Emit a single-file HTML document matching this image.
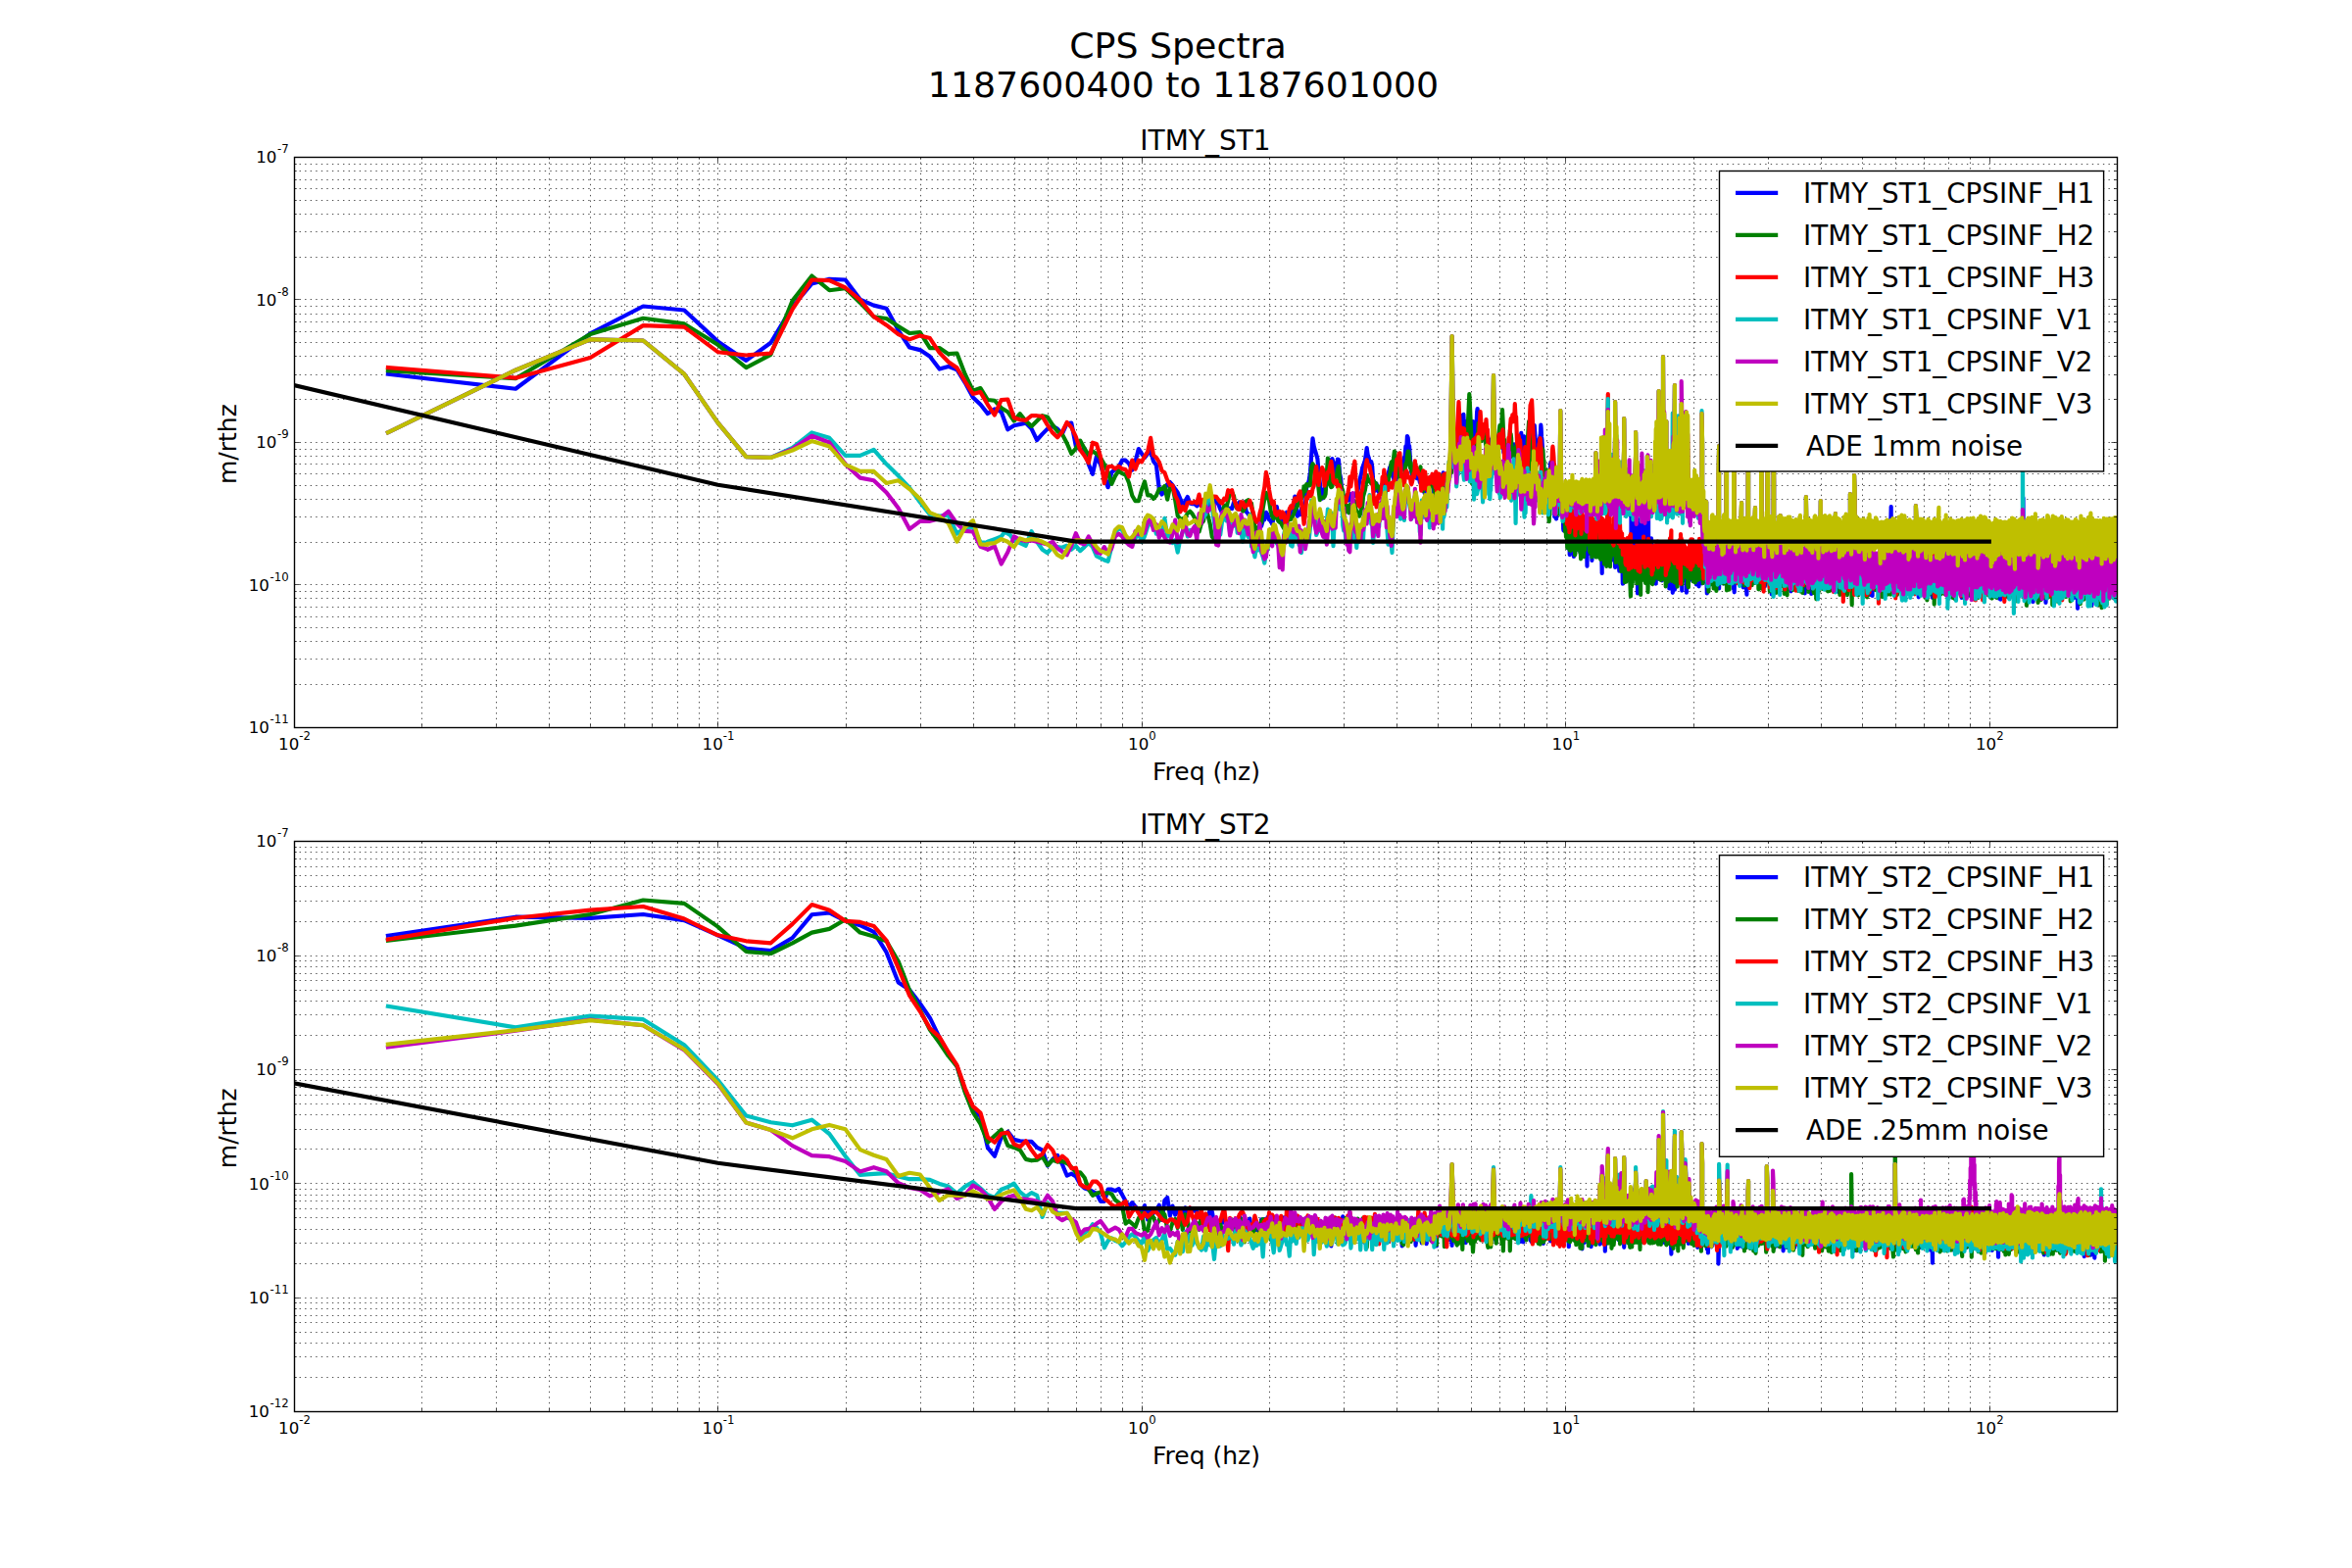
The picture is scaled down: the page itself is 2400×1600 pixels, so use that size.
<!DOCTYPE html>
<html><head><meta charset="utf-8"><title>CPS Spectra</title>
<style>html,body{margin:0;padding:0;background:#fff}svg{display:block}text{font-family:'DejaVu Sans','Liberation Sans',sans-serif;fill:#000}.g{stroke:#000;stroke-width:.69;stroke-dasharray:1.39 4.17;fill:none}.t{stroke:#000;stroke-width:.69;fill:none}.c{fill:none;stroke-width:4.17;stroke-linejoin:round;stroke-linecap:square}.tk{font-size:16.67px}.sp{font-size:11.67px}.lg{font-size:27.78px}</style></head><body>
<svg width="2400" height="1600" viewBox="0 0 2400 1600">
<rect width="2400" height="1600" fill="#fff"/>
<defs><clipPath id="c1"><rect x="300" y="160" width="1860" height="581.82"/></clipPath><clipPath id="c2"><rect x="300" y="858.18" width="1860" height="581.82"/></clipPath></defs>
<text x="1202" y="59.2" text-anchor="middle" font-size="36.3px">CPS Spectra</text>
<text x="1207.5" y="99.3" text-anchor="middle" font-size="36.3px">1187600400 to 1187601000</text>
<path class="g" d="M430.5 160V741.82M506.5 160V741.82M560.5 160V741.82M602.5 160V741.82M637.5 160V741.82M665.5 160V741.82M691.5 160V741.82M713.5 160V741.82M732.5 160V741.82M863.5 160V741.82M939.5 160V741.82M993.5 160V741.82M1035.5 160V741.82M1069.5 160V741.82M1098.5 160V741.82M1123.5 160V741.82M1145.5 160V741.82M1165.5 160V741.82M1295.5 160V741.82M1371.5 160V741.82M1425.5 160V741.82M1467.5 160V741.82M1501.5 160V741.82M1530.5 160V741.82M1555.5 160V741.82M1578.5 160V741.82M1597.5 160V741.82M1728.5 160V741.82M1804.5 160V741.82M1858.5 160V741.82M1900.5 160V741.82M1934.5 160V741.82M1963.5 160V741.82M1988.5 160V741.82M2010.5 160V741.82M2030.5 160V741.82M300 698.5H2160M300 672.5H2160M300 654.5H2160M300 640.5H2160M300 629.5H2160M300 619.5H2160M300 610.5H2160M300 603.5H2160M300 596.5H2160M300 553.5H2160M300 527.5H2160M300 509.5H2160M300 495.5H2160M300 483.5H2160M300 473.5H2160M300 465.5H2160M300 458.5H2160M300 451.5H2160M300 407.5H2160M300 382.5H2160M300 363.5H2160M300 349.5H2160M300 338.5H2160M300 328.5H2160M300 320.5H2160M300 312.5H2160M300 305.5H2160M300 262.5H2160M300 236.5H2160M300 218.5H2160M300 204.5H2160M300 192.5H2160M300 183.5H2160M300 174.5H2160M300 167.5H2160"/>
<g clip-path="url(#c1)">
<path class="c" stroke="#0000ff" d="M395.9 381.7l130.2 15l76.2 -56.3l54 -27.9l41.9 4l34.3 31.9l28.9 19.5l25.1 -18.1l22.1 -36.9l19.8 -23.4l17.9 -4.7l16.3 .7l15.1 20.1l13.9 6l12.9 3.1l12.2 22.4l11.4 17.4l10.7 2.6l10.1 6.7l9.7 12.8l9.1 -2.7l8.8 3.3l8.3 13.4l8 14.8l7.7 7.3l7.4 9.4l7 -4.7l6.8 2.8l6.6 18.1l6.4 -4.1l6.1 -1.3l5.9 -1.3l5.9 6l5.5 11.4l5.5 -6.1l5.2 -5.3l5.3 -2.7l4.9 2.7l4.8 5.3l4.9 -10.7l4.6 -.6l4.5 23.4l4.4 4l4.4 -1.3l4.2 16l4.1 10.1l4 -18.1l4 8l3.9 13.4l3.8 10.1l3.7 -15.4l3.6 -2.7l3.7 -2.7l3.4 -6.7l3.5 0l3.5 3.4l3.3 6.5l3.2 -8.4l3.3 -13.2l3.1 4.7l3.1 4.4l3.1 -4.2l3 -2.8l2.9 10.6l2.9 3.9l2.9 24.3l2.8 5.6l2.8 -5.6l2.8 -4.8l2.7 -2.1l2.6 3.1l2.7 4l2.5 3.4l2.6 6.2l2.5 7.5l2.5 -4.8l2.5 -4.4l2.4 6.5l2.4 .7l2.3 0l2.4 2.1l2.3 -1.9l2.3 -.7l2.2 0l2.2 3.5l2.2 1.5l2.2 -6.4l2.1 -5l2.2 1.8l2.1 4.4l2 .3l2.1 5.7l2 4.5l2 -1l2 -3.8l2 1.5l1.9 -2.2l2 .6l1.9 -6.5l1.8 2.6l1.9 .2l1.9 -2.9l1.8 3.7l1.8 -.6l1.8 -3.1l1.8 9.9l1.8 1.8l1.7 2.9l1.7 4.3l1.7 7.4l1.7 -1.2l1.7 10.3l1.7 -3.3l1.7 -10.5l1.6 2.9l1.6 -5.8l1.6 -.8l1.6 -7.6l1.6 2.1l1.6 5.6l1.5 .8l1.6 3.5l1.5 -7.1l1.5 -3.2l1.6 -7.4l1.5 9.6l1.4 3.3l1.5 -1.7l1.5 2.1l1.4 1.5l1.5 1.3l1.4 -10.5l1.4 7.1l1.4 -1.6l1.4 -2l1.4 -9.4l1.4 -1l1.3 -9.2l1.4 11.6l1.3 8.4l1.4 -2.6l1.3 1l1.3 -6.3l1.3 1.4l1.3 .6l1.3 -5.1l1.3 -18.4l1.3 -3.4l1.2 -3.2l1.3 -8.9l1.2 -17.2l1.3 -17.1l1.2 7.9l1.2 4.2l1.3 4.4l1.2 4.2l1.2 14l1.2 10.4l1.1 9.3l1.2 6.9l1.2 -7.8l1.2 -2.3l1.1 .5l1.2 -10.4l1.1 -10.5l1.1 1.7l1.2 -9.1l1.1 -1.5l1.1 -1.2l1.1 3.5l1.1 1.9l1.1 9.7l1.1 -.4l1.1 -14.2l1.1 .6l1 13.6l1.1 5.4l1 11.4l1.1 4.7l1 2.3l1.1 3.4l1 -2.5l1 3.4l1.1 -3.3l1 2.9l1 -6.7l1 1.1l1 5.2l1 -5.7l1 2l1 -1.7l1 .9l.9 -3.1l1 -.8l1 -4.9l.9 -5.6l1 -4.3l.9 -3.4l1 -6l.9 -2.3l1 -2.7l.9 -3l.9 -5.8l.9 -6.7l1 7.2l.9 2.6l.9 4.2l.9 .1l.9 -.1l.9 5l.9 13.5l.9 1.5l.9 6.9l.8 2.7l.9 -7.1l.9 5.3l.9 2l.8 1.8l.9 -.7l.8 -1.7l.9 -.7l.8 -5.6l.9 3.3l.8 -2.3l.9 .1l.8 -4.7l.8 .3l.8 -2.3l.9 -4.5l.8 -2.9l.8 -3.6l.8 -1.8l.8 3.6l.8 1.8l.8 5.4l.8 1.6l.8 4.4l.8 -5.7l.8 5.1l.8 -6.5l.8 -1.5l.7 .1l.8 -2.7l.8 1.1l.7 -4.2l.8 -3l.8 -.8l.7 4.9l.8 -5.3l.7 -6.9l.8 -1.7l.7 -9.9l.8 4.8l.7 -15.1l.8 1.7l.7 7.3l.7 1.1l.8 12.3l.7 9.1l.7 5.4l.7 2.6l.7 2.4l.8 -2.1l.7 .9l.7 -1.1l.7 2.6l.7 -4.5l.7 5.5l.7 -3.5l.7 -1.5l.7 4.7l.7 4.2l.7 -1.9l.7 6.5l.6 -.4l.7 -3.5l.7 -.7l.7 5.5l.7 5.6l.6 -15l.7 4.9l.7 1.4l.6 -2.6l.7 3.5l.6 -6.1l.7 13.1l.7 -8.6l.6 -7l.7 8.2l.6 -8.1l.7 -.7l.6 1.6l.6 -.4l.7 18.9l.6 -17.9l.7 1.3l.6 -6.6l.6 5.7l.7 10.7l.6 -10l.6 -1.5l.6 16.5l.7 -14.7l.6 .5l.6 -1.8l.6 -4l.6 4.9l.6 8.5l.6 -15.5l.6 10.3l.6 1.2l.6 1.1l.6 6.3l.6 -7.4l.6 -3.3l.6 -4.8l.6 -3.9l.6 8.2l.6 -8.9l.6 6.3l.6 -15.2l.6 -7l.6 .2l.5 -.3l.6 -4.8l.6 -2.8l.6 6.4l.5 -10.5l.6 18.7l.6 -11.1l.6 -7.1l.5 -8.6l.6 -1.8l.5 -3.4l.6 -1.9l.6 -2.4l.5 4.5l.6 1.6l.5 8.4l.6 -15.1l.5 -3.8l.6 -.4l.5 -.3l.6 -7.7l.5 -.2l.6 13.7l.5 -7.1l.6 2.9l.5 7.3l.5 -2.5l.6 -2.4l.5 .7l.5 -1l.6 5.7l.5 -5.5l.5 4.7l.6 7.7l.5 .1l.5 1.2l.5 .8l.5 -6.4l.6 -6.4l.5 -6.4l.5 6.3l.5 6.4l.5 6.3l.5 23.9l.6 -8.6l.5 -16.8l.5 -13.4l.5 -13.6l.5 -3.4l.5 4.4l.5 3l.5 1.8l.5 3.3l.5 1.3l.5 7l.5 -2.2l.5 .3l.5 11.8l.5 .3l.5 .1l.4 -5l.5 4.6l.5 0l.5 -10.7l.5 4.8l.5 -2.4l.5 9.3l.4 1.7l.5 6.5l.5 -4.1l.5 6.6l.4 6l.5 -4.4l.5 -7.2l.5 2.4l.4 -3.6l.5 4.1l.5 -6.5l.4 -2.8l.5 0l.5 -3.5l.4 2.1l.5 6.7l.5 .6l.4 4l.5 4.1l.4 2.3l.5 5.2l.5 3l.4 -3.8l.5 1.4l.4 -12.3l.5 -3.7l.4 0l.5 -8.1l.4 1.9l.5 -6.1l.4 -.8l.5 4.2l.4 .7l.5 5.8l.4 -.1l.4 5.7l.5 -6.2l.4 .5l.5 10.8l.4 -3.3l.4 -4.4l.5 4.7l.4 4.8l.4 1.5l.5 -2.6l.4 -1.3l.4 5.5l.5 1.5l.4 -11l.4 -3.5l.4 1.3l.5 -1l.4 -5.5l.4 7.9l.4 -2.3l.5 2.6l.4 6.3l.4 -8l.4 3.9l.4 -2.1l.5 2l.4 -5.6l.4 5.4l.4 11.6l.4 1.2l.4 .9l.4 -6.1l.4 .3l.5 8.1l.4 7.9l.4 3.5l.4 3.2l.4 -7.7l.4 1.3l.4 -6.7l.4 -7.4l.4 .2l.4 -12l.4 -9.5l.4 4.4l.4 -5.7l.4 -4.4l.4 5.7l.4 -.3l.4 11.5l.4 -8l.4 2.4l.4 -.4l.4 -7.4l.4 4.7l.3 -4.2l.4 5l.4 -.3l.4 5.6l.4 2.7l.4 2.6l.4 3l.4 -5.2l.3 6l.4 7.6l.4 -5.2l.4 -11.5l.4 7.1l.4 5l.3 21.9l.4 -2.5l.4 2.3l.4 3.1l.3 8l.4 -4.4l.4 1.2l.4 2l.3 -43.6l.4 -5.3l.4 -5.5l.4 -5.6l.3 -5.8l.4 5.9l.4 6l.3 6.1l.4 6.3l.4 5.9l.3 2.2l.4 -.2l.4 -3.5l.3 1.7l.4 -2.8l.4 -7.8l.3 6.8l.4 -4.8l.3 -8.2l.4 .2l.4 -3.5l.3 -1.4l.4 -9.3l.3 3.1l.4 8.7l.4 3.1l.3 4.8l.4 6.3l.3 14.5l.4 1.5l.3 6.1l.4 -1.7l.3 3.6l.4 .3l.3 3.9l.4 -2l.3 .4l.4 -1.2l.3 8.8l.4 2.9l.3 -.4l.4 .7l.3 -4.7l.4 -7.9l.3 4.1l.3 -4.7l.4 1.7l.3 -3.8l.4 2.1l.3 -1.5l.3 -8.3l.4 -2.4l.3 5.6l.4 1.9l.3 3.4l.3 .5l.4 -5.7l.3 17.1l.3 -2.4l.4 16.2l.3 -2.1l.3 13.7l.4 -1.8l.3 9.5l.3 -7l.4 4.9l.3 1.1l.3 1.1l.4 1.9l.3 -9.6l.3 -9.2l.3 3.8l.4 -6.7l.3 2.5l.3 -6.1l.3 -5.8l.4 11.9l.3 -2.2l.3 6.6l.3 -2.5l.4 8.8l.3 -10.1l.3 3.7l.3 -8.9l.3 8.6l.4 6.6l.3 -4.2l.3 5.3l.3 2.6l.3 -4.6l.4 19.7l.3 1.6l.3 -11l.3 -5.2l.3 6.2l.3 -6.1l.4 8.8l.3 3.3l.3 -6l.3 4.6l.3 3.1l.3 -10.9l.3 13.3l.3 -1.2l.3 2.5l.4 16.8l.3 -1.7l.3 -.4l.3 -9l.3 -4.7l.3 -5.6l.3 28l.3 -15.8l.3 -16.7l.3 -2l.3 10.7l.3 -10.2l.3 20.1l.3 7.7l.3 -10.4l.3 -3.4l.3 -6.6l.3 2.9l.3 3.8l.3 2.5l.3 19.3l.3 -19.3l.3 12.7l.3 -5.1l.3 -1.9l.3 -11.1l.3 .8l.3 4.9l.3 12.5l.3 -12.4l.3 -9.3l.3 3.9l.3 1l.3 8.4l.3 3.1l.3 -9l.3 -6.2l.2 10.8l.3 -5.3l.3 -5.7l.3 15.7l.3 -3.9l.3 10.7l.3 -5l.3 8.8l.3 -15l.2 -9.1l.3 4.2l.3 2.4l.3 -2.1l.3 15.2l.3 -3.2l.3 -11.3l.2 8.2l.3 -.1l.3 -3.4l.3 5.8l.3 -7.5l.3 -14.8l.2 14.6l.3 3.8l.3 -6.9l.3 1.3l.3 19l.2 -31.7l.3 16.3l.3 10.1l.3 14.8l.3 -31.5l.2 .9l.3 -10.7l.3 27.6l.3 -21.3l.2 2.6l.3 17.3l.6 -20.6v20.7l.8 -13.8v16.2l.8 -11.5v-4.5l.8 1.5v21.3l.8 -19.6v5.1l.8 -16.2v15.5l.9 -8.1v13.9l.8 -10.2v7.8l.7 -19v11.9l.8 .1v13l.8 -16.2v10l.8 -2v-9.6l.8 12.3v4.4l.8 -14.6v12.5l.8 -13.3v17l.7 -8.2v-9.9l.8 36.5v-34l.8 -4.8v4l.7 10.4v-7.2l.8 -.8v6.3l.8 3.7v-5.8l.7 -.3v13.2l.8 -14v11.3l.7 -6.7v-12.4l.8 14.6v-18.3l.7 10.1v-8.6l.8 22.4v-12.9l.7 5.1v12.8l.7 -2.8v-7l.8 -21.4v21.9l.7 -3.1v10.6l.7 -2.6v-13l.7 -3.1v8.9l.8 4.9v-13.3l.7 25.9v-33.9l.7 14.2v-5.2l.7 16.6v-14.8l.7 15.6v-20.6l.7 10.7v-10l.7 18.4v-5.2l.7 17.8v-20.2l.7 -1.6v12l.7 7v-10.7l.7 2.8v5l.7 5.6v-22.6l.7 35.8v-31.4l.7 24.6v-21.3l.7 4.1v-4.6l.7 16.5v-5.6l.6 7.8v-9.6l.7 -4.9v7.8l.7 1.9v-9.7l.7 3.7v-6.6l.6 15v-14.7l.7 9v14.6l.7 -10.1v-20.4l.6 19.4v-11.7l.7 17.5v-14.1l.6 6.4v-76.1l.7 87.3v-15.9l.6 11.5v-16.5l.7 -28.7v31.8l.6 2v-1.3l.7 7.4v-12.9l.6 -.1v21.6l.7 -89.8v73l.6 7.4v-18.5l.7 11.2v-42.6l.6 21.2v54.2l.6 -21v-54.4l.7 46.3v-4.4l.6 -16.9v29.4l.6 -11.2v-29.1l.6 30.5v-5.8l.7 2.8v-53.9l.6 67.1v-62.5l.6 53.7v-14.2l.6 3.7v22.6l.6 -18.3v11.3l.6 -6.9v3l.7 -14.6v12.9l.6 -51.9v45.1l.6 .6v1.9l.6 .3v15.5l.6 -12.6v-13.7l.6 26.7v-30.1l.6 -48.3v76.9l.6 -12v7.5l.6 -32.5v30.8l.6 -6.9v4.9l.6 -21.4v24.4l.5 -31.5v32.1l.6 -14v7.2l.6 .1v-10l.6 28.7v-25.4l.6 20v-10.7l.6 3.7v-13.1l.5 12.6v-14.1l.6 7.4v-2.9l.6 24.7v-27.4l.6 15.4v-13l.5 -.2v11l.6 7.1v-14.2l.6 12.1v4l.6 -16.3v-8.3l.5 23v-11.3l.6 0v13.7l.5 -9v6.9l.6 1.8v-11.7l.6 4v-16.8l.5 4.8v21.2l.6 -23v22l.5 -25.2v23.4l.6 -8.3v-17.3l.6 5.5v16.6l.7 -2.9v-6.6l.8 9.6v-16.3l.7 16.7v-16.5l.7 11.5v9.8l.7 2.5v-13.9l.8 12v-19.6l.7 -1.8v29.9l.7 -24.4v-2.3l.7 17.2v-19.8l.7 -3.8v18.7l.7 -11.3v17.7l.7 -14.3v26.6l.7 -41.7v18.1l.7 9.2v-20.3l.7 31.6v-27.5l.7 21.3v-26.5l.7 20.5v-18.2l.6 9.6v-5.7l.7 2.1v-7.6l.7 1.6v12l.7 .8v-22.8l.7 8.1v24.3l.6 .8v-23.8l.7 12v-13.6l.7 23.6v-25.7l.6 35.6v-28.3l.7 -12.9v30.8l.7 -10.1v-11.1l.6 15.7v-11.9l.7 8.6v-14.7l.6 23.8v-32.4l.7 21.4v-17.5l.6 9v31.7l.7 -20.6v-8.9l.6 10.9v-11.8l.7 -6.3v22l.6 -23.2v25.2l.6 -13.6v-7l.7 13.6v-2.3l.6 -15.5v20.5l.7 -13.6v13.9l.6 -10.6v9.7l.6 -10.3v16.1l.6 -5.6v-26.4l.7 8.7v21.4l.6 -10.1v7.3l.6 -21.1v24l.6 .9v-18.2l.6 -3.1v25.7l.6 -16.3v-4l.7 -6.5v13.9l.6 -12.3v11.1l.6 -9.4v25.4l.6 -16.6v-18.6l.6 6.6v16.1l.6 -22.7v18.5l.6 -1.1v-7.6l.6 22.4v-37.1l.6 10.1v21.3l.6 -15.7v5.2l.6 -1.1v6.1l.6 4.2v-12.1l.5 -6.8v19.9l.6 4.1v-18.9l.6 10.5v-15.8l.6 11.1v-4.2l.6 29.4v-26.7l.6 -12.5v24.2l.5 -6.2v-25.4l.6 12.7v10.9l.6 -7.7v12.6l.6 -18v21.1l.5 -2.5v-24.3l.6 -.5v19.6l.6 7.3v-16.1l.5 15.7v-23.1l.6 27.8v-13.7l.6 -11.2v6.7l.5 16.4v-17.1l.6 12.8v-19l.5 30.4v-34.7l.6 22.4v-11.4l.5 1.2v-9.7l.6 8.1v12.6l.6 -20v15.5l.7 1.6v-14l.7 7.7v-4.2l.7 -7.7v33.4l.6 -30.4v10.8l.7 11.1v-26.1l.7 27.6v-21.1l.7 -2.5v14.6l.6 -16.4v12.9l.7 -21v29.5l.7 6v-26.7l.6 -.3v12l.7 -12.4v21.5l.6 -14.1v14.6l.7 -6.3v-7.5l.6 -14.4v23.2l.7 -9.2v6l.6 3.2v-14.2l.7 10.3v-13.7l.6 7.2v8.2l.7 10.7v-23.5l.6 10.5v-8.4l.7 -1.4v5.7l.6 8.1v-6.9l.6 7.4v-17.7l.7 11.5v-14l.6 6.2v30.1l.6 -28v31.1l.6 -29.2v13.8l.7 -7v-16l.6 -7.5v18.9l.6 -16.7v22.9l.6 2.7v-31.9l.6 17.1v15.1l.6 -12.4v20l.6 -11.3v-13.2l.6 -.2v15.1l.7 -18v20.7l.6 -22.3v13.8l.6 12.2v-10.1l.6 -9.8v19.4l.6 1.7v-12.3l.6 19.6v-30.1l.6 22.5v-12.7l.5 9.6v-14.6l.6 -15.4v25.9l.6 -16.2v24.2l.6 -23.7v25.9l.6 11.9v-40.1l.6 5.7v13.9l.6 -5.8v-10l.5 9.2v-12.6l.6 -1.3v11.4l.6 9.2v-23l.6 10.5v16.9l.5 -16.6v16.9l.6 -2.5v-15.5l.6 11.8v-13.7l.6 -3.8v23.1l.5 .9v-17.9l.6 3.5v8l.5 -14.5v20.1l.6 -20.5v19.4l.6 -27.5v26.4l.5 -26v31.4l.6 -1.2v-16.3l.5 16.4v-18.7l.6 -.3v17.1l.6 -4v-15.2l.6 18.2v-14.2l.7 -9.2v16.2l.7 -.6v-12.1l.6 24.9v-26.7l.7 -3v19.5l.6 .7v-20.3l.7 10.1v9.1l.6 1.7v-23.8l.6 24.2v-8l.7 11.2v-13.7l.6 22.6v-29.4l.6 6.6v10.9l.7 -21v27.6l.6 -4.6v-15.9l.6 15.2v-24.2l.7 16.9v-13.5l.6 -2.5v21.7l.6 8.5v-19.3l.6 22.7v-30.1l.6 6.9v4.5l.7 14v-17.5l.6 30.7v-41.4l.6 21.8v-19.1l.6 6.3v10.6l.6 21.7v-37.4l.6 6.7v14.2l.6 4.7v-14.8l.6 -7.9v14.9l.6 -17.5v12.6l.6 -9.9v20.3l.6 -3.7v-24.4l.6 11.2v16.4l.6 -3.3v-12.4l.6 14.5v-14.9l.6 15.8v-15.4l.6 13.4v-16.6l.5 16.8v-20.5l.6 17.7v-19l.6 23.2v-20.7l.6 23.6v-22.7l.6 2.1v8.8l.5 12.1v-23.4l.6 20.3v-30.5l.6 38.3v-28.3l.6 -4.7v14.3l.5 -4.3v9.7l.6 -1.8v-10.9l.6 29.6v-30.1l.5 26v-24.8l.6 14.4v-16.4l.5 15.5v-18.8l.6 17v-15.4l.6 4v22.2l.5 -8.7v-14.7l.6 -.6v15.5l.5 15.6v-33.8l.6 11.8v-19l.7 11.1v14.7l.6 -15.9v14.9l.6 -26.4v24.9l.7 -14.8v27l.6 -7.6v-9.9l.6 -7.5v22.3l.7 -5.5v-20.7l.6 2.3v17.1l.6 -11.7v13.8l.6 .2v-17.7l.6 -4.8v15.9l.7 3.4v-19.7l.6 19v-14l.6 -4v24l.6 -23.2v12.7l.6 3v-17.9l.6 12.5v12.7l.6 -22.7v19.5l.6 -3.9v-13l.6 15.2v-17.5l.6 .6v17.7l.6 -11v28l.6 -13v-14.8l.6 11.4v-18.5l.6 -2v25.2l.6 -5.7v-20.2l.6 27.3v-19.2l.6 7.8v-21.6l.6 11.2v17.7l.5 -24.3v14.4l.6 -9.2v11.6l.6 -20.2v28.9l.6 13.7v-41.5l.6 28v-26l.5 24.7v-17.7l.6 9.3v-14.3l.6 10v15.2l.5 -7.4v-12.7l.6 -8.5v24l.6 -14.6v15.9l.5 -18v20.5l.6 -7.7v-8.6l.6 27v-29l.5 10.7v-21.2l.6 29.4v-28.1l.5 27.1v-16l.6 15.1v-20.3l.5 -1.7v15.3l.6 14.4v-30.4l.6 15.4v-16l.7 4.2v18.4l.6 -17v21.5l.6 -4.2v-20.2l.6 15.6v-15.9l.6 16.9v-12.8l.7 11v-13.2l.6 -1.5v17.9l.6 .2v-19.2l.6 4.5v22.2l.6 -12.6v-16.7l.6 11v15.9l.6 -16v18l.6 -20.2v10.1l.6 -11.6v13.3l.6 -16.5v22.5l.6 -18.9v16.8l.6 9.3v-30.6l.6 21v-27.7l.6 35.6v-20.2l.6 -7.4v27.7l.5 -27.6v17.6l.6 0v-20.7l.6 23.4v-19.4l.6 19.6v-24.2l.6 35.4v-36l.5 25.5v-28.1l.6 21.8v-11.5l.6 24.7v-25l.6 -9.4v26l.5 -20.2v15.7l.6 -19.3v36.5l.6 -31v11.5l.5 18.1v-31.3l.6 26.1v-27.5l.6 -.5v21.3l.5 -.9v-17.1l.6 18.3v-15.9l.5 19.2v-22.2l.6 23.6v-27.8l.5 26.9v-22.7l.6 2v9.5l.6 -23.8v29.9l.6 6.9v-27l.6 19.3v-23.5l.6 31.4v-24.4l.6 -.9v22.2l.6 2.4v-21.9l.6 -11.5v28.3l.6 .6v-17.1l.6 11v-15.8l.6 -.7v19.3l.6 4.3v-25.8l.6 18.5v-13.5l.6 30.1v-33.4l.6 5.3v26.8l.6 -36.1v30.5l.6 -26.8v25.8l.6 -24.7v28.4l.6 -34.6v33l.6 -5.8v-18l.6 -1.2v25.9l.5 -6.3v-30.6l.6 37.1v-31.4l.6 31.9v-30.4l.6 -3.4v30.3l.5 -22v21.2l.6 -19.3v19l.6 -27.1v25l.5 -20.3v24l.6 1.9v-25.4l.6 15.3v-23.4l.5 13.9v12.3l.6 -19.2v16.1l.6 -20.5v20l.5 -7.3v14.2l.6 8.4v-35.1l.5 36.6v-35.8l.6 6.7v16.1l.5 -10.5v21.6l.6 -27.5v25.4l.6 -26.1v17.6l.6 -19.1v25l.6 -22.9v28.1l.6 -16.9v-15.7l.6 3.9v16l.6 -17.2v35.6l.6 -32.3v19.1l.6 -22.5v22.8l.6 -26.1v29.3l.6 10.6v-39l.6 5.8v22l.6 .9v-25.5l.6 23.7v-23.5l.6 18.5v-20l.5 4.3v13.2l.6 1v-14.2l.6 .6v20.6l.6 -28.8v29l.6 -3.8v-16.2l.5 13v-19.9l.6 2v24.1l.6 -25.7v24.7l.5 -14v17l.6 -2.1v-22.8l.6 -1.2v24l.5 -1.3v-24.8l.6 33.7v-29.1l.5 18.5v-23.1l.6 .6v19.1l.6 13.7v-28.3l.5 -10.3v29.4l.6 -3.7v-17.5l.5 26.6v-25.6l.6 -6.1v26.4l.6 -1.7v-14.9l.6 12.9v-20.5l.6 1.3v26l.6 4v-26.5l.6 -8.2v28.7l.6 -27.2v24.6l.6 -2.3v-21.7l.6 33.1v-58.5l.6 -25.9v76.8l.5 8.4v-29.1l.6 22.6v-21.4l.6 -.5v16.9l.6 3v-16.5l.6 15.3v-24.1l.5 1.2v34.4l.6 -7.9v-25l.6 -3.2v30.1l.6 -2.6v-27.4l.5 29.2v-24.9l.6 -5.8v28.5l.6 -28.2v26.7l.5 -30v34.7l.6 1.8v-34.9l.6 38v-29.8l.5 4.8v13l.6 -15v25.1l.5 -26.6v27.4l.6 -29.2v21.7l.5 -27.8v33.8l.6 -25.8v18.8l.6 7.9v-25.8l.6 25.5v-23.7l.6 14.9v-19.6l.6 18.7v-20.1l.6 18.2v-19.3l.5 2.1v18.8l.6 -15.5v22.3l.6 -5.4v-18.9l.6 25.4v-25.8l.6 -5.2v36.9l.6 -40.8v29.7l.5 -.6v-23.4l.6 25.1v-26.2l.6 34v-28.8l.6 -3.5v35.2l.5 -17.5v-17.1l.6 -3.2v21.6l.6 -13.9v25.5l.6 -2.9v-30.3l.5 37.4v-41.9l.6 5.7v32.1l.5 -9.3v-19.1l.6 -1.1v26.9l.6 -24.9v23.8l.5 -27.7v32.2l.6 -31v25.8l.5 -5.1v-13.6l.6 -7.7v39l.6 -11.1v-26l.6 24.8v-26.3l.5 31.2v-28.1l.6 16.7v-23.5l.6 22.5v-21.1l.6 7.3v19.7l.6 -3.8v-23.3l.6 28.4v-21.7l.6 -4.5v26.5l.5 -6.3v-17.5l.6 -1.1v30.2l.6 -8.6v-19.6l.6 -4.4v20.2l.5 9.3v-25.6l.6 13.7v-18.7l.6 31.4v-28.8l.6 .9v22.3l.5 -20.9v21.3l.6 6.6v-31.7l.5 36.3v-32.1l.6 1.9v22.2l.6 -29.8v20l.5 11.3v-23.6l.6 16.9v-16.6l.5 33.8v-36.7l.6 -1.1v29.6l.5 -34.4v25.9l.6 11.9v-28.1l.6 21.9v-31l.6 1.7v22.9l.6 9.5v-33.8l.6 5.1v28.8l.5 -24.4v21.8l.6 5.1v-31.5l.6 -5.4v21.3l.6 -18.6v27.8l.6 -27.4v33l.5 -7.9v-27.5l.6 -5v40.3l.6 -30.8v24.1l.5 -24.4v29l.6 -30.4v20.4l.6 3.7v-25.3l.5 4.9v26.9l.6 -4v-24.1l.6 -3.8v24.7l.5 2.6v-23.2l.6 -7.4v32.5l.5 -2.4v-26.3l.6 .3v30.9l.5 -29v19.9l.6 7.6v-27.3l.6 .6v23.8l.6 4v-35.6l.6 9v19.5l.5 -22.5v26.2l.6 1.1v-29.7l.6 -2.1v25.6l.6 -17.9v23.7l.5 -8.6v-15.4l.6 23.6v-21.5l.6 20.5v-22.9l.6 35.9v-44.2l.5 33.2v-27.8l.6 25v-27.2l.6 29.1v-28.9l.5 35.5v-31l.6 32.2v-31.1l.5 22.6v-22.4l.6 14.9v-16.7l.6 4.9v19.5l.5 1.5v-22.2l.6 13.8v-20l.5 27.6v-22.1l.6 -7.6v26.2l.6 -19.4v20.1l.6 14.3v-39.2l.5 .8v22.7l.6 .9v-20.9l.6 23.2v-34.4l.6 13.3v21.2l.5 -30.7v37.5l.6 -28.4v19.4l.6 -22.7v36.5l.6 -46v37.9l.5 -25.7v28.8l.6 1.2v-32.7l.5 23.8v-22.4l.6 25.2v-27.5l.6 27.2v-30.5l.5 30.2v-31.3l.6 40.6v-35.6l.5 5.7v18.5l.6 -23.2v20.6l.5 2.6v-20l.6 16.7v-22.8l.6 4.7v22.2l.6 -2.2v-25.1l.6 .6v32.5l.5 -21.6v19.6l.6 -4.3v-24.3l.6 -6.1v34.7l.6 -4.1v-21.8l.5 30.6v-25.7l.6 -8.9v26.7l.6 .1v-26.3l.5 -1.9v29.8l.6 1.3v-28l.6 -6.1v24.6l.5 -17.3v26.9l.6 -.9v-23.2l.5 -1.7v27.9l.6 -30.6v29.4l.5 -25.9v20.6l.6 -23.6v29.8l.6 6.1v-36.3l.5 1.7v20.9l.6 -23.7v30.1l.6 -30.6v19.1l.6 10.4v-30.1l.5 27.6v-25.9l.6 26.6v-26.7l.6 31v-30.6l.6 .5v32.4l.5 -.2v-40.8l.6 4.8v26l.6 -24.1v20.8l.5 -16.8v25l.6 8.2v-40.3l.5 34.2v-28.8l.6 26v-30.1l.5 27.8v-30.5l.6 8.3v21.2l.6 -5.2v-17l.5 27.4v-32.9l.6 8.6v27.1l.6 -32.6v28.3l.5 -1.7v-23.9l.6 -.3v25.1l.6 3.1v-32.2l.6 25.6v-24.9l.5 2.3v29.1l.6 -29.1v33.7l.6 -4v-32.2l.5 2v38.5l.6 -13.8v-25l.6 39.6v-38.1l.5 .9v19.7l.6 9.2v-30.7l.5 20.6v-16.5l.6 23v-25.9l.5 22.3v-26.6l.6 7.4v19.8l.6 -30.8v32.1l.5 -24.7v32.5l.6 -3.7v-31.1l.6 23.1v-20.8l.6 .9v26.8l.5 -4.7v-30l.6 5.5v27.5l.6 -22v16l.5 16.4v-39.9l.6 -2.9v39.1l.5 -30.3v26.8l.6 2.8v-32.3l.6 24.8v-27.8l.5 35.4v-32.5l.6 34.1v-36.5l.5 -4.6v36.9l.6 -2.2v-30.7l.6 27v-23.3l.5 26v-26.7l.6 -3.4v35.3l.6 -34.3v29.6l.6 -2.1v-31.2l.5 34.6v-27.8l.6 24v-28l.5 31.3v-26.7l.6 25.2v-32.7l.6 31.2v-26.7l.5 .1v34.9l.6 -33.9v30.2l.5 -10v-18.3l.6 -7.3v31.7l.6 -30.8v36.2l.5 -33.4v30.2l.6 6.8v-29.8l.6 22.2v-92.1l.5 90v-24.6l.6 25.4v-26.2l.6 -1.4v29.4l.5 -28.2v23.1l.6 -20.7v28.8l.6 -2.3v-25.2l.5 -1.4v24.2l.6 2.4v-25.9l.5 24.4v-29.5l.6 27.8v-23.4l.6 21.4v-23l.5 21.9v-19.7l.6 -7.9v35.2l.5 -34v29.3l.6 2.1v-28.9l.6 -1.5v35.3l.5 -9v-23.2l.6 41.4v-36.4l.6 -7.2v31.4l.5 -3.8v-28.3l.6 35.4v-32.5l.6 34.2v-35l.5 .2v36.8l.6 -37.2v27.3l.5 -22.1v28.6l.6 -10.9v-24l.5 8.2v17.5l.6 -25.6v37.4l.6 -13.9v-17.8l.5 -1.3v23.9l.6 -29.8v39.5l.6 -35.1v34.7l.5 3.2v-39.4l.6 21.9v-29.3l.6 35.5v-29.1l.5 28.4v-30l.6 33v-31.8l.5 -5.6v25.1l.6 11.5v-27.1l.6 -3.2v22.6l.5 -25.2v46.2l.6 -14.8v-26.3l.5 -1.5v31.8l.6 -34.3v31.3l.6 -30.2v34.3l.5 -33.1v32.2l.6 -41.6v41.2l.6 -35.6v32.6l.5 -29.2v24.5l.6 -26.1v33.9l.5 -32.9v27.2l.6 2.1v-23.4l.6 -4.6v28.1l.5 -26.3v23.2l.6 -27.2v27.8l.5 13v-39.5l.6 -1.3v32.6l.5 .5v-34.2l.6 30.5v-24.9l.6 -3.5v24.8l.5 -21.9v23l.6 1.7v-25.7l.6 -4.9v27.9l.5 11.4v-39.4l.6 .9v36.7l.5 -3.4v-35.8l.6 34.3v-28.2l.6 28.5v-28.5l.5 22.6v-26.7l.6 28.1v-28.4l.5 32.5v-32.8l.6 39.7v-34.4l.6 28.7v-31.2l.5 -6.4v42.5l.6 -3.8v-31.1l.6 -6.4v31.2l.5 5.9v-31.8l.6 31.6v-26.3l.5 28.6v-30.9l.6 30.8v-36.8l.5 -.5v28.4l.6 4.1v-31.5l.5 3.6v27l.6 -27.6v29.4l.6 -26v24.8l.5 3.4v-31l.6 26.9v-23.3l.6 -9.7v31.1l.5 -20.9v21.4l.6 -2.7v-26l.5 29.8v-31.2l.6 .6v42.1l.5 -13v-25.8l.6 27.3v-31.6l.6 3.8v27.5l.5 -27.8v32.2l.6 -36.3v35.5l.6 2.7v-32.7l.5 48.9v-47.8l.6 -2.4v34.1l.5 -35.1v36.8l.6 -38.2v30.3l.6 1.9v-26.5l.5 -7v34.9l.6 -32.3v30.6l.5 1v-26.5l.6 23.2v-27.1l.5 3.1v33.6l.6 -38v24.5l.6 .8v-21.4l.5 .9v21.9l.6 -22.8v28.4l.5 -5.5v-27.2l.6 32.2v-31.9l.6 5.1v22.7l.5 -23.4v26.5l.6 -25.2v31.1l.5 -3.2v-30.5l.6 29.3v-26.8l.5 -3.8v27.5l.6 -26v33.6l.6 -40.6v39.6l.5 -1.2v-28l.6 30.5v-37.3l.5 3.3v45l.6 -16.5v-29.2l.6 5.2v23.1l.5 -27v25.9l.6 2.1v-26.8l.5 24.9v-31.4l.6 5.9v20.6l.6 -22.4v19.6l.5 -23.3v40.1l.6 1.4v-36.3l.5 3.1v19.6l.6 -21.9v25.2l.5 -28.2v36.2l.6 -6.5v-27.7l.5 .8v25.8l.6 -29.7v41.9l.6 -39v27.2l.5 -28.2v33.2l.6 .9v-32.2l.6 -8v36.8l.5 -33.3v34l.6 -37.8v45.5l.5 -41.4v28.8l.6 4v-33.7l.5 37v-37.7l.6 41.7v-39.1l.6 1.6v27.3l.5 -25.8v24.6l.6 4v-30.5l.5 30v-28.3l.6 -1.5v28.1l.6 -29.2v31.1l.5 -32v26.2l.6 -31.5v38.1l.5 -30.4v34.7l.6 -4.8v-31.4l.5 35.9v-37.2l.6 36.9v-33.5l.6 -3v35.8l.5 -40.7v39.6l.6 -36.9v32.4l.5 -.7v-26.4l.6 25.9v-29.8l.5 42.4v-38.3l.6 -1.6v27.7l.5 1.1v-30.8l.4 19.5v-7.6"/>
<path class="c" stroke="#008000" d="M395.9 378.3l130.2 7.9l76.2 -45.1l54 -16.3l41.9 5.6l34.3 21.4l28.9 23.4l25.1 -13.4l22.1 -54.9l19.8 -25.4l17.9 14.7l16.3 -2l15.1 14.7l13.9 14.5l12.9 1.6l12.2 8l11.4 7l10.7 -.9l10.1 16l9.7 0l9.1 6.1l8.8 -.7l8.3 21.4l8 16.8l7.7 -2.7l7.4 12l7 .7l6.8 7.5l6.6 4l6.4 9.4l6.1 -7.4l5.9 7.4l5.9 5.3l5.5 -5.3l5.5 -5.4l5.2 1.3l5.3 8.1l4.9 6.7l4.8 2.6l4.9 9.4l4.6 10.7l4.5 -5.3l4.4 -8.1l4.4 8.1l4.2 6.7l4.1 -4l4 2.6l4 4.1l3.9 6.6l3.8 8.1l3.7 12l3.6 -8l3.7 -5.4l3.4 2.7l3.5 1.4l3.5 8.2l3.3 13l3.2 5.5l3.3 0l3.1 -11l3.1 -8.8l3.1 13.9l3 .1l2.9 3.4l2.9 -3l2.9 -6.8l2.8 .2l2.8 -3.2l2.8 13.7l2.7 -12.8l2.6 -.6l2.7 14.1l2.5 15.9l2.6 3l2.5 .4l2.5 -1.5l2.5 -4.5l2.4 -1.9l2.4 2.5l2.3 4l2.4 6.9l2.3 7.2l2.3 -8.4l2.2 -2.5l2.2 -13.8l2.2 8.1l2.2 8.7l2.1 13.1l2.2 2.7l2.1 .4l2 -3.9l2.1 -8l2 -13.8l2 -9.1l2 3.2l2 -8.5l1.9 -8.1l2 -.4l1.9 4.1l1.8 10l1.9 3.2l1.9 -.8l1.8 -2.4l1.8 5.5l1.8 -2.5l1.8 -7.9l1.8 -1l1.7 4.8l1.7 -1.4l1.7 13.5l1.7 9.9l1.7 5.5l1.7 -3.6l1.7 -4l1.6 -1.7l1.6 -14.8l1.6 -9l1.6 -6.6l1.6 2.9l1.6 5.7l1.5 9.6l1.6 5.8l1.5 2.4l1.5 -4l1.6 .9l1.5 5.4l1.4 1.2l1.5 1.1l1.5 2.9l1.4 2.4l1.5 -3.6l1.4 -.2l1.4 -6.6l1.4 -1.6l1.4 2.8l1.4 -1.9l1.4 -3.2l1.3 -3.8l1.4 -2.9l1.3 -1.8l1.4 -9.4l1.3 1.3l1.3 .4l1.3 -2.8l1.3 -9.5l1.3 4.9l1.3 -7.1l1.3 .2l1.2 1.1l1.3 -.5l1.2 -17.8l1.3 -3.9l1.2 2l1.2 2.3l1.3 7.2l1.2 2.3l1.2 12.6l1.2 10.4l1.1 -2.7l1.2 .3l1.2 -.3l1.2 -.3l1.1 -3.1l1.2 -19.5l1.1 -17l1.1 12.4l1.2 14.8l1.1 2.5l1.1 -.7l1.1 -9.5l1.1 5.6l1.1 -5.3l1.1 -1.1l1.1 -7.3l1.1 -3l1 13l1.1 6.6l1 2.2l1.1 3.2l1 8.9l1.1 1.3l1 11.4l1 -6.6l1.1 3.4l1 4l1 -8.1l1 -1l1 4.2l1 -8.3l1 .9l1 .4l1 7.9l.9 2.6l1 1.1l1 .4l.9 3.3l1 -2.9l.9 -6.4l1 .8l.9 -11.4l1 -3.6l.9 -3.3l.9 -5.6l.9 -9.3l1 2.9l.9 3.2l.9 -.8l.9 .4l.9 2.8l.9 -.2l.9 -3.6l.9 3.8l.9 5.5l.8 -6.3l.9 4.6l.9 -.5l.9 -.6l.8 .5l.9 4.2l.8 1.5l.9 .8l.8 -4.4l.9 4.3l.8 2.8l.9 -.4l.8 -3.9l.8 -2.5l.8 -2.2l.9 -3.8l.8 -7.9l.8 -.3l.8 -5.3l.8 -7.9l.8 -.8l.8 8.4l.8 -12.5l.8 -6.3l.8 6l.8 9.7l.8 -1.2l.8 4.7l.7 1.3l.8 2.5l.8 4.4l.7 -1l.8 -2.2l.8 3.3l.7 .9l.8 -3.5l.7 -.4l.8 -4.6l.7 -7.2l.8 1l.7 -8.4l.8 -5.3l.7 .2l.7 4.6l.8 11.7l.7 -4.7l.7 8l.7 1l.7 3.5l.8 -.1l.7 -4.6l.7 1l.7 .7l.7 -.3l.7 -.9l.7 -1.3l.7 2.4l.7 1.6l.7 -2.7l.7 -4.3l.7 16.9l.6 -.5l.7 4l.7 4.3l.7 -2.2l.7 -5.5l.6 -8.9l.7 5.6l.7 1.5l.6 4.1l.7 -5.4l.6 7.7l.7 .4l.7 -2.3l.6 -6.2l.7 4.2l.6 1.5l.7 -5.3l.6 2.1l.6 -6.7l.7 13.9l.6 3.3l.7 -10.3l.6 -1.2l.6 -2.1l.7 -5.6l.6 15l.6 .8l.6 .2l.7 -3.1l.6 -1.1l.6 -10.1l.6 2.7l.6 3.6l.6 10.7l.6 -7.1l.6 -.9l.6 -1.1l.6 -.5l.6 -5.3l.6 -1.1l.6 4.4l.6 .9l.6 -6.5l.6 -.5l.6 -14l.6 .7l.6 6.2l.6 -4.3l.6 9.1l.5 -16.9l.6 -4l.6 -8.3l.6 -3.9l.5 9.4l.6 .2l.6 2.9l.6 7.9l.5 7.6l.6 -5.4l.5 -4.4l.6 -7.9l.6 -7.7l.5 -11.2l.6 3.7l.5 -4.3l.6 1.8l.5 -1.7l.6 4.5l.5 6l.6 9.9l.5 21l.6 -7.3l.5 14l.6 -7.5l.5 -7.3l.5 -6.3l.6 -2.4l.5 -18l.5 -11.2l.6 -11.2l.5 -11.1l.5 -11.2l.6 11.1l.5 11.2l.5 11.1l.5 11l.5 46.8l.6 -3.3l.5 3.4l.5 -1.7l.5 -2.4l.5 -4.7l.5 -9.3l.6 -5.6l.5 -1.2l.5 -8.9l.5 -3.8l.5 -6.4l.5 -3.8l.5 -13.6l.5 1.7l.5 0l.5 4.9l.5 3.2l.5 6.5l.5 1.8l.5 -2.1l.5 -.9l.5 -.2l.4 1.5l.5 -3.2l.5 -5.4l.5 -5l.5 4.9l.5 13.7l.5 1.8l.4 6.6l.5 -1.8l.5 3.3l.5 6.7l.4 -7.1l.5 .5l.5 -2l.5 3.6l.4 1.6l.5 -7.5l.5 .3l.4 .4l.5 -4.1l.5 .7l.4 -1.7l.5 5.7l.5 3.2l.4 .6l.5 9.1l.4 2.8l.5 -1.2l.5 2.5l.4 -4.7l.5 -7.1l.4 -1l.5 -7.2l.4 -10.2l.5 -5.3l.4 -3.2l.5 -4.4l.4 5.1l.5 3.7l.4 -4.7l.5 -.7l.4 -9.8l.4 -9.8l.5 9.8l.4 9.9l.5 9.9l.4 4.5l.4 -3.4l.5 12.2l.4 3.8l.4 1.1l.5 5.3l.4 -5.9l.4 10.5l.5 -3.7l.4 -6.7l.4 -5.2l.4 -1.5l.5 -6l.4 -1.5l.4 -12.1l.4 4.8l.5 -.6l.4 3.7l.4 12l.4 -.6l.4 7.9l.5 0l.4 -1.1l.4 -2l.4 -5.8l.4 9.3l.4 -3.9l.4 -1.9l.4 -.3l.5 1.8l.4 -8.3l.4 1.6l.4 -5.5l.4 4.6l.4 -5.1l.4 7.7l.4 10.1l.4 -3.3l.4 9.2l.4 3.9l.4 4.7l.4 7.6l.4 -4.1l.4 -.4l.4 6.4l.4 -9.5l.4 .3l.4 -5.5l.4 2l.4 -4.4l.4 5.2l.3 -9.1l.4 6.2l.4 -4.4l.4 4.8l.4 -1.3l.4 2.2l.4 3.8l.4 -27.8l.3 -6l.4 -5.9l.4 -6l.4 -6l.4 6.1l.4 6.2l.3 6.4l.4 6.4l.4 43.1l.4 2.2l.3 3.7l.4 -4l.4 1.4l.4 -11.3l.3 -2.3l.4 -1.5l.4 -5.5l.4 -5.8l.3 2.2l.4 -4.4l.4 3.8l.3 4.9l.4 1.3l.4 -1.6l.3 7.8l.4 -3.3l.4 4.3l.3 6.8l.4 -8l.4 -2.2l.3 2.5l.4 .3l.3 10.5l.4 0l.4 2.6l.3 -12.7l.4 .1l.3 -9.3l.4 -8.1l.4 -15.5l.3 1.3l.4 .1l.3 1.3l.4 8.1l.3 7.2l.4 -5.1l.3 19.8l.4 -1.3l.3 .9l.4 4.1l.3 -3.9l.4 -.2l.3 -3.1l.4 -.7l.3 -5.4l.4 15.1l.3 4l.4 7.2l.3 18.4l.3 .1l.4 7.1l.3 -7.1l.4 .3l.3 -15.1l.3 7.1l.4 -6.2l.3 -.2l.4 -2.7l.3 -.7l.3 5.1l.4 5.1l.3 -5.2l.3 -4.3l.4 -1.1l.3 -.8l.3 -7.9l.4 -.1l.3 9.8l.3 4.8l.4 4.7l.3 -.5l.3 -5.6l.4 12.9l.3 -8.4l.3 -3.8l.3 -1.1l.4 .4l.3 -1.2l.3 -4.4l.3 6.5l.4 3.9l.3 8.3l.3 -16.2l.3 10.7l.4 3l.3 -7.6l.3 -4.9l.3 11.8l.3 2.2l.4 -1.6l.3 -.5l.3 1l.3 5.7l.3 -5.6l.4 9.8l.3 -2l.3 1.4l.3 -8.6l.3 3.7l.3 .1l.4 15.6l.3 -13.5l.3 7.8l.3 11.1l.3 -12.5l.3 9.4l.3 -3l.3 17.1l.3 -23.9l.4 -2.2l.3 19.1l.3 -6.6l.3 2.7l.3 -8.4l.3 9.5l.3 12.2l.3 -3.8l.3 -9l.3 13.4l.3 -16.4l.3 15.7l.3 -22.1l.3 .5l.3 6.8l.3 -4.2l.3 10.6l.3 -14.2l.3 4.3l.3 11.4l.3 -13.3l.3 1.6l.3 -6.1l.3 5.7l.3 24l.3 -1.4l.3 -21.3l.3 1.9l.3 11.2l.3 -5.1l.3 1.1l.3 2.9l.3 0l.3 4.9l.3 -10.9l.3 4.8l.3 -7.9l.2 -1.2l.3 7.3l.3 -8l.3 -4.4l.3 18.9l.3 5.1l.3 -15.9l.3 22l.3 -23.2l.2 -5.7l.3 16.2l.3 6.7l.3 -20.1l.3 5.3l.3 1.8l.3 .5l.2 -2.4l.3 5.4l.3 13.4l.3 -20l.3 2.5l.3 .8l.2 9.6l.3 -17.3l.3 12.2l.3 -1.9l.3 -7.1l.2 3.2l.3 -4.5l.3 8.4l.3 -.7l.3 1.4l.2 -19.3l.3 15.6l.3 -2.4l.3 7.2l.2 -1.7l.3 -11l.6 16.2v3l.8 1.5v-16.2l.8 -1.1v12.1l.8 -16.7v26.4l.8 -22.8v6.6l.8 1.4v7.9l.9 -12v16.9l.8 -11.2v-2.7l.7 15.9v-23.8l.8 23.9v-12.3l.8 -23v26.2l.8 -9v7.4l.8 10.9v-10.8l.8 -16v8.3l.8 -1.5v22.1l.7 -13.5v-9.1l.8 8.9v7.3l.8 -13.9v14.9l.7 -6.8v11.5l.8 -12.9v18.3l.8 -14.6v-14.9l.7 2.5v13.1l.8 16.2v-22.6l.7 21.5v-21.5l.8 2v15.5l.7 -5.8v-3.7l.8 -9.9v15.3l.7 9.6v-21.7l.7 12.8v-10l.8 -6.3v10.1l.7 -4.1v-9l.7 -4v15.7l.7 4.2v-8.3l.8 -9.8v18.4l.7 -7.4v-6.3l.7 21.5v-12.9l.7 -15v7l.7 10.6v8.6l.7 -18.5v9l.7 10.7v-19.7l.7 16.2v-13l.7 5.8v13.1l.7 -6.8v4l.7 9.8v-21.5l.7 20.2v-12.8l.7 7v-11.1l.7 16.2v-15l.7 13.8v-11l.7 18.9v6.5l.6 -27.4v17.1l.7 9.9v-19.1l.7 5.2v-4.6l.7 -7.9v6.7l.6 6.7v-12.4l.7 12v2.1l.7 -.5v-7l.6 -8.6v22.5l.7 19.6v-36.2l.6 5.4v12.1l.7 8.6v-29.3l.6 26.4v-18.6l.7 10.9v-14.6l.6 -.4v10.7l.7 -3.3v-7.3l.6 .4v11.3l.7 6v-13.6l.6 -5.8v13.2l.7 11v-23.9l.6 14.9v-7.3l.6 1.2v4.4l.7 8.7v-13.1l.6 9.1v-16.5l.6 14.7v-13.3l.6 32.8v-40.2l.7 12.3v6.5l.6 -16.6v7.5l.6 14.6v-18.2l.6 14.3v-5.4l.6 -8.9v19l.6 -28.8v17.3l.7 11.5v-11.9l.6 -8.6v23.7l.6 -22.7v11.3l.6 9.2v-17.9l.6 -5.8v25.2l.6 -11.6v21.3l.6 -25.8v13.1l.6 -11.3v6.1l.6 -16.9v10.4l.6 -2.2v-13.4l.6 5.8v18.2l.5 -6.3v-13.5l.6 1.6v25.3l.6 .8v-14l.6 4.2v-10.9l.6 -5.8v23.2l.6 -6v-11.8l.5 -6.8v10.2l.6 3.2v-14.7l.6 22.2v-22.3l.6 8.2v4.9l.5 -7.9v16.3l.6 -7.8v4l.6 6v-16.2l.6 -9.4v16.4l.5 -5.1v11.7l.6 -1.4v-6.2l.5 -1.1v-9l.6 3.6v18.3l.6 -20.7v13.6l.5 -2.9v7.7l.6 -6.7v-8.4l.5 2.7v1.3l.6 4.9v-11.7l.6 -2.1v21.6l.7 -8.3v-9l.8 8v16.5l.7 -16.2v-9.1l.7 1.9v17l.7 1.6v-23.7l.8 20.1v-8.4l.7 -11.5v10.6l.7 3.3v-13.3l.7 3.5v6.8l.7 -2.8v8.4l.7 6.1v-20.7l.7 6.8v11.8l.7 -24.2v15.3l.7 6.3v-15.7l.7 12.9v9.1l.7 -27.9v12.4l.7 9.1v-13.6l.6 8.9v-1.9l.7 17.2v-22.7l.7 19.8v-21.8l.7 12.1v-10.4l.7 12.7v-17.8l.6 24.5v-17l.7 -5.9v11.9l.7 -9.9v15l.6 -22.4v29.4l.7 -4v-15.4l.7 7.6v-19.4l.6 4.8v10.6l.7 5.7v-17.2l.6 8.9v7.7l.7 -8.4v10.5l.6 -13.6v15.4l.7 -3.2v-12.6l.6 -4.3v27.4l.7 2.6v-25.2l.6 15.8v-11.4l.6 -6.2v7.2l.7 -8.9v18.3l.6 -4.7v-6.9l.7 -7.5v20.4l.6 -13.1v5.7l.6 4.5v-16.1l.6 22.3v-15.4l.7 4.4v-11.6l.6 19.5v-9.8l.6 -3.7v17.7l.6 -22.7v17.3l.6 -14.3v13.6l.6 -5v-6.3l.7 14.7v-18.4l.6 17.3v-19.5l.6 -3.3v14.1l.6 -15.4v24.4l.6 -14.4v6.4l.6 -1.7v-8.4l.6 4.6v-1.6l.6 .9v13.4l.6 1.6v-11.1l.6 -10.5v25l.6 -28.9v20.6l.6 4.3v-23.6l.5 20.3v-15.6l.6 -3v13l.6 4.4v-11.1l.6 -6v13.9l.6 -17.3v24l.6 .6v-24.4l.5 19v-13.2l.6 31.4v-25.2l.6 6.7v-9.6l.6 15.4v-22.8l.5 5.9v-6.3l.6 24.8v-9.9l.6 -6.4v7.2l.5 -13.1v26.1l.6 -25.5v16.5l.6 -15.9v15.6l.5 -7.5v20.9l.6 -23.8v11.8l.5 -12.2v11.8l.6 -3.4v-11.4l.5 -.8v28.6l.6 -20.8v22.7l.6 -29.9v15.7l.7 -11.9v8.7l.7 -13.7v16.8l.7 -19.8v27.1l.6 -27.7v22.4l.7 -15.6v19.8l.7 -25.7v13.9l.7 3v-14.2l.6 -.6v17.9l.7 -17.4v14.6l.7 -7.1v16.1l.6 -22.8v15.8l.7 .2v-18.7l.6 2.1v3.5l.7 10.7v-13.1l.6 -3.1v32.5l.7 -16.5v-17.2l.6 25.3v-20.1l.7 22.9v-22.7l.6 27.4v-29.6l.7 15.9v-13.5l.6 -3.6v19.1l.7 -.8v-21l.6 9v-14.3l.6 31.6v-25.1l.7 15.1v4.7l.6 -15.6v21l.6 -14.4v-12.1l.6 21.2v-13l.7 -5.2v22.1l.6 -22.4v19.3l.6 3.2v-27.1l.6 21.3v-11.8l.6 7.9v-8l.6 15.5v-20.6l.6 -1.3v15l.6 4.2v-18.3l.7 .1v15.2l.6 -19.8v22.4l.6 1.1v-13.1l.6 -7.5v25.7l.6 -27.3v26.3l.6 -14v-7.9l.6 24.3v-13.6l.5 15.6v-28.2l.6 20.6v-18.1l.6 18.8v-12.2l.6 11.1v-10.8l.6 8v-8.2l.6 7.8v-10.3l.6 -2.4v7.8l.5 14.7v-14.9l.6 11.1v-18.7l.6 13.9v-13.8l.6 4.7v9.1l.5 1.3v-16l.6 16.3v-10.3l.6 18.4v-18.9l.6 -7.2v19.5l.5 -1v-9.3l.6 -12.6v20.1l.5 -10.8v15.9l.6 1.8v-29.6l.6 27.8v-16.3l.5 -8.2v23l.6 -18.5v19.7l.5 -4.2v-25.6l.6 15.7v7.3l.6 -4.9v-20.3l.6 40.7v-30.5l.7 8.1v16.1l.7 -19.1v20.5l.6 -24.7v22.3l.7 -7.2v-16.2l.6 30.1v-24.1l.7 18.6v-20.7l.6 25.3v-28.3l.6 .5v13.4l.7 -8.9v20.7l.6 -23.2v9.5l.6 -15.8v25.2l.7 -22.4v13.7l.6 -10.2v9.6l.6 -9.8v13.4l.7 .1v-9.9l.6 -8.5v24.9l.6 -25.6v24.5l.6 10.8v-33.1l.6 21.7v-15.6l.7 -4.2v16.1l.6 -18.1v10.8l.6 -8.7v12.3l.6 -19.8v28l.6 7.8v-25.1l.6 -2.5v20.2l.6 -18.7v8.8l.6 7.8v-16.4l.6 15.4v-27.3l.6 41.9v-37.8l.6 26.8v-21.3l.6 10.4v-9.7l.6 -5.9v25.1l.6 .6v-17.9l.6 -5.3v21.7l.6 -11.8v-12.2l.5 30.8v-20.6l.6 -7.1v21.3l.6 .9v-17.3l.6 22.3v-30l.6 16.7v-10.4l.5 11.2v-10.7l.6 -1.8v12.5l.6 20.7v-33.4l.6 16.8v-18.4l.5 2.2v16.2l.6 11.8v-28.3l.6 3.8v-7.1l.5 0v37.7l.6 -38v20.3l.5 3.6v-22.1l.6 -3.3v21.6l.6 -12.5v14.1l.5 -18.9v25.7l.6 -1.8v-22.8l.5 19.5v-19.2l.6 -5.9v15.2l.7 -8.3v18.4l.6 -16.9v26l.6 -30v23.2l.7 -3.9v-16.8l.6 21.9v-21.4l.6 16.6v-16.9l.7 17v-12.3l.6 -8.7v25.5l.6 -10.4v-9.8l.6 2.5v17.6l.6 6.7v-25.2l.7 -10.2v28.6l.6 -30.2v36.4l.6 -37.1v32.9l.6 5.5v-30l.6 27.1v-25.7l.6 -4.7v19l.6 15.7v-36.6l.6 1.4v24.8l.6 -11.1v-11.1l.6 4.6v19.8l.6 -26.2v18.1l.6 -16.9v20.9l.6 -27v27.1l.6 -21.2v26.2l.6 -2.6v-20.7l.6 -2.3v23.5l.6 -20v28.3l.6 -26.8v16.2l.5 .5v-16l.6 -.4v3.8l.6 10.5v-12.4l.6 -11.2v16.8l.6 -10.1v17.6l.5 -20.2v21.2l.6 3.7v-25.2l.6 32.4v-25.8l.5 26.7v-34.9l.6 21v-19l.6 24.6v-22.3l.5 3v12l.6 21.7v-39.9l.6 -.4v21.7l.5 -1.9v-14.6l.6 -1.8v15.5l.5 15.2v-42.4l.6 14v16.6l.5 -16.7v7.9l.6 -11v20.6l.6 2v-23.3l.7 22.3v-33.2l.6 5.4v24.4l.6 9.1v-23.7l.6 20.9v-16.7l.6 12.4v-25.9l.7 4.8v15.5l.6 -20.1v20.3l.6 -14.2v18.6l.6 -3.2v-22.5l.6 30.5v-27.6l.6 3.2v19.8l.6 -11.5v22.1l.6 -14.1v-15.8l.6 24v-24.7l.6 30v-24.2l.6 16.5v-23.6l.6 13.6v-15.7l.6 22.2v-14.9l.6 11.1v-13.2l.6 .8v17.6l.5 -18.1v26l.6 -9.3v-13.6l.6 -10.5v32.5l.6 -30v22.4l.6 -13.3v10.1l.5 3.8v-19.9l.6 -1.9v23.5l.6 -6.8v-14.5l.6 19.6v-25.6l.5 22.2v-19.2l.6 7.2v17l.6 -23.4v19.2l.5 -13.7v30.2l.6 -12.6v-21.5l.6 -6.5v22.6l.5 -12.5v19l.6 -20.1v18.1l.5 -4.4v-9.8l.6 27.1v-42l.5 32.4v-23.6l.6 6.1v20.8l.6 -24.5v22.9l.6 -26.2v16.6l.6 14.3v-30.7l.6 3.4v15.8l.6 -15.8v31.3l.6 -11.2v-19.5l.6 15.4v-15.5l.6 -10.7v27.6l.6 -1.1v-20.5l.6 25.6v-25.6l.6 2.1v24.2l.6 -26.9v21.4l.6 24.7v-47.3l.6 11.1v12.4l.6 7.2v-21.5l.6 20.1v-27.2l.6 -2.7v30.4l.6 -12.5v-9.4l.6 20v-26.9l.6 20.8v-16.7l.5 18.6v-24.9l.6 8.9v20l.6 -19.2v21.3l.6 7.6v-35l.5 -5v26.6l.6 -23.3v23l.6 -22.7v21.9l.5 -18.1v16.3l.6 11.7v-26l.6 -1.3v16.5l.5 6v-28l.6 32v-25.5l.6 24.7v-23.4l.5 24.2v-25.3l.6 -4.4v18.1l.5 -22.6v29.8l.6 -.6v-32.2l.5 43.2v-31.6l.6 24.3v-24.1l.6 32.9v-39.1l.6 37.2v-29.4l.6 -.2v17.6l.6 -5.6v-21.6l.6 9.8v22.2l.6 -8.3v-13.9l.6 -8.6v19.9l.6 5.7v-21.1l.6 -2.4v26.5l.6 -26.7v25.1l.6 -3.5v-18.6l.6 1.4v21l.6 -.5v-20.6l.6 -4.4v25.6l.5 -22.9v19.5l.6 8.7v-29l.6 .3v18.5l.6 -.7v-20.6l.6 27.9v-26.2l.5 26.9v-25.6l.6 21v-25.2l.6 37.4v-35.7l.5 2.9v21.3l.6 -22.8v26.6l.6 -25.9v24.6l.5 -4.7v-17.8l.6 24.8v-27.6l.5 -1.1v37.7l.6 -14.6v-25.3l.6 32.7v-30.9l.5 5.8v22.7l.6 -28.5v32.7l.5 -7.8v-24.6l.6 4v22.7l.6 -25v32.9l.6 -38.7v28l.6 11.3v-36.2l.6 16.9v-15.8l.6 -.1v23.5l.6 -21.7v27l.6 -2.3v-28.8l.6 37.6v-30.4l.6 -4.3v20.2l.5 -25.9v32.9l.6 -22.3v20.2l.6 -24.8v26.8l.6 -21v24.9l.6 -27.4v24.3l.5 -5.1v-23.4l.6 28.3v-26.9l.6 22.4v-17.6l.6 22.8v-30.6l.5 33.2v-19.4l.6 23.2v-36.1l.6 22.6v-23.5l.5 4.6v26.6l.6 -29.1v18.9l.6 8.2v-24.3l.5 20.6v-23.7l.6 4.7v17l.5 -1.6v-19.4l.6 -8.7v33.1l.5 1.6v-29.8l.6 4v19.1l.6 -17v34.8l.6 -41.1v28.9l.6 8.6v-30.9l.6 14.3v-22.6l.6 32.1v-25.4l.5 21.1v-22.4l.6 6.3v21.4l.6 -22.1v19.2l.6 -24.5v26.4l.6 6.1v-36.7l.6 5.4v25.7l.5 4.6v-23.8l.6 -2.3v20.5l.6 -22.7v25.1l.6 1.4v-29.6l.5 21.6v-24.8l.6 5.3v27.2l.6 -7v-17l.6 -4.1v16.2l.5 14v-29.1l.6 29.8v-29.1l.5 22.6v-28.7l.6 9.8v21.1l.6 -23.2v23l.5 .7v-18.5l.6 -8.5v26.9l.5 -28.7v20.3l.6 -19.6v23.7l.6 -1.1v-23.4l.6 23.8v-24l.5 -.6v31.9l.6 -31.6v32.2l.6 -29.6v27.5l.6 -35.2v30.4l.6 -2v-16.1l.6 -3.7v30.4l.6 -2v-35.4l.5 6.2v33l.6 -13.5v-25.7l.6 41.1v-30.7l.6 -5.9v26.1l.5 -26.2v23.7l.6 16.6v-32.8l.6 16.9v-22.2l.6 23.8v-29.2l.5 2.2v31.6l.6 -31.5v25.5l.5 -25.3v34.9l.6 -12v-16.1l.6 25.8v-34.2l.5 3.1v29.1l.6 -7.1v-18.9l.5 1v26.2l.6 -8v-21.9l.5 -1.1v20l.6 -13.8v38.1l.6 -38.5v22.8l.6 -19.6v25.7l.6 -11.6v-16.8l.6 17.9v-22.4l.5 21.9v-22.9l.6 29.5v-24.9l.6 -5v26.3l.6 -22.9v26.5l.6 -23v19.4l.5 -24.4v27.4l.6 -29.8v22.4l.6 11.7v-38.6l.5 10.7v25.3l.6 -33.6v23.8l.6 5.3v-26.2l.5 27.4v-29.7l.6 1.7v24l.6 -28.4v33.7l.5 -27.5v32l.6 -5.8v-27.8l.5 26.3v-28.3l.6 7.4v18.3l.5 -.4v-15l.6 -11.9v25.2l.6 -25.4v32.2l.6 -30.8v27.4l.6 2.5v-28.2l.5 2.8v24.2l.6 -26.4v24.8l.6 -21.9v30.4l.6 -38.3v30.9l.5 -22.8v18.6l.6 -20.2v36l.6 -34.5v24.4l.6 -.9v-23.9l.5 .5v28.4l.6 7.1v-35.4l.6 25.1v-24.4l.5 4.7v27.9l.6 -30.7v23.3l.5 -8.4v-13.4l.6 21.3v-29.2l.6 5.8v16.5l.5 7.8v-34.8l.6 12.4v20.6l.5 -25.4v15.5l.6 -21.6v32l.6 -2.2v-21.6l.6 -1.6v32.8l.5 -30.8v18.7l.6 -17.1v17.1l.6 -25.1v32.6l.6 -28.8v24.9l.5 10.5v-33.7l.6 -2.2v25.5l.6 6.4v-31.3l.6 1.1v25.2l.5 1.9v-25.1l.6 -7.5v22.5l.5 -17.6v31.9l.6 -9.6v-22.7l.6 4v26.7l.5 -5.9v-29.3l.6 .7v26.1l.5 -22.5v29.3l.6 -.8v-28.1l.5 26.4v-29.8l.6 39v-32.7l.6 26.1v-26.1l.6 -1.7v17.9l.6 12.3v-31l.5 33.8v-39.1l.6 2.2v28.8l.6 -5.1v-21.7l.6 23.3v-27.4l.5 -2.5v32.6l.6 -26.1v25.1l.6 5.7v-28.4l.5 0v33.2l.6 -14.1v-18.6l.6 24v-27.9l.5 0v34.6l.6 -12.7v-23.5l.5 30.6v-22.5l.6 24.5v-29.6l.5 -6.2v36.3l.6 -3.5v-29.6l.6 4.5v24.2l.5 -5.1v-19.6l.6 -1.4v29.2l.6 -23.4v21.8l.6 -28v22l.5 2.9v-20.4l.6 19.5v-22.1l.6 29.2v-27l.6 27.4v-25.7l.5 27.6v-29.1l.6 -9.2v36.2l.6 -2v-35.5l.5 33.1v-25.2l.6 3.8v25.6l.5 -5.8v-24.7l.6 .8v34.2l.5 1v-37l.6 26.9v-26.8l.6 2.4v25.8l.5 2.5v-24.6l.6 -10.1v25l.6 -26.4v33.4l.5 -26.4v26.2l.6 -26.1v26.9l.6 7.7v-33.7l.6 24.4v-30.7l.5 29v-21.5l.6 -6.6v27.4l.6 3.9v-26.9l.5 30.3v-33.4l.6 21.7v-21.1l.6 3.8v22.7l.5 2v-23.6l.6 .6v19.3l.5 .4v-24.1l.6 29.4v-29.2l.5 24.5v-28.4l.6 3.8v28.7l.6 -3.1v-25.6l.5 -5.4v40.1l.6 -37.6v25.8l.6 -20.7v32.8l.6 -7.8v-23.8l.5 20.8v-23.6l.6 -.1v25.7l.6 -4.3v-20.6l.5 -2.7v27.9l.6 -1.6v-27.5l.5 6.5v20.9l.6 -1.6v-26.2l.6 5.4v23.1l.5 8.3v-35l.6 -.8v27.9l.5 -28.7v27.7l.6 1.3v-29.6l.6 33.8v-28.4l.5 38.3v-42.5l.6 42.2v-42.3l.6 4.2v20.6l.6 -27.1v38.5l.5 -37.9v32l.6 -28.6v31.5l.5 -32.3v30.2l.6 -23.5v24.5l.6 -32.1v32.6l.5 -6.8v-22.9l.6 4.9v18.7l.5 -24.4v23.5l.6 -22.7v26.1l.6 -25.1v30.7l.5 -32.6v30.7l.6 -29.5v28l.6 -.4v-32.2l.5 33.5v-28.8l.6 -5.5v31.5l.6 2.7v-25.6l.5 -4.8v27.4l.6 -25.1v25.6l.6 -28.6v45.3l.5 -13.1v-28.9l.6 -2.5v30.4l.5 -30.2v27.3l.6 -5v-23.7l.6 33.1v-31l.5 -2.9v34.8l.6 -3v-32.9l.5 36.9v-39.1l.6 3.7v25.6l.6 11.1v-39l.5 7v30.6l.6 -2.3v-34.6l.6 8.5v30.9l.5 -37.6v29.3l.6 -7.2v-19.3l.6 1.1v30.4l.5 -31.2v22.2l.6 -21.4v34.9l.5 -2.2v-35.7l.6 36.7v-43.9l.5 5.8v43.5l.6 -42.4v25.2l.6 8.2v-30.7l.5 24.8v-24.8l.6 -3.3v36.6l.6 3.6v-37.5l.5 30.5v-28.2l.6 .2v19.3l.6 -20v30.2l.5 -32.7v24.8l.6 -23v34.1l.5 -9.4v-30.7l.6 6.8v22l.6 .9v-21.4l.5 26.8v-29.5l.6 -1v24.5l.5 -26.2v33.5l.6 -35.2v28.8l.6 9.9v-42.6l.5 35.1v-26.8l.6 26.7v-30l.6 1.6v35l.5 -4.1v-30.4l.6 -.6v29.1l.5 -26.8v24.6l.6 -29.3v25.3l.6 -25v45.9l.5 -9.2v-32.7l.6 -1v34.6l.5 -1.7v-30.8l.6 26.8v-25.8l.5 24.1v-31.1l.6 41.5v-35l.6 34.5v-42.4l.5 3.5v27.9l.6 13.2v-44.1l.6 7.6v20.8l.5 -22.6v26.9l.6 -26.6v23l.5 .7v-28.1l.6 31.3v-26.4l.6 24.3v-29.5l.5 1.9v32.7l.6 -31.8v36.4l.5 -36.2v28.1l.6 -27.7v21.3l.6 -22.7v33.3l.5 -2.7v-27.6l.6 -4.4v24.5l.6 11.5v-30.1l.5 21.5v-27.1l.6 37.1v-36.7l.5 -3.8v34.5l.6 -1.6v-24.8l.5 -3.3v28.1l.6 -4v-23.6l.5 .2v27.7l.6 2.6v-28.9l.6 21.7v-22.9l.5 39.3v-40.6l.6 27.9v-25.3l.6 -2.1v31.6l.5 -.6v-28.7l.6 29.2v-34.6l.5 3.4v26.4l.6 2.1v-24.8l.5 -4.7v31.4l.6 -3.1v-28.8l.6 -3.7v29.1l.5 -23.9v24.7l.6 8.9v-33l.6 30.3v-29l.5 28.9v-28.5l.6 .6v24.5l.5 -5.3v-15.9l.6 16.4v-23.4l.6 40.2v-41.2l.5 44.3v-40.1l.6 .4v22.6l.5 -28.9v32.3l.6 -27.9v32.2l.5 -3.9v-34.2l.6 4.6v31.5l.6 -3.3v-27l.5 37.1v-32.4l.6 13.3v-19.7l.5 -2.1v37.9l.6 -30.8v27.9l.6 -4.9v-20.8l.5 22.6v-28.9l.6 -.8v32.8l.5 -30.6v34l.6 -6.5v-33.1l.5 10.5v22.9l.6 -30.7v25.9l.6 -24.2v27.4l.5 -27.5v37.8l.6 -12.7v-25.4l.5 30.5v-29.8l.6 -3.2v32.8l.6 -1.1v-24.4l.5 -1.9v33.6l.6 -40.2v29.5l.5 -28.9v29.2l.6 -25.8v27.5l.6 -33.6v28.6l.5 17.1v-40.2l.6 -2.2v32.6l.5 2.3v-32.8l.6 26.5v-25.7l.5 -6.6v37.1l.6 -30.5v43.3l.5 -46.5v36.6l.6 -36v39l.6 -7.2v-26.6l.5 -1.9v28.7l.6 16.9v-43.7l.6 32.5v-33.3l.5 -2.2v28.7l.6 -33v34.2l.5 -28.7v30.7l.6 -1.3v-31.3l.5 -.1v26.7l.6 7v-37.8l.6 1.9v27.2l.5 19v-45.3l.6 1.3v30.5l.5 .4v-30.7l.6 35.9v-38.3l.6 3.5v31.2l.5 -34.2v39.6l.6 -32.5v28.7l.5 -1.8v-35.9l.6 30.8v-28.2l.5 24.4v-23.8l.6 28.4v-28.4l.6 36.6v-43.7l.5 6.8v35l.6 -31.1v28.2l.5 -1.6v-30.7l.6 1.4v32.5l.5 -.8v-30.1l.6 -2.1v27.7l.5 1.4v-31.7l.4 16.5v11.3"/>
<path class="c" stroke="#ff0000" d="M395.9 375l130.2 10.7l76.2 -20.7l54 -32.9l41.9 1.6l34.3 25.5l28.9 3.3l25.1 -2l22.1 -44.9l19.8 -30.1l17.9 .7l16.3 7.3l15.1 12.7l13.9 16.8l12.9 8.7l12.2 9.4l11.4 5.3l10.7 -4l10.1 2.7l9.7 14.7l9.1 9.4l8.8 6l8.3 14.1l8 12.7l7.6 -1.9l7.4 12.7l7.1 10.7l6.8 -15.4l6.6 -.6l6.4 18.7l6.1 2l5.9 .7l5.9 -4.7l5.5 0l5.5 .7l5.2 8.7l5.3 8l4.9 4.7l4.8 -5.4l4.9 -10l4.6 5.3l4.5 9.4l4.4 13.4l4.4 6l4.2 7.4l4.1 -20.7l4 1.3l4 12.7l3.9 27.5l3.8 -16.8l3.7 -.6l3.6 2.6l3.7 -2.6l3.4 2.6l3.5 .7l3.5 7.3l3.3 -16.9l3.2 9.2l3.3 -9l3.1 1.7l3.1 -5.8l3.1 -4.6l3 -14.1l2.9 17.6l2.9 2.4l2.9 4.6l2.8 8.9l2.8 1.9l2.8 7.8l2.7 4.8l2.6 .4l2.7 10.3l2.5 4.8l2.6 12l2.5 -5.4l2.5 3.9l2.5 -7.9l2.4 -.6l2.4 .8l2.3 -1.3l2.4 1.5l2.3 -8.8l2.3 12.1l2.2 -6.7l2.2 2.8l2.2 -1.4l2.2 -3.9l2.1 -.7l2.2 -.2l2.1 .2l2 3l2.1 2.6l2 1.2l2 -5l2 1.3l2 -9.7l1.9 1.7l2 -1.7l1.9 9.4l1.8 3.8l1.9 5.9l1.9 .6l1.8 -7.7l1.8 .2l1.8 5.1l1.8 -2l1.8 -.1l1.7 -4.6l1.7 6.7l1.7 5l1.7 6.7l1.7 3.2l1.7 .5l1.7 -9.3l1.6 -5.8l1.6 -12.5l1.6 -8.1l1.6 -15.3l1.6 6.8l1.6 11.3l1.5 8.5l1.6 5.6l1.5 -2.5l1.5 12.4l1.6 1.7l1.5 -3.4l1.4 -.5l1.5 6.5l1.5 -5.8l1.4 2l1.5 10.1l1.4 -3.2l1.4 -4.8l1.4 -7.4l1.4 -2.8l1.4 1.8l1.4 -5.7l1.3 -3.9l1.4 2.6l1.3 -2.1l1.4 -5.1l1.3 -2.7l1.3 12.6l1.3 7.7l1.3 13.1l1.3 -9l1.3 -18.3l1.3 1l1.2 -6.3l1.3 .1l1.2 3.8l1.3 -7.4l1.2 -2.7l1.2 -13.2l1.3 -6.7l1.2 12.8l1.2 6.1l1.2 -10.9l1.1 -.7l1.2 -6.2l1.2 2.8l1.2 15.8l1.1 -6.1l1.2 -.7l1.1 -7.4l1.1 .2l1.2 -6.1l1.1 -4.8l1.1 7.8l1.1 12.1l1.1 2.1l1.1 -.2l1.1 -2.1l1.1 6.5l1.1 -2.1l1 .8l1.1 4.9l1 11.8l1.1 -5.5l1 4.7l1.1 .5l1 .3l1 -5.1l1.1 -4.4l1 -5.5l1 -10.9l1 10l1 -9l1 -6.5l1 -4.9l1 -5.4l1 17l.9 8.3l1 13.6l1 6l.9 1.1l1 -1.2l.9 -13l1 -2.7l.9 -8.2l1 -2.7l.9 -6l.9 -8.8l.9 -4.8l1 4.6l.9 1.3l.9 .1l.9 5.3l.9 3.3l.9 4.1l.9 10.4l.9 15.7l.9 -4.8l.8 -.6l.9 8.8l.9 -7.4l.9 -4.5l.8 2.6l.9 -4l.8 .2l.9 -2.9l.8 -14.6l.9 4.8l.8 -12l.9 6.1l.8 4.3l.8 3.5l.8 2.3l.9 4l.8 -6.3l.8 1.4l.8 -.8l.8 -1.3l.8 4.8l.8 -4.9l.8 -1.3l.8 2.5l.8 -7.6l.8 -9.7l.8 -8l.8 5.4l.7 -7.2l.8 -4.3l.8 -.3l.7 10.3l.8 12.9l.8 3.6l.7 1.5l.8 .7l.7 4.2l.8 -8.8l.7 -5.7l.8 -.5l.7 1.6l.8 5.3l.7 -.1l.7 -.6l.8 .4l.7 5.4l.7 1.8l.7 -2.6l.7 -3.1l.8 -5.6l.7 3.8l.7 -16.5l.7 7.9l.7 -2.3l.7 6.2l.7 -1.7l.7 2.9l.7 1.6l.7 .1l.7 3.4l.7 12.3l.6 -7.9l.7 -10.2l.7 -2.3l.7 17.1l.7 1.1l.6 -17l.7 15.7l.7 -10.1l.6 4.4l.7 9.2l.6 -3.8l.7 -8.8l.7 -1.2l.6 3.8l.7 1.6l.6 -2.4l.7 -6.2l.6 8.4l.6 1.3l.7 -3.2l.6 -1.9l.7 9.1l.6 -16.1l.6 19.2l.7 4.1l.6 -14.3l.6 7.4l.6 -14l.7 15.4l.6 -9.8l.6 5.6l.6 -4.4l.6 -2.2l.6 .4l.6 5.8l.6 -10.5l.6 4.4l.6 -4.9l.6 2.8l.6 -.2l.6 1l.6 -2l.6 -3l.6 .1l.6 -4.6l.6 2.7l.6 -13.7l.6 .3l.6 2.2l.5 1.5l.6 -6l.6 -6.9l.6 4.5l.5 .1l.6 .2l.6 9.3l.6 -9.8l.5 1.1l.6 -19.5l.5 -11.2l.6 -11.2l.6 -11.2l.5 11.1l.6 11.2l.5 11.1l.6 15.8l.5 -10.7l.6 -8l.5 -3.6l.6 .4l.5 1l.6 -.9l.5 7.6l.6 -1.9l.5 1.8l.5 7.2l.6 -8.9l.5 9l.5 .5l.6 -3.3l.5 4.4l.5 2.8l.6 -5.5l.5 9.9l.5 -4.9l.5 -2.8l.5 2.2l.6 1.5l.5 -1.6l.5 -6.8l.5 3.2l.5 -.5l.5 -3.8l.6 -.7l.5 2.9l.5 -3.7l.5 -1l.5 -1.9l.5 4l.5 -.4l.5 -2l.5 -8.3l.5 -8.2l.5 -8.2l.5 8.2l.5 8.2l.5 8.1l.5 2.8l.5 -4.8l.4 1.1l.5 -6.5l.5 -3.6l.5 -.7l.5 1.2l.5 .1l.5 -6.1l.4 6.1l.5 6l.5 -1.9l.5 12.6l.4 3l.5 9.2l.5 9.7l.5 2.7l.4 4.9l.5 -1.2l.5 -1.4l.4 -10.6l.5 -1.8l.5 .4l.4 2.2l.5 -1l.5 -2.8l.4 7.5l.5 0l.4 -5.6l.5 -1.2l.5 3.5l.4 5.9l.5 -11.4l.4 .9l.5 -9.7l.4 -.7l.5 -9.7l.4 4.5l.5 -5.1l.4 6.2l.5 7.2l.4 -4l.5 -8l.4 2.2l.4 -5.3l.5 -3l.4 8.3l.5 9.3l.4 1l.4 18.4l.5 2.6l.4 9.5l.4 7.1l.5 4.6l.4 -1.2l.4 -8.2l.5 -10.4l.4 -11.2l.4 -4.4l.4 -17l.5 5.9l.4 -7.1l.4 -4.6l.4 -7.8l.5 -5.9l.4 2.4l.4 -2.7l.4 2.4l.4 -6l.5 7.1l.4 -2.9l.4 -5l.4 -.9l.4 2.2l.4 -11.8l.4 8.1l.4 6.3l.5 -1.3l.4 11l.4 12.4l.4 4.4l.4 -.2l.4 4.5l.4 -12.8l.4 2.5l.4 2.2l.4 -.3l.4 .1l.4 6.2l.4 6.5l.4 11.9l.4 5.2l.4 2.4l.4 3.4l.4 1.7l.4 -9.8l.4 .2l.4 .3l.4 -5.9l.3 -6.4l.4 -8.5l.4 2.2l.4 2.6l.4 3.6l.4 3l.4 4.3l.4 10.6l.3 -13.1l.4 -2.6l.4 -13l.4 -8.6l.4 -8.5l.4 -5.6l.3 -10.2l.4 -7.6l.4 .4l.4 -3.1l.3 2.9l.4 -5l.4 8.3l.4 11.5l.3 7.4l.4 8.8l.4 4.9l.4 9.9l.3 3.1l.4 -4.3l.4 6.5l.3 9.3l.4 4.1l.4 -5.1l.3 .1l.4 1.5l.4 -7.1l.3 5.7l.4 -14.5l.4 -1.3l.3 1.4l.4 -5.8l.3 2.1l.4 -5.8l.4 -1.9l.3 1.8l.4 7l.3 8.2l.4 9.5l.4 10.4l.3 15.3l.4 3.2l.3 1.7l.4 -1.9l.3 .2l.4 5l.3 5.2l.4 -1.9l.3 -2.8l.4 -4.8l.3 4.3l.4 -11.1l.3 -3.4l.4 -.5l.3 -5.4l.4 2.1l.3 2.1l.4 5.8l.3 -5.5l.3 -.8l.4 3.3l.3 .5l.4 -13.2l.3 .8l.3 -3.4l.4 4.5l.3 -3.6l.4 3.8l.3 -.3l.3 -15.5l.4 -9.4l.3 -2.8l.3 2.5l.4 3.6l.3 4.2l.3 7l.4 1.5l.3 9l.3 3.3l.4 -.4l.3 0l.3 -7.9l.4 4.8l.3 -1.5l.3 1.5l.3 12.8l.4 -1.6l.3 -.1l.3 2.4l.3 2.1l.4 .4l.3 13.2l.3 4.8l.3 -8.1l.4 -.5l.3 -1.1l.3 2.6l.3 -3.7l.3 0l.4 -3.9l.3 4.7l.3 6.9l.3 5.3l.3 -8.7l.4 4.4l.3 -6.5l.3 1l.3 5.8l.3 -3.6l.3 3.9l.4 -2.3l.3 .6l.3 -3.5l.3 14.4l.3 -1.1l.3 8.4l.3 2.6l.3 -14l.3 11.5l.4 -7.3l.3 -8.2l.3 21.3l.3 -9.6l.3 -16.9l.3 31.6l.3 -2.7l.3 -22l.3 20.4l.3 -21l.3 13.5l.3 -8.3l.3 1.2l.3 7.2l.3 -18.2l.3 11.7l.3 .8l.3 -1.9l.3 12l.3 -10.3l.3 1.2l.3 11.3l.3 -9.3l.3 -8.8l.3 .8l.3 25.5l.3 -8.3l.3 -14.6l.3 -1.7l.3 -11.1l.3 3.5l.3 19.9l.3 5.5l.3 -8.6l.3 -14.9l.3 -3.9l.3 23.7l.2 -6.8l.3 -.6l.3 -2.5l.3 8.3l.3 -10.6l.3 8.7l.3 -13l.3 8.2l.3 -9.6l.2 26.9l.3 -24.7l.3 9.4l.3 6.6l.3 -3.1l.3 5.8l.3 -7.4l.2 .8l.3 -2l.3 3.3l.3 -6.5l.3 11.6l.3 -2.6l.2 3.3l.3 -1.3l.3 2.9l.3 -10.1l.3 -6.1l.2 6.7l.3 -9.9l.3 20.4l.3 -8.2l.3 -2l.2 6.5l.3 -14.9l.3 18.6l.3 -7.3l.2 3.4l.3 .3l.6 -5.9v19.7l.8 -13.4v-6.9l.8 6.8v-20.6l.8 16.7v-7.1l.8 16.2v-6.7l.8 12.4v-19.4l.9 18.8v-10.4l.8 1.8v-8.9l.7 6.7v13.1l.8 -23.3v10.7l.8 -7v8.4l.8 -.5v-6.1l.8 -.1v5.3l.8 -.5v-3.7l.8 16.6v-24l.7 17.1v-7.1l.8 4v-9.9l.8 14.9v-16.5l.7 19.4v-11.9l.8 -5.4v14.6l.8 -4.6v-10l.7 19.1v-19.3l.8 11.4v-8.3l.7 -1.5v-86l.8 -45v90.2l.7 50v-15.7l.8 -8.3v28.2l.7 6.3v-16.2l.7 8.2v-8.6l.8 4v-3.6l.7 6.8v-5.6l.7 -1.6v19l.7 1.4v-27.4l.8 9.1v4.4l.7 10.5v-26.6l.7 5.2v14.5l.7 -1.1v-7.7l.7 -4.9v11l.7 4.2v1.8l.7 5v-12.1l.7 6v-11.9l.7 17.3v-19.2l.7 23.4v-16l.7 10v-3.6l.7 -4.1v14.1l.7 -5.7v13.2l.7 -4.8v-2.2l.7 -8.7v14.3l.7 -7.9v8.9l.6 1.6v7.4l.7 2.1v-25l.7 2.6v16l.7 2.9v-24.1l.6 11.3v10.9l.7 10v-22.6l.7 -4.3v9.6l.6 -17.4v29.9l.7 -8.1v-23.3l.6 34.5v-19.5l.7 3.2v5.6l.6 -7.6v6.6l.7 -10v4.5l.6 .9v.8l.7 7.6v-7l.6 14.2v-14.9l.7 2.7v-5.8l.6 8.9v-8.9l.7 10.2v-15.7l.6 9.3v15.4l.6 -20.9v23.3l.7 -10.6v-9.5l.6 -9.5v6.6l.6 24.3v-26.1l.6 11.3v-6.7l.7 7v-10.3l.6 15.4v-10l.6 8.7v-14.2l.6 10v-12.2l.6 -9.1v13.3l.6 12.6v-17.8l.7 23v-22.1l.6 5.4v3.8l.6 3.7v-12.1l.6 19.9v-14.1l.6 -.2v-7.5l.6 11.3v-7.9l.6 3.3v-12.2l.6 8.2v9.4l.6 3.6v-14.6l.6 .4v21.3l.6 -8.3v-13.7l.5 11.4v-10.5l.6 29.2v-28l.6 0v8.6l.6 15.2v-19l.6 -3.5v7.5l.6 -5.5v4l.5 -8.9v18.3l.6 -14v13.3l.6 -11.3v-5.1l.6 .8v17.5l.5 -21.6v10.4l.6 -12.4v9.5l.6 16.7v-18.1l.6 4.5v-2.5l.5 -6.9v14.9l.6 -13.7v14.5l.5 -12.8v7.9l.6 -13.1v16.9l.6 -13.6v5.4l.5 2.7v11.6l.6 -4.7v-16.4l.5 1v18l.6 -15.7v7.3l.6 -1.2v-7.3l.7 4.9v5.9l.8 -12.8v31.4l.7 -4.8v-25.8l.7 -2.4v27.5l.7 -21.4v19.4l.8 -15.5v13.6l.7 -25.2v9.1l.7 3.6v-15.6l.7 15.3v-8.9l.7 -14.5v28.1l.7 .1v-10.2l.7 -4v15.6l.7 2.1v-18.4l.7 18.1v-14.7l.7 6.6v10.4l.7 -16.2v14.8l.7 -8.4v8.3l.6 -18.4v6.1l.7 8.4v-15.7l.7 25.2v-10.4l.7 9.2v-20l.7 -6.8v18.3l.6 -14.3v17.4l.7 23.2v-50.5l.7 24.7v-20.5l.6 7.7v14.1l.7 -1v-9.1l.7 12v-20.4l.6 11.3v6.8l.7 -14v18.8l.6 -10.8v5.9l.7 5.2v-17.1l.6 17v-14.6l.7 2.3v6.7l.6 -4v11.8l.7 -4.5v-12.4l.6 -.4v13.2l.6 -1.4v-18.9l.7 5.6v21.8l.6 -30.7v30.8l.7 -22.9v6.7l.6 4.7v-19.3l.6 8.3v18.8l.6 -5.2v-10.2l.7 -6.3v17l.6 .5v-19.6l.6 2.2v7.8l.6 -6.4v15l.6 -4v-9l.6 -4.6v8.2l.7 11.8v-21.4l.6 1.7v15l.6 -5.5v-10.6l.6 23.7v-27.7l.6 25.7v-16l.6 12.3v-12.5l.6 -6.3v17.9l.6 -2.2v3.9l.6 -15.6v23.7l.6 -19v13.8l.6 14.8v-35.8l.6 1.8v11.4l.5 -5.2v15.9l.6 1.9v-19.6l.6 -2.6v14.8l.6 -1.7v-10l.6 2v10.2l.6 -12v28.3l.5 -34.5v10.9l.6 -13.2v19l.6 6.3v-11.7l.6 -4.5v27.9l.5 -22.5v-6.2l.6 14.4v-11.7l.6 -.7v7.4l.5 4.4v-11l.6 -7.1v10.7l.6 5.9v1.9l.5 -21.2v17.6l.6 1.8v-8l.5 5v6.1l.6 1v-6.8l.5 15v-24.1l.6 26.9v-26.9l.6 -4.9v15.6l.7 -7.2v12.4l.7 -2.8v-9.7l.7 13.4v-12.3l.6 13.4v-16.7l.7 24.7v-22.4l.7 19.9v-14.5l.7 14.4v-27.9l.6 27.5v-15.3l.7 16v-28l.7 10.5v9.6l.6 5.6v-24.5l.7 5.1v10.1l.6 6.4v-17.5l.7 4v9.6l.6 -14v18.7l.7 -4v-8.2l.6 -1.7v8.3l.7 -3v17.6l.6 -19.6v14.2l.7 -21.3v28l.6 -10.1v-14.6l.7 .4v11.4l.6 11.1v-23.7l.6 3.1v10.9l.7 -3.1v-13.6l.6 25.3v-24l.6 -1.3v20.3l.6 -16.8v14.4l.7 -10.5v12.5l.6 7.2v-17.3l.6 -7.1v20.1l.6 -16.3v19.8l.6 6v-29.5l.6 14.7v-16.1l.6 19.6v-17.6l.6 -3.2v19.9l.7 -16v14.3l.6 9.5v-26.4l.6 26.4v-28.7l.6 20.7v-13.6l.6 -.5v20.7l.6 -9.5v-7.8l.6 -.2v22.4l.5 -29.7v23.3l.6 .1v-20.7l.6 17.5v-14.5l.6 5.9v-6.8l.6 -4.8v14l.6 5.7v-21.1l.6 -2.1v20.3l.5 -13.4v21.1l.6 -30.8v23.8l.6 -10.3v28.2l.6 -16.6v-22l.5 2.2v10.7l.6 -11v29.2l.6 -12.4v-12.5l.6 -4v14.9l.5 12.9v-27.5l.6 9.3v7.9l.5 -23.7v26.3l.6 -12v20l.6 -10.9v-10.2l.5 14.7v-21.3l.6 18.4v-17.4l.5 -1v10.4l.6 16.1v-34.4l.6 33.3v-24l.6 26.3v-29l.7 18.1v-15.9l.7 4v10.3l.6 9.5v-22.6l.7 27.9v-30.1l.6 25.4v-20.8l.7 13.5v-13.3l.6 -3.7v14.6l.6 -16.8v40.6l.7 -22.4v-15.5l.6 21v-18.4l.6 -1.4v26.2l.7 -33.6v26.7l.6 -6.7v-14.7l.6 -2.6v25.4l.7 -30v26.4l.6 4.7v-18.8l.6 -3.1v23.9l.6 8.8v-35.4l.6 5v19.5l.7 -19.2v9.5l.6 -19.9v21.7l.6 -19.7v17.2l.6 -8.3v24.3l.6 -33.1v37.2l.6 -30.2v18.3l.6 -3.8v-15l.6 15.9v-20.9l.6 6.5v31l.6 -15.6v-12.5l.6 11.1v-14.8l.6 22.5v-28l.6 14.1v-13.8l.6 6.8v11.8l.6 -13.7v11.5l.6 -12.1v21.2l.5 -25.6v19.7l.6 3.2v-22.4l.6 5.5v11.7l.6 -3.6v-9.4l.6 16v-10.2l.5 -4.9v15.7l.6 2.6v-20.2l.6 22.8v-16.5l.6 28.4v-34.8l.5 1.6v23.2l.6 -25.6v25.7l.6 -25.4v21.7l.5 -.1v-20.5l.6 -2.8v25.8l.5 -4.8v-16.2l.6 -7v27.8l.6 -3.9v-18.6l.5 20.5v-19.5l.6 3.3v11.2l.5 -18.2v18.9l.6 1.5v-15.6l.7 .3v22.8l.6 -14.4v-14.3l.6 2.9v23.1l.7 -20.2v17.2l.6 7.4v-35.6l.6 37.2v-23.6l.7 3.7v26.6l.6 -14.6v-28.7l.6 29.7v-26.9l.6 4.5v17.4l.6 -4.3v-9l.7 -4.2v15.1l.6 15.8v-23.7l.6 18.1v-26.2l.6 13.1v-11.8l.6 21.5v-20.3l.6 1.8v18.4l.6 2.6v-31.1l.6 37.3v-28.2l.6 16.7v-20l.6 26.6v-24.2l.6 -3.2v16.4l.6 13.6v-27l.6 -4.4v27.1l.6 -21.5v23.7l.6 -.6v-17.3l.6 9.8v-26.6l.6 9.3v16l.6 -12.3v19.3l.5 -9.9v-8.1l.6 13.3v-20.2l.6 25.7v-21.2l.6 10.9v-12l.6 17.6v-14.8l.5 4.9v8.6l.6 -10.4v25.4l.6 -30.2v29.3l.5 -35.8v16.3l.6 -8.7v16.2l.6 9v-25.2l.5 22.2v-22.7l.6 11.2v-14.6l.6 18.2v-13.1l.5 19.6v-29.7l.6 -3.7v20.8l.5 8.2v-16.3l.6 -2v30.3l.5 -14.9v-21.6l.6 .1v31.3l.6 -5.4v-29.3l.7 24.5v-16.1l.6 1.5v18l.6 -1.7v-17.6l.6 -1.9v20.4l.6 3.8v-25.2l.7 .8v32.4l.6 -3.4v-24.1l.6 6.3v-10l.6 22.3v-32.5l.6 12.6v18.7l.6 -21.7v20.7l.6 -2.8v-5.5l.6 -11.4v22.1l.6 -2.2v-20.2l.6 -1.3v14.7l.6 7.5v-19.2l.6 22.1v-20.1l.6 27.5v-29.1l.6 16.5v-14.3l.6 1.6v16.9l.5 -26.9v35.6l.6 4.9v-36.8l.6 -4.8v22.5l.6 1.2v-17.2l.6 23.4v-23.6l.5 13.9v-18.6l.6 32.7v-22.6l.6 13.8v-11.8l.6 -14v28.9l.5 -26.9v34l.6 -33.5v27.9l.6 -23.5v27.2l.5 -10.3v-12.8l.6 -9.9v15.7l.6 -9.9v20.8l.5 -1.1v-12.7l.6 .9v21.6l.5 -26.3v13.1l.6 -16.3v45l.5 -27.7v-22.5l.6 33.3v-22.4l.6 11.4v-19.9l.6 -1.7v32.4l.6 -31.9v21l.6 -21.5v27.3l.6 3.8v-36.5l.6 5.8v27.8l.6 4.2v-28.4l.6 33.8v-34.1l.6 30.9v-33.8l.6 1.2v27.4l.6 -23v16.6l.6 -18v14l.6 -13.7v16.6l.6 2.6v-19.2l.6 7v14l.6 -28.8v23.8l.6 21.1v-37.1l.6 .7v17l.6 -14.5v12.6l.6 7.4v-26.4l.5 24v-19.8l.6 30.6v-30l.6 3.9v19.7l.6 -24.2v19.9l.5 1.7v-21.3l.6 .5v21.1l.6 -20.5v21.2l.5 -26.9v35.9l.6 -6.9v-32.8l.6 20.7v-8l.5 24v-36l.6 33.3v-26.7l.6 6.2v23.8l.5 -7.2v-24.3l.6 29.8v-27.1l.5 21.4v-25.9l.6 27.9v-23.3l.5 1.9v11.4l.6 22.7v-33.7l.6 -4.8v26.4l.6 -26.1v22.4l.6 -21.6v21l.6 2.7v-28l.6 7.9v31.2l.6 -39.6v21.5l.6 -14.3v19.5l.6 -2v-19.5l.6 23v-27.7l.6 31.8v-23.1l.6 26.5v-31.1l.6 4.9v15.5l.6 -17.5v19.8l.6 -19.5v21.6l.5 -16.5v17.8l.6 -8.8v-17.9l.6 2.9v18.5l.6 -16.1v11.6l.6 1.7v-16.2l.5 26.4v-28.7l.6 46.6v-40.1l.6 -1.2v20.7l.5 -18.2v13l.6 -24.4v32.4l.6 -4.3v-25l.5 3v20.9l.6 -28.2v32.3l.5 -7.7v-17.4l.6 4v12.9l.6 -25.6v37.3l.5 -4.1v-22.6l.6 22.6v-34.6l.5 28.5v-23.6l.6 26v-24.9l.6 24.9v-35l.6 32.1v-23.9l.6 1.5v21.9l.6 -14.5v19.2l.6 -25v22.1l.6 2v-22.3l.6 2.4v20.9l.6 -.8v-26l.6 23.7v-18.3l.5 -2.3v21.3l.6 10.9v-32.5l.6 -4.4v30.7l.6 -25.6v23.1l.6 -5.3v-15l.5 -4.1v27.8l.6 -5v-21.2l.6 39.7v-37.6l.6 33.5v-40.2l.5 5.2v17.2l.6 5.1v-22.5l.6 21v-20.5l.5 2.1v19.6l.6 -17v27.2l.6 -14.2v-21.1l.5 21.4v-24.5l.6 24.1v-21.3l.5 -1.3v22.9l.6 2.7v-21.6l.5 14.3v-8.8l.6 13.7v-26l.6 29.1v-25.4l.6 26.9v-21l.6 4v19.3l.6 -28.8v24.4l.6 5.8v-25.5l.5 19.4v-23.4l.6 9.4v16.6l.6 -23.1v18.3l.6 -19.2v22.1l.6 -28.3v28.3l.6 -.7v-25.7l.5 31.9v-27.5l.6 21.2v-24.5l.6 5.9v27.6l.6 -31v18.2l.5 -21.4v32l.6 -29.3v27.1l.6 -6.8v-21.7l.6 .6v32.6l.5 -31.2v27.6l.6 -22.9v31.6l.5 -36.3v26.5l.6 -30.6v27.9l.6 -3.3v-20.4l.5 17.6v-20l.6 -4.5v24.8l.5 4.4v-25.7l.6 2.9v23.4l.6 9v-33l.6 28.2v-27.6l.5 24.9v-22.5l.6 21.8v-27.5l.6 -.5v27l.6 -19.1v16l.6 4.7v-18l.6 -13.4v34.5l.6 -31.7v24.5l.5 -31.1v30.8l.6 3.1v-19.7l.6 17.5v-21.5l.6 33.1v-39.5l.5 28.4v-19.1l.6 34.9v-35.4l.6 -3.1v26.9l.6 -21.7v20.8l.5 -21v19.3l.6 5.7v-26l.5 20.2v-23.1l.6 4.7v17.7l.6 1.3v-24l.5 6.2v19l.6 7.4v-29.3l.5 29v-36.2l.6 29.8v-25.6l.5 34.1v-36.8l.6 3.2v22.3l.6 16.4v-36.6l.6 -1.9v18.2l.6 -17.9v20.4l.6 -24.2v25.7l.5 7.8v-26.2l.6 20.9v-21.2l.6 27.3v-37.7l.6 46.1v-43.5l.6 36v-31.3l.5 32.3v-34.3l.6 21.9v-20.4l.6 23.3v-26.1l.5 5.4v17.6l.6 -23.1v29l.6 -32.4v36.3l.5 -29.6v23l.6 -4.2v-16.8l.6 -1.1v17.3l.5 5.6v-24.1l.6 -1.7v24.9l.5 -21.1v22.6l.6 -27.2v31.1l.5 -25.2v15.1l.6 -18.1v27.2l.6 -29.9v25l.6 -23.7v29.8l.6 -27v22.3l.5 2.5v-25.4l.6 -5.2v27.4l.6 -1.1v-21.8l.6 28.1v-27.3l.5 28.4v-29.3l.6 -5.7v26.1l.6 -23.4v26.6l.6 -32.6v32.2l.5 -30v24.8l.6 10.9v-31.6l.6 2.7v29.4l.5 -6.9v-21.8l.6 27v-33l.5 25.2v-20.6l.6 5.6v13.1l.6 -11.5v17.2l.5 -.2v-27.9l.6 -2.3v28l.5 -21.1v30.6l.6 -35.5v25.9l.6 -19.7v35.9l.6 -42.4v36.4l.5 -30.6v22.7l.6 -25.9v36.9l.6 -37.3v23l.6 -19.1v25.9l.5 -24.7v20l.6 -24.4v27l.6 -25v20.2l.6 10.1v-38.4l.5 7.8v26.9l.6 -30.7v28.4l.5 -5.3v-18.8l.6 -2.1v26.5l.6 -23.1v20.5l.5 -21.8v21.5l.6 -27.4v33.9l.5 -1v-24.8l.6 -5v25.3l.5 -23.1v29.6l.6 -28.5v29l.6 -28.5v31l.6 -2.6v-26.7l.6 -10.9v48.9l.5 -14.1v-26l.6 24.8v-23.8l.6 39.8v-37.5l.6 -5.2v28.7l.5 -4.8v-20.1l.6 -3.8v30l.6 -8.1v-22.1l.5 5.9v28.1l.6 -4v-25.9l.6 -2.7v21.6l.5 -23.4v23.9l.6 3.6v-27.4l.5 -7.3v31.3l.6 -2v-18.2l.5 -3.1v21.7l.6 -22.1v43l.6 -24.2v-17.1l.5 20.3v-26.9l.6 29.7v-20.2l.6 -3.8v26.6l.6 -29.9v27.2l.5 -23.5v25.6l.6 .5v-24l.6 33.7v-35.8l.6 31.3v-35.1l.5 24.8v-23.1l.6 33.6v-30.6l.6 22.9v-24.8l.5 -1.2v33l.6 -.4v-28l.5 2.2v24.7l.6 -26.5v29.4l.5 -7.5v-24.2l.6 3v25l.6 -1.3v-19.6l.5 27.5v-47.4l.6 31.5v-15.9l.6 -4.3v23.7l.5 -26.4v34.5l.6 -6.7v-20.8l.6 -7.8v23l.6 8.2v-22.4l.5 21.6v-19.5l.6 -6.7v35.1l.6 -13.8v-27.9l.5 31.1v-20.3l.6 -.2v21.5l.6 9.2v-40.5l.5 34.7v-29.1l.6 21.8v-22.8l.5 22.6v-22.4l.6 -1.1v26.9l.5 -3v-20.2l.6 36.9v-38.5l.6 -2.8v46.5l.5 -47.4v26.3l.6 6.5v-32.2l.6 3.5v21.4l.6 7.6v-34.6l.5 3.8v24l.6 6.6v-33.5l.6 2.6v25.3l.5 -23.4v24.2l.6 -23.9v26.7l.5 -.4v-29.7l.6 -5.7v36.4l.6 -31.6v35.3l.5 3.1v-31.9l.6 -8.1v34.1l.5 -.4v-33.3l.6 35.6v-37.9l.6 34.1v-24.9l.5 29.3v-32.6l.6 2.5v28l.6 6.2v-31.2l.6 -3.6v26.5l.5 3.9v-27.9l.6 33.2v-33.7l.5 -1.7v28.3l.6 -32.5v27.5l.6 5.1v-27.7l.5 21.2v-25.3l.6 1.7v34.5l.5 -4.1v-34l.6 25.5v-28.8l.6 7.9v22.4l.5 -20.6v25.4l.6 -4.2v-25.3l.6 2.2v23.1l.5 -28.6v37.1l.6 -4.7v-29.1l.6 29v-25.7l.5 29.3v-27.5l.6 -4.3v32.3l.6 -34.3v29l.5 -25.6v27.9l.6 -36.1v29.7l.5 -20.7v24.5l.6 2.5v-37l.6 35.8v-28.2l.5 27.8v-25.6l.6 34.8v-36.2l.5 27.9v-27.7l.6 34v-37.8l.6 31.3v-27.9l.5 -1.6v33.7l.6 .4v-32.9l.6 -1.2v27.8l.5 4.1v-29.7l.6 24v-16.1l.6 24.3v-31l.5 -4v27.9l.6 .5v-28.1l.5 33.4v-28.4l.6 -8.9v38.9l.5 -29.4v29.2l.6 -33v25.6l.6 -34.5v37.8l.5 -26.9v28.5l.6 -2.1v-26.9l.6 30.2v-36.1l.5 4.3v31.3l.6 -34.4v37.6l.6 -33.8v25.5l.5 13.5v-36.1l.6 -9.7v35.9l.5 -32.2v31.9l.6 -1.4v-30.4l.6 29.3v-24.2l.5 30.1v-33.1l.6 5.7v24.1l.5 -4.1v-25.7l.6 -8.2v28l.6 5.8v-23.9l.5 26.7v-29.2l.6 35.5v-35.7l.6 -3.2v33.2l.5 5.1v-25.9l.6 30.5v-35.4l.5 27.2v-37.4l.6 38.2v-32.9l.6 30.6v-27.4l.5 2v23.6l.6 -24.7v31.7l.5 -.6v-32.8l.6 30.6v-27.9l.5 -4.2v34.2l.6 -2.2v-27.9l.6 17.9v-18.6l.5 -.7v24.6l.6 1.3v-25.5l.6 26.5v-24.8l.5 -8.2v41.9l.6 -11.8v-30.7l.5 33.6v-31.6l.6 31.7v-22.7l.6 -7v38l.5 -11v-23.3l.6 32.2v-33.2l.5 41.3v-46.4l.6 29.2v-23.2l.6 -1.5v27.4l.5 9.8v-37.7l.6 -.6v28.8l.6 -27.8v28.7l.5 -30.9v29.9l.6 4.9v-34.8l.5 2.2v29.4l.6 -35.1v37.7l.5 -.3v-30.7l.6 23.8v-29.2l.5 38.8v-40.1l.6 34.1v-23.6l.6 -5.3v27l.5 -29.6v40.9l.6 -4.3v-31.4l.6 22.9v-27.4l.5 .4v38.4l.6 -6.5v-26.9l.5 -3.9v28.3l.6 .9v-32.2l.5 6v27.4l.6 0v-32.8l.6 32.4v-30.4l.5 35.7v-37.5l.6 4.2v28.2l.6 -38.1v37.5l.5 -26.7v27.8l.6 5.5v-38.1l.5 25.3v-27.2l.6 35.9v-27.1l.6 -2.3v24.5l.5 -24.8v28.5l.6 -8.1v-20.8l.5 28.3v-31.9l.6 7.2v23l.5 -26.1v31.5l.6 -5.9v-26.1l.6 32.5v-35.4l.5 -.1v27.8l.6 -24.9v24l.5 -27.2v25l.6 -21.7v34.4l.6 -38.1v37.5l.5 -42.8v37.4l.6 -2.6v-25.9l.5 37.7v-43.3l.6 29.9v-28.9l.5 34.8v-29.7l.6 32.7v-29.6l.6 30.8v-39.5l.5 -1.6v34.5l.6 -36v33.9l.5 .3v-21.9l.6 -4.7v30.9l.6 -36.7v37.3l.5 -34.1v31.3l.6 -29.3v31.5l.5 -31.9v26.1l.6 7.6v-34.1l.6 -6.2v31.5l.5 8v-34.2l.6 -2.6v42.4l.5 -6.5v-30.8l.6 -.6v34.6l.5 -34.1v33.2l.6 5.3v-43l.5 2.4v30.6l.6 -29.6v28.3l.6 -25.3v27.1l.5 -33.1v34.8l.6 .3v-33l.6 -.4v32.2l.5 -4.1v-26l.6 3.2v27l.5 -1.2v-27.1l.6 .7v30.7l.5 -5.1v-34.1l.6 43.9v-40.8l.6 28.8v-22.7l.5 -3.8v32l.6 -7.9v-21.3l.5 -8.2v34.7l.6 -31.5v29.6l.6 -28v29.5l.5 5.8v-35.7l.6 -3.6v34.8l.5 3.6v-34.9l.6 -2.4v29.9l.5 -26.2v33.3l.6 -38v29.5l.6 -29.7v34.9l.5 10v-42.3l.6 34.6v-34.3l.5 28.6v-30.7l.6 3.9v31.7l.5 -27.7v33.1l.6 -7.9v-31.9l.5 41.9v-37.6l.4 14.5v-10.3"/>
<path class="c" stroke="#00bfbf" d="M395.9 441.3l130.2 -63.6l76.2 -31.3l54 1.1l41.9 34.2l34.3 49.7l28.9 34.8l25.1 .7l22.1 -10.1l19.8 -15.4l17.9 5.4l16.3 18.1l15.1 0l13.9 -6.1l12.9 14.8l12.2 12l11.4 12.1l10.7 14.7l10.1 12.7l9.7 1.4l9.1 -.7l8.8 18.8l8.3 -6.1l8 -.6l7.7 15.4l7.4 .6l-.1 -1.1l7.1 -2.7l6.8 -2.7l3.7 -4.7l5.4 3.4l3.9 5.3l6.1 2.7l5.9 2.7l5.9 -14.7l5.5 10.7l5.5 8l5.2 3.4l5.3 -6.1l4.9 0l4.8 .7l4.9 -2l4.6 4l4.5 -4l4.4 5.3l4.4 -4l4.2 -4l4.1 4l4 9.4l4 2l3.9 2l3.8 1.4l3.7 -14.8l3.6 -14.7l3.7 -4l3.4 1.3l3.5 6.7l3.5 8.2l3.3 1l3.2 -7.4l3.3 -5.6l3.1 9.3l3.1 -5.7l3.1 -9.9l3 -4l2.9 0l2.9 11.4l2.9 -4.1l2.8 5.3l2.8 -17.1l2.8 18.5l2.7 -1l2.6 7.8l2.7 -2.8l2.5 12.4l2.6 -13.7l2.5 -7.1l2.5 -9.8l2.5 14.4l2.4 -6.3l2.4 0l2.3 .8l2.4 -.3l2.3 -8.7l2.3 -1.5l2.2 -3.9l2.2 -2.4l2.2 -18.6l2.2 -7.2l2.1 18.9l2.2 14.5l2.1 16.5l2 -1.5l2.1 -2.2l2 -14.6l2 -9l2 9.4l2 -6.2l1.9 18.2l2 -14.8l1.9 8l1.8 -11.5l1.9 18.6l1.9 -4.5l1.8 3.4l1.8 10.2l1.8 -15.9l1.8 7.1l1.8 3.9l1.7 -22.4l1.7 32.2l1.7 -.8l1.7 11.4l1.7 -9.9l1.7 3l1.7 -6.8l1.6 9.3l1.6 4.4l1.6 6.3l1.6 -11l1.6 -3.3l1.6 -12.4l1.5 4l1.6 -9.2l1.5 -6l1.5 9.5l1.6 8.4l1.5 -.2l1.4 10.6l1.5 1.8l1.5 -3l1.4 -18.4l1.5 -6.4l1.4 7.7l1.4 4l1.4 -12.1l1.4 18l1.4 .9l1.4 -11.8l1.3 3.4l1.4 -2.2l1.3 -4.8l1.4 13.8l1.3 -3l1.3 11.2l1.3 -12.9l1.3 -2.2l1.3 3.4l1.3 -.6l1.3 -1.2l1.2 -.1l1.3 -12.7l1.2 -27.1l1.3 7.4l1.2 9.6l1.2 -2.3l1.3 20.6l1.2 -3l1.2 -5.1l1.2 3.7l1.1 -15.6l1.2 3.8l1.2 10.9l1.2 1.1l1.1 8.8l1.2 -16.7l1.1 -14.2l1.1 7.6l1.2 1.9l1.1 -5.8l1.1 11.9l1.1 21.8l1.1 -23.2l1.1 -11.2l1.1 -6.2l1.1 -.9l1.1 -1.8l1 5.8l1.1 -1.6l1 -15.1l1.1 33l1 5.7l1.1 -4.5l1 15.9l1 -1.4l1.1 2.4l1 7.5l1 -16.5l1 -3.6l1 9.5l1 -8.2l1 -10l1 10.5l1 1.8l.9 13.8l1 -21.5l1 15.9l.9 -6.5l1 2.6l.9 -.9l1 3.4l.9 -.8l1 -20l.9 -9.2l.9 8.8l.9 -8.2l1 7.7l.9 -2l.9 -23.1l.9 19.1l.9 10.8l.9 -5.4l.9 24.3l.9 -10.2l.9 2.2l.8 -11.7l.9 10.3l.9 -10.1l.9 2.4l.8 .7l.9 -15.7l.8 -3.9l.9 10.4l.8 -.2l.9 -7.6l.8 -9.2l.9 -14.3l.8 25.2l.8 -4.7l.8 24.6l.9 13.6l.8 -12.2l.8 4.8l.8 -15.1l.8 22.9l.8 8l.8 -20.2l.8 -19.5l.8 -4.1l.8 -3.2l.8 -7.4l.8 1.4l.8 -.4l.7 .9l.8 -11.2l.8 -5.7l.7 35.1l.8 -22.2l.8 11.6l.7 1.9l.8 1l.7 8.9l.8 -21.4l.7 1.4l.8 -7.1l.7 8.4l.8 -10.6l.7 8.4l.7 4.6l.8 4.3l.7 2.2l.7 8.4l.7 -4.8l.7 -5.5l.8 1.4l.7 -12.1l.7 -2.1l.7 -4.1l.7 12.2l.7 5.8l.7 8.1l.7 .8l.7 -2.9l.7 16.6l.7 3l.7 -19.3l.6 -15.9l.7 7.2l.7 4.9l.7 4.9l.7 -2.4l.6 -16.9l.7 1.5l.7 13.4l.6 3.8l.7 -4.6l.6 -9.9l.7 13.2l.7 12.6l.6 -25.1l.7 6.5l.6 7.2l.7 7.1l.6 -7.5l.6 7.6l.7 -17.4l.6 9.9l.7 -15.1l.6 11.7l.6 -14.2l.7 12l.6 11.9l.6 -19.5l.6 8.8l.7 -3.7l.6 5.7l.6 1.3l.6 -9.7l.6 -1.9l.6 25.6l.6 -24.3l.6 12.3l.6 -3.1l.6 -4.6l.6 -2.5l.6 -9.5l.6 9.4l.6 -15.1l.6 -6.3l.6 -14.4l.6 -3.2l.6 -4.1l.6 -.2l.6 -45l.6 -43l.5 -43l.6 43l.6 43l.6 47.9l.5 -10.6l.6 -.5l.6 -4.6l.6 3.7l.5 31.5l.6 -8.5l.5 -7.8l.6 4.1l.6 -16.9l.5 -.7l.6 -9.2l.5 7.5l.6 -10.4l.5 4.7l.6 13l.5 9.4l.6 -12.1l.5 15.4l.6 4.8l.5 -13.5l.6 3l.5 8.3l.5 -20.1l.6 13.7l.5 -15.4l.5 .5l.6 -1.4l.5 -.6l.5 4l.6 23.3l.5 -14.9l.5 -2.5l.5 9.6l.5 -15.3l.6 12.4l.5 .9l.5 5.6l.5 22.4l.5 -17.8l.5 -.6l.6 8.9l.5 2.3l.5 -3.2l.5 4.9l.5 -2.9l.5 -1.6l.5 -13.7l.5 -16.1l.5 15.7l.5 -7.4l.5 -2.2l.5 19.8l.5 2.3l.5 -7.2l.5 11.1l.5 10.3l.4 -28.7l.5 -3.9l.5 -11l.5 14.2l.5 4.4l.5 .7l.5 -2l.4 -9.4l.5 17.2l.5 -1.8l.5 -2.1l.4 -5.8l.5 20.4l.5 -.6l.5 5.2l.4 -8.9l.5 .1l.5 -14.2l.4 1.2l.5 -7.3l.5 -31.5l.4 -32.7l.5 -32.8l.5 32.9l.4 33.1l.5 20.3l.4 4.7l.5 9.5l.5 -15.5l.4 9l.5 6.3l.4 4l.5 12.4l.4 -2.5l.5 2.9l.4 3.7l.5 -11.9l.4 16l.5 -5.9l.4 1.1l.5 -10.5l.4 -5.6l.4 -.4l.5 -7.3l.4 .4l.5 11.4l.4 8.3l.4 -26.9l.5 4.7l.4 5.7l.4 1.1l.5 6l.4 1.7l.4 -2.9l.5 -5.3l.4 .9l.4 -14.4l.4 12l.5 -11.1l.4 15.6l.4 3.7l.4 5.3l.5 -10.1l.4 25.4l.4 -17.3l.4 1.5l.4 -6l.5 -4l.4 -6.8l.4 -9.9l.4 17.9l.4 3.8l.4 13l.4 5l.4 25.9l.5 -34.3l.4 6.4l.4 -6.6l.4 -2.6l.4 7.9l.4 -22.6l.4 -4l.4 10.2l.4 -5.6l.4 -2.2l.4 13l.4 -10.8l.4 -1.7l.4 5l.4 9.4l.4 24.2l.4 -2.1l.4 -5.3l.4 4.2l.4 -7.4l.4 9.4l.4 9.2l.3 -21.1l.4 12.3l.4 4.7l.4 -20.2l.4 -14l.4 14.7l.4 -17l.4 -9.4l.3 13.2l.4 6.1l.4 6.9l.4 6.3l.4 -2.3l.4 -6.3l.3 -18.9l.4 15.7l.4 -8.4l.4 1.4l.3 4.6l.4 -5.1l.4 6.8l.4 -8.9l.3 7.5l.4 .4l.4 7.1l.4 -8.9l.3 3.9l.4 -5.9l.4 7.5l.3 .8l.4 -.3l.4 8.6l.3 1l.4 -6.1l.4 -1.1l.3 -2.4l.4 -11l.4 1.5l.3 2.9l.4 1.8l.3 3.2l.4 1l.4 -11.9l.3 4.9l.4 -11.3l.3 21.2l.4 -15.8l.4 13.8l.3 -2.1l.4 24.4l.3 -11.3l.4 -9.5l.3 -8.2l.4 15.4l.3 -2.9l.4 -13.6l.3 15.2l.4 -12.7l.3 -7.5l.4 3.2l.3 6.3l.4 4l.3 12.9l.4 1.7l.3 7.4l.4 -.7l.3 2.2l.3 -7.4l.4 -2.6l.3 3l.4 -14.7l.3 8.8l.3 -5l.4 8.2l.3 2.5l.4 -15.9l.3 2.3l.3 8.3l.4 -8.2l.3 -19l.3 10.9l.4 9.8l.3 2.1l.3 12.7l.4 -24.8l.3 15.9l.3 -5l.4 -4.3l.3 3.6l.3 17.6l.4 -18.3l.3 -4.2l.3 -17.4l.3 21.4l.4 -10.5l.3 6.2l.3 -14.7l.3 14.5l.4 14.1l.3 -5.8l.3 -7.2l.3 -24.1l.4 -29.5l.3 -29.6l.3 29.6l.3 29.7l.3 46.5l.4 -9.4l.3 8.6l.3 -3.2l.3 11.2l.3 -7.1l.4 6.3l.3 -13.3l.3 8l.3 -17.7l.3 15.6l.3 -13.2l.4 4.3l.3 3.3l.3 -13.3l.3 12.1l.3 -4l.3 4.8l.3 -9.6l.3 -1.4l.3 -3.1l.4 -2.6l.3 12.4l.3 -13.5l.3 19.8l.3 -12.9l.3 9.2l.3 -2.5l.3 -8.4l.3 16l.3 -17.5l.3 9.9l.3 -12.2l.3 6.7l.3 -5.8l.3 11.4l.3 -9.5l.3 7.5l.3 -10.3l.3 2.8l.3 1.5l.3 11.5l.3 -.7l.3 .3l.3 1.6l.3 -14.3l.3 -5.2l.3 13.3l.3 11l.3 -13.8l.3 3.3l.3 .5l.3 -4.5l.3 -1.8l.3 -1.3l.3 14l.3 -21l.3 15.3l.2 -4.7l.3 -1.2l.3 3.1l.3 9.6l.3 2.9l.3 -6.3l.3 -12.7l.3 15.6l.3 -19.5l.2 4.7l.3 3l.3 3.9l.3 4.7l.3 -2.7l.3 -10.5l.3 10.3l.2 6.8l.3 -20.6l.3 12.3l.3 -.2l.3 5.2l.3 -4.9l.2 5.5l.3 -13.1l.3 -4.2l.3 16.7l.3 4.2l.2 -.2l.3 -2.9l.3 -4.8l.3 3l.3 -5.2l.2 -5.2l.3 12.8l.3 -7.4l.3 4.8l.2 -8.9l.3 10.4l.6 -11.6v18.5l.8 -12.9v8.4l.8 -7.2v-8.2l.8 7.1v5.7l.8 -3.6v5.9l.8 -.5v-19.4l.9 -4.6v13.5l.8 5.7v-19.7l.7 -16.6v-16.7l.8 33.3v34.3l.8 -26.7v14.1l.8 -17.6v20l.8 -.4v-14.5l.8 12.1v-.8l.8 -6.4v10.5l.7 -14.8v11.8l.8 7.5v-23.5l.8 -21.9v-11l.7 -11v-11l.8 22v10.9l.8 22v23.2l.7 -2.2v-77l.8 64.5v-46.9l.7 19.1v-39.6l.8 -35v69.9l.7 30v9l.8 -22.5v16.8l.7 -1.5v6.7l.7 -1.7v-10l.8 12.7v-52.6l.7 38.3v16.2l.7 -15.7v12.5l.7 -7.1v9.9l.8 -2.1v-37.9l.7 -34v-33.9l.7 67.9v30.6l.7 -64v76.7l.7 5.3v-20.5l.7 16.5v-20.6l.7 28v-22.2l.7 .3v10.7l.7 14.9v-14.2l.7 -16.8v3.6l.7 9.4v-44l.7 34v4.8l.7 8.7v-28.1l.7 22.6v-30.1l.7 -28.3v-28.2l.7 56.5v31.1l.6 -36.4v35.8l.7 -35.3v48.4l.7 -10.4v-5.4l.7 11v-14.3l.6 5.9v-10l.7 -9.6v29.4l.7 1.5v-20.5l.6 12.7v-15.4l.7 14.5v-1.8l.6 -14.6v4.4l.7 5.7v-6.9l.6 22.4v-15.8l.7 20.5v-15.6l.6 -19.2v15.9l.7 -12.8v23.1l.6 -2.4v-31.3l.7 -23.6v-23.5l.6 47.1v23l.7 -8.4v14.2l.6 -12.8v12l.6 -9.1v-5l.7 .4v6.2l.6 -7v9.2l.6 -8.4v15.3l.6 9.6v-21.4l.7 -1.2v27.3l.6 -18.6v-5.6l.6 -4.7v1.9l.6 24.8v-16.1l.6 7.8v-12l.6 3.2v-32.3l.7 35.4v-3.1l.6 4.8v-6.1l.6 10.3v-17l.6 15.1v-23.5l.6 -15.1v-15.2l.6 30.3v28.7l.6 -9.8v-11.1l.6 1.2v9.5l.6 -.2v-6.8l.6 14.5v-17.8l.6 8.9v-3.8l.5 -13.8v31.4l.6 -8.2v-14.4l.6 .2v-29.7l.6 46.6v-38.8l.6 17.5v15l.6 -6.5v-6.3l.5 -1v6.2l.6 10v-40.3l.6 17.2v25.3l.6 -11v-25.3l.5 19.7v25.6l.6 -25.2v-44.6l.6 42.6v-46.6l.6 -28.1v-28.1l.5 56.2v52.4l.6 3.6v-11.7l.5 30.5v-23.3l.6 3.8v-8.4l.6 7.3v19.8l.5 -78.9v56.4l.6 19.3v-63.8l.5 -49.1v-49.1l.6 140.9v-57.8l.6 38.8v31.2l.7 -7.5v-9.6l.8 23.8v-39.6l.7 -54.2v54.2l.7 49.2v-25.4l.7 -5.2v6.3l.8 -4v18l.7 -20.1v24.1l.7 -5.4v-23.9l.7 -23.8v29.3l.7 9.2v-10.2l.7 15.2v-12.4l.7 -83.5v106.7l.7 -4.3v-84.8l.7 74.5v-72.8l.7 -47.9v78.8l.7 18.6v19.2l.7 4.4v-9.1l.6 13.3v-27.4l.7 -14.3v48.2l.7 -100.4v84.6l.7 12.6v-30.9l.7 -5.8v21.3l.6 1.6v-33.5l.7 50.2v-15.2l.7 12.9v-110.1l.6 94.5v-86.5l.7 113.8v-33l.7 -7.8v17.3l.6 -60.5v62.5l.7 -64.5v63.3l.6 -21.7v-65.4l.7 21.8v61.3l.6 3.9v-.8l.7 4.3v-12.9l.6 4v17l.7 -9v-17.9l.6 19v-11.9l.6 14.2v16.1l.7 -30.8v12.7l.6 3.5v-15.6l.7 2.8v12.9l.6 -15.7v17.9l.6 -2.1v-13.8l.6 2.8v17.9l.7 -23v21.3l.6 -13.5v-10.2l.6 2.4v8.8l.6 6.2v-10.2l.6 13.4v-17l.6 9.9v11l.7 1.6v-26.3l.6 9.8v19l.6 -22v14l.6 -12.4v-3.7l.6 -8.1v14.7l.6 -8.1v16l.6 -16.9v8.2l.6 13.1v-104.6l.6 34.4v74.1l.6 -3.1v23.7l.6 -16.8v13.9l.6 -3.6v10l.5 -4.9v9.3l.6 -8.6v31.3l.6 .2v-25l.6 -41.9v43.3l.6 19.3v18.6l.6 -18.2v23.5l.5 -26.1v8.9l.6 16.8v-32l.6 16v-13.1l.6 18.9v-10.9l.5 10.6v-22l.6 11.4v11.4l.6 4.4v-18.6l.5 17.7v-20.8l.6 12.9v-12.8l.6 4.9v-5.1l.5 -3.7v16.3l.6 3.9v-9.4l.5 11.8v-18.3l.6 19.9v-12.1l.5 -15.7v16.5l.6 -12.2v20.2l.6 .2v-20.1l.7 28.3v-23.2l.7 10.3v-87.9l.7 -40.8v125.6l.6 -8.8v13.2l.7 -8.9v9.9l.7 -8.1v17l.7 -4.7v-11.7l.6 12.9v-19.8l.7 .3v15.1l.7 -13.2v15.3l.6 4.9v-24l.7 -2.3v11.5l.6 13.9v-24.6l.7 18.8v-98l.6 -44.3v135l.7 -21.1v20l.6 9.6v-21.4l.7 20.9v-14.2l.6 21.1v-30.3l.7 6.5v23.2l.6 -18.7v-5.4l.7 -3.7v23.7l.6 5.3v-23.4l.6 -3.8v26.6l.7 -21.6v15.3l.6 3v-98.9l.6 -42.7v135.8l.6 6.2v-13.4l.7 -10.5v25.5l.6 -8.1v-20.2l.6 20.8v-19.4l.6 20.3v-16.7l.6 -4.4v17.8l.6 -13.7v13.7l.6 3.3v-14.9l.6 -3.9v29.7l.7 -35v19.6l.6 4.9v-52.6l.6 -21.8v71.6l.6 -17.9v26.1l.6 -24.1v15.5l.6 -13.3v11.6l.6 -11.6v19.7l.5 -25.5v20l.6 4.5v-19.7l.6 12.9v-15.4l.6 3.1v25.3l.6 -3.5v-18.8l.6 13.5v-13.9l.6 24v-110.9l.5 -46.2v139.6l.6 2.2v-15.9l.6 2.7v15.4l.6 -10.6v10.6l.5 -9.5v16.6l.6 -3.4v-13.6l.6 -1.1v13.2l.6 -16.3v19.6l.5 -13v8.9l.6 -10.3v15.3l.5 -18.4v14.4l.6 -7.6v-40.5l.6 -20.3v69.8l.5 6.8v-29.6l.6 28v-18.7l.5 -4v24.2l.6 -30.7v24.6l.6 -15.4v19.4l.6 -1v-22.2l.7 22v-19.4l.7 10.4v-14.7l.6 8.6v14.2l.7 -5.8v-129.5l.6 41.4v92.1l.7 -4.3v-14.5l.6 -4.4v24.7l.6 -22.3v21.1l.7 -.4v-17.3l.6 6.6v14.1l.6 -14.2v8.7l.7 -14v10.9l.6 5.2v-17.8l.6 21.2v-146.8l.7 44.8v89.4l.6 .2v12.2l.6 2.4v-14.9l.6 7.6v-20.9l.6 7.7v22.9l.7 -7.6v-20.2l.6 8.5v25.6l.6 -17.9v-18.2l.6 3.2v20l.6 19.2v-159l.6 43.2v87.8l.6 5.3v-17.2l.6 14.3v-15.6l.6 16.2v-14.3l.6 3.2v25.2l.6 -12.6v-19.3l.6 7.4v16.1l.6 -17.8v18.6l.6 -5v-19.2l.6 -2.1v27.7l.6 15v-37.3l.5 14.4v-58l.6 18v36.5l.6 -4.8v15.5l.6 -20.6v14.1l.6 -13.9v14.6l.5 5.3v-15.7l.6 20v-16.3l.6 -9.3v28.6l.6 -19.9v11.9l.5 -15.3v22.9l.6 -30.3v18.7l.6 -20.2v23.2l.5 -13.2v16l.6 -.4v-11.1l.5 -6.3v11.3l.6 -15.1v17.2l.6 -19.1v22.3l.5 8.1v-25.1l.6 20.2v-15.1l.5 2.9v-13.6l.6 8.6v24.6l.7 -31.9v27.2l.6 -1.9v-22.4l.6 21.1v-22l.7 19.9v-20.7l.6 19.3v-22.8l.6 27.7v-26.6l.7 25.2v-22.3l.6 .5v16l.6 -3.1v-10.3l.6 3.7v20.4l.6 -20.8v16.9l.7 8.5v-22.1l.6 -6.9v20.6l.6 -19.4v11.7l.6 15.7v-30.8l.6 9.4v-11.9l.6 -2.6v29l.6 -.5v-21.3l.6 20.2v-19l.6 12.1v-15.6l.6 19.3v-16.2l.6 11.7v-13.4l.6 16v-15.5l.6 8.3v-74.6l.6 49.2v37.1l.6 2.2v-25.1l.6 21.3v-23l.6 2.6v9l.6 -13.8v28.6l.5 -4.9v-24.2l.6 23.4v-18.6l.6 -1v22.3l.6 -20.3v19.5l.6 -26.5v32.4l.5 -13.3v-12l.6 6.5v22.2l.6 -11.7v-15.7l.5 -6.9v22.4l.6 1v-17.8l.6 -.7v21l.5 -21.8v28l.6 -7.1v-20.8l.6 18v-17.9l.5 24.4v-25.9l.6 42.4v-39.2l.5 16.5v-21l.6 19.3v-12.9l.5 -1.7v18.6l.6 9.3v-25l.6 -64.4v79.1l.7 -19.1v20.2l.6 -23.3v31.4l.6 -8.7v-20.6l.6 18.4v-17.6l.6 15.2v-15.5l.7 31.1v-33l.6 3v24l.6 -30.1v27.9l.6 -19.1v18.8l.6 1.8v-18l.6 15.3v-22.8l.6 8.8v22l.6 -29.6v20.3l.6 -23.6v25l.6 -14.9v22.4l.6 -4.2v-22.2l.6 -5v16.4l.6 11.9v-22.4l.6 3.2v13.2l.6 -17.3v17.1l.5 7.1v-25.8l.6 4.2v20.9l.6 -1.7v-27.4l.6 2.1v16.6l.6 17.9v-80.4l.5 38.7v29.2l.6 -22.8v21.8l.6 -1v-20.6l.6 24.7v-9.8l.5 -11.9v20l.6 -21.7v22.3l.6 -20.2v14.6l.5 12.1v-27.1l.6 3.9v14.9l.6 -21.8v23.9l.5 -20.7v24.7l.6 -.6v-14.9l.5 19v-30.8l.6 4.1v20.2l.5 4v-19.6l.6 24.3v-30.4l.6 .2v18.6l.6 -16.5v22.6l.6 -8.6v-11.3l.6 -6.2v14.7l.6 -17.9v27.2l.6 -21.7v13.8l.6 -15.2v20.1l.6 -23v28l.6 -22.3v24.2l.6 -7.9v-87.3l.6 84.3v-16.5l.6 4.8v19.6l.6 -23.1v25.7l.6 -24v15.5l.6 6.8v-24.3l.6 22.5v-32.8l.6 33.6v-111.1l.6 24.4v83.7l.6 -1.1v-16l.6 20.9v-25l.5 .8v34.1l.6 -39v23.9l.6 -4.4v-11.1l.6 19.5v-23.1l.5 18.8v-13.5l.6 27.8v-33.9l.6 20.9v-22.7l.5 5.6v15.6l.6 4.6v-27.2l.6 31.1v-24.8l.5 21.4v-19.8l.6 39.5v-42.4l.6 -7.1v32.9l.5 -4.9v-23.2l.6 23.2v-22.5l.5 -8.8v24.7l.6 -10.9v14.6l.5 -14.2v18.3l.6 3.6v-23.7l.6 -1.2v24.8l.6 5.9v-29.1l.6 20.2v-33.8l.6 32.6v-17.9l.6 -4v28.7l.6 -.6v-28l.6 22.9v-25l.6 21.1v-20.5l.6 4.9v19.5l.6 -17.5v14.2l.6 4.7v-26.7l.6 4.3v21l.6 -27.8v30.7l.6 -2.6v-27.5l.5 22v-16.9l.6 .1v18.4l.6 -21.2v20l.6 5.8v-25.6l.6 5.1v16.2l.5 -15.7v33.5l.6 -44.3v33.7l.6 -4.9v-26.9l.5 7.4v20.3l.6 -17.2v20.9l.6 -25.1v17.3l.5 2v-23.1l.6 20.3v-13.7l.5 1.6v22.9l.6 -34.2v31.9l.6 -21v21.2l.5 -5v-25.8l.6 31.8v-24.9l.5 35.2v-34.2l.6 -5.7v23.8l.6 -1.7v-21.7l.6 -3.6v27.5l.6 -24.5v26.1l.6 -2.6v-17.4l.6 -1.9v28.3l.6 -28.9v16.8l.6 4.4v-18.5l.6 14.9v-19.2l.6 .2v25.4l.5 2.7v-28.6l.6 7.3v13.1l.6 8v-26.6l.6 23.4v-24.6l.6 34.6v-35.4l.5 24.8v-21.2l.6 -6.6v20.7l.6 12.8v-31.1l.6 .7v24.1l.5 -21.2v23.2l.6 -3.4v-21.4l.6 23.2v-24.5l.5 30.4v-27.1l.6 17v-13.8l.6 14.2v-25.1l.5 32.5v-25l.6 -1.6v16.1l.5 12.2v-28.3l.6 .6v34.4l.5 3.7v-38.8l.6 17.2v-15l.6 21.8v-23.5l.6 -1.9v29.2l.6 -26v27.9l.6 -32.7v31l.6 -24.8v35.6l.5 -35.8v19.3l.6 7.6v-29.4l.6 31.8v-28.9l.6 16.8v-19.2l.6 17.7v-22.3l.6 -5.2v40.9l.5 -37.6v24.1l.6 -22.5v39.9l.6 -39.6v20l.6 7.7v-24.8l.5 24.5v-20.3l.6 29v-27.3l.6 16.7v-21.7l.6 -3.8v30.3l.5 3.6v-31.8l.6 29.2v-31l.5 4.4v22.9l.6 -1.8v-80.1l.6 17.2v68l.5 4.4v-27.4l.6 2.6v23.8l.5 -4.4v-18.3l.6 15.3v-21.7l.6 26.9v-23.4l.6 27.2v-32.9l.5 3.2v22.6l.6 -30.4v39.2l.6 -28.6v19.9l.6 -20.9v17.8l.6 6.7v-30.2l.6 26.5v-20.1l.6 -5.4v21.4l.5 -6.2v-21.2l.6 8.1v24.6l.6 -3.9v-23.6l.6 20v-21.8l.5 18.8v-15.5l.6 35.6v-37.2l.6 5.6v28.5l.6 -36.1v38.1l.5 -34v14.9l.6 -13v21.8l.5 1.8v-28.6l.6 6.9v26.2l.6 -7v-22.8l.5 -3v29.2l.6 1.1v-23.7l.5 -1.8v19.9l.6 -20.7v25.7l.5 -31.6v23.2l.6 .3v-15.8l.6 -5.8v31.4l.6 -10.4v-21.9l.6 10.1v21.5l.6 -33.4v35.3l.5 -1.1v-20.9l.6 -15.2v35.6l.6 -5.6v-20.3l.6 -7.7v23.8l.6 22.9v-37.5l.5 21.1v-25.3l.6 2.4v24.7l.6 2.8v-29.7l.5 4.1v14l.6 -18.9v26.1l.6 -3.1v-31.2l.5 11.9v26.5l.6 -30.8v31.1l.6 -6.6v-27.6l.5 32.4v-23.9l.6 -3.5v22.7l.5 -18.5v18.6l.6 -26.4v25.9l.5 -29.3v25.7l.6 -21.3v48.2l.6 -41.1v23.6l.6 7.7v-38.5l.6 21.5v-18.4l.5 1.6v19.2l.6 -22.9v25.3l.6 1.9v-31.8l.6 10.1v27.5l.5 -31.7v31.9l.6 -11.2v-26l.6 2.7v25.9l.6 -19.2v23.4l.5 -31.4v23l.6 -22.5v34.6l.6 -4v-23.9l.5 2.3v32.6l.6 -36v22.3l.5 -3.4v-20.5l.6 3.3v20.4l.6 -23v22.7l.5 1.9v-28.4l.6 8.2v22.3l.5 1v-32.9l.6 24.7v-20.3l.6 3.3v21.1l.6 -22.2v17l.5 4.5v-23.1l.6 .2v20.1l.6 -19.6v29.1l.6 2.2v-30.3l.5 31.3v-33.5l.6 40.7v-39.8l.6 32.8v-32.2l.6 -3v23.5l.5 -22v24.6l.6 4.3v-32.2l.5 10.7v13.9l.6 4.6v-29.7l.6 -2.1v31.9l.5 -1.1v-19.6l.6 17.7v-22l.5 25v-23.6l.6 1.9v22.6l.5 -4.1v-22.2l.6 20v-24.5l.6 28.7v-28.6l.6 2.3v27.6l.6 -30.8v32.9l.5 -25.8v19.3l.6 1.7v-27.1l.6 6.8v32.9l.6 -7v-25.6l.5 -4.4v24.9l.6 3.9v-32.5l.6 32.8v-32.7l.5 10.2v27.6l.6 -34.6v29.1l.6 6.1v-43.2l.5 37.6v-28.1l.6 20v-19l.5 1.2v19l.6 2v-18.9l.5 -.9v20.2l.6 -7.4v-21.8l.6 9.6v23.8l.5 -26.5v28.5l.6 -31v40.2l.6 -12.7v-21.6l.6 22.9v-29.4l.5 28.7v-25.2l.6 -10.3v32.5l.6 2v-28.5l.6 30.2v-27.2l.5 -.6v20.1l.6 -22.2v31.1l.6 -22v24.2l.5 2.3v-33.4l.6 -.7v27.5l.5 -23.8v25.4l.6 -27.5v30.8l.5 -31.6v25.6l.6 -21.9v27.9l.6 -8.8v-20.7l.5 -3.2v34.3l.6 -.7v-26.9l.6 -8.6v25.8l.5 2.6v-26.5l.6 5.3v17.7l.6 -25v36.3l.6 -8.7v-24.8l.5 4v22.1l.6 -27.4v26.7l.6 -5.6v-17.1l.5 .4v24.7l.6 4.4v-38.3l.6 4.2v34l.5 -17.5v-17.9l.6 2.5v30.2l.5 -6.3v-22.3l.6 30.4v-31.3l.5 -3.9v28.2l.6 -21v26.1l.6 -26.5v26.2l.5 -32.1v35.3l.6 -25.7v22.2l.6 -3.3v-21l.6 25.8v-29.8l.5 -.5v29.6l.6 -5.3v-22l.6 26.9v-27.2l.5 1.3v22l.6 11.2v-45.3l.5 39.4v-30.4l.6 28.3v-26.7l.6 26.9v-34.9l.5 37.4v-28.9l.6 -3.7v28.6l.5 -7.6v-15.9l.6 23.7v-31.2l.6 54.7v-50.7l.5 31v-34l.6 3.6v27l.6 -2.7v-27.8l.6 2.2v22.5l.5 -15.9v21.2l.6 -26.5v27.3l.5 -6.6v-21.8l.6 39.3v-40.3l.6 1.7v30.2l.5 -27.3v30.5l.6 -38.7v33.5l.5 4.1v-32.2l.6 -1.6v22.8l.6 -24.8v29.7l.5 5.3v-31.1l.6 19.7v-155.5l.6 164.7v-29.5l.5 -4v32.9l.6 -32.1v41.2l.6 -41.5v35.9l.5 -27.9v31.2l.6 -33.7v30.9l.6 -9.1v-20.6l.5 29.5v-35.3l.6 -2.3v31.4l.5 -21.4v22l.6 -35.5v42.8l.6 -39.9v45l.5 -14.3v-26.2l.6 37.1v-38.6l.5 -4.6v34.4l.6 -31.3v36.6l.6 -9.6v-20.7l.5 32v-38.5l.6 5.7v22.6l.6 -1.2v-23.3l.5 23.7v-25.1l.6 30.9v-30l.6 36.9v-34.2l.5 .9v28.9l.6 -4.8v-26.1l.5 -7.4v40.6l.6 -1.7v-34.6l.5 32.7v-31.5l.6 29.9v-27.9l.6 26v-27l.5 -4.5v35l.6 -30.3v25.2l.6 -2.6v-24.4l.5 4.7v18.6l.6 -22.4v27.2l.6 2.8v-29.5l.5 26.6v-20.1l.6 -7.1v30.8l.5 -27.7v26.8l.6 -25.4v15.8l.6 -23.1v29.4l.5 4.8v-31l.6 -3.5v30l.5 9.4v-33.6l.6 23v-25.9l.6 25.2v-20.9l.5 20.5v-17.1l.6 18.1v-26l.6 29.5v-29.4l.5 -4v30.6l.6 3.5v-39.4l.5 5.8v28.5l.6 -28.1v32.1l.6 -31.4v30.7l.5 -28.9v33.5l.6 -.8v-31.4l.5 43.8v-44.4l.6 34.5v-36.3l.5 38.3v-43.1l.6 33.2v-29.3l.6 5.1v21.6l.5 -20.4v35.2l.6 -2.6v-35.7l.6 23.6v-22.8l.5 24v-27.3l.6 28.8v-27.3l.5 42.3v-36.8l.6 -4.9v30.5l.6 -35v41.2l.5 -14.1v-17.1l.6 24.2v-31.5l.5 38.3v-33.7l.6 -8.8v35.7l.6 -30.7v33.4l.5 -32.7v34.8l.6 -35.4v29.5l.6 -4.8v-24.7l.5 31.9v-33.8l.6 5v28.6l.5 -32.6v30.5l.6 -32.6v35.6l.5 2.1v-37.5l.6 -.1v31l.5 5.5v-34.6l.6 31.2v-24l.6 -5.2v34.2l.5 -.1v-35.7l.6 7.5v24.8l.6 -1.1v-32.8l.5 41.4v-41.2l.6 35.6v-30.3l.5 1.3v27.1l.6 -28.2v22.3l.5 2.1v-32.1l.6 4v27.3l.6 -23.9v23.8l.5 -27.2v33.4l.6 -2.5v-28.8l.6 33.5v-35.6l.5 31v-25.8l.6 29.9v-35.1l.5 1.3v31l.6 -33.5v43l.6 .1v-42.4l.5 29.1v-26.7l.6 29.8v-37.1l.5 46v-46.7l.6 35.7v-29.7l.5 1.2v36.9l.6 -5.9v-32.9l.6 .7v32.7l.5 -6.1v-27.8l.6 23.5v-24.2l.5 28.3v-33.3l.6 40.1v-33.1l.6 3.3v28l.5 -.2v-33.7l.6 1.6v39.2l.5 -37.2v44.6l.6 -13v-31.2l.5 31.5v-30.1l.6 36.4v-36.3l.6 -1.2v43.8l.5 -44.6v30.5l.6 -3.3v-24.2l.5 36.3v-37.2l.6 2.1v25.2l.6 -34.8v36.4l.5 -29.6v28l.6 -1v-25.7l.5 .7v31.7l.6 3.9v-32.1l.6 -8.7v31.5l.5 13.2v-42.1l.6 42.7v-39.7l.5 -2v28.3l.6 .8v-31.3l.5 36.6v-35.2l.6 -4.4v30.5l.5 -27.3v30.9l.6 -4.3v-26.2l.6 -1.9v27.2l.5 -24.5v37.8l.6 -9.4v-29.5l.6 41.6v-40.8l.5 -.9v31.4l.6 0v-28.1l.5 -3.3v28l.6 17.8v-44.1l.5 -2.7v31.3l.6 8.9v-45.2l.6 35.1v-29.7l.5 -.7v45.2l.6 -38.9v26.6l.5 -27.1v27.9l.6 1.1v-38.7l.6 40.3v-31l.5 20.9v-27.8l.6 4.8v34l.5 -40.4v36.9l.6 2v-33.4l.5 2.9v28.4l.6 -6.4v-28.7l.6 -4.8v40.9l.5 -34.2v33.8l.6 -33.7v37.4l.5 -40.5v28.5l.6 12.4v-36.1l.5 37v-34l.6 1.1v34.8l.5 -37v36.7l.4 -32.9v15.5"/>
<path class="c" stroke="#bf00bf" d="M395.9 441.3l130.2 -63.6l76.2 -31.3l54 1.1l41.9 34.2l34.3 49.7l28.9 34.8l25.1 .7l22.1 -8.7l19.8 -13.4l17.9 6.7l16.3 22.1l15.1 14l13.9 2.7l12.9 12.1l12.2 16l11.4 21.5l10.7 -8.1l10.1 0l9.7 -2.6l9.1 -7.4l8.8 12.7l8.3 7.4l8 .6l7.7 15.4l7.4 2.7l-.1 .2l7.1 -3.3l6.8 18l6.6 -12l6.4 -16.1l6.1 3.4l5.9 1.3l5.9 -.7l5.5 1.4l5.5 1.3l5.2 1.3l5.3 -2.6l4.9 6.7l4.8 3.3l4.9 3.4l4.6 -9.4l4.5 -12.7l4.4 10l4.4 1.3l4.2 -8l4.1 8l4 8.1l4 1.3l3.9 -6.7l3.8 6.7l3.7 -5.3l3.6 -12.1l3.7 -2.7l3.4 2.7l3.5 5.4l3.5 3.1l3.3 2l3.2 -15.9l3.3 3.3l3.1 -.5l3.1 -1.3l3.1 -10.5l3 -3.8l2.9 11.7l2.9 -5.8l2.9 13.6l2.8 -7l2.8 6.9l2.8 3.9l2.7 1.1l2.6 -8.7l2.7 -14.3l2.5 22.8l2.6 -1.9l2.5 -9.4l2.5 -7.5l2.5 10.6l2.4 1.7l2.4 -6.3l2.3 -3.3l2.4 13.3l2.3 -26.4l2.3 9.6l2.2 -18.1l2.2 .7l2.2 5.5l2.2 -2.7l2.1 -2.8l2.2 -.8l2.1 40.3l2 .7l2.1 -26l2 -7.7l2 -1.4l2 3.4l2 4.5l1.9 17.1l2 -8.9l1.9 -2l1.8 -6.8l1.9 7.7l1.9 7.7l1.8 -19.1l1.8 12.5l1.8 -7.2l1.8 7.2l1.8 7.6l1.7 -14.2l1.7 18.2l1.7 13.9l1.7 -5.8l1.7 -14.2l1.7 12.6l1.7 -21.4l1.6 27.2l1.6 3.8l1.6 5.1l1.6 -1.9l1.6 -13.8l1.6 .4l1.5 .2l1.6 1.9l1.5 -18.5l1.5 9.4l1.6 -.8l1.5 9.3l1.4 22.5l1.5 -23.3l1.5 25.7l1.4 -35.1l1.5 7.7l1.4 -6.1l1.4 -12.3l1.4 -.1l1.4 5.1l1.4 -1l1.4 3.5l1.3 -3.2l1.4 3.8l1.3 1.7l1.4 -8.8l1.3 26.4l1.3 -21.7l1.3 10.6l1.3 -3.9l1.3 12.1l1.3 -7.9l1.3 -3.5l1.2 -16.7l1.3 4.4l1.2 -18.8l1.3 1.6l1.2 8.8l1.2 9.1l1.3 6.4l1.2 -3.9l1.2 1.1l1.2 -13.6l1.1 -1.1l1.2 18.5l1.2 3.3l1.2 -15.8l1.1 1.9l1.2 21.6l1.1 -13.3l1.1 -12.7l1.2 -2.2l1.1 -1.6l1.1 13.8l1.1 -4.2l1.1 -6.2l1.1 9.4l1.1 -24.9l1.1 -.8l1.1 0l1 -5.2l1.1 -6.8l1 9.1l1.1 8.4l1 -.3l1.1 23l1 -.7l1 15.3l1.1 -1.9l1 8.2l1 1.2l1 -28.6l1 -1.7l1 -29.9l1 36.7l1 -6l1 9.3l.9 -3.4l1 8.5l1 2.9l.9 -6.5l1 7.5l.9 -10.6l1 -3l.9 2.3l1 -4.9l.9 -15.4l.9 12.9l.9 1.1l1 -21.3l.9 14.7l.9 -4.6l.9 -5l.9 8.2l.9 5l.9 15.9l.9 -13.2l.9 8.4l.8 -3.9l.9 -2.7l.9 -1.1l.9 12.2l.8 -23.1l.9 7.3l.8 -18.1l.9 .9l.8 -5.1l.9 19.9l.8 -19.5l.9 -5.7l.8 12.2l.8 22.4l.8 -21.7l.9 21.4l.8 -5.3l.8 11.3l.8 8l.8 5l.8 -9.8l.8 -10.9l.8 -18.6l.8 5.1l.8 -9.5l.8 -17.3l.8 31.4l.8 -30.4l.7 14.2l.8 -2.5l.8 15.4l.7 -5.9l.8 6.5l.8 -5.2l.7 -6.1l.8 10.8l.7 4.1l.8 -28.1l.7 6.9l.8 -10.8l.7 8.8l.8 -8l.7 11.3l.7 3.2l.8 0l.7 18.6l.7 -16.2l.7 3.7l.7 -6.3l.8 11.4l.7 4.5l.7 -28.4l.7 15l.7 -1.6l.7 20.8l.7 -10.3l.7 5.4l.7 5.8l.7 -10.8l.7 30.5l.7 -26.2l.6 -14.8l.7 11.4l.7 -3.2l.7 3.3l.7 -4.3l.6 3.9l.7 -1.8l.7 7.7l.6 1.2l.7 -8l.6 5.6l.7 -18.1l.7 13.8l.6 -5.3l.7 -5.5l.6 4.6l.7 2.5l.6 -2.4l.6 21.3l.7 -18.6l.6 14.3l.7 -10.6l.6 -8.6l.6 -.9l.7 -5.5l.6 1.7l.6 22.7l.6 -16.1l.7 3.6l.6 10.4l.6 -14.6l.6 -.6l.6 -6l.6 11.8l.6 1.2l.6 -2.8l.6 -4.3l.6 5l.6 -17.1l.6 4.3l.6 -12.7l.6 -4.4l.6 10.5l.6 -8.1l.6 -4.1l.6 -4.6l.6 -20.7l.6 -36.8l.6 -42.4l.5 -42.3l.6 42.3l.6 42.4l.6 39.4l.5 -.6l.6 5.9l.6 2.8l.6 8.2l.5 9.2l.6 -23.4l.5 9.7l.6 -2.6l.6 -8.4l.5 -15l.6 14.8l.5 -9.5l.6 -12l.5 9.2l.6 4.7l.5 -8l.6 11.3l.5 -14.9l.6 2.5l.5 11l.6 -5.6l.5 16.2l.5 2.8l.6 13.4l.5 -22.7l.5 1.1l.6 -2.7l.5 -4.2l.5 19.4l.6 -16.5l.5 10l.5 3.1l.5 -6.6l.5 -6.6l.6 15.1l.5 -3l.5 -16.7l.5 -2.3l.5 24l.5 -13.9l.6 11.6l.5 3.5l.5 5.6l.5 3.3l.5 -8.5l.5 -5.6l.5 -4.3l.5 12.2l.5 13.4l.5 -5.6l.5 -4l.5 -11l.5 -6.1l.5 2.5l.5 2.4l.5 2.7l.4 -1.7l.5 -3.2l.5 18.6l.5 -2l.5 -11.5l.5 -20.6l.5 14.3l.4 -5.8l.5 11.6l.5 3.7l.5 -6.4l.4 9.8l.5 -2.4l.5 -3.7l.5 2.6l.4 -4.1l.5 -8.6l.5 9.6l.4 -11.9l.5 4.4l.5 -23.9l.4 -32.1l.5 -32.1l.5 32.3l.4 32.3l.5 24.2l.4 4.7l.5 -3.2l.5 9.6l.4 10.1l.5 8.5l.4 -13.6l.5 -5.2l.4 5.6l.5 -.9l.4 -3.2l.5 8.4l.4 -9.4l.5 3.2l.4 6.7l.5 -6.1l.4 15.6l.4 -22.1l.5 -9.8l.4 .8l.5 12.8l.4 20.5l.4 -1.3l.5 4.2l.4 -3.9l.4 -21l.5 3.1l.4 -10l.4 -1l.5 1.7l.4 -9.4l.4 -13l.4 14.8l.5 -7.7l.4 14.4l.4 2.3l.4 5.1l.5 -.4l.4 7.2l.4 3l.4 -12.2l.4 19.4l.5 2.3l.4 -2.8l.4 -9.7l.4 -1.4l.4 19.8l.4 -12.7l.4 -8.5l.4 12.1l.5 -2.6l.4 -8l.4 1.3l.4 -13.1l.4 -10.4l.4 14.6l.4 -22l.4 13.1l.4 -9.9l.4 16.1l.4 5.1l.4 22.3l.4 -2.7l.4 16.6l.4 -5.9l.4 -8.2l.4 .9l.4 -2.4l.4 -18.6l.4 .7l.4 -3.1l.4 -2.4l.3 13.9l.4 9.5l.4 -10.6l.4 7.2l.4 -2.7l.4 -10l.4 15.4l.4 -2.2l.3 9l.4 -5.1l.4 -11l.4 20.2l.4 -18.6l.4 -6.2l.3 -5l.4 9.1l.4 10.1l.4 .8l.3 4.3l.4 6.7l.4 -4.8l.4 .6l.3 -12.1l.4 23.6l.4 11.7l.4 -4.9l.3 -21.3l.4 -2.9l.4 12.1l.3 -16.7l.4 -6.8l.4 -10.4l.3 9l.4 -8l.4 15.1l.3 6.8l.4 -5.4l.4 -9.1l.3 -6.2l.4 8.4l.3 11.4l.4 -8.8l.4 6.7l.3 7.1l.4 2l.3 -1.6l.4 -3.7l.4 -5.7l.3 2.1l.4 1.1l.3 -2.7l.4 9.8l.3 -19.8l.4 4.8l.3 -4.7l.4 -3.5l.3 8.2l.4 -5.2l.3 5l.4 -7.8l.3 .8l.4 -7.6l.3 20.7l.4 -14.8l.3 -1.8l.4 15.2l.3 -10.1l.3 15.4l.4 -19.2l.3 -4.1l.4 13.4l.3 -4.7l.3 -3.2l.4 19.1l.3 -10.2l.4 -2.3l.3 -1.4l.3 -4.1l.4 -17.8l.3 13.6l.3 4.1l.4 2.2l.3 5.5l.3 8.7l.4 9.5l.3 8.1l.3 -8.8l.4 10l.3 -32.3l.3 -1.7l.4 -6.5l.3 11.2l.3 -8.9l.3 -3.6l.4 8.6l.3 -.9l.3 6.3l.3 6.1l.4 7.8l.3 -6.2l.3 5.1l.3 -33.3l.4 -28.8l.3 -28.9l.3 28.9l.3 29.1l.3 19.6l.4 4.7l.3 8.7l.3 17.9l.3 -17.3l.3 -2.3l.4 -2.8l.3 11.2l.3 2.2l.3 -21.1l.3 10.5l.3 2.7l.4 -3.9l.3 18l.3 -18l.3 15.4l.3 3.8l.3 -1.9l.3 -26.9l.3 10.8l.3 .1l.4 -.6l.3 -.8l.3 -4.3l.3 8.7l.3 2.1l.3 -12.8l.3 14.4l.3 -11l.3 6.6l.3 .6l.3 -11.3l.3 6.9l.3 1.2l.3 -4l.3 .9l.3 9.3l.3 -9.1l.3 10.5l.3 -7l.3 .4l.3 .4l.3 5.5l.3 -5.4l.3 -8.6l.3 -3l.3 20.8l.3 -2.5l.3 .1l.3 9.1l.3 -27.8l.3 10.8l.3 1.6l.3 .5l.3 -6.5l.3 7.8l.3 -5.2l.3 2.8l.2 8.4l.3 -12.7l.3 -5.9l.3 7.8l.3 2.8l.3 -3.6l.3 2.9l.3 .4l.3 -5.6l.2 18.6l.3 -12.6l.3 -4.5l.3 9.9l.3 -11.4l.3 -2.5l.3 3.8l.2 12.8l.3 -.2l.3 -7.2l.3 -9.9l.3 13.7l.3 .9l.2 -7.6l.3 -6.3l.3 -.8l.3 21.4l.3 -9l.2 5.7l.3 -25.7l.3 49.5l.3 -33.9l.3 -3.2l.2 9.8l.3 -9l.3 2.4l.3 .4l.2 7.9l.3 -5.9l.6 -8v14.7l.8 -14.5v15.6l.8 -14v20.6l.8 -1v-16.6l.8 -12.8v15.7l.8 -2.4v16.8l.9 -15.3v14.2l.8 .7v-31.6l.7 -15.2v-16l.8 32v9.1l.8 14.6v-12.5l.8 -4.2v27.8l.8 -14.7v-7.5l.8 -36.3v37.3l.8 -5.7v9.3l.7 -36.6v49.5l.8 -20.3v-44.7l.8 29.5v-21.3l.7 -10.6v-10.7l.8 31.9v-25.9l.8 47.2v-60.5l.7 68.2v-68.5l.8 74.3v-61.2l.7 59.2v-62.1l.8 -30.6v61.2l.7 25.4v10.9l.8 2v-18.7l.7 13v-8.2l.7 -.6v22.5l.8 -10.8v-10.7l.7 -13.2v33.9l.7 -40v27.9l.7 5.3v-50.7l.8 31.5v-22.2l.7 -33.2v-33.3l.7 66.5v62.5l.7 -30v10l.7 -70v66.7l.7 -11.5v11l.7 -16.4v13.9l.7 -10.9v7.5l.7 -.4v-13.1l.7 10.5v-8.6l.7 5.7v9.8l.7 -13.9v18.1l.7 -17.6v9.9l.7 14.4v-42l.7 -27.5v-27.6l.7 55.1v27l.6 7.2v-20.3l.7 15.3v-20.6l.7 25.4v-29.1l.7 7.5v11.5l.6 12.9v-13.6l.7 2.1v-2.8l.7 -35.3v42.4l.6 6.5v-10.2l.7 10.9v-17.7l.6 8.2v-24.4l.7 20v5.4l.6 -8.3v9.1l.7 7.7v-10.2l.6 15.7v-21.5l.7 8.2v-7.1l.6 16.2v-33.5l.7 -22.8v-22.9l.6 45.7v48.3l.7 -33.7v11.5l.6 4.6v-19.9l.6 .7v12.7l.7 -2.1v-5.9l.6 -1.1v11.7l.6 12.1v-16.9l.6 11.1v-45l.7 27.5v15.1l.6 15v-69.7l.6 43.8v7.2l.6 -19v11l.6 -4v17.1l.6 -14.3v18.2l.7 11.1v-26.8l.6 14.9v-40.9l.6 35.1v-6l.6 -.3v-14.8l.6 -14.5v-14.5l.6 -1.5v41.1l.6 -34.9v59.2l.6 -13.1v-16.8l.6 21.8v-26.6l.6 4.7v7l.6 6.4v-43.5l.5 40.6v-10.7l.6 22.8v-11.6l.6 -.4v12.5l.6 -.9v-24.7l.6 7.1v12l.6 -14.1v15.6l.5 -18.5v18.6l.6 -22.2v12.8l.6 -10.6v11.9l.6 -1.2v-38.2l.5 32v-26.4l.6 35.9v-53.8l.6 51.1v-55.2l.6 -55.2v27.6l.5 27.6v52.9l.6 6.7v-84l.5 29.3v58.3l.6 4.5v-21.6l.6 -7.1v9.4l.5 -4.4v22.7l.6 -7.9v-52.1l.5 -48.4v-48.5l.6 96.9v48.4l.6 7.5v-96.6l.7 104.8v-17.3l.8 12.3v-37.1l.7 -52.9v52.9l.7 35v-44.6l.7 -2.6v43.1l.8 .5v-24.1l.7 31.1v-19.1l.7 10.4v-11l.7 1.3v4.7l.7 8v-11.1l.7 5.1v-28.3l.7 3.5v27.2l.7 -66.7v63.9l.7 7.1v-45.8l.7 -77.5v77.5l.7 46.4v-35.3l.7 21.2v12.7l.6 -10.5v15.7l.7 -10v-17.7l.7 12v11.3l.7 -34.3v28l.7 -28v34.1l.6 -14.3v20.7l.7 -17.4v16.8l.7 -52.8v-80.1l.6 40.1v71.1l.7 21.8v-23.2l.7 10.3v-6.4l.6 13.6v-53.1l.7 46.6v-41.7l.6 19.8v-63.9l.7 -4v91.2l.6 6.7v-14.7l.7 -15.5v21.9l.6 17.9v-84.7l.7 46.3v26.3l.6 -12.7v14.3l.6 -13.5v27.9l.7 -33.6v38.5l.6 -38.2v24.6l.7 -19.6v11.1l.6 1.4v-8.3l.6 3.7v6.1l.6 -7.2v-7l.7 24.1v-23.9l.6 .7v14.8l.6 -6.6v-5.6l.6 8v-17.4l.6 6.2v14l.6 -4.2v-3.4l.7 -10.4v17.9l.6 -11.2v9.8l.6 9.7v-24.9l.6 23.5v-26.5l.6 5.2v31.1l.6 -22.5v3.8l.6 -11.4v9.7l.6 .4v-91.8l.6 32.4v84.9l.6 12.5v-20.2l.6 .6v24.4l.6 -28.9v27.2l.5 -16.4v25.8l.6 -13.1v21.2l.6 3.9v-27.6l.6 -36.7v38l.6 24.9v-21.1l.6 17.2v-11.8l.5 35.7v-33.1l.6 24.1v-24.6l.6 16.6v-15.2l.6 26.9v-23.3l.5 .3v12.3l.6 -18.9v20.3l.6 5.2v-30.8l.5 12.6v11.1l.6 -7.1v-13.2l.6 21.8v-15.2l.5 -3.3v8l.6 -2.4v15.5l.5 -18.8v26l.6 -11.6v-11.1l.5 9.9v-15.4l.6 25.1v-26.8l.6 7.5v14.7l.7 -15.9v19.6l.7 -7.3v-85.2l.7 -38.2v119.9l.6 -4.4v-6.7l.7 -3v25.1l.7 -12v-6.4l.7 12.9v-11.5l.6 -11.3v16l.7 -14.4v20.5l.7 -17.4v15.5l.6 -11.3v13.6l.7 -16.4v21.6l.6 -32.9v24l.7 -12.1v-77.7l.6 -41.6v141l.7 -19.6v11.8l.6 -10.6v19.5l.7 -28.2v34.4l.6 -29.6v21l.7 -28.3v28.8l.6 -.4v-24.6l.7 -2.5v20l.6 -6.5v4.3l.6 -7.9v14.1l.7 -23.9v15.3l.6 .5v-83.5l.6 -40.1v122.7l.6 3.3v-16.5l.7 1.9v30.2l.6 -29.6v15.5l.6 -11v12.4l.6 1.9v-14.1l.6 11.3v-21.2l.6 25.9v-20.2l.6 2.3v20.9l.6 -7.9v-16l.7 19.7v-16.5l.6 28.6v-61.4l.6 -19.2v65l.6 1.7v-11.4l.6 -3.3v21.1l.6 -6.6v-9.5l.6 -11.1v25.6l.5 .8v-18.4l.6 11.2v-14.1l.6 7.6v15.1l.6 -24.2v25.4l.6 -6.2v-17.3l.6 11v-4.6l.6 8.7v-95.9l.5 -43.6v144l.6 -7.3v-13.5l.6 15.5v-16.6l.6 -6.7v20.1l.5 -8.1v10.3l.6 -18.6v21.1l.6 -15.2v13.1l.6 -19.5v21.1l.5 -21.3v27.7l.6 -6.3v-12l.5 -5.5v12.3l.6 0v-38.9l.6 -17.7v63.4l.5 -3.1v-23l.6 9v11.8l.5 .4v-10.5l.6 12.4v-12.7l.6 -2.8v24.7l.6 -23.8v15.1l.7 -13.6v14.8l.7 1.3v-22.2l.6 -.3v25.3l.7 -4.5v-124.7l.6 38.8v86.5l.7 -13.4v21.4l.6 2.2v-30.3l.6 25.4v-23.9l.7 3.4v23.2l.6 -7.9v-14.4l.6 14.1v-17.7l.7 28v-19.6l.6 -10.3v19.7l.6 -1.8v-133.4l.7 42.3v78.7l.6 -3.9v18.8l.6 1.2v-16.3l.6 21.7v-26.6l.6 4.5v10.4l.7 15.9v-27.4l.6 .1v14.1l.6 -14v16l.6 -13.2v13.3l.6 1.3v-131.9l.6 40.7v83.9l.6 5.9v-21.9l.6 13.1v-7.6l.6 -.6v25.4l.6 -6.9v-15.7l.6 -1.8v22l.6 -9.3v-16.2l.6 2.4v21.1l.6 -8.9v-10.9l.6 12.8v-15.1l.6 1.7v19.4l.5 -4.5v-53l.6 15.4v30.3l.6 9.5v-9l.6 12.2v-13.7l.6 17.4v-22.2l.5 22.1v-18.3l.6 -5.9v13.1l.6 6.9v-24.7l.6 5.6v24.2l.5 -27.6v14.9l.6 -15.6v33.3l.6 -25.6v9.8l.5 -15.5v24.4l.6 -20.7v16.2l.5 12.3v-31.1l.6 .6v13.8l.6 -3.9v-8.8l.5 2.5v24.3l.6 -25.9v34.3l.5 -40.4v18l.6 -7.5v13.8l.7 .3v-16.3l.6 -4.4v28.2l.6 -26.1v13.2l.7 -.4v-8.8l.6 -7.4v30.1l.6 -33.3v28.3l.7 .7v-23.1l.6 .2v18.7l.6 3.4v-25.2l.6 1.6v32.2l.6 -26.9v12.2l.7 -16.4v15.4l.6 2.2v-19.9l.6 27.2v-38.2l.6 25.8v-12.9l.6 14.6v-17.4l.6 34.3v-29.5l.6 17.3v-24.9l.6 8.4v14.6l.6 2.6v-23.2l.6 5.3v20.3l.6 .7v-25.8l.6 28.2v-23.1l.6 7v-67.3l.6 44.3v31.6l.6 -18.3v29.5l.6 -13.9v-19.2l.6 39v-42.5l.6 21.3v-13.2l.5 17v-23l.6 6.8v23.6l.6 -26.8v18.8l.6 2.6v-17.2l.6 24.8v-14.4l.5 -15.7v33.1l.6 -38.3v37.7l.6 -29.4v8.6l.5 5.1v-10.5l.6 -.2v24.1l.6 -26.5v13.6l.5 9.6v-17.6l.6 8.4v-16.5l.6 6.9v14l.5 5.2v-22.4l.6 17.4v-21.3l.5 2.2v17.7l.6 .6v-14.9l.5 -1.4v24l.6 -26.1v20.5l.6 -74.7v80.5l.7 -29.3v19l.6 7.2v-27.5l.6 14.2v-12.8l.6 -5.4v22.1l.6 -11.9v17.8l.7 -18.6v15.8l.6 -19.4v21.9l.6 -3.6v-18l.6 5.8v25.4l.6 -5.3v-17.3l.6 -2v6.6l.6 13.5v-24.7l.6 -1.2v22.2l.6 -21.9v15.9l.6 -19.1v24.3l.6 10.3v-33.5l.6 14.1v-16.8l.6 -2.9v26.7l.6 -22.7v32.2l.6 -9.8v-18.1l.5 4.8v16.5l.6 -24.5v41.3l.6 -20.3v-19.1l.6 24.2v-21.3l.6 24.8v-67.1l.5 33.9v25.6l.6 -25v27.1l.6 -16.2v19.1l.6 -20.7v21.3l.5 -6.4v-19.4l.6 17.8v-18.9l.6 .5v30.3l.5 -31v24.2l.6 -1.3v-19.3l.6 20.7v-19.4l.5 -1.1v20.5l.6 -19.4v17.8l.5 -18.5v14.7l.6 -7.7v9.8l.5 -18.8v21.1l.6 -9.9v14.6l.6 -22.7v21.6l.6 2.9v-27.2l.6 -2.7v37.9l.6 -37.2v22l.6 -20.9v21.1l.6 3.6v-27.4l.6 3.1v20.9l.6 -21.6v20l.6 5.2v-20.1l.6 15.3v-79.8l.6 88.5v-26.6l.6 19.4v-11.9l.6 -5v18.3l.6 -16.2v17.2l.6 -19v15.9l.6 2.1v-22.3l.6 19.9v-99.3l.6 22.7v87.5l.6 -35v20.2l.6 -11.4v19.8l.5 -24.3v29l.6 -30.2v32.9l.6 -15.4v-16.4l.6 21.6v-19.3l.5 17.4v-17.5l.6 18.9v-20.1l.6 -1.4v18.6l.5 -17.2v19.8l.6 -17.9v17.3l.6 .8v-12.2l.5 12.8v-26.1l.6 27.8v-19.6l.6 19.4v-17.1l.5 -7.5v28l.6 5.8v-29.1l.5 17.2v-15.6l.6 23.3v-26.8l.5 22.7v-19.3l.6 24.6v-23.7l.6 13.6v-16.2l.6 -1v23l.6 3.7v-30.9l.6 4.3v25.3l.6 -22.8v13.4l.6 -15.6v13.7l.6 6.4v-22.3l.6 6.3v19.1l.6 -26.8v35.9l.6 -39.1v32.1l.6 -16.7v22.9l.6 -35.1v36.5l.6 -33.6v17.3l.6 -13.9v20.2l.5 1.8v-21l.6 -5.7v20.6l.6 -20.9v21.2l.6 -19.4v25.8l.6 -27v30.2l.5 -9.1v-20.3l.6 27.9v-25.6l.6 -4.7v16.5l.5 -17.7v40.7l.6 -44.3v35.5l.6 -5.5v-22l.5 30.8v-28.4l.6 17.1v-13l.5 17.4v-22.9l.6 -2v34.6l.6 -13.7v-21.9l.5 -2.1v32.3l.6 -4.9v-24.3l.5 29.5v-21.7l.6 22.5v-28l.6 .6v18.7l.6 -22.5v25l.6 -20.7v25.9l.6 -24.8v13.9l.6 -2.3v-21.7l.6 8.1v21.2l.6 -20.9v21.1l.6 -22.4v14.5l.6 11.9v-23.2l.5 -1.5v23.9l.6 -28.2v21.8l.6 -10.6v14.9l.6 8.2v-24.9l.6 -9.4v40.1l.5 -36.6v15l.6 -19.7v20.5l.6 -25.1v27.9l.6 .3v-21.2l.5 3.9v21.8l.6 -7.6v-25.2l.6 35.7v-27.6l.5 16.2v-10.3l.6 -3.1v29.3l.6 -31.5v17.3l.5 3.5v-19.9l.6 18.6v-14.8l.5 -7.4v36.9l.6 -38.6v24.4l.5 -22.3v28l.6 -5.1v-19.5l.6 -6.1v44.1l.6 -23.7v-16.8l.6 3v25.7l.6 -6.4v-22.1l.6 4.2v23.7l.5 -28v28l.6 -27.3v30.8l.6 -33v21.3l.6 15.4v-35l.6 .3v25.3l.6 -.3v-29.5l.5 3.7v23.2l.6 12.4v-32.2l.6 25.2v-25.7l.6 23.2v-29.6l.5 4v26.3l.6 4.5v-29.4l.6 25.1v-22.7l.6 -9.5v35.1l.5 -32v34.5l.6 -28.1v19.5l.5 -2.7v-17l.6 18.5v-72.4l.6 15.4v57.9l.5 -16.3v12.3l.6 -14.1v20.8l.5 1.2v-31.9l.6 28.3v-20.4l.6 29.8v-32.3l.6 -1.4v23.4l.5 -23.1v26l.6 -26.4v30.2l.6 -25.5v19.3l.6 -23.8v22.9l.6 10v-31l.6 -.8v17.5l.6 -16.8v20.1l.5 20.9v-46.7l.6 9.5v30.7l.6 -30.1v19.6l.6 3.9v-32.8l.5 33.7v-27.5l.6 19.5v-27.6l.6 9.9v20l.6 3.6v-25.9l.5 18.8v-21.3l.6 23.3v-17.8l.5 -.7v20l.6 5.1v-23.2l.6 21.8v-24.8l.5 2.6v15.6l.6 4.2v-19.8l.5 .3v20.8l.6 -1.3v-22.4l.5 19.3v-17.7l.6 18.8v-19.7l.6 12v-11.3l.6 -2.3v24.9l.6 -27.1v23.8l.6 -23.2v22.1l.5 3.1v-27.1l.6 7.7v25.9l.6 -8.6v-25l.6 2.5v25.3l.6 4.4v-30.8l.5 -4.4v33.5l.6 -4.1v-26.1l.6 17.9v-18l.5 1.6v26.3l.6 -1.8v-21.3l.6 21.3v-22.4l.5 28.5v-31.1l.6 23.9v-17.2l.6 20.5v-23.9l.5 2.7v18.7l.6 .2v-17.3l.5 33.6v-35.6l.6 24.5v-28.9l.5 26.3v-31l.6 6.8v20.2l.6 11.6v-31.6l.6 25.4v-27.6l.6 21.5v-25.9l.5 -4.8v41.5l.6 -34.2v35.2l.6 -4.5v-29.6l.6 3.6v25.7l.5 9.9v-36.6l.6 -4v28.1l.6 7.3v-34.6l.6 42v-47.9l.5 36.2v-31.1l.6 6.2v29.9l.6 -8.9v-22.3l.5 31.9v-32.8l.6 26.7v-34.3l.5 3v33.4l.6 -25.1v22.6l.6 2.7v-26.6l.5 1.8v27.5l.6 -3.5v-30.4l.5 21.8v-24.6l.6 43.1v-42.9l.6 34.4v-32.2l.6 -2.1v37.3l.5 -9v-22.3l.6 20.7v-21.4l.6 1.1v32.7l.6 -42.3v36.5l.5 .6v-27l.6 18.7v-17.6l.6 33.4v-42.9l.6 30.1v-23.9l.5 -.1v41.7l.6 -41.7v20.7l.5 3.3v-25.4l.6 -.8v30.4l.6 -9.1v-23.3l.5 .2v29l.6 2v-26l.5 -5.1v28.3l.6 -22.6v19.1l.5 -27.3v49.7l.6 -20.3v-26.1l.6 4.5v29.4l.6 -35.1v29.8l.6 -.7v-24.6l.5 24.3v-27.3l.6 .1v26.8l.6 -28v34.2l.6 -33.6v24.9l.5 -16.9v25l.6 .6v-29.4l.6 -3.1v22.4l.5 .5v-16.9l.6 -7.5v27.2l.6 4.5v-27.3l.5 -3.4v22.6l.6 -16v17.6l.5 4.7v-24.3l.6 .8v16.6l.5 -24.2v27l.6 -24.1v29.5l.6 -7.3v-17.3l.5 -7.9v27.6l.6 -20.7v30.2l.6 -29.4v19.7l.6 -24.3v23.2l.5 14.9v-39.5l.6 25.7v-33.4l.6 29.5v-18.1l.6 26.9v-32.4l.5 29.4v-28.1l.6 27v-24.8l.6 22.7v-22.7l.5 31.5v-27l.6 -1v28.7l.5 -26.8v26.5l.6 .8v-30.2l.5 -3.2v27.5l.6 -6.8v-21.5l.6 -1.5v31.5l.5 -29.4v27.9l.6 -.1v-23.5l.6 24.6v-23.5l.5 26.6v-29.7l.6 -2v34.7l.6 -3.2v-36l.6 29.5v-16.5l.5 -10.4v32.2l.6 3.1v-34.1l.6 -3.4v32.7l.5 -26.8v26.1l.6 -23.7v25.4l.6 -8.2v-21.7l.5 28.5v-27.7l.6 -.2v32.6l.5 -8.5v-25.1l.6 .4v35.5l.5 -11.1v-19.9l.6 18.7v-20.7l.6 30.6v-32.1l.5 35.1v-34.7l.6 3.1v33.5l.6 -48.1v36.5l.6 -26.6v31.5l.5 -4.7v-23.5l.6 31.9v-37.1l.6 35.8v-31.5l.5 .5v25.8l.6 -23.9v33.4l.5 -.3v-34.1l.6 21.6v-22.1l.6 29.2v-26l.5 -11.7v41.6l.6 -37.5v28.4l.5 5.6v-41l.6 41.7v-29l.6 -1.7v23.3l.5 -31.2v37.4l.6 -5.7v-29.5l.6 32.3v-28.1l.6 -2.3v23.5l.5 7.1v-30.1l.6 22.7v-17.6l.5 -6.9v30.5l.6 -3.7v-18.9l.6 19v-20.9l.5 -1v32l.6 -32.6v21.4l.5 -22.3v28.6l.6 -20.8v19.7l.6 -28.1v27.4l.5 -24.8v25.5l.6 .2v-75.2l.6 48.2v31.8l.5 -28.5v23l.6 2.8v-26.6l.6 22.4v-22.4l.5 .5v38.3l.6 -6.5v-32.5l.6 2.5v24.8l.5 -1.6v-27.4l.6 23.1v-23.5l.5 -1.3v34.6l.6 -6.7v-28.7l.6 5v20.1l.5 -22.9v28.1l.6 -25.9v34.9l.5 -36.5v39.2l.6 -18.1v-25.8l.6 -2.7v34.8l.5 -32.7v32.2l.6 .7v-26.9l.6 34.7v-38.3l.5 3.1v27.6l.6 -31.8v25.8l.6 2.1v-26.7l.5 -3.8v35.8l.6 -4.5v-26.1l.5 24.4v-23.9l.6 24.3v-26.4l.5 37.7v-33.3l.6 21.5v-21.8l.6 2.4v30.4l.5 -1.4v-33.9l.6 2.2v21.2l.6 -21.1v28.8l.5 -30.5v27.8l.6 15v-40.7l.6 28.6v-29.4l.5 -5.1v31.6l.6 -4.9v-25.4l.5 31.7v-29l.6 -1.9v24.5l.6 -21.9v19.2l.5 -23.4v23.7l.6 14v-38.5l.5 .3v35.2l.6 -29v23.3l.6 .9v-27.5l.5 -1.2v37.5l.6 -33.7v26.6l.6 -2.2v-30.3l.5 28.9v-22.1l.6 26.6v-34.5l.5 3.1v25l.6 15v-40.6l.6 2.2v33.7l.5 -4.4v-33.9l.6 3.3v34l.5 -2.1v-27.7l.6 -3.7v31.6l.5 -31.7v28.6l.6 -28.9v27.2l.6 2.1v-27.4l.5 32.6v-35.7l.6 3.3v29.7l.6 -29v29.2l.5 -29.8v26.5l.6 -26.6v27.5l.5 4.2v-32.6l.6 33.2v-40.2l.6 3.1v28l.5 -23.2v27.8l.6 -31v26.3l.5 8.1v-33.2l.6 28.8v-27.5l.6 33.4v-40.6l.5 34.9v-31.7l.6 -.5v31.6l.6 -31.3v30.7l.5 4.5v-32.6l.6 -2.6v29.8l.5 -25.6v32.7l.6 -37.6v37.7l.5 -32.3v27.3l.6 -26.4v38.5l.5 -39.6v27.5l.6 5.6v-33.2l.6 33.8v-38.6l.5 4.3v26.7l.6 4.8v-35.2l.6 33.4v-33l.5 26.9v-23.4l.6 -7.7v36.5l.5 2.5v-33.5l.6 5v23.5l.5 10.6v-43.3l.6 8.1v30l.6 -.4v-33.2l.5 4.5v32.2l.6 -35.8v25.5l.6 -29.3v34.2l.5 .2v-31.1l.6 27v-23.5l.5 -2.7v33.2l.6 -44.1v35.6l.6 4v-24.8l.5 26.9v-30.5l.6 42.2v-44.6l.5 39v-35.5l.6 3.8v33.2l.5 -39.4v29.2l.6 -23.4v25.1l.6 -28.1v31.5l.5 -3.7v-28.6l.6 -4.6v32.9l.5 -26.7v35.4l.6 -6.6v-30.6l.6 4v22.4l.5 4.6v-32.9l.6 38.3v-36l.5 25.1v-23.7l.6 -2.4v29.3l.5 3.3v-33.2l.6 38.3v-37.7l.6 33.4v-35l.5 1.4v25.4l.6 6.7v-26.8l.5 30.3v-36.5l.6 .1v35.5l.6 -11v-29.9l.5 7.9v27.5l.6 -27.1v39.4l.5 -16.5v-23.7l.6 32.3v-37.5l.6 36.7v-33l.5 30.3v-29.5l.6 31.9v-32.5l.5 1.3v33.8l.6 -38.1v42l.5 -6v-37.7l.6 3.5v34l.5 -1.3v-30.5l.6 26v-31.6l.6 2.4v31.8l.5 -34.2v27.4l.6 10.2v-33.1l.6 -.5v29.7l.5 -26.8v33.3l.6 -36.8v47.2l.5 -49v31.2l.6 -32.8v29.3l.5 -26.1v37.1l.6 -7.2v-34l.6 4.3v26.5l.5 -31.3v32.1l.6 -31.2v31l.5 -22.1v21l.6 -25.3v29.3l.6 0v-27.9l.5 -1.7v43.5l.6 -40v36.5l.5 -39.8v33l.6 -35.7v34.6l.5 -33.8v39.9l.6 -38.3v36l.6 -39.1v31.9l.5 -3.2v-23.7l.6 -2v27.4l.5 14v-43.8l.6 32.3v-27.9l.5 1.8v34.7l.6 -40.1v37.6l.5 -3.6v-31.8l.4 3.3v10"/>
<path class="c" stroke="#bfbf00" d="M395.9 441.3l130.2 -63.6l76.2 -31.3l54 1.1l41.9 34.2l34.3 49.7l28.9 34.8l25.1 .7l22.1 -7.4l19.8 -9.4l17.9 5.4l16.3 18.7l15.1 6.7l13.9 0l12.9 12.1l12.2 -2.7l11.4 8.7l10.7 10.1l10.1 14l9.7 4l9.1 6.7l8.8 18.8l8.3 -14.7l8 -6.7l7.7 24.1l7.4 .6l-.1 -1.1l7.1 -.7l6.8 -4l6.6 2.7l6.4 5.3l6.1 -8.7l5.9 2l5.9 -1.3l5.5 .7l5.5 2l5.2 2.6l5.3 4.1l4.9 6.7l4.8 2.6l4.9 -8l4.6 -8l4.5 -1.4l4.4 0l4.4 1.4l4.2 -.7l4.1 .7l4 5.3l4 4l3.9 1.4l3.8 2l3.7 -12.7l3.6 -12.1l3.7 -3.3l3.4 .6l3.5 8.1l3.5 4.2l3.3 -2.2l3.2 -4.4l3.3 -5.9l3.1 8.3l3.1 -15.4l3.1 -5.1l3 1.4l2.9 2.6l2.9 9.6l2.9 -1.5l2.8 -5.6l2.8 2.9l2.8 7.6l2.7 .5l2.6 -7.8l2.7 3.1l2.5 3.1l2.6 -10.7l2.5 7.5l2.5 -10.9l2.5 7.4l2.4 -.8l2.4 -1.3l2.3 -1.9l2.4 1.9l2.3 3.9l2.3 -16.4l2.2 .8l2.2 -17.3l2.2 3.5l2.2 -12l2.1 14.2l2.2 16.1l2.1 -.6l2 13.4l2.1 -4.6l2 -6.8l2 -2.1l2 -5.2l2 .5l1.9 4.4l2 6.7l1.9 -5.6l1.8 -1.7l1.9 4.8l1.9 12.2l1.8 -2.8l1.8 -6l1.8 -1l1.8 3.3l1.8 .3l1.7 -8.5l1.7 6.1l1.7 21.1l1.7 6.5l1.7 -9.7l1.7 -7.3l1.7 -.5l1.6 .6l1.6 21l1.6 -1.4l1.6 -6.1l1.6 2.1l1.6 -18.3l1.5 .5l1.6 -.2l1.5 -5.4l1.5 .7l1.6 7.8l1.5 3.1l1.4 5.4l1.5 10.2l1.5 4l1.4 -8.3l1.5 -21.6l1.4 10.8l1.4 -3.5l1.4 -2.5l1.4 -6.6l1.4 1.1l1.4 -.1l1.3 -5.7l1.4 9.5l1.3 2.4l1.4 .3l1.3 .3l1.3 7.7l1.3 -4.5l1.3 -.1l1.3 -5.4l1.3 12.1l1.3 -9.2l1.2 -.1l1.3 -27.5l1.2 -2.4l1.3 -2.3l1.2 -2.7l1.2 15.2l1.3 5.3l1.2 -1.5l1.2 -1.8l1.2 -6l1.1 4.8l1.2 5.6l1.2 4.2l1.2 .6l1.1 3.2l1.2 4.1l1.1 -12.7l1.1 -3.2l1.2 -4.9l1.1 9l1.1 5.9l1.1 1.3l1.1 -9.5l1.1 -6.9l1.1 -11.7l1.1 -1.3l1.1 -8.2l1 2.6l1.1 1.3l1 -.6l1.1 16.3l1 7.2l1.1 2.8l1 2.1l1 4l1.1 6.2l1 8.6l1 -8.1l1 -3.8l1 -3.5l1 -18l1 -1.3l1 7.2l1 2.7l.9 10.2l1 5.5l1 8l.9 -13.4l1 2.8l.9 -2.2l1 -2.2l.9 -5.3l1 7.3l.9 -12.6l.9 -2.4l.9 .2l1 -4.4l.9 3.8l.9 -14.3l.9 7.2l.9 4.5l.9 7.4l.9 9.5l.9 -2l.9 -7.4l.8 6.2l.9 -6.5l.9 4.7l.9 -3.5l.8 5.5l.9 -9.1l.8 -8.3l.9 1.9l.8 0l.9 -6.8l.8 -3.2l.9 -3.8l.8 5.2l.8 3.9l.8 14.4l.9 2.7l.8 -1.5l.8 15l.8 -1.4l.8 3.7l.8 2.5l.8 -6.2l.8 -24.2l.8 -1.6l.8 -8.2l.8 -6.3l.8 -7.6l.8 -.1l.7 4.4l.8 3.3l.8 -10.6l.7 10.9l.8 9.2l.8 5.1l.7 4.6l.8 -1.1l.7 -5.2l.8 -12.5l.7 1.2l.8 -6.8l.7 .9l.8 3.2l.7 3.4l.7 10.4l.8 1.5l.7 4.1l.7 1.2l.7 -9.5l.7 -.5l.8 .4l.7 -2l.7 -3.2l.7 -2.9l.7 3.5l.7 3.8l.7 16l.7 -3.8l.7 7.8l.7 .4l.7 3.5l.7 -18.6l.6 -2.4l.7 10.9l.7 -8.3l.7 -7.1l.7 15.7l.6 -18.8l.7 21.1l.7 -10.4l.6 -8.6l.7 3.6l.6 6.8l.7 -19.8l.7 5.2l.6 7.9l.7 .2l.6 9.8l.7 -15.5l.6 25.9l.6 -12.6l.7 -3.7l.6 -1l.7 -4.5l.6 13.7l.6 -19.6l.7 15.5l.6 -16.7l.6 12.6l.6 -8.6l.7 12.5l.6 13.9l.6 -16.4l.6 -13.4l.6 10l.6 -14.2l.6 7.2l.6 18.2l.6 -15.5l.6 1.5l.6 -6.1l.6 1.3l.6 6.9l.6 -18.6l.6 -1.5l.6 -17.8l.6 14.5l.6 -22.4l.6 -7.2l.6 -36.9l.6 -39.6l.5 -39.7l.6 39.7l.6 39.6l.6 35.9l.5 -1.6l.6 14.2l.6 1.5l.6 -4.4l.5 2.6l.6 -4.7l.5 -6.1l.6 1.7l.6 2.4l.5 -1.3l.6 5.9l.5 -12.7l.6 23.4l.5 -18.5l.6 2.4l.5 1.1l.6 6.8l.5 -23.9l.6 8.6l.5 7.2l.6 -8l.5 4l.5 8.4l.6 -11.2l.5 -9.5l.5 13.5l.6 .9l.5 -10.1l.5 12.1l.6 4.2l.5 -1.5l.5 -2.8l.5 14.8l.5 -10.2l.6 -.6l.5 3.3l.5 -1.3l.5 17.8l.5 -5.1l.5 -2.3l.6 .3l.5 -4.1l.5 -14.1l.5 .8l.5 2.3l.5 -3.4l.5 -15l.5 1.6l.5 7.1l.5 22.7l.5 3.3l.5 -6.5l.5 14.6l.5 -10.8l.5 -12.6l.5 16.1l.4 -6.8l.5 10.1l.5 .1l.5 22.6l.5 -29l.5 1.8l.5 -9.2l.4 -16.6l.5 3.1l.5 23l.5 5.6l.4 -30.4l.5 12.8l.5 .7l.5 16.5l.4 -14.2l.5 3.3l.5 -8.5l.4 5.9l.5 -7.2l.5 -23.3l.4 -29.3l.5 -29.5l.5 29.6l.4 29.7l.5 24l.4 11.8l.5 -.5l.5 -2.4l.4 -2.7l.5 -16l.4 1.7l.5 1.1l.4 -3.8l.5 11.2l.4 4.1l.5 12.8l.4 -11.7l.5 7.1l.4 -2.6l.5 6.5l.4 .3l.4 -1.2l.5 3.7l.4 11.3l.5 -13l.4 10.2l.4 -10.8l.5 2.1l.4 7l.4 -6l.5 -12.3l.4 8.8l.4 -9.7l.5 -2.2l.4 9.6l.4 -4.4l.4 -2.9l.5 34.8l.4 -34.1l.4 19.4l.4 -4.5l.5 -14.2l.4 2.4l.4 3l.4 20.7l.4 -14.1l.5 -6.8l.4 14.2l.4 -2.1l.4 -2.9l.4 6.6l.4 .9l.4 .9l.4 -.5l.5 -11.7l.4 3.1l.4 -12.4l.4 -.6l.4 -5.4l.4 -5.9l.4 27.6l.4 -24.5l.4 3.9l.4 -.3l.4 4.1l.4 15.2l.4 11.8l.4 -24.2l.4 23.6l.4 -11.1l.4 10l.4 -2.6l.4 -6.3l.4 4.7l.4 -4.2l.4 9.7l.3 -11l.4 -5.1l.4 1.9l.4 1.3l.4 1.4l.4 6.6l.4 -4.9l.4 -6.6l.3 .5l.4 13.4l.4 -.6l.4 -13.7l.4 3.1l.4 9.8l.3 -10.7l.4 4.1l.4 -.5l.4 16.3l.3 -6.9l.4 -3.1l.4 -8.7l.4 -6.1l.3 -10.3l.4 8.8l.4 -20.3l.4 30.5l.3 -10.3l.4 -4l.4 13.6l.3 1.7l.4 -19l.4 14.7l.3 1.5l.4 -2.6l.4 4.6l.3 8.7l.4 -5.4l.4 -.5l.3 -3.7l.4 15l.3 1.9l.4 16.3l.4 -12.5l.3 -3.2l.4 4l.3 -12.7l.4 2.4l.4 -.8l.3 9.4l.4 -3.9l.3 1l.4 11.3l.3 -6.5l.4 -6.7l.3 -1l.4 19.3l.3 -21.4l.4 11.6l.3 -22.7l.4 1.2l.3 7.9l.4 -3.2l.3 4.1l.4 4.8l.3 -7.4l.4 -4.8l.3 -5.2l.3 -.4l.4 -7.3l.3 16.1l.4 6.7l.3 -.8l.3 15.4l.4 -22l.3 1.2l.4 8.7l.3 -10.1l.3 -9.3l.4 .8l.3 14.3l.3 -1.3l.4 11.5l.3 3.5l.3 -12.6l.4 11.8l.3 -16.5l.3 -1.6l.4 -1.6l.3 -6.4l.3 -1.4l.4 -10.1l.3 26.1l.3 -7.3l.3 11.3l.4 -7l.3 -2.5l.3 6.6l.3 -18.8l.4 -3.8l.3 23.2l.3 -17.2l.3 -16.1l.4 -26.2l.3 -26.2l.3 26.3l.3 26.3l.3 38.6l.4 -6.4l.3 7l.3 -12.3l.3 24l.3 -12.6l.4 7.7l.3 -4l.3 -19l.3 3.4l.3 5.1l.3 9.6l.4 4l.3 -25.9l.3 4.1l.3 11l.3 -6.1l.3 11.6l.3 1.8l.3 7.4l.3 -26.1l.4 4.8l.3 3.3l.3 1.8l.3 -2.5l.3 2.3l.3 -13l.3 17.1l.3 -13.8l.3 -2.7l.3 5.9l.3 11.2l.3 -9l.3 14.4l.3 .3l.3 -4l.3 -25.7l.3 19.5l.3 .8l.3 -6.5l.3 .7l.3 11.5l.3 -7.6l.3 -6.1l.3 .7l.3 8.3l.3 -.7l.3 1.5l.3 -1.6l.3 -14.1l.3 11.9l.3 .6l.3 5.4l.3 -3.6l.3 -12l.3 8.4l.3 -6.9l.3 16.9l.2 -18.2l.3 -1.6l.3 5.8l.3 -5.5l.3 4.4l.3 -3.1l.3 -.1l.3 19.5l.3 -8.8l.2 .5l.3 -1.3l.3 -12.8l.3 -1.9l.3 25.4l.3 -11l.3 10.5l.2 -2.7l.3 -9.8l.3 11.8l.3 -.5l.3 -12l.3 1.5l.2 -8.3l.3 5l.3 -.7l.3 11.8l.3 -20.5l.2 15.3l.3 -7.5l.3 15l.3 -9.6l.3 .3l.2 -4.1l.3 -.5l.3 12.4l.3 -9.2l.2 6l.3 -11.1l.6 9.3v-16.1l.8 5.2v26.8l.8 -26.8v11.6l.8 -10.3v14.4l.8 -12.6v12.1l.8 4.6v-26.1l.9 9.6v4.5l.8 4.3v-18.9l.7 -13v-13l.8 26v21.6l.8 -13.7v26.1l.8 -26.2v9.3l.8 -19.5v27.6l.8 -12v6.7l.8 -12.9v20l.7 -14v-54.5l.8 63.3v-18l.8 -9.1v-18.4l.7 -9.1v-9.2l.8 27.5v-21.4l.8 59.7v-27l.7 14.6v-53.2l.8 45.4v8.4l.7 4.7v-57.7l.8 -27v54l.7 5.1v30.7l.8 -77.5v79.4l.7 -3.4v-19.6l.7 15v-6.9l.8 3.2v-11.7l.7 19.4v-9.9l.7 -29.3v26.3l.7 -5.6v17.6l.8 -38.7v31.6l.7 -59.4v-30.3l.7 60.7v35.9l.7 -6.6v-64.6l.7 63.5v-3.3l.7 9.5v-9.6l.7 11.7v-37l.7 33.6v-25.4l.7 17.2v5.3l.7 -5.2v4.4l.7 3.1v-.5l.7 -6.2v12.6l.7 -12.8v10.6l.7 -.7v-29.9l.7 -24.6v-24.7l.7 49.3v36.3l.6 -38.2v34.6l.7 -9.3v8l.7 7.2v-16.1l.7 12.4v-11.2l.6 -14.7v30.4l.7 -10.6v-10.3l.7 16.6v-17.3l.6 11v3.8l.7 -20.5v8.1l.6 5.8v-4.2l.7 4.5v1.8l.6 -18.2v34.6l.7 -32v8.9l.6 .9v6.3l.7 -9.3v8.6l.6 -4.1v-19.1l.7 -20v-20l.6 40v22.5l.7 -6.9v11.6l.6 -36.5v19.6l.6 -4.3v6.9l.7 20.3v-18.8l.6 14.8v-12.1l.6 -1.1v15.7l.6 -19.1v17.8l.7 -3.3v-12.2l.6 1.6v-3l.6 -1.7v10.9l.6 1.6v-14l.6 6.3v12.1l.6 -25.6v28.6l.7 -12.8v11.4l.6 -30.1v19.1l.6 7.4v-13.9l.6 11.6v-16.1l.6 -11.6v-11.7l.6 23.3v15.8l.6 -.2v-14.8l.6 19.2v-9.7l.6 18.3v-19.6l.6 3.1v-5.2l.6 -25.1v37.7l.5 -12.9v-12l.6 19.2v4.8l.6 -12v12.1l.6 -11.8v4.9l.6 -7.5v19l.6 8.3v-35.2l.5 21.2v12.6l.6 -69.4v46.4l.6 -58.8v64.5l.6 1.3v-73.1l.5 77.3v-28.9l.6 16.5v12.2l.6 -10.6v-46.9l.6 -25.5v-25.5l.5 51v57.7l.6 -22.4v18.4l.5 -3.3v-19.2l.6 6.8v18.8l.6 -63.3v53.6l.5 -2.7v11l.6 -6.4v-43.7l.5 -45.6v-45.7l.6 88.5v41.3l.6 9.3v-80.9l.7 63.3v28.4l.8 -7v-29.6l.7 -47.3v47.3l.7 -6.3v35.6l.7 -7.1v-6.4l.8 9.8v-23l.7 24.3v-21.6l.7 31.9v-54.7l.7 32.6v21l.7 -26.9v22.1l.7 4.5v-24.4l.7 25.5v-29l.7 22.4v-53.4l.7 -3.2v55.9l.7 -113.9v72l.7 6.2v36.2l.7 -6.4v-55.1l.6 74.5v-24.9l.7 8.1v-8l.7 -2.9v23.4l.7 -1.4v-24.6l.7 -63.5v85.4l.6 -45.5v43.7l.7 -5.1v-15.9l.7 7.6v-84.8l.6 29.7v73.5l.7 -16.3v-10.6l.7 -3.2v33.5l.6 -5.9v-15.2l.7 -7v5.7l.6 -14.4v-57.8l.7 19.2v57.4l.6 7v-87l.7 71v17.6l.6 -11.9v-73.4l.7 78.5v-11.9l.6 25.9v-20.9l.6 20.3v-22.2l.7 -2.8v14.6l.6 -12.2v18.3l.7 -21.9v27.7l.6 -17.6v7.6l.6 -4.2v-11.4l.6 5.8v22.4l.7 -11.8v-11.5l.6 8.3v-25l.6 32.7v-6l.6 -13.5v19.7l.6 -6v-21.5l.6 38v-27.3l.7 12.5v-15.8l.6 10.9v-12.5l.6 21.1v-23.3l.6 15.6v-7.9l.6 2.1v22.7l.6 -29.8v20.8l.6 2.6v-21l.6 9.2v-81.2l.6 28.6v68.9l.6 3.8v-8.3l.6 -14.1v16.5l.6 -3.5v20.4l.5 7.8v-20.2l.6 1.1v15.1l.6 -11.8v29.3l.6 -43.6v18.7l.6 7.8v14.3l.6 -10.3v-10.3l.5 3.9v12.9l.6 5.8v-10.4l.6 15.7v-20.6l.6 14.6v-21.1l.5 12.5v-10.5l.6 24.1v-14.2l.6 8.6v-19.3l.5 17.4v-25.4l.6 16.3v-17.2l.6 35.7v-20.7l.5 -4.2v5l.6 8.7v-14.2l.5 -5.7v25.3l.6 -22.6v11.6l.5 -16.4v14.7l.6 -10.4v9.5l.6 -3.9v6.7l.7 -.8v-10.9l.7 14.6v-63.9l.7 -28.4v99l.6 -.1v-21.8l.7 .4v10.6l.7 -2.6v17.3l.7 -6v-15.6l.6 -4.6v34.3l.7 -24.7v12.1l.7 -27.1v38.4l.6 -22.9v-16.5l.7 29.5v-25.1l.6 24.5v-22l.7 13.1v-68.4l.6 -31.8v98.7l.7 -11.3v18l.6 1v-21.1l.7 6.9v7.1l.6 -7.2v21.2l.7 -5.4v-17.9l.6 -3.4v24l.7 -3.9v-11.1l.6 8.2v-13.9l.6 .3v18.2l.7 -21.5v21.6l.6 -9.7v-63.6l.6 -30.2v99.1l.6 6.9v-25.8l.7 33.1v-32.4l.6 25.9v-14.3l.6 -6.8v18.6l.6 -12.3v15.9l.6 -2.8v-17.4l.6 16v-10.5l.6 5.2v-17.1l.6 5.8v14.4l.7 -23v20.3l.6 .6v-27.2l.6 -9.2v41.6l.6 -19.1v21.9l.6 -27.3v31.2l.6 -24.2v8.5l.6 6.9v-22.9l.5 3.5v22.7l.6 -26.2v28.7l.6 -14.6v-14.8l.6 -.5v13.7l.6 -12.3v31.8l.6 -16.9v-9.9l.6 11.3v-72.5l.5 -33.6v99.7l.6 8.7v-7.9l.6 -6.6v23.1l.6 -6v-15.1l.5 18.2v-21.1l.6 18.7v-19.7l.6 23.2v-26.1l.6 25.7v-24.1l.5 -2.7v17.7l.6 15.5v-31.5l.5 -.6v28.7l.6 -13.3v-18.8l.6 -7.7v33.5l.5 -2.2v-18.4l.6 3.9v18.8l.5 3v-14.8l.6 10.1v-20.5l.6 21v-15.3l.6 17.7v-18.5l.7 7.3v-9.7l.7 .7v18.9l.6 2.8v-21.6l.7 7.7v-87.4l.6 28.7v65l.7 -12.8v21.4l.6 -10.1v-12.1l.6 -.7v12.8l.7 21v-33.6l.6 -5v25.3l.6 -4.7v-17.6l.7 -4.4v25.1l.6 -31v28.6l.6 -.1v-105.8l.7 32.1v72.9l.6 4.3v-18.5l.6 -4.9v27.5l.6 -22.1v18.5l.6 -27.7v24.4l.7 -15.3v12.9l.6 -17v30l.6 6v-33.3l.6 13.4v-12.7l.6 24.6v-110.1l.6 30.5v76l.6 -4.7v-19.6l.6 6.5v7.5l.6 -11.3v8.5l.6 18.2v-27.8l.6 30.4v-27.1l.6 14.5v-17.6l.6 3.4v15.1l.6 .7v-26.2l.6 7.2v19.1l.6 .7v-24.2l.5 20.2v-24l.6 24.3v-23.3l.6 1.2v18.8l.6 -2.5v-10.9l.6 -2.9v23.6l.5 -6.7v-17.7l.6 20.2v-15.3l.6 29.4v-27.3l.6 18.5v-26.3l.5 1.4v25.1l.6 -24.8v26.5l.6 3.9v-23.1l.5 12.4v-18.4l.6 -1.8v19.6l.5 -4.4v-17.8l.6 7v21.9l.6 -19.1v17.2l.5 -27.1v26.3l.6 -22v18.4l.5 9.3v-27.2l.6 17v-10.4l.7 -7.8v22.7l.6 -15.1v14.2l.6 -15.5v14.8l.7 -20.7v30.1l.6 -27.6v13l.6 -11v23.3l.7 -13.9v-15.3l.6 21.4v-13.4l.6 -3.2v30.5l.6 -15.3v-15.6l.6 4v10.3l.7 4.7v-20.2l.6 18.5v-22.6l.6 -3.4v23.3l.6 2.5v-18.9l.6 31.1v-25.7l.6 -3.8v22.5l.6 -22.7v18.3l.6 -4.4v-15l.6 -1.3v20.1l.6 -6.2v-10.7l.6 -.1v11.5l.6 8.9v-29.2l.6 29.8v-48.9l.6 23.4v26.8l.6 -11.4v-7.2l.6 11.9v-14.3l.6 -4.5v27.1l.6 -13v-15.9l.5 5.6v19.4l.6 6v-26.6l.6 3v23.8l.6 -4.4v-25.4l.6 6.3v14.6l.5 11.8v-29.3l.6 14.5v-13.4l.6 18.3v-17.1l.5 -3.5v11.6l.6 9.7v-27.4l.6 -.9v30.8l.5 -.9v-24.9l.6 -2.4v29.4l.6 2.1v-29l.5 1.2v19l.6 -2.5v-13.7l.5 34.1v-34.6l.6 21.6v-22.5l.5 -6.7v27.8l.6 -15.8v10.6l.6 -39.1v35.2l.7 -17v19.5l.6 -18v20.3l.6 1.2v-21.3l.6 1.3v31.2l.6 -29.4v22.5l.7 -30v21.6l.6 -22v31l.6 1.8v-25.5l.6 2.6v25.6l.6 0v-26.4l.6 19.4v-15.1l.6 -11.8v16.2l.6 11.2v-16.8l.6 19.5v-21l.6 -10.4v30.9l.6 -19.2v13.9l.6 -18.2v26.8l.6 1.6v-29.6l.6 5.6v15l.6 -15v11.5l.5 -13.9v12.9l.6 -20.9v21.4l.6 -1.6v-17.4l.6 30.9v-25.5l.6 10.1v-21.7l.5 12.5v18.4l.6 -18.9v21l.6 -6.8v-21.4l.6 .1v19.8l.5 4.3v-16.5l.6 1.7v12.7l.6 -21.1v38.9l.5 -13.1v-20.5l.6 6.1v17.4l.6 -5.6v-18.2l.5 -.8v28.6l.6 -1.8v-28l.5 2.2v31.6l.6 -30.8v17.2l.5 .4v-22.3l.6 -3.7v36.6l.6 -13.5v-17.2l.6 -1.9v22.6l.6 3.1v-32.5l.6 29.9v-29.1l.6 11.8v18.7l.6 -23.2v28.3l.6 -3.5v-26.5l.6 8.5v13.2l.6 -.2v-19.8l.6 6.4v-35.1l.6 31.9v24l.6 -25.7v31.5l.6 -16.7v-22.9l.6 29.7v-18.9l.6 14.5v-15.4l.6 18.6v-19l.6 8.7v-59.3l.6 14.5v56l.6 -16.4v20.4l.6 -3.6v-22.9l.5 -5.6v23.8l.6 -14.5v14.8l.6 -18.6v20.1l.6 -13.3v18.2l.5 5v-28l.6 28.2v-33.1l.6 3.7v18l.5 -18.4v22.4l.6 -17.9v22.7l.6 -10.3v-16.9l.5 -1.7v24.5l.6 -1v-16.7l.6 -8.9v25.8l.5 -25.1v23.3l.6 -18.1v24.9l.5 10.7v-33.3l.6 12.2v-13l.5 -4.8v23.5l.6 -1.4v-19.8l.6 1.2v14.5l.6 -15.4v18.4l.6 -24.4v30l.6 4.5v-26.3l.6 30.8v-42.7l.6 36.4v-20.7l.6 -8.5v22.1l.6 -19v19.4l.6 5.3v-28.6l.6 1.7v21.1l.6 -17.2v12.8l.6 -17.7v23l.6 6v-28.9l.6 20.4v-21.1l.5 20.6v-21.6l.6 28.6v-30.7l.6 .9v19.8l.6 -17.7v18.9l.6 -17.3v21.3l.5 3.6v-22.8l.6 19.4v-21.3l.6 1.7v23.5l.5 -24.5v24.3l.6 16.7v-38l.6 -4.1v21.2l.5 -21.5v29.6l.6 -22.1v20.6l.5 -4.1v-20.1l.6 20.1v-22.4l.6 -1.1v25.5l.5 11.2v-36.5l.6 .5v28.3l.5 -7v-17.6l.6 18.8v-24.3l.6 25.3v-24.9l.6 19.8v-21.6l.6 24.9v-23.9l.6 .5v30.4l.6 -4.2v-25.1l.6 1.1v22.7l.6 .3v-16.2l.6 17.7v-25.2l.6 20.4v-23l.5 .3v31.8l.6 -13.4v-14.6l.6 -5.8v23.7l.6 -17.5v19.8l.6 -16.6v12.5l.5 8.4v-29.8l.6 3.3v21.2l.6 -17.4v22.4l.6 -1.1v-17.5l.5 -4.3v16.3l.6 -16.2v15.7l.6 .8v-21l.5 1.5v26.4l.6 1.9v-34l.6 32.8v-27l.5 2.3v21.9l.6 -7.2v-18.7l.5 25.3v-17.4l.6 17.6v-31.8l.5 6.1v29.6l.6 -12.6v-14l.6 29v-29.8l.6 1.7v20.8l.6 4.7v-34.6l.6 7.6v20.3l.6 -1.3v-14.3l.5 15.4v-23.2l.6 3.4v28.2l.6 -5.2v-23l.6 17.6v-10.8l.6 -5.3v35l.6 -35.5v24.9l.5 -29.9v37.9l.6 -36.5v26.7l.6 -21.6v18.8l.6 3.8v-26.8l.5 25.1v-22l.6 19.2v-18.9l.6 -3.7v19.1l.6 3v-21l.5 21.7v-13.2l.6 12v-14.5l.5 -3.9v25.2l.6 -6.7v-38l.6 7.1v28l.5 -25v31l.6 -19.2v21.2l.5 8.6v-38l.6 6.1v21.8l.6 -6v-20.3l.6 31.7v-29.9l.5 17.9v-19.1l.6 24.9v-27.3l.6 32.2v-25.9l.6 -3v26.3l.6 -.8v-25.1l.6 -3.1v26l.6 -15.3v17l.5 -1.5v-20.7l.6 -.8v21l.6 -16.2v19.8l.6 9.8v-36.7l.5 24.5v-22.8l.6 24.2v-20.3l.6 -.9v26.5l.6 -33.8v26.3l.5 -.8v-17.4l.6 -.1v21.1l.5 -18v21.5l.6 -29.8v38.6l.6 -16.5v-17.9l.5 -.6v27l.6 .7v-31.2l.5 21v-18.9l.6 -2.2v27l.5 -7.1v-19.1l.6 -3.7v29.6l.6 -20.9v20.3l.6 -27.3v23.4l.6 -18.1v27.9l.6 -32.6v37l.5 -15.2v-23.5l.6 4.8v21.1l.6 9.5v-33.5l.6 -14.5v38.8l.6 -25.5v23l.5 16v-32.5l.6 18.4v-20l.6 28.7v-28.2l.5 20.5v-18.9l.6 16.3v-16.8l.6 1.2v29.1l.5 -35.1v31.6l.6 -27.6v19l.6 -24.9v19.6l.5 2.3v-17.9l.6 2.1v16.6l.5 2v-29.9l.6 27.4v-15.6l.5 23.9v-27.6l.6 21.4v-20.8l.6 -1.3v32l.6 -29.4v24.3l.6 -20.2v18l.5 -25.3v31.2l.6 -.6v-33.5l.6 32.5v-30.2l.6 4.8v27.2l.5 -26.6v21.7l.6 6.6v-26.2l.6 15.8v-23.7l.6 22.5v-18.8l.5 -.3v23l.6 -18.7v20.8l.6 5.1v-28.8l.5 17.4v-16.5l.6 -1.3v26.6l.5 -2.6v-28.5l.6 .3v45.4l.6 -14.9v-28.7l.5 30.8v-33.3l.6 3.3v30.6l.5 -8.7v-22.1l.6 24.8v-25l.6 1.5v25.7l.6 -31.3v24.7l.5 11.5v-33.1l.6 34.9v-35.3l.6 27.4v-22.6l.6 -1v24.3l.5 -21.3v18.6l.6 -24.1v37.7l.6 -40.8v26.8l.6 -16.1v22.5l.5 -6.7v-25.5l.6 -2.6v29.3l.5 -1.7v-21.5l.6 25.1v-22.8l.6 19.9v-26.8l.5 29.6v-30.7l.6 7.6v30.6l.5 -38.5v26.1l.6 11.4v-35.8l.5 35.7v-31l.6 .8v21.7l.6 -25.5v26.1l.6 -30v33.3l.6 2.8v-25.7l.5 -1.7v27l.6 -32.2v26.1l.6 6.9v-29.1l.6 1.1v18.8l.5 -21.1v23.2l.6 11.5v-38.5l.6 -.5v29.2l.5 -30.7v37.2l.6 -33.2v29.2l.6 -26.4v25.2l.5 -5.9v-18.8l.6 -9.8v36l.5 -29.3v27.2l.6 2v-28.8l.5 1.2v27.1l.6 -25.1v21l.6 -4.7v-17.9l.5 24.7v-23.7l.6 -8.6v35.9l.6 -30.2v26.2l.6 -31.2v32.5l.5 -1v-27.1l.6 25.5v-27.3l.6 35.4v-32.1l.6 0v17.1l.5 -14.1v24.9l.6 -30.6v30.6l.6 -29.2v35.1l.5 -31.6v22.8l.6 -24.4v27.8l.5 -28.4v43.8l.6 -20.1v-23.2l.5 1.2v38.5l.6 -39v29.2l.6 -4.3v-24.3l.5 -2.7v19.4l.6 12v-28.7l.6 -.4v35.1l.5 -41v34.4l.6 1.5v-31.9l.6 .3v33l.6 -6.2v-29.9l.5 4.4v30.1l.6 -12.2v-13l.6 -7.7v33.3l.5 -29.5v23.7l.6 1.4v-28.6l.6 -.9v17.7l.5 9.1v-23.3l.6 2.1v22.3l.5 -25.7v22.6l.6 -23v24.3l.5 -25.3v32.7l.6 -30.6v29.3l.6 -30.7v33l.5 1.9v-35.9l.6 1.6v27.8l.6 .3v-28.5l.6 36v-33.1l.5 22.9v-24.5l.6 35.3v-37.6l.6 27.9v-25l.5 22.3v-22.1l.6 39.6v-44.2l.5 29.5v-27l.6 -2.6v29.7l.6 4.7v-31l.5 4.4v21l.6 -31.4v38.3l.5 -31.1v22.2l.6 7.2v-31l.6 1.6v28.1l.5 -34.3v41.5l.6 9.7v-44.7l.6 29.5v-31.7l.6 -.6v20.7l.5 -18v26.2l.6 -.2v-30.2l.5 9.3v18.4l.6 -22.9v26.5l.6 3v-30.4l.5 22.7v-21.7l.6 -6.5v34l.5 -5.6v-24.1l.6 -.7v20l.6 2.6v-22.7l.5 32.4v-37.7l.6 34.2v-31.5l.6 2.6v32.5l.5 5.1v-36.2l.6 25.1v-24.6l.6 -1v28.8l.5 1.2v-31l.6 -.9v33.8l.6 -1.2v-33.3l.5 27.3v-28.8l.6 5.7v23.6l.5 -23.6v26.2l.6 -2.1v-31.6l.6 28.4v-22.8l.5 -2v28.5l.6 -31.8v33l.5 -27.2v31.2l.6 -4.5v-25l.6 20.9v-29.5l.5 2.2v33.1l.6 .2v-32.6l.6 1.8v24l.5 -22.8v25l.6 1.5v-29.7l.6 29.6v-35.7l.5 34.5v-19.1l.6 -4.3v28.4l.5 -6v-23.1l.6 -.8v21.7l.5 -21.6v45.5l.6 -4.5v-35.6l.6 24.2v-29.7l.5 28.7v-31.5l.6 7.5v25.3l.6 1.8v-34.7l.5 29.4v-26.6l.6 22.5v-25.7l.6 25.4v-21.2l.5 24.3v-29l.6 38.4v-37.8l.5 4.2v28.1l.6 .8v-30.6l.6 28.7v-26.9l.5 28.4v-27.6l.6 -3v32.7l.5 -6.4v-21.8l.6 30v-41.2l.6 33.1v-32.6l.5 37.8v-35.6l.6 29v-22.7l.6 24.3v-27.6l.5 7v18.8l.6 3.1v-23.6l.5 25.4v-25l.6 21.4v-25.4l.6 28.5v-29l.5 -6.6v46.7l.6 -39.7v31.3l.5 -33.8v27.6l.6 -25.5v21.4l.5 -16.3v39.4l.6 -3.7v-45.7l.6 6.2v27.7l.5 -28.1v27.6l.6 4.2v-32.6l.6 25.6v-18.8l.5 -10.5v31.6l.6 -.6v-22.2l.5 -4.3v37.1l.6 -40.5v32.6l.6 -.3v-26.6l.5 24.6v-26.7l.6 30.5v-37.5l.5 10.9v21.3l.6 -26v29.5l.6 .6v-28.8l.5 5.7v24.2l.6 -2.5v-30l.6 29.4v-29.2l.5 2.3v33l.6 -37.5v30.9l.5 -1v-28.6l.6 26.6v-27l.5 39.1v-34.5l.6 27.8v-32.8l.5 32.5v-30.2l.6 31.5v-31.9l.6 30.7v-28.5l.5 27.4v-27l.6 29.8v-32.4l.6 1.5v35.8l.5 -36.1v31.6l.6 -31.1v30.2l.5 -31.7v30l.6 2.5v-28l.5 -3.4v22l.6 9.5v-28.1l.6 24.9v-31.9l.5 35.8v-35.6l.6 1.3v33.8l.6 -27.6v29.8l.5 4.1v-34.8l.6 22.4v-26.4l.5 2.6v27.8l.6 -30.6v46.5l.6 -45.3v32.4l.5 -30.9v32.7l.6 -9v-32.6l.5 36.7v-29.2l.6 -1.3v34l.5 -31.3v26.8l.6 -1.3v-28l.6 2.8v33.8l.5 -39.7v37.1l.6 -32.7v21.5l.5 10.2v-34.9l.6 35.6v-31.3l.6 36v-39.1l.5 .1v29.5l.6 -31.1v34.9l.5 -5.3v-24.7l.6 -7.8v31.5l.5 7.5v-29l.6 -3.2v32.7l.6 -.1v-32.2l.5 -11.6v37.8l.6 -31.4v33l.5 -27.7v34.4l.6 -40.6v40.7l.6 -3v-29.8l.5 19.8v-23.3l.6 28.9v-30.9l.5 2.2v28.7l.6 -3.8v-27.4l.6 30.6v-27.8l.5 3.9v27.6l.6 -2.7v-30.3l.5 33.7v-34.9l.6 25.5v-21.5l.5 29.2v-31.7l.6 33.7v-33.6l.5 29v-26.4l.6 22.4v-26.7l.6 35.4v-33.2l.5 -.2v32.3l.6 -32.7v42.8l.6 -40.6v22.2l.5 9.3v-31.4l.6 .6v29.2l.5 .7v-36.6l.6 6.7v31.7l.5 -35.6v36.9l.6 -37.4v39.1l.6 -33.8v23.5l.5 -30.5v29.5l.6 5.2v-34.5l.5 37.1v-34.5l.6 -.7v35l.6 -30.4v26.2l.5 2.7v-33l.6 32.3v-28.9l.5 -6.2v41.1l.6 -39.8v42.9l.5 -41.8v36l.6 -37.7v31.5l.6 -27.9v27.6l.5 -32v36.9l.6 -35v40.2l.5 -41.9v38l.6 -39.3v36.9l.5 3.3v-37.1l.6 29.9v-30.4l.5 -2.3v31.5l.4 1.7v-25.7"/>
<path class="c" stroke="#000" d="M300 393l432.5 101.7l365.4 57.9l931.9 0"/>
</g>
<path class="t" d="M430.5 741.82v-2.78 M430.5 160v2.78M506.5 741.82v-2.78 M506.5 160v2.78M560.5 741.82v-2.78 M560.5 160v2.78M602.5 741.82v-2.78 M602.5 160v2.78M637.5 741.82v-2.78 M637.5 160v2.78M665.5 741.82v-2.78 M665.5 160v2.78M691.5 741.82v-2.78 M691.5 160v2.78M713.5 741.82v-2.78 M713.5 160v2.78M732.5 741.82v-5.56 M732.5 160v5.56M863.5 741.82v-2.78 M863.5 160v2.78M939.5 741.82v-2.78 M939.5 160v2.78M993.5 741.82v-2.78 M993.5 160v2.78M1035.5 741.82v-2.78 M1035.5 160v2.78M1069.5 741.82v-2.78 M1069.5 160v2.78M1098.5 741.82v-2.78 M1098.5 160v2.78M1123.5 741.82v-2.78 M1123.5 160v2.78M1145.5 741.82v-2.78 M1145.5 160v2.78M1165.5 741.82v-5.56 M1165.5 160v5.56M1295.5 741.82v-2.78 M1295.5 160v2.78M1371.5 741.82v-2.78 M1371.5 160v2.78M1425.5 741.82v-2.78 M1425.5 160v2.78M1467.5 741.82v-2.78 M1467.5 160v2.78M1501.5 741.82v-2.78 M1501.5 160v2.78M1530.5 741.82v-2.78 M1530.5 160v2.78M1555.5 741.82v-2.78 M1555.5 160v2.78M1578.5 741.82v-2.78 M1578.5 160v2.78M1597.5 741.82v-5.56 M1597.5 160v5.56M1728.5 741.82v-2.78 M1728.5 160v2.78M1804.5 741.82v-2.78 M1804.5 160v2.78M1858.5 741.82v-2.78 M1858.5 160v2.78M1900.5 741.82v-2.78 M1900.5 160v2.78M1934.5 741.82v-2.78 M1934.5 160v2.78M1963.5 741.82v-2.78 M1963.5 160v2.78M1988.5 741.82v-2.78 M1988.5 160v2.78M2010.5 741.82v-2.78 M2010.5 160v2.78M2030.5 741.82v-5.56 M2030.5 160v5.56M300 698.5h2.78 M2160 698.5h-2.78M300 672.5h2.78 M2160 672.5h-2.78M300 654.5h2.78 M2160 654.5h-2.78M300 640.5h2.78 M2160 640.5h-2.78M300 629.5h2.78 M2160 629.5h-2.78M300 619.5h2.78 M2160 619.5h-2.78M300 610.5h2.78 M2160 610.5h-2.78M300 603.5h2.78 M2160 603.5h-2.78M300 596.5h5.56 M2160 596.5h-5.56M300 553.5h2.78 M2160 553.5h-2.78M300 527.5h2.78 M2160 527.5h-2.78M300 509.5h2.78 M2160 509.5h-2.78M300 495.5h2.78 M2160 495.5h-2.78M300 483.5h2.78 M2160 483.5h-2.78M300 473.5h2.78 M2160 473.5h-2.78M300 465.5h2.78 M2160 465.5h-2.78M300 458.5h2.78 M2160 458.5h-2.78M300 451.5h5.56 M2160 451.5h-5.56M300 407.5h2.78 M2160 407.5h-2.78M300 382.5h2.78 M2160 382.5h-2.78M300 363.5h2.78 M2160 363.5h-2.78M300 349.5h2.78 M2160 349.5h-2.78M300 338.5h2.78 M2160 338.5h-2.78M300 328.5h2.78 M2160 328.5h-2.78M300 320.5h2.78 M2160 320.5h-2.78M300 312.5h2.78 M2160 312.5h-2.78M300 305.5h5.56 M2160 305.5h-5.56M300 262.5h2.78 M2160 262.5h-2.78M300 236.5h2.78 M2160 236.5h-2.78M300 218.5h2.78 M2160 218.5h-2.78M300 204.5h2.78 M2160 204.5h-2.78M300 192.5h2.78 M2160 192.5h-2.78M300 183.5h2.78 M2160 183.5h-2.78M300 174.5h2.78 M2160 174.5h-2.78M300 167.5h2.78 M2160 167.5h-2.78"/>
<rect x="300.5" y="160.5" width="1860" height="582" fill="none" stroke="#000" stroke-width="1.39"/>
<text class="tk" x="300.5" y="764.82" text-anchor="middle">10<tspan class="sp" dy="-10">-2</tspan></text>
<text class="tk" x="732.95" y="764.82" text-anchor="middle">10<tspan class="sp" dy="-10">-1</tspan></text>
<text class="tk" x="1165.41" y="764.82" text-anchor="middle">10<tspan class="sp" dy="-10">0</tspan></text>
<text class="tk" x="1597.86" y="764.82" text-anchor="middle">10<tspan class="sp" dy="-10">1</tspan></text>
<text class="tk" x="2030.32" y="764.82" text-anchor="middle">10<tspan class="sp" dy="-10">2</tspan></text>
<text class="tk" x="294.6" y="748.12" text-anchor="end">10<tspan class="sp" dx=".6" dy="-10">-11</tspan></text>
<text class="tk" x="294.6" y="602.66" text-anchor="end">10<tspan class="sp" dx=".6" dy="-10">-10</tspan></text>
<text class="tk" x="294.6" y="457.21" text-anchor="end">10<tspan class="sp" dx=".6" dy="-10">-9</tspan></text>
<text class="tk" x="294.6" y="311.76" text-anchor="end">10<tspan class="sp" dx=".6" dy="-10">-8</tspan></text>
<text class="tk" x="294.6" y="166.3" text-anchor="end">10<tspan class="sp" dx=".6" dy="-10">-7</tspan></text>
<text x="1231" y="795.82" text-anchor="middle" font-size="25px">Freq (hz)</text>
<text transform="translate(241 453.11) rotate(-90)" text-anchor="middle" font-size="25px">m/rthz</text>
<text x="1230" y="153.1" text-anchor="middle" font-size="28px">ITMY_ST1</text>
<rect x="1754.5" y="174.5" width="392.1" height="306.5" fill="#fff" stroke="#000" stroke-width="1.39"/>
<path d="M1771 196.9H1814.2" stroke="#0000ff" stroke-width="4.17" fill="none"/>
<text class="lg" x="1840.1" y="206.7">ITMY_ST1_CPSINF_H1</text>
<path d="M1771 239.9H1814.2" stroke="#008000" stroke-width="4.17" fill="none"/>
<text class="lg" x="1840.1" y="249.7">ITMY_ST1_CPSINF_H2</text>
<path d="M1771 282.9H1814.2" stroke="#ff0000" stroke-width="4.17" fill="none"/>
<text class="lg" x="1840.1" y="292.7">ITMY_ST1_CPSINF_H3</text>
<path d="M1771 325.9H1814.2" stroke="#00bfbf" stroke-width="4.17" fill="none"/>
<text class="lg" x="1840.1" y="335.7">ITMY_ST1_CPSINF_V1</text>
<path d="M1771 368.9H1814.2" stroke="#bf00bf" stroke-width="4.17" fill="none"/>
<text class="lg" x="1840.1" y="378.7">ITMY_ST1_CPSINF_V2</text>
<path d="M1771 411.9H1814.2" stroke="#bfbf00" stroke-width="4.17" fill="none"/>
<text class="lg" x="1840.1" y="421.7">ITMY_ST1_CPSINF_V3</text>
<path d="M1771 454.9H1814.2" stroke="#000000" stroke-width="4.17" fill="none"/>
<text class="lg" x="1842.9" y="464.7">ADE 1mm noise</text>
<path class="g" d="M430.5 858.18V1440M506.5 858.18V1440M560.5 858.18V1440M602.5 858.18V1440M637.5 858.18V1440M665.5 858.18V1440M691.5 858.18V1440M713.5 858.18V1440M732.5 858.18V1440M863.5 858.18V1440M939.5 858.18V1440M993.5 858.18V1440M1035.5 858.18V1440M1069.5 858.18V1440M1098.5 858.18V1440M1123.5 858.18V1440M1145.5 858.18V1440M1165.5 858.18V1440M1295.5 858.18V1440M1371.5 858.18V1440M1425.5 858.18V1440M1467.5 858.18V1440M1501.5 858.18V1440M1530.5 858.18V1440M1555.5 858.18V1440M1578.5 858.18V1440M1597.5 858.18V1440M1728.5 858.18V1440M1804.5 858.18V1440M1858.5 858.18V1440M1900.5 858.18V1440M1934.5 858.18V1440M1963.5 858.18V1440M1988.5 858.18V1440M2010.5 858.18V1440M2030.5 858.18V1440M300 1405.5H2160M300 1384.5H2160M300 1370.5H2160M300 1359.5H2160M300 1349.5H2160M300 1342.5H2160M300 1335.5H2160M300 1329.5H2160M300 1324.5H2160M300 1289.5H2160M300 1268.5H2160M300 1254.5H2160M300 1242.5H2160M300 1233.5H2160M300 1225.5H2160M300 1219.5H2160M300 1213.5H2160M300 1207.5H2160M300 1172.5H2160M300 1152.5H2160M300 1137.5H2160M300 1126.5H2160M300 1117.5H2160M300 1109.5H2160M300 1102.5H2160M300 1096.5H2160M300 1091.5H2160M300 1056.5H2160M300 1035.5H2160M300 1021.5H2160M300 1010.5H2160M300 1000.5H2160M300 993.5H2160M300 986.5H2160M300 980.5H2160M300 975.5H2160M300 940.5H2160M300 919.5H2160M300 904.5H2160M300 893.5H2160M300 884.5H2160M300 876.5H2160M300 869.5H2160M300 864.5H2160"/>
<g clip-path="url(#c2)">
<path class="c" stroke="#0000ff" d="M395.9 954.7l130.2 -19l76.2 1.1l54 -3.8l41.9 6.1l34.3 15.2l28.9 13.4l25.1 2.4l22.1 -13.1l19.8 -23.7l17.9 -1.8l16.3 8.1l15.1 4.6l13.9 6.7l12.9 20.8l12.2 30.8l11.4 7.4l10.7 14l10.1 14.8l9.7 20l9.1 16.1l8.8 13.4l8.3 25.3l8 20.1l7.7 5.3l7.4 32.2l7 8.7l6.9 -19.6l6.6 -5.4l6.3 8.1l6.2 1.3l5.9 .7l5.8 0l5.6 6l5.5 2.7l5.3 16l5.1 -6.7l5 -4l4.9 9.4l4.8 11.4l4.6 -2l4.5 2.7l4.4 8l4.4 4l4.2 1.3l4.1 2.1l4 2l4 8l3.9 0l3.8 -12.1l3.7 0l3.6 1.4l3.6 -2l3.5 6l3.5 6.7l3.4 5.4l3.3 -4.1l3.2 4.1l3.3 4l3.1 5.3l3.1 -10.4l3.1 14.4l3 -11.5l2.9 5l2.9 -3.5l2.9 -4.7l2.8 15.1l2.8 -20l2.8 -2.9l2.7 18.7l2.6 -10.1l2.7 9.1l2.5 -4.1l2.6 -1.5l2.5 5.9l2.5 -7.7l2.5 10.8l2.4 -10.6l2.4 1.3l2.3 1.8l2.4 1.1l2.3 4l2.3 5.3l2.2 3.1l2.2 -8.7l2.2 2.9l2.2 -9l2.1 2.1l2.2 12.1l2.1 -4.6l2 6l2.1 .5l2 -7.6l2 4.9l2 .1l2 3.2l1.9 -7l2 4.8l1.9 -3.9l1.8 4.9l1.9 -2.9l1.9 -5.9l1.8 3.2l1.8 -.2l1.8 1.5l1.8 14.3l1.8 -9l1.7 -7.3l1.7 14.6l1.7 -7.6l1.7 11.3l1.7 -12l1.7 6.2l1.7 2.2l1.6 -13.8l1.6 2.4l1.6 -2.7l1.6 6.5l1.6 -8.5l1.6 14l1.5 -6.2l1.6 5.3l1.5 -13.2l1.5 3.7l1.6 17.7l1.5 -9.1l1.4 1.9l1.5 2.2l1.5 5.6l1.4 -21.6l1.5 5.8l1.4 5l1.4 -4.3l1.4 5.4l1.4 2.6l1.4 -9.7l1.4 5.7l1.3 -8.7l1.4 -2.2l1.3 12.3l1.4 -6.7l1.3 3.8l1.3 -5.6l1.3 9.5l1.3 -2.1l1.3 -2.7l1.3 -2.1l1.3 .1l1.2 4.3l1.3 1.4l1.2 -3.2l1.3 -4.5l1.2 5.4l1.2 -6.6l1.3 13.1l1.2 -4.4l1.2 -7.1l1.2 5.4l1.1 -4.4l1.2 7.8l1.2 -.6l1.2 1.1l1.1 -10l1.2 12.4l1.1 -7.3l1.1 14.7l1.2 -14.9l1.1 20.4l1.1 -15.8l1.1 -1.6l1.1 -5.3l1.1 6.9l1.1 -3.3l1.1 .7l1.1 10.9l1 -14.2l1.1 -5.4l1 9.9l1.1 -12.9l1 16.9l1.1 3.3l1 -10.3l1 -.2l1.1 6.4l1 -3.1l1 3.7l1 -4.5l1 -6.6l1 13.1l1 -5.6l1 -7l1 8.2l.9 -9.7l1 13.5l1 -1.3l.9 -7.7l1 6.5l.9 -9.5l1 7.8l.9 -2.1l1 6.6l.9 8.1l.9 -20.7l.9 10.2l1 -3.1l.9 -7.5l.9 -1.1l.9 12.4l.9 -4.4l.9 -3l.9 -4.6l.9 5.9l.9 2.2l.8 -4.5l.9 3.7l.9 1.9l.9 -6.6l.8 6.6l.9 4.5l.8 .7l.9 .1l.8 -4.6l.9 -8.1l.8 .7l.9 -4.1l.8 7.3l.8 .1l.8 -2.2l.9 3.5l.8 -4l.8 1.2l.8 1.5l.8 4.7l.8 -11l.8 10.5l.8 -.2l.8 .5l.8 3.2l.8 -10.5l.8 -5.5l.8 -2.2l.7 10.7l.8 -.9l.8 4.6l.7 -9.3l.8 4.5l.8 20.3l.7 -19.4l.8 9l.7 -16.9l.8 6.1l.7 -.7l.8 -.1l.7 2.8l.8 3.5l.7 1.5l.7 -11.4l.8 3.6l.7 11.8l.7 -5.1l.7 5.5l.7 -16l.8 8.5l.7 -2l.7 -7.7l.7 26.5l.7 -20.2l.7 2.6l.7 -10l.7 .7l.7 4.6l.7 12.5l.7 -8.6l.7 .7l.6 15.2l.7 -6.3l.7 4.3l.7 -15.9l.7 4.1l.6 6.8l.7 .7l.7 7.2l.6 -20.6l.7 -1.2l.6 12.9l.7 -9.4l.7 10.9l.6 -15.8l.7 9.3l.6 -1.4l.7 -4.9l.6 4.5l.6 5.6l.7 -8l.6 -.4l.7 -3.6l.6 3.8l.6 20.5l.7 -25.4l.6 6.2l.6 .8l.6 7.4l.7 -13.8l.6 11.3l.6 -9.9l.6 7.1l.6 -6.1l.6 5.8l.6 -6.8l.6 5.1l.6 1.4l.6 -4l.6 4l.6 .7l.6 -8.3l.6 14.1l.6 -5.1l.6 -3.6l.6 2.4l.6 10.5l.6 -14.7l.6 11.9l.6 -14.4l.5 22.9l.6 -21.3l.6 11.4l.6 -3.3l.5 -14l.6 4.3l.6 12.4l.6 -12.5l.5 6.3l.6 2.1l.5 -3l.6 3.1l.6 9.5l.5 -19.9l.6 4.3l.5 .1l.6 2.2l.5 -14.2l.6 22.4l.5 -15.4l.6 6.1l.5 5.8l.6 -9.7l.5 -4.4l.6 12.6l.5 12.4l.5 -11.9l.6 -8.6l.5 18.1l.5 -4.8l.6 -4.4l.5 -13l.5 6.2l.6 3.8l.5 .2l.5 2.5l.5 1.7l.5 -2.3l.6 -7.4l.5 14.6l.5 1.8l.5 -19.5l.5 17.2l.5 -11.6l.6 2.9l.5 9.5l.5 -11.8l.5 4l.5 2.5l.5 -8.2l.5 10.7l.5 -2.8l.5 -3.5l.5 4.9l.5 -4.6l.5 -.1l.5 -11.6l.5 2.1l.5 1.4l.5 4.7l.4 3.9l.5 3.4l.5 2.9l.5 -3.8l.5 -10.1l.5 12.5l.5 -3l.4 2.2l.5 -1l.5 10.1l.5 -19.2l.4 5.8l.5 -6.2l.5 -9.6l.5 21l.4 2.6l.5 -10.1l.5 -.5l.4 -5l.5 2.5l.5 10.2l.4 -2.9l.5 -9.3l.5 1.9l.4 -3.5l.5 6.1l.4 1.5l.5 12.6l.5 -13.6l.4 8.7l.5 -8l.4 6.4l.5 -9.9l.4 2.1l.5 4.5l.4 -11.8l.5 12.1l.4 -4l.5 .5l.4 -13.2l.5 21l.4 -5.6l.4 -8.4l.5 8.3l.4 -4.1l.5 6.4l.4 -2.3l.4 -5.2l.5 7.3l.4 1.6l.4 1.4l.5 -8l.4 7.3l.4 -11.6l.5 12.9l.4 -16l.4 9.2l.4 -3.6l.5 4.8l.4 -2.9l.4 -5.6l.4 9.1l.5 -7.2l.4 4.6l.4 4.9l.4 -6.1l.4 3.1l.5 7.8l.4 -5.4l.4 -11l.4 4.4l.4 5.6l.4 7.2l.4 -20.7l.4 10.7l.5 -2.8l.4 -2.1l.4 9.2l.4 1.3l.4 -13.6l.4 18.2l.4 -11.7l.4 5.9l.4 -10.5l.4 8.1l.4 -6.2l.4 17.5l.4 -3.8l.4 -15.1l.4 5.4l.4 -4.8l.4 12l.4 -8.6l.4 15.5l.4 -23.1l.4 11.4l.4 -8l.3 4.3l.4 1.1l.4 .7l.4 -5.1l.4 4.6l.4 8.4l.4 -11.9l.4 4.6l.3 5.4l.4 -4.9l.4 -1.3l.4 -6.6l.4 3.9l.4 8.1l.3 -5.7l.4 12.4l.4 -12.5l.4 5.7l.3 -4l.4 12.6l.4 -22.1l.4 13.4l.3 3.5l.4 -16.4l.4 1.2l.4 -.7l.3 -.5l.4 8.4l.4 2.4l.3 -10.4l.4 3.3l.4 2.8l.3 10.1l.4 3.3l.4 -10.3l.3 5l.4 -12.3l.4 13.5l.3 -13.2l.4 .7l.3 7.1l.4 -2.6l.4 -6.8l.3 -2l.4 14.2l.3 -22.3l.4 22.3l.4 -6.7l.3 5l.4 .6l.3 -3.6l.4 14.4l.3 -5.5l.4 -9.2l.3 1.8l.4 -5.2l.3 -2.8l.4 3.1l.3 1l.4 .6l.3 -4.4l.4 11l.3 -4.1l.4 -.7l.3 5.3l.4 -5.5l.3 .8l.3 .6l.4 -1.3l.3 -2.6l.4 -3.6l.3 .7l.3 17.6l.4 -.4l.3 -11.7l.4 1.9l.3 -6.3l.3 2.5l.4 -7.7l.3 19.4l.3 -8.1l.4 -4.6l.3 12.9l.3 -9.2l.4 -3.7l.3 8l.3 -11.6l.4 13.8l.3 -1.4l.3 -4l.4 1.2l.3 -.6l.3 -3.2l.3 2l.4 .7l.3 -.7l.3 4.1l.3 -12.5l.4 3.2l.3 4.7l.3 7l.3 -9.5l.4 11.6l.3 -11.4l.3 -2.5l.3 .6l.3 11.5l.4 -12.2l.3 6.7l.3 -2.9l.3 -5.2l.3 12l.4 .5l.3 -.2l.3 -7.3l.3 -2.4l.3 10.3l.3 -8.8l.4 4.7l.3 -3.3l.3 -4.2l.3 .7l.3 11.8l.3 -10.8l.3 3.1l.3 7l.3 -2.6l.4 -9.5l.3 2.6l.3 4l.3 15.6l.3 -10.3l.3 -2.3l.3 -5.4l.3 4.9l.3 -6.7l.3 -2l.3 7.4l.3 -8.7l.3 12.2l.3 -6.7l.3 6.8l.3 -6l.3 2.1l.3 -9l.3 4.6l.3 -9.4l.3 18.7l.3 -8.6l.3 -3.4l.3 -.3l.3 -.2l.3 8.6l.3 7.5l.3 -.2l.3 -20.9l.3 3.9l.3 9.4l.3 -9.3l.3 10.1l.3 -12.7l.3 -1.1l.3 11.2l.3 2l.2 -4.2l.3 8.2l.3 -7.8l.3 -6.2l.3 5.1l.3 10.4l.3 -4.5l.3 -1.2l.3 -5.3l.2 10.3l.3 -10.2l.3 1.4l.3 20.1l.3 -17l.3 5.7l.3 -8.5l.2 4.6l.3 -5.9l.3 -5.8l.3 16.2l.3 4.2l.3 -20.5l.2 7.6l.3 6.7l.3 -1l.3 -9.5l.3 -4.1l.2 4.7l.3 3.2l.3 -4.8l.3 4.5l.3 7l.2 -8.4l.3 9.2l.3 -.2l.3 -12.2l.2 -7.6l.3 13.2l.6 5.8v-4.7l.8 -5.6v19.2l.8 -17.9v19.7l.8 -11.5v-10.3l.8 11v-9.8l.8 -2v11.1l.9 -12.3v15.6l.8 .2v-12.2l.7 4.9v-5l.8 5.7v-9.8l.8 11.7v-1.2l.8 1.7v-5.5l.8 -1.3v2.3l.8 -2.8v16.9l.8 -20.7v7.8l.7 11.6v-12.6l.8 4.2v8.4l.8 -26v9.8l.7 10.8v-15.8l.8 6.8v-3.7l.8 1.3v25.2l.7 -25.6v10.7l.8 -9.1v6.5l.7 2.7v-16l.8 17.1v-14.9l.7 9.7v-7.3l.8 1.6v-3.9l.7 11.6v-6.5l.7 -2.5v7.1l.8 -6.4v8.1l.7 .2v-8.8l.7 2.3v11.6l.7 -4.3v-12.9l.8 15.5v-11.4l.7 2.8v3.6l.7 -11.1v12.4l.7 -1v-8.1l.7 5.1v5.6l.7 -1.4v-14.6l.7 20v-14.3l.7 14.6v-17l.7 6.6v-7.4l.7 -1.8v8.7l.7 -5.2v7.5l.7 -4.9v6.7l.7 -1.3v-1.6l.7 -4.7v15.1l.7 -17.6v24.3l.7 -24.8v13.4l.6 -.9v-7.6l.7 -4.6v8.1l.7 -.7v-5.1l.7 -4.8v5l.6 10.1v-8.8l.7 6.6v-10.5l.7 3.7v-6.5l.6 7.2v-4.2l.7 -3.2v11.5l.6 -.8v10.1l.7 -17v1.2l.6 -7.5v13.7l.7 -5.9v7.9l.6 2v-5.1l.7 .3v-11.7l.6 9.5v2.3l.7 -6.2v13l.6 -9v-4.2l.7 3.4v8.1l.6 1.2v-11.7l.6 .5v8.9l.7 -6.2v-7.1l.6 17.5v-20.5l.6 7.2v11.9l.6 -14.2v19.4l.7 -8.1v-13.8l.6 5.1v11.6l.6 -8.7v-6l.6 4.3v14.8l.6 -23.8v18.4l.6 1.4v-21.6l.7 15.6v-9.6l.6 -1.1v17.4l.6 -7.4v-5.9l.6 11.5v-12l.6 6.4v-2.6l.6 -1.6v4.8l.6 1.7v-9l.6 -1.8v8.9l.6 -.9v5.5l.6 -21.4v19.2l.6 -.5v-4.9l.5 1.8v-11.2l.6 21.1v-14.6l.6 -1.7v4.2l.6 -8.4v9.9l.6 -9.4v10.1l.6 -3.8v-6.4l.5 9.8v-9.4l.6 4v10.9l.6 2.4v-22.8l.6 20.3v-17.7l.5 20.1v-13.5l.6 13.3v-12.5l.6 -7.9v15.7l.6 4.6v-9.8l.5 13.9v-19.7l.6 3.9v13.4l.5 -2v-10.3l.6 16.1v-18.6l.6 8.6v-7.9l.5 1.6v4.9l.6 -.8v-12.4l.5 6.7v17.2l.6 -3.1v-13.3l.6 -7.6v16.1l.7 -11.1v20l.8 -23.9v17.4l.7 -3.4v-7.1l.7 -1.3v8.8l.7 -3.3v-5.3l.8 -4.7v10l.7 -13.3v19.3l.7 7.9v-19.4l.7 -1.7v9.9l.7 21.4v-35.5l.7 5v5.4l.7 4.9v-9.1l.7 -2.7v8.6l.7 11.2v-27.7l.7 16.9v-17.1l.7 27.6v-22.5l.7 15.4v-10.2l.6 15.3v-18l.7 17.8v-17.2l.7 -2.6v10.5l.7 6.7v-16.6l.7 10.7v-12.8l.6 16v-12.5l.7 13.5v-10.3l.7 5.4v-4.8l.6 9v-10.8l.7 3.8v-10.1l.7 1.4v26.5l.6 -11.1v-9.2l.7 -4.1v10.6l.6 -1.9v-5.7l.7 -1.8v7.4l.6 -6v14.6l.7 -10v8.3l.6 -10.6v-3.8l.7 3.4v18.1l.6 -13.1v-9.6l.6 1.6v11.7l.7 -10.4v4.6l.6 .9v-9.7l.7 8.6v9.3l.6 -11.6v7.2l.6 -16.1v23.2l.6 -2.4v-11.6l.7 -1.3v.8l.6 8v-4.8l.6 9.6v-9.9l.6 9v-8.6l.6 7.4v-12.1l.6 4v6.3l.7 12.9v-26.3l.6 8.8v6.4l.6 -17.7v22.5l.6 -13.5v16.3l.6 -20.5v5.1l.6 11.9v-17.9l.6 2.8v9.5l.6 -15.1v15.8l.6 -.6v-6.9l.6 8.4v-21.2l.6 24.3v-13.7l.6 .2v12.9l.5 3.1v-20.5l.6 16.4v-22.4l.6 9.2v12.5l.6 -19v13l.6 -7.1v25.1l.6 -12.4v-12l.5 1.4v26.8l.6 -20.9v-10.4l.6 13.7v-5.7l.6 -6.1v7.1l.5 11v-23.6l.6 11.1v-3l.6 2.7v18l.5 -14.8v-11.2l.6 24.7v-25.5l.6 4v9.1l.5 1.6v-17.6l.6 7.4v10.5l.5 4.1v-11.3l.6 -2.1v11.7l.5 -16.2v12.2l.6 -9.5v10l.6 -9v8.7l.7 -15.8v19l.7 -12.3v39.6l.7 -23.1v-20.9l.6 22.3v-17.4l.7 3.7v11.1l.7 -4.9v-17.3l.7 10.4v9l.6 -12.2v14.6l.7 -4.8v-12.4l.7 9.8v-11.8l.6 8.6v14.6l.7 -9.3v-17.7l.6 7.2v19.2l.7 -22v10.2l.6 7.6v-15.6l.7 7.3v7.9l.6 -1.8v-13.2l.7 9.8v-5l.6 5.3v-6.6l.7 -5.8v11.5l.6 .5v-6.6l.7 10v-16.6l.6 15.1v-14l.6 11.5v-5.3l.7 17.3v-21.8l.6 4v16.5l.6 -2.5v-17l.6 13v-8.9l.7 -4.8v14.3l.6 -14.9v20.3l.6 -19.5v10l.6 15.3v-24.1l.6 9.8v-6.6l.6 12.4v-13.9l.6 -4.2v13.6l.6 3.8v-12.1l.7 9.6v-13.9l.6 23.4v-19.1l.6 7.4v-11.6l.6 .4v12l.6 -.9v-8.7l.6 21.9v-28.7l.6 16.9v-10.4l.5 16.2v-16.9l.6 8v-10l.6 .7v11.2l.6 4.3v-20.5l.6 6.3v19.7l.6 -16.3v7.3l.6 .2v-8.2l.5 5.1v-4.2l.6 9.8v-14.8l.6 8.9v-7l.6 19.5v-21.5l.5 8.2v-4.1l.6 6.7v-10.3l.6 -3.9v14.1l.6 .2v-18.4l.5 25.2v-23l.6 10.3v-9.5l.5 15.9v4.4l.6 -1.5v-9.5l.6 -7v21.4l.5 -14.1v10.4l.6 2.1v-16l.5 -5.4v12.7l.6 -9.6v9.9l.6 6.2v-15l.6 11.8v-16.3l.7 20.7v-14.5l.7 11.5v-9l.6 -6.4v12.9l.7 5.2v-9l.6 12.7v-21.9l.7 20.2v-15.5l.6 14v-11.4l.6 13.2v-13.8l.7 8.5v-10.8l.6 -6.9v16.8l.6 -15.9v9l.7 9.1v-7.7l.6 2.7v-15.9l.6 30.5v-27l.7 21.7v-21.1l.6 10.6v-8l.6 13.3v-11.6l.6 -2.1v10.8l.6 .6v-7.6l.7 -5.1v20.8l.6 -14.3v-8l.6 18.7v-13.6l.6 16v-19.7l.6 5.9v12.2l.6 -17.6v25.9l.6 -14.8v-7.3l.6 8.8v-13.5l.6 11.2v-11.2l.6 4.2v13.4l.6 .6v-16.5l.6 4.2v18.8l.6 -23.7v11.4l.6 3.7v-10.9l.6 11.8v-11.8l.6 -11.1v23.3l.5 -2.2v-13.9l.6 17.4v-17.5l.6 22.4v-21.9l.6 5.8v12.5l.6 -16.6v13l.5 -10.4v23.5l.6 -8v-20.9l.6 16.2v-13.3l.6 -4.3v13.9l.5 3.1v-18l.6 9.3v15.4l.6 -27.8v18.8l.5 12.1v-18.9l.6 6.1v-9.9l.5 8.8v-9.2l.6 .1v16.5l.6 -14.5v10.3l.5 .4v-17.9l.6 1.2v15l.5 -.2v-9.1l.6 8.1v-8.8l.7 6.7v-16.2l.6 23.2v-16.5l.6 .2v21.6l.7 -22.6v12.7l.6 13v-31.6l.6 8.4v12.4l.7 -13.2v21.1l.6 -14.9v-12.2l.6 21.1v-10.6l.6 11.7v-19.1l.6 3.4v3.5l.7 -1.5v11.8l.6 -.9v-18.2l.6 24.2v-22.9l.6 24.9v-27l.6 19.8v-14.5l.6 -5.1v19.9l.6 -.9v-14.9l.6 -.6v20.3l.6 -18.3v14.5l.6 -14.7v17l.6 -4.4v-16.2l.6 1.9v18.6l.6 -22.3v25.1l.6 -17.9v14.6l.6 -.7v-12l.6 7.9v-8.6l.6 -7v12.5l.6 6.2v-17l.5 15.5v-14.8l.6 2.6v7.8l.6 -11.1v21.3l.6 -20.2v14l.6 -10.5v7.6l.5 8.7v-21.6l.6 4.4v15.9l.6 -.2v-20.1l.5 2v14.2l.6 7v-25.4l.6 -2.1v23.2l.5 4.7v-21.4l.6 -2.3v16.2l.6 -15.2v9.6l.5 -7.8v10.8l.6 -5.8v16.5l.5 -5.6v-19.7l.6 17.4v-11.3l.5 11.8v-17.2l.6 19v-16.3l.6 15.9v-17.2l.7 .6v20.4l.6 -27.6v28.7l.6 -5.4v-17.9l.6 17.6v-10.8l.6 13.9v-21.5l.7 2.2v13.4l.6 2.4v-12.5l.6 -3.9v16.2l.6 3.6v-14.1l.6 -5.3v12.7l.6 1.9v-19.6l.6 6v12.7l.6 4.9v-19l.6 18.9v-14.8l.6 9.9v-14.4l.6 12v-11.4l.6 2.3v17.2l.6 2v-22.2l.6 .2v18l.6 -13.4v17.8l.5 -19.5v18.2l.6 .9v-17.2l.6 14v-16.3l.6 .3v22.2l.6 -5.9v-19.6l.5 14.4v-15.8l.6 23.8v-21.1l.6 1.3v12.8l.6 1.2v-10.2l.5 12.3v-18l.6 13.2v-14.5l.6 23.1v-23l.5 3.5v23.3l.6 -.6v-30.4l.6 25.6v-19l.5 -1.5v16.1l.6 -14.8v16l.5 -12.9v19l.6 -11.7v-12.1l.5 7v11.2l.6 -16.6v15.6l.6 -3.3v-12.8l.6 -8.8v19.1l.6 -11.7v16.9l.6 4.7v-13.3l.6 -2.6v16.8l.6 -4.8v-13.7l.6 13.3v-10.6l.6 8.4v-17.6l.6 17.2v-16.2l.6 17.5v-11.6l.6 -3.3v20l.6 .1v-16.7l.6 20.4v-26.8l.6 .9v21.4l.6 4.7v-30.9l.6 20.7v-10.1l.6 10.2v-13.8l.6 29.7v-28.9l.6 18.7v-19.2l.6 14.9v-11.6l.5 13v-17.3l.6 30.4v-34l.6 31.2v-28.9l.6 1.3v14.6l.5 -1.6v-17.3l.6 20.9v-16.2l.6 10.4v-15.8l.5 29.4v-23.9l.6 -2.3v15.7l.6 -7.9v17.3l.5 -19.1v17.9l.6 -19v13.5l.6 4.4v-17.5l.5 -.4v20.4l.6 2v-23.9l.5 23.9v-23.8l.6 18.8v-20.3l.5 -.4v20.9l.6 1.3v-25.9l.6 22.8v-16l.6 20.4v-20.7l.6 -1.8v17.9l.6 -2.8v-14.9l.6 18.5v-17.4l.6 -2.5v20.6l.6 -16.8v14.2l.6 -17.6v22.4l.6 -22v14.6l.6 -12v10.6l.6 -15.5v22.1l.6 -18.3v22.6l.6 -24.4v17.8l.6 6v-21.9l.5 14.7v-15.9l.6 -5.7v19.1l.6 -1.9v-9.2l.6 -.2v15.8l.6 -6.2v-10.6l.5 16v-19.7l.6 26.9v-32.1l.6 -1v22.9l.5 -3.3v-11.6l.6 18.3v-15.3l.6 13.3v-16.2l.5 4.3v16.6l.6 -20.4v19.8l.5 -17.2v12.5l.6 6.3v-20.8l.6 -5.4v23l.5 -2.5v-14.9l.6 1.2v14.4l.5 -12.7v20.5l.6 -26.1v16.9l.6 -15.3v19.8l.6 -19.8v18.2l.6 3.8v-21.9l.6 16.3v-16.9l.6 -.4v21.9l.6 -4.7v-14.9l.6 -3.7v21l.6 5.9v-24l.6 26.8v-21.6l.5 11.4v-14.1l.6 -2.7v23.3l.6 -26.3v13.2l.6 3v-10.6l.6 16.7v-25.6l.5 21.3v-15.9l.6 -.3v17.9l.6 1.1v-15.5l.6 -3.5v22.3l.5 -24v18.5l.6 -12.8v15.1l.6 3v-25.5l.5 24.3v-20.8l.6 30v-30.5l.6 .5v16.7l.5 2.3v-19.2l.6 -1.3v19.2l.5 .9v-19.2l.6 28.1v-21.3l.5 17.6v-20.2l.6 16.3v-21.1l.6 19.3v-13.8l.6 15.2v-20.7l.6 21.6v-18.8l.6 21.1v-24.5l.6 16.8v-13.1l.5 -1v27.4l.6 -22.7v16.3l.6 -15.9v16.5l.6 -29.7v25.1l.6 -17.6v20.6l.6 -19.5v19.1l.5 -.9v-23.1l.6 1.4v21l.6 5.4v-22.7l.6 -1.5v23.3l.5 -19.9v11.5l.6 10.3v-24.4l.6 23.7v-27.1l.6 7.3v14.1l.5 -19.5v19l.6 -15.3v12.6l.5 11.8v-28.2l.6 19.1v-15.1l.6 -3v15.6l.5 -17.7v18.9l.6 3.2v-18.3l.5 17.7v-18.5l.6 14.6v-15.2l.6 -.7v24l.6 -2v-22l.5 -.1v27.8l.6 -10.6v-15.7l.6 19v-21.9l.6 2.3v17l.6 5v-25.7l.6 24.6v-15.5l.6 13.4v-19.6l.5 .5v17.7l.6 -18.9v20l.6 -2.1v-15.6l.6 -4.3v25.7l.5 3.6v-30l.6 2.5v26.6l.6 -5.4v-17.6l.6 .7v17.2l.5 -21.4v26.4l.6 -6.2v-15.8l.5 26.6v-29.6l.6 -.6v24.9l.6 -24.1v21.6l.5 -29.7v28.2l.6 -19.1v20.4l.5 21.2v-46l.6 26.7v-22.1l.5 -1.7v19.3l.6 -17.1v21.1l.6 -.7v-21.8l.6 .9v21.5l.6 2.1v-19.5l.6 8.3v-13.2l.5 4.6v21.8l.6 -7.3v-21.1l.6 22v-18.8l.6 -4.1v25.4l.6 -.8v-19.2l.5 15v-17.3l.6 18.6v-16.9l.6 -5.2v21.1l.5 -20.1v19.5l.6 .5v-18.7l.6 17.9v-14.7l.5 17.1v-19.1l.6 16.1v-17.1l.6 2.8v18.3l.5 -4.1v-15.4l.6 -.4v18.2l.5 -22.7v20.5l.6 -16.8v22.1l.5 -2.4v-23.7l.6 4.3v22.1l.6 0v-21.7l.6 21.5v-22.9l.6 -.2v20.7l.5 -15.3v23.3l.6 -31.8v22.1l.6 -.1v-17.4l.6 2.5v21.9l.5 1.1v-25l.6 27.9v-30.6l.6 4.9v13.9l.6 -12.6v16.4l.5 -2.1v-26.4l.6 6.3v32.8l.6 -13.5v-16.8l.5 13.2v-16.4l.6 3.4v19.2l.5 -20.5v22.4l.6 -5.5v-18.4l.6 18.6v-17.9l.5 6.6v10.4l.6 7.8v-22.5l.5 1.5v13.8l.6 -15.2v25.1l.6 -3.7v-19.5l.6 -6.6v20l.5 -21v28.6l.6 -7v-17.5l.6 -.4v24.5l.6 -24.4v21.9l.5 -21.7v16l.6 5.2v-20.5l.6 21.4v-24l.6 28v-26.6l.5 27.3v-26.7l.6 16.8v-15.4l.5 21.1v-21l.6 15.3v-16.4l.6 22v-20.5l.5 -1.4v16.3l.6 7.1v-27.9l.5 29.1v-22.2l.6 21.9v-27.4l.5 5v20.9l.6 -5.5v-15.1l.6 17v-19.8l.6 1.3v22.6l.6 -5.3v-22l.5 27.8v-26.2l.6 3.5v20l.6 -19.4v22.9l.6 .8v-25l.5 -2.1v24.1l.6 -22.4v21.1l.6 -5.5v-16.5l.5 25.9v-25.8l.6 3.2v14.8l.6 3.7v-21.9l.5 -.5v22.8l.6 -7v-16.4l.5 24.3v-28l.6 28.6v-17.4l.5 -9.3v22l.6 2.9v-18.4l.6 -3v17.1l.5 2.8v-17.3l.6 -7.4v21.6l.6 -16.8v32.5l.6 -12v-23l.5 16.7v-14.6l.6 -2.6v20.2l.6 6.7v-29.3l.6 24.6v-21.5l.5 16.9v-16.7l.6 25.5v-24.7l.6 22.5v-20.1l.5 19.3v-23.1l.6 5v15.2l.5 -16.6v21l.6 -22v23.2l.5 -24.4v30.9l.6 -4.4v-26l.6 23.3v-23l.5 2.8v19.8l.6 -4.7v-17.8l.6 -.4v27.8l.5 -3.4v-25.1l.6 24v-23.8l.6 -1.2v21.9l.6 -18.9v21.4l.5 -25.9v22.8l.6 17.5v-35l.6 18.9v-24.4l.5 26v-21.2l.6 .4v18.9l.6 0v-19.7l.5 -5.1v27.7l.6 -22.5v21.9l.5 -25.5v31.3l.6 -5.3v-22.5l.5 24.1v-26.3l.6 -.6v31l.6 -29.7v24.3l.5 1.3v-25.7l.6 3.5v15.4l.6 -20.1v22.7l.6 6.3v-27.3l.5 17.5v-21l.6 -1.6v25.4l.6 -22.3v24.5l.5 .2v-22.4l.6 .9v17.1l.5 -19.8v23.9l.6 2.7v-27.7l.6 -1.2v32.6l.5 -29.7v18.1l.6 1.9v-20.2l.5 24.1v-26.5l.6 5.8v17.9l.6 5.1v-25.9l.5 2.7v20.8l.6 -.1v-25.9l.6 24.1v-19.6l.6 -2.9v28l.5 -32.8v30.1l.6 -3v-20.5l.5 3.1v14.4l.6 -19.1v19.6l.6 12.6v-28l.5 -1.4v30.4l.6 -32v31.2l.5 -8.5v-24.2l.6 20.7v-24.5l.6 33.1v-34.4l.5 27.4v-24.1l.6 21.9v-21l.6 24.2v-20.1l.5 -1.9v23.1l.6 -21.4v16.9l.6 -.6v-16.4l.5 25.5v-29.3l.6 30.2v-29.3l.6 22.9v-19.8l.5 -.1v18.7l.6 -2.6v-19.1l.5 19.1v-13.5l.6 18.8v-19.8l.6 -4.5v25.4l.5 -3.7v-21.9l.6 1.7v18.8l.5 6.6v-30.1l.6 31.4v-28.9l.6 3v21.5l.5 -.9v-19.4l.6 26v-27.8l.6 22.9v-26.6l.5 2.1v28.8l.6 -7.3v-24.5l.6 27.3v-20l.5 -3.6v21l.6 .1v-25.2l.5 6.4v14.7l.6 8.3v-23.8l.5 2.9v18.7l.6 -4.9v-18.7l.6 -2.8v25.5l.5 -27.1v27.6l.6 2.6v-24.7l.6 25v-25.6l.5 31.6v-31.3l.6 1.9v19.9l.6 -3.4v-23.8l.5 8.2v20.8l.6 -25v22.9l.5 -20v33.9l.6 -5.5v-30l.6 -3.4v25.2l.5 10.4v-36.2l.6 3.3v24.6l.5 .6v-23.8l.6 20.3v-24.6l.6 3v22.5l.5 1.2v-25.8l.6 26.7v-27.4l.6 27v-27.5l.5 24.2v-18.6l.6 3.7v19.8l.5 1.2v-24l.6 22.8v-26.7l.6 .9v22.2l.5 -22.1v22l.6 -1v-20.9l.5 22.2v-25.8l.6 8.4v20.4l.5 -22.2v23.8l.6 -25.8v17.5l.6 -17.8v25.4l.5 -26.1v25.7l.6 -2.8v-27l.6 30v-26l.5 22.8v-20l.6 -4.4v29.3l.5 .3v-26l.6 .6v16l.6 5.5v-21.5l.5 22.4v-24.9l.6 -.2v25.3l.5 -26.2v30.6l.6 -28.4v25.1l.6 -3.4v-18l.5 23.4v-26.3l.6 .5v21.3l.6 -21v20l.5 5.5v-26.9l.6 21.2v-25.8l.5 3.9v21.6l.6 -20.5v25.6l.5 -28.9v29.9l.6 -28v28.9l.5 -8.2v-21.3l.6 25.6v-25.2l.6 21.4v-18.5l.5 17.6v-22.9l.6 -.5v31.2l.6 -8.2v-20.3l.5 29.3v-29.1l.6 26v-25.1l.5 21.1v-22.2l.6 22.9v-25.7l.5 3.7v28l.6 -2.7v-24l.6 18.2v-20.5l.5 27.3v-25.7l.6 2.6v18.5l.6 -19.2v18.2l.5 -23.5v31.1l.6 1.5v-26.5l.5 23.6v-27l.6 16.7v-14.6l.6 -2.5v28.5l.5 -29.6v22.6l.6 5.3v-25l.5 -1v22.5l.6 -1.3v-19.8l.5 26.8v-27.2l.6 -2.3v32.8l.6 -30.6v30.3l.5 -31v36.2l.6 -35.9v21.3l.5 -.1v-18.6l.6 15.7v-22.5l.6 1.7v20.2l.5 -21.6v24.5l.6 2.1v-19.7l.5 -5.7v24.1l.6 -22.8v25.8l.5 -25.3v18.4l.6 5.1v-21.3l.6 -3.3v25.3l.5 -24.9v36l.6 -34.7v24.5l.5 -2.4v-20.7l.6 -1.3v27.6l.6 1.9v-27.3l.5 20.1v-25.6l.6 2.9v19.5l.5 -16.8v35.3l.6 -36.7v27.4l.6 -28.7v20.9l.5 -24.2v35l.6 -9.5v-20.1l.5 19.3v-21.9l.6 24v-22.9l.5 20.8v-17.9l.6 23.8v-28.9l.5 26.4v-26.3l.6 24.9v-27.3l.6 23.3v-19.4l.5 -1.9v20.9l.6 6.4v-26l.6 22.3v-24.6l.5 1.1v22.2l.6 .7v-21.6l.5 5.7v21.7l.6 -32.1v27.7l.5 -21.7v20.4l.6 -22.1v23.5l.6 -20.5v24.8l.5 -32.4v27.6l.6 5.2v-29.2l.5 1.5v25l.6 -27.3v25.8l.6 -.9v-27.6l.5 28.7v-28.7l.6 5.1v26.3l.5 -2.1v-24.5l.6 -6.6v34.3l.5 -28.8v24l.6 -24.8v23.4l.6 -26.4v38.3l.5 -31.9v30.9l.6 -10.2v-22.8l.5 31v-33.8l.6 24v-23.1l.5 2.6v27.3l.6 -30.5v30.8l.5 -31.2v27.2l.4 -8.2v-10"/>
<path class="c" stroke="#008000" d="M395.9 959.8l130.2 -15.2l76.2 -11.6l54 -14.5l41.9 3.4l34.3 23.7l28.9 25.4l25.1 2l22.1 -10.7l19.8 -10.7l17.9 -3.7l16.3 -9.7l15.1 13.4l13.9 4l12.9 4.7l12.2 20.8l11.4 29.4l10.7 20.1l10.1 20.1l9.7 13.4l9.1 13.4l8.8 10.7l8.3 26.6l8 20.1l7.7 12.1l7.4 18.7l7 -6.7l6.9 -6.2l6.6 16.1l6.3 2l6.2 2.7l5.9 9.3l5.8 1.4l5.6 -.7l5.5 -3.3l5.3 8.7l5.1 -5.4l5 2l4.9 -.6l4.8 2l4.6 4l4.5 5.3l4.4 0l4.4 5.4l4.2 12l4.1 6.1l4 -2l4 -1.4l3.9 1.4l3.8 -.7l3.7 1.3l3.6 6.1l3.6 2.6l3.5 4.1l3.5 17.4l3.4 -2.7l3.3 2.7l3.2 3.3l3.3 -8.7l3.1 -5.3l3.1 18.4l3.1 -.5l3 -16.6l2.9 2.9l2.9 7.9l2.9 -4.9l2.8 -8.9l2.8 3.1l2.8 14.7l2.7 2l2.6 -8.5l2.7 -3.5l2.5 9l2.6 -15l2.5 17l2.5 -15.8l2.5 3.5l2.4 23.2l2.4 -14.8l2.3 2.2l2.4 -5.5l2.3 7l2.3 -13l2.2 2.8l2.2 -5.6l2.2 6.5l2.2 2l2.1 14.9l2.2 -14.3l2.1 12.6l2 -2.6l2.1 -9l2 7.9l2 -2.7l2 -3.7l2 -1l1.9 -2.1l2 .9l1.9 1l1.8 9.8l1.9 -10.6l1.9 7l1.8 -6.5l1.8 -5.2l1.8 23.5l1.8 -10.6l1.8 -3.7l1.7 -2l1.7 .5l1.7 9.5l1.7 -12.5l1.7 4.1l1.7 -.3l1.7 4.7l1.6 -9.7l1.6 -3.3l1.6 4.8l1.6 4l1.6 .2l1.6 3.9l1.5 8l1.6 -5.2l1.5 -3.7l1.5 -.4l1.6 -3.8l1.5 10.8l1.4 -2.2l1.5 -2.3l1.5 .7l1.4 -6.3l1.5 -5.7l1.4 .1l1.4 -.1l1.4 10.3l1.4 -1.5l1.4 -11l1.4 13.5l1.3 2.2l1.4 -6.2l1.3 -4.7l1.4 5.2l1.3 .5l1.3 -2.4l1.3 7.6l1.3 -11.4l1.3 -1.2l1.3 5.6l1.3 -.2l1.2 6.7l1.3 -9.6l1.2 6.8l1.3 1.9l1.2 5.6l1.2 -7.7l1.3 -12.1l1.2 6.6l1.2 7.4l1.2 -2.3l1.1 8.6l1.2 -11.6l1.2 -2.5l1.2 6l1.1 -6.3l1.2 10.5l1.1 -3.8l1.1 -5.5l1.2 -2.5l1.1 8.7l1.1 -5l1.1 4.5l1.1 2.7l1.1 -17.8l1.1 11.4l1.1 2.7l1.1 -11.7l1 1.8l1.1 14.3l1 -2.6l1.1 -9.2l1 3.4l1.1 .4l1 -10.1l1 11.2l1.1 4.6l1 -.4l1 2.1l1 -6.4l1 10.7l1 -6.2l1 -7.9l1 5.6l1 -3.1l.9 9l1 -18.5l1 18l.9 -9.5l1 -3.4l.9 10.6l1 -10.5l.9 -6l1 10.9l.9 10.3l.9 -12.5l.9 21.5l1 -21.4l.9 2.7l.9 -3.9l.9 6.3l.9 -5.1l.9 13.3l.9 -11.1l.9 12.2l.9 -6.8l.8 10.4l.9 -4.8l.9 -9.8l.9 1.4l.8 2.2l.9 3.1l.8 -5.8l.9 3.6l.8 -4.8l.9 -4.1l.8 2.4l.9 -.8l.8 4.5l.8 .4l.8 -8.7l.9 4.8l.8 .5l.8 8.2l.8 -7.4l.8 -5.5l.8 -.9l.8 1.1l.8 -.4l.8 -1.8l.8 12l.8 2.7l.8 -13.3l.8 2.3l.7 -8.7l.8 9.5l.8 8.7l.7 -9.6l.8 6.3l.8 11.8l.7 -2.1l.8 3.6l.7 -10.5l.8 -.9l.7 -.4l.8 1.8l.7 -1.4l.8 -6.1l.7 11.5l.7 -15.5l.8 1.1l.7 17l.7 -13.2l.7 11.8l.7 -7.6l.8 -8.4l.7 14.2l.7 -6.5l.7 -11.1l.7 11.4l.7 -3l.7 3.8l.7 -3.4l.7 3.9l.7 -12.5l.7 6.5l.7 13.1l.6 -17.1l.7 2.4l.7 6.4l.7 5.9l.7 -7.3l.6 -8.6l.7 16.7l.7 -13.1l.6 6.1l.7 3.2l.6 -8.5l.7 2l.7 8.3l.6 -5.5l.7 9.2l.6 -6.6l.7 6l.6 2l.6 -2.8l.7 -.5l.6 -6.5l.7 2.2l.6 -8.3l.6 18.9l.7 -19.5l.6 3.4l.6 -4.1l.6 .9l.7 8.3l.6 1.1l.6 -7.9l.6 8.9l.6 -11.5l.6 5.4l.6 -3.6l.6 -1.3l.6 21.7l.6 -12.8l.6 -1.9l.6 1.7l.6 -1.6l.6 .5l.6 -4.1l.6 2.4l.6 7.1l.6 -1l.6 -7.4l.6 -1.6l.6 7.3l.5 -6.2l.6 -5l.6 11.1l.6 5.6l.5 -12.6l.6 .5l.6 7.2l.6 -2.8l.5 10.3l.6 1.7l.5 -9.1l.6 7.9l.6 -10.6l.5 -10.6l.6 14l.5 -12.4l.6 9.5l.5 -2.1l.6 1.9l.5 16l.6 -25.6l.5 1.4l.6 4.8l.5 -.7l.6 -10l.5 9l.5 -5l.6 14.8l.5 -9.6l.5 12l.6 -13.1l.5 6l.5 5.9l.6 -8.6l.5 -4.5l.5 17.1l.5 -5.4l.5 -6.1l.6 10.4l.5 9.5l.5 -7.6l.5 -13.8l.5 -1.1l.5 12l.6 -9.9l.5 1.6l.5 -6.2l.5 4l.5 7.4l.5 -12.5l.5 4.6l.5 2.6l.5 -5.7l.5 10.1l.5 -9.2l.5 11.9l.5 -13.2l.5 -3.5l.5 8.8l.5 -9.7l.4 5.6l.5 9.7l.5 .4l.5 -8.5l.5 7.8l.5 -14.2l.5 10.9l.4 3.2l.5 -13.9l.5 21.2l.5 2.8l.4 -17.5l.5 -6.7l.5 4l.5 4.5l.4 -5.4l.5 20.6l.5 -7.4l.4 -8.9l.5 1.9l.5 -1.3l.4 -9.1l.5 5.8l.5 -13.8l.4 23.8l.5 -3.4l.4 -2.7l.5 2.1l.5 9.2l.4 -10.2l.5 -1.6l.4 .2l.5 .5l.4 -.3l.5 -.3l.4 -.1l.5 1.1l.4 -5.9l.5 10.2l.4 -4.6l.5 2.8l.4 8.7l.4 -6.6l.5 -2.2l.4 16.1l.5 -18.8l.4 7.2l.4 -19.3l.5 14.4l.4 -.6l.4 -8.5l.5 7l.4 -3.4l.4 3.5l.5 4.5l.4 1.4l.4 -14.5l.4 5.4l.5 7.9l.4 -3.8l.4 17.5l.4 -12.4l.5 -10.2l.4 .5l.4 -6.6l.4 6.3l.4 -6.1l.5 3.1l.4 8.2l.4 3.7l.4 -6.5l.4 -1.8l.4 5.4l.4 -7l.4 11.6l.5 -8.1l.4 .4l.4 -3.3l.4 1.2l.4 8.1l.4 4.3l.4 -7.9l.4 4l.4 -7.7l.4 -11.2l.4 13.1l.4 -9.5l.4 5.2l.4 6.1l.4 -4.5l.4 -2.4l.4 -1l.4 2.3l.4 -3.5l.4 6.9l.4 -5.6l.4 7.3l.3 3.4l.4 -13.3l.4 3.3l.4 4.1l.4 9.2l.4 -9.3l.4 2.6l.4 -1.8l.3 0l.4 4.1l.4 -2.1l.4 -13.2l.4 7l.4 6.7l.3 -.9l.4 -5.8l.4 2.7l.4 -1.3l.3 -.1l.4 -6.6l.4 19.2l.4 -10.8l.3 .5l.4 6.4l.4 4l.4 -7.3l.3 4.6l.4 -8.3l.4 1.6l.3 7.3l.4 -15.3l.4 3l.3 -2.6l.4 10.3l.4 -11.2l.3 2.4l.4 6.7l.4 10.9l.3 -3.2l.4 -10.9l.3 1.5l.4 5.3l.4 8.1l.3 -13.6l.4 8.5l.3 -13.4l.4 -.2l.4 3l.3 -2l.4 -1l.3 15.4l.4 -9.2l.3 10.4l.4 -7.2l.3 -7.7l.4 -3l.3 4.8l.4 10.4l.3 -2.2l.4 -7.6l.3 5.4l.4 2.7l.3 -1.6l.4 -2.1l.3 -6.9l.4 4.6l.3 -5.6l.3 7.6l.4 .3l.3 -3.6l.4 8.7l.3 -5.1l.3 -5.6l.4 2.4l.3 3.9l.4 1.8l.3 -5.4l.3 2.9l.4 4.1l.3 -5.2l.3 -1.5l.4 1.4l.3 -4.1l.3 1.4l.4 -1.6l.3 -4.8l.3 17.4l.4 -2.3l.3 -6.2l.3 -3l.4 -.8l.3 4.2l.3 -1.6l.3 6.6l.4 -10.4l.3 8.8l.3 -8.4l.3 -5.3l.4 9.6l.3 -2.4l.3 6.7l.3 -3.9l.4 1.5l.3 3.8l.3 -4.3l.3 -9.4l.3 6.1l.4 -2.7l.3 8.4l.3 -1.2l.3 -8.9l.3 7.8l.4 -3.4l.3 -1.6l.3 11.9l.3 -13.1l.3 5.7l.3 -2.2l.4 .1l.3 -6.7l.3 -.1l.3 13.1l.3 1.3l.3 -.5l.3 -9.3l.3 -.5l.3 5.1l.4 -4.9l.3 12.4l.3 -15l.3 7.1l.3 4.3l.3 -5.2l.3 -6.5l.3 16.2l.3 -15.8l.3 .8l.3 2.6l.3 4l.3 -8.1l.3 9.9l.3 -16.1l.3 11.5l.3 -8.2l.3 12.9l.3 -2.9l.3 6.5l.3 1l.3 -7.6l.3 -1.3l.3 5.3l.3 -7.9l.3 -4l.3 7.3l.3 -.1l.3 13l.3 -7.9l.3 -.9l.3 -4.2l.3 -1.4l.3 2.3l.3 4.3l.3 -1.7l.3 -7.2l.2 14.8l.3 -20.6l.3 3.8l.3 6.5l.3 6.9l.3 8.8l.3 -11l.3 -8.3l.3 -2l.2 12.2l.3 -2.4l.3 11.6l.3 -12.1l.3 -3.7l.3 -.5l.3 -.8l.2 -6.2l.3 12.1l.3 -3.6l.3 -4.2l.3 10.8l.3 -6.7l.2 -2.9l.3 -.9l.3 6.2l.3 4.1l.3 -10.6l.2 -1.2l.3 -1.6l.3 6l.3 -4.9l.3 3.8l.2 1.8l.3 -8.3l.3 3.4l.3 17.4l.2 -17.1l.3 1.7l.6 8.5v-15.9l.8 19.7v-13.6l.8 10.4v-10.1l.8 2.2v3.2l.8 5.2v-13.6l.8 2.9v13.9l.9 -9.1v-10.4l.8 6.5v8.2l.7 6.3v-16.4l.8 -6.2v5.8l.8 -.8v5.2l.8 -2.1v9.1l.8 .3v-20.6l.8 9.5v9.6l.8 -5.8v-7.1l.7 8.2v5.2l.8 -.9v-10.3l.8 13.5v-11.6l.7 -7.6v15.4l.8 -9.3v5.2l.8 3.6v-7.6l.7 12.4v-13l.8 5.4v-7.6l.7 -.9v5.9l.8 12.1v-14.7l.7 8.7v-5.8l.8 3.4v-12.3l.7 -.2v14.5l.7 2.7v-6.3l.8 -4.8v19.9l.7 -26v11.6l.7 -5.4v-4.1l.7 -.8v21.2l.8 -8.5v-15.9l.7 9.1v4.7l.7 -3.3v.7l.7 -2.2v8.3l.7 -1.7v-1.8l.7 -13.4v17.9l.7 -1.7v-8.8l.7 3v3.6l.7 -10.3v19.3l.7 -5.7v-14.9l.7 9.7v-5.6l.7 4.6v-5.8l.7 8.2v-7.7l.7 3.5v6.4l.7 -11v-1.1l.7 -3.6v12.2l.6 -13.5v20l.7 -13.6v3.2l.7 1.4v-6.1l.7 1.3v14.2l.6 3v-17.2l.7 .6v14.8l.7 -18.5v14.6l.6 0v10.1l.7 -12.8v3.6l.6 -12.6v6.9l.7 -.3v14.9l.6 -20.9v14.1l.7 -10.7v8.2l.6 -3.1v-1.1l.7 9v-8.8l.6 -3.6v-7.2l.7 12.6v-10.9l.6 5.1v-9.4l.7 22v-9.9l.6 5.4v-11.4l.6 15v-17.2l.7 2.7v4.6l.6 2.4v-10.3l.6 25.8v-15.1l.6 .3v-8.4l.7 10.4v-7.1l.6 11.9v-20.4l.6 7.5v7.5l.6 .7v-14.1l.6 8.2v7.4l.6 -13.3v12.4l.7 4.3v-8.4l.6 -4.4v-2l.6 -3.7v14.1l.6 -7.8v7.7l.6 -7v-2.6l.6 5.4v-3.1l.6 -.2v5.3l.6 7.6v-12l.6 -14.2v24.9l.6 -10.9v12.9l.6 -10.6v9.5l.5 .3v-4.8l.6 -3.4v-13.6l.6 14.8v7.6l.6 -1.2v-11.5l.6 -1.7v9.6l.6 -17.9v18.1l.5 3.9v-11.8l.6 9.4v-13.8l.6 -2.1v9.8l.6 7.3v-11.3l.5 -.2v-.9l.6 3.1v-6.4l.6 18.8v-18.1l.6 1.8v14.5l.5 -16.9v14.7l.6 -1.6v-11.7l.5 -8.7v19.1l.6 -5.4v12.6l.6 -21.1v11.4l.5 -7.8v13.9l.6 -7.8v-6.9l.5 -.1v8.9l.6 4.6v-9.7l.6 -5.6v15.3l.7 -4.1v-10.2l.8 10.8v-8l.7 3.7v13l.7 -18.6v13l.7 .7v-16.6l.8 5.9v5l.7 9v-11.2l.7 .3v-8.7l.7 5.9v13.4l.7 -15.8v17.9l.7 -13.7v14.4l.7 -6v-12.5l.7 3.1v18.1l.7 -28.8v12.6l.7 -9.4v21.7l.7 -8.2v-4.9l.7 8.1v-16.9l.6 10.2v-5.9l.7 11.7v-14.5l.7 26.8v-26l.7 11.4v6l.7 -13.7v2.8l.6 -2.4v5.8l.7 5.1v-11.9l.7 16v-19.5l.6 1.5v12.6l.7 -15.4v9.8l.7 -1.2v16l.6 -24.3v13.9l.7 -9.3v13.2l.6 -23.1v22.6l.7 -14.2v5.7l.6 -1.9v8.7l.7 -2.1v-5.9l.6 3.9v-11.8l.7 16.7v-13l.6 4.8v-3.5l.6 8.7v-18l.7 6v14.6l.6 -1.5v-15.8l.7 21.5v-18.5l.6 -6.3v15.8l.6 -13.6v13.3l.6 -1.2v-6.3l.7 18.6v-19l.6 -4.9v9.9l.6 -9.8v16.3l.6 -12.8v16.8l.6 -3.4v-11.8l.6 10.4v-11.4l.7 1.3v5.1l.6 11v-12.1l.6 10.1v-12.8l.6 -5.8v14.2l.6 -1.5v-2.3l.6 -7.2v12l.6 13.4v-24.6l.6 14.6v-13.8l.6 1.2v7.9l.6 -5.8v8.5l.6 -14.7v8.2l.6 -.7v-5.9l.5 -5.6v22.5l.6 -14.9v17.6l.6 -18.9v4.8l.6 -2.7v17l.6 -15.5v7.4l.6 -14.3v12.8l.5 -1.7v-5.4l.6 -4.1v11.5l.6 -4.5v-6.6l.6 17.3v-19.2l.5 16.7v-8.6l.6 10.5v-18.9l.6 6.6v12.3l.5 -20.6v16.7l.6 -3.3v-10.3l.6 3.9v6.3l.5 -6.6v7.9l.6 .1v-8.4l.5 -2.6v16.8l.6 -8.8v-9.1l.5 8.4v5.2l.6 -2.2v-7.3l.6 -6.6v15.5l.7 -10.6v15.1l.7 -11.5v11.4l.7 -2.8v-15.3l.6 2.2v15.8l.7 -18.4v18.5l.7 -10.9v11.7l.7 -4.8v-15.4l.6 20.8v-19.2l.7 2.2v8.6l.7 7.9v-18.1l.6 14.4v-15.6l.7 17v-11.2l.6 -.7v10.8l.7 -10.8v17.9l.6 -7.7v-11.2l.7 -4.1v7l.6 -8.9v22.1l.7 -20.3v20.1l.6 -27.5v19.1l.7 8.5v-9.8l.6 -7.7v9.7l.7 -8.7v14.1l.6 -21.2v18.9l.6 8.9v-22.3l.7 11.5v-13.6l.6 14.2v-13.2l.6 -1.5v22.2l.6 -6.1v-9.3l.7 -6.4v15l.6 4.7v-19.2l.6 1.7v11.1l.6 -1.5v-5.8l.6 10.6v-9.8l.6 12.4v-15.7l.6 -1.7v19.3l.6 -20.6v16.6l.7 -.2v-10.7l.6 -.7v15.2l.6 .3v-15.6l.6 5.3v-7.3l.6 15.6v-12.3l.6 11.4v-12.7l.6 8.3v-9.3l.5 -1.9v25.5l.6 -17.3v-6.7l.6 9.7v-9.4l.6 .9v19.5l.6 -21.4v10l.6 -16.8v18.5l.6 -13v13.3l.5 -15.7v17.6l.6 -2.9v-9.7l.6 13.5v-11.3l.6 -2.2v20.9l.5 -28.3v13.6l.6 -7.4v15l.6 -1.5v-15l.6 1.3v6.2l.5 -.3v-5.9l.6 .8v24l.5 -23.1v9.2l.6 -10.4v9.2l.6 4.1v-13.1l.5 1.8v24.6l.6 -25.7v10.9l.5 -16.4v17.3l.6 -14.4v15l.6 -18.3v24.1l.6 -6.9v-9.2l.7 8v-10.1l.7 -8.4v16.7l.6 -.5v-11.2l.7 -5.6v25l.6 -2.2v-23.5l.7 6.1v14.5l.6 -3.2v-7.2l.6 2.5v12.5l.7 -3.8v-9.2l.6 -6.5v19.4l.6 -16.4v11.6l.7 14v-26.4l.6 21.3v-17.6l.6 -8.2v18.1l.7 -11.3v14.7l.6 -15v7.6l.6 -8.9v10.5l.6 .3v-5.8l.6 5v-10.4l.7 14.6v-16.4l.6 -2.6v10.7l.6 -9.7v23.5l.6 -21.7v10.7l.6 -12.9v29l.6 -9.9v-15.1l.6 20.5v-20.3l.6 -3.1v8.2l.6 2.5v-11.8l.6 8.4v9.3l.6 -17.3v12.4l.6 -3.7v9.7l.6 -13.4v17.3l.6 -1.3v-20.6l.6 18.7v-17.6l.6 8.2v14.5l.5 -24.3v12.2l.6 6.8v-18.4l.6 .5v16.9l.6 -19.5v13.7l.6 -6.1v11.7l.5 1.7v-21.4l.6 19.2v-14.3l.6 11.8v-9.5l.6 -5.2v17.7l.5 3.4v-20.1l.6 2.3v9.1l.6 11.7v-23.8l.5 -3.1v18.2l.6 -11.1v18.5l.5 -26.5v26.5l.6 -19.4v8.5l.6 3v-9.4l.5 -5.3v22.8l.6 -17.3v16.8l.5 -3.6v-9.8l.6 -9v13.1l.7 .9v-17.7l.6 28.5v-22l.6 24.6v-23.2l.7 -1.4v9.3l.6 -12.3v18.8l.6 -13.9v16.4l.7 -15.4v9.3l.6 -1.7v-13.1l.6 19.8v-14.6l.6 7.8v-10.6l.6 16.8v-15.1l.7 -1v16.6l.6 6v-20.8l.6 2.2v11.8l.6 -17v16.6l.6 -4.3v-17.4l.6 15.7v-6.9l.6 -6.7v33.4l.6 -30.8v18.5l.6 -19.3v13.6l.6 7.3v-23.7l.6 4.8v11.3l.6 5.9v-17.8l.6 -.3v11.1l.6 5v-13.9l.6 18.7v-14.7l.6 15.7v-20.1l.6 9.1v-9l.6 -.1v15.4l.5 -1.2v-20.3l.6 15.8v-11.2l.6 12.9v-13.3l.6 10.8v-7.4l.6 -8.1v24.3l.5 -16.2v7.3l.6 7v-18.2l.6 1.5v15.9l.5 -14v6.5l.6 -6.8v13.8l.6 7.1v-27.5l.5 -3.5v21.3l.6 -15.7v16.3l.6 -21.7v24.2l.5 1.1v-16l.6 -10.4v22.7l.5 -4.2v-10.4l.6 .5v14.5l.5 -11.5v17.8l.6 -5.7v-11.7l.6 .6v19.1l.7 -.9v-22.8l.6 1.6v25l.6 -5.8v-21.5l.6 .5v20l.6 1.4v-21.1l.7 -1.8v24.1l.6 -6.1v-21.5l.6 9.1v13.7l.6 -14v19.2l.6 -18v16.4l.6 -21.7v21.2l.6 2.4v-23.3l.6 -3.1v30.1l.6 -25.3v16.3l.6 -23.9v19.3l.6 -1.1v-14.3l.6 9.4v13.9l.6 -21.6v28.5l.6 -6.7v-18.5l.6 -1.9v17.7l.5 3.4v-20.7l.6 22.3v-26.9l.6 2.9v18.2l.6 -16.1v25.4l.6 -7.7v-22.1l.5 1.1v16.4l.6 -7.3v11.8l.6 -19.1v15l.6 0v-15.9l.5 20.6v-18.8l.6 -4.3v20.7l.6 -2.9v-17.4l.5 4.9v18l.6 -16.5v22.7l.6 -8.9v-18.4l.5 12.7v-9.5l.6 10.7v-15l.5 -.3v21.8l.6 -5.4v-9.2l.5 -2.4v14.5l.6 4v-17.1l.6 -1.8v15.6l.6 -13.1v15.2l.6 -17.3v8.7l.6 3.1v-15.4l.6 20.7v-20.4l.6 1.2v15.7l.6 -18.3v16.4l.6 .6v-10.6l.6 15.2v-14.8l.6 -4.3v17.7l.6 1.1v-21l.6 -.3v-49.5l.6 39.6v33.2l.6 -26.1v26.1l.6 -22.5v21.9l.6 -17v12.4l.6 6.3v-16l.6 11.3v-21.4l.6 2.2v20l.6 -22.4v23.1l.5 -18.4v25.9l.6 -23.3v19.8l.6 -6.6v-14.5l.6 10.8v-9.5l.5 -1.2v19.4l.6 -4.9v-13.7l.6 14.3v-15.4l.5 -6.3v21.1l.6 -13.7v16.1l.6 .9v-17.7l.5 -4.8v11l.6 -1.8v12.4l.6 -15.3v11.1l.5 -9.8v10.3l.6 -16.5v20.6l.5 -3.1v-19.7l.6 24.8v-15.9l.5 8.3v-13.4l.6 23v-22.3l.6 -1.1v20.1l.6 -16.2v14l.6 5.4v-26.5l.6 24.3v-14.5l.6 -5.5v14l.6 -17.1v15l.6 2.9v-15.4l.6 13.1v-10.8l.6 -2.4v17.7l.6 -19.1v25l.6 -26v21.4l.6 3.7v-27.4l.6 30.7v-25.1l.6 1.1v21.2l.5 -.8v-20.3l.6 -7.2v29.3l.6 -24.4v26l.6 -5.6v-15.4l.6 13.4v-21.6l.5 19.6v-18.4l.6 20.7v-20.2l.6 25.1v-25.2l.5 15.2v-16.4l.6 .7v19.8l.6 4.9v-22.1l.5 15.9v-18l.6 16v-10.6l.5 -3.1v12.9l.6 -11.9v16.5l.6 -4.5v-15.4l.5 16.4v-21.3l.6 5.1v22.5l.5 -22.9v20.8l.6 -18.2v17.3l.6 -16.7v21.8l.6 -26.4v24.8l.6 -7.1v-17.3l.6 5.4v9.4l.6 5.7v-16.6l.6 16.7v-16.9l.6 1.3v18.1l.6 -19.8v23.9l.6 -23.7v13.4l.5 9.3v-30.6l.6 7.7v15.3l.6 -18.9v29.5l.6 6.4v-42.2l.6 31.9v-23.5l.5 1.8v17.3l.6 2.3v-120.1l.6 80.6v39.2l.6 -8.8v-13.4l.5 28.1v-27.4l.6 -1.7v19.9l.6 .4v-16.5l.5 -1.1v18.9l.6 -14.4v19.7l.6 -6v-17.3l.5 .2v11.5l.6 -11.6v22.9l.5 -5.1v-22l.6 20.5v-16l.5 -2.4v16.2l.6 9.4v-26.9l.6 27.4v-24.6l.6 14.7v-12.5l.6 20.4v-22.6l.6 .2v18.5l.6 8.9v-24.2l.5 -5.3v24.8l.6 -25.9v16l.6 -12.7v14.3l.6 -19.8v20.7l.6 1.4v-16.5l.6 .6v20.2l.5 -22.7v17.3l.6 -2.6v-14.4l.6 22.8v-23.3l.6 3v20.7l.5 -25.6v23.6l.6 -21.3v17.6l.6 2.3v-20.1l.6 -1.9v25.7l.5 -25.2v18.4l.6 5.7v-24.8l.5 1.7v19.9l.6 -21.3v28.9l.6 -11.5v-13.1l.5 13.8v-15.4l.6 .1v18.5l.5 10.7v-24.4l.6 9.4v-17.2l.6 26v-26.1l.6 1.7v19.3l.5 -17v20.5l.6 -6.5v-16l.6 21v-21.4l.6 23.6v-19.9l.6 17.9v-16.9l.6 -1.9v13.1l.6 -19.8v20.3l.5 5.6v-18.8l.6 -3.2v21.6l.6 -15.8v17l.6 -27.6v18.2l.5 -7.9v15.9l.6 -17.8v21l.6 -22v17.2l.6 4.9v-21l.5 -8.6v23l.6 -23.1v23.5l.5 -14.1v17.9l.6 -5.1v-12.8l.6 13.1v-20.3l.5 22.8v-17.1l.6 -4.3v18.3l.5 -15.4v20.4l.6 -23.3v20.2l.5 -16.7v21.5l.6 -7.9v-12.6l.6 -5.1v22.7l.6 -16.4v14l.6 -3.3v-12.4l.6 19.7v-18.1l.5 -1v16.6l.6 2.8v-26.8l.6 22.8v-15.8l.6 23.2v-23.4l.6 22.9v-20.7l.5 -6.4v31.3l.6 -25.6v13.9l.6 2.3v-17.7l.5 24.1v-30.8l.6 7.7v24.4l.6 -4.4v-21.8l.5 -2.7v22.7l.6 -19.2v21.8l.6 -25.9v18.7l.5 4.2v-19.9l.6 22.1v-26.4l.5 27.8v-23.5l.6 -5.9v30l.5 3.2v-26.9l.6 19.6v-22.7l.6 25.2v-20.8l.6 -3.4v21.9l.6 5.2v-27.8l.5 4v15.4l.6 3.8v-24.9l.6 30.6v-27.7l.6 17.7v-18.5l.5 23.9v-19.3l.6 15.3v-21.2l.6 3.1v14.2l.6 -9.2v17l.5 1.6v-24.7l.6 -2.9v24.9l.6 6.8v-29.4l.5 19.8v-16.5l.6 18.7v-20.4l.5 -2v19.8l.6 -17.2v24.4l.6 -5.2v-17.7l.5 -1.6v19.1l.6 -20.8v14.8l.5 13.8v-29.7l.6 25.6v-25.9l.6 .1v23.3l.6 -18.8v19.3l.5 11.8v-37.2l.6 6.8v15.8l.6 5.1v-22.5l.6 -3.7v29.5l.5 -5.5v-22.6l.6 3.3v17.5l.6 -16v14.3l.6 -2.4v-18.4l.5 26.6v-24.5l.6 1.8v22.4l.5 -29.5v27l.6 -21.1v16.7l.6 -17.4v19.6l.5 -27.3v27.2l.6 -17.9v22.2l.5 -32.7v27.4l.6 4.5v-26.7l.5 5.9v32.5l.6 -34.1v17.4l.6 -17.5v14.9l.6 7.4v-26.9l.6 0v27.1l.5 -1.9v-19.7l.6 -4.5v19.6l.6 -12.9v16.4l.6 -22.8v23.9l.5 -18v20.3l.6 -3.9v-23.4l.6 28v-24.4l.5 29.5v-34.9l.6 23.7v-16.2l.6 2.3v16.2l.5 2.1v-23.5l.6 .6v21.5l.5 -21v30.6l.6 -8.7v-22.2l.5 28.3v-29.5l.6 27.7v-27.9l.6 5.7v15.8l.5 1v-19.5l.6 2.2v21l.6 -23.4v18.1l.6 -14.3v21l.5 -3.3v-22.9l.6 24.5v-21.8l.6 23.7v-24.6l.6 -.4v19.5l.5 3v-24.7l.6 .7v19.4l.6 4.1v-29.2l.5 8.1v22.5l.6 .6v-24.1l.5 21.4v-28.4l.6 31.3v-25l.5 19.3v-17.1l.6 19v-19.4l.6 24.4v-29.2l.5 1.6v22.3l.6 -.5v-24.5l.6 7.1v17.8l.5 -21.9v20.7l.6 -19.5v25.8l.6 -29.1v22.2l.6 -23.4v29.6l.5 -5.3v-23.9l.6 6.9v21.3l.6 .9v-24.9l.5 -.3v22.4l.6 4.6v-31.2l.6 5.2v19.8l.5 -21.7v24.5l.6 -24.9v20.1l.5 -24.1v32l.6 -24v16.5l.5 -15.5v19.6l.6 -27.3v32.8l.6 -27.7v10.4l.5 11.6v-20.6l.6 29.7v-34.2l.6 22.6v-22.3l.6 20.2v-19.7l.5 3.5v20.6l.6 -.1v-19.1l.6 -5.4v27.5l.5 -28.4v34.2l.6 -5.4v-23.9l.5 -.7v17.4l.6 -21.6v20.2l.6 9.2v-27.1l.5 23.3v-19.2l.6 12.8v-21.8l.5 26.6v-16.6l.6 19.8v-25.1l.6 .2v21.8l.5 3.3v-23.5l.6 21.1v-25.8l.6 5.7v16.7l.6 -12.5v18.6l.5 4.9v-31.8l.6 3.3v21.5l.5 -4.4v-22.1l.6 3.6v21.9l.6 -22.3v23.6l.5 -25.1v29.5l.6 -1.4v-29.3l.5 19.6v-19l.6 28.2v-31.4l.6 7.3v25.8l.5 -9.2v-20.3l.6 -7.4v43.9l.6 -32.9v15.2l.5 .6v-16.8l.6 20.4v-20.3l.6 17.1v-16.5l.5 2.8v15.3l.6 .8v-19.3l.6 18.3v-15.6l.5 -1.5v16.2l.6 3v-23.9l.5 -4.3v26.3l.6 1.8v-26l.6 6.1v19.8l.5 -19.3v15.6l.6 -16.6v16.9l.5 -19v20.5l.6 5.3v-27.5l.6 32.9v-30.8l.5 .3v22.1l.6 -18.2v21.5l.6 -25.1v14.5l.5 9.1v-23l.6 .5v27.5l.6 -29.6v21.1l.5 2.8v-22.7l.6 .8v17.9l.5 -17.6v16.6l.6 2.3v-19.6l.5 -1.9v23.7l.6 5.1v-26.3l.6 19.8v-19l.5 -2.7v22.6l.6 -1.5v-18.5l.6 23.5v-26.5l.5 20.2v-19.1l.6 -4.9v26.4l.6 -20.2v16.2l.5 4.6v-21.2l.6 29.8v-28.9l.5 .3v26.4l.6 -26.6v19.8l.6 -24v23.8l.5 -23.2v17.9l.6 3.6v-18.3l.5 -.3v21.2l.6 -24.2v28.8l.6 -4.1v-24.6l.5 24.9v-22.6l.6 17.7v-19.2l.6 30.2v-31.8l.5 28.4v-26.7l.6 32.5v-33.8l.5 23.4v-19.5l.6 -.7v21.3l.6 -25.8v31.8l.5 -29.2v32.5l.6 -32v18.3l.5 -2.4v-14.8l.6 20.5v-24.1l.5 28.4v-26l.6 -.5v27.3l.6 -24.8v26.3l.5 -30.5v29.7l.6 -4.2v-23l.6 -3.4v21.6l.5 10v-27.6l.6 -.8v23l.5 -27v32.5l.6 2.5v-31.8l.6 .9v22.4l.5 5.1v-29.2l.6 26.1v-22l.5 23v-21.4l.6 -3.9v25.4l.6 -27.4v31.7l.5 -4.2v-23.2l.6 25.9v-30.5l.6 6.9v26.5l.5 -32v31.4l.6 -26.9v26.9l.5 -5.5v-24.7l.6 -2.4v22.5l.5 2.2v-23.6l.6 26.1v-23.7l.5 22.7v-24.9l.6 22.5v-21.1l.6 24.7v-26.5l.5 1.5v26.1l.6 -.4v-25.6l.6 18.8v-18.3l.5 .7v26l.6 -23.4v14.1l.5 -14.8v25.1l.6 -25.9v19.5l.5 -23.7v23.7l.6 4.5v-24.3l.6 27v-32.2l.5 28.8v-25.6l.6 .4v26.2l.6 -3.8v-23l.5 -1.1v25.8l.6 -26.7v24.3l.5 -22v22.3l.6 -.8v-27.8l.6 32.6v-23.3l.5 -3.1v22l.6 7.8v-26.2l.5 22.4v-30.5l.6 1.9v26.2l.5 -24.1v20.7l.6 -19.2v17.8l.6 4.7v-23.1l.5 -2.7v25.6l.6 -22.3v20.3l.5 -.7v-25.4l.6 28.9v-22.4l.6 14.9v-17.3l.5 25.7v-28.4l.6 5.3v19.1l.5 -19.3v18.2l.6 12.9v-33.6l.5 27.7v-26.5l.6 18.8v-16.4l.6 -4.4v25.9l.5 2.2v-29l.6 25.1v-23.4l.5 20.9v-17.6l.6 -1.4v20.2l.6 5v-30l.5 25v-23.8l.6 27.2v-25.2l.5 -1.7v27.3l.6 -.6v-24.3l.6 23.6v-24.8l.5 21.2v-22.9l.6 1.2v25.5l.5 -18.9v21.1l.6 -3.9v-26.5l.5 4.3v24l.6 -23.5v21.4l.5 .3v-25.2l.6 .7v21.8l.6 9.3v-31.2l.5 21.4v-21.4l.6 31.1v-27.3l.6 -2.1v27.9l.5 -27.2v25l.6 -22.8v22.3l.5 -26.2v25.3l.6 -3.5v-24.8l.5 4.4v38.6l.6 -39.9v22.4l.6 1.9v-24.8l.5 -2.2v27.7l.6 -5.2v-20.5l.5 3.8v18.4l.6 -21.2v29.9l.6 -34.7v24.7l.5 2.4v-19.8l.6 25.7v-23l.5 -5.1v27.3l.6 -1.6v-26l.5 1.1v19.1l.6 11.5v-31.6l.6 1.5v24.2l.5 2.7v-24.9l.6 18.8v-28.2l.5 26.7v-20.5l.6 23.7v-21.3l.5 24.9v-23.8l.6 -4.6v25.5l.5 -28.3v24.8l.4 -20.4v20.5"/>
<path class="c" stroke="#ff0000" d="M395.9 958.5l130.2 -21.7l76.2 -8.2l54 -3.6l41.9 12.5l34.3 16.8l28.9 6l25.1 2l22.1 -19.4l19.8 -19.8l17.9 5.7l16.3 11l15.1 1.1l13.9 4l12.9 14.7l12.2 28.2l11.4 28.1l10.7 16.1l10.1 17.4l9.7 8.7l9.1 15.4l8.8 13.4l8.3 23.9l8 18.1l7.7 6.7l7.4 24.8l7 5.3l6.9 -8.9l6.6 -1.3l6.3 12l6.2 2.7l5.9 -6l5.8 9.4l5.6 7.3l5.5 -3.3l5.3 -9.4l5.1 5.4l5 11.4l4.9 -5.4l4.8 4l4.6 8.7l4.5 -.6l4.4 16.7l4.4 2.7l4.2 1.3l4.1 -6.7l4 0l4 4l3.9 13.4l3.8 2.7l3.7 3.4l3.6 2l3.6 -2l3.5 -.7l3.5 -2.7l3.4 16.1l3.3 -5.4l3.2 -4l3.3 5.4l3.1 5.3l3.1 -5.4l3.1 3.8l3 -2.7l2.9 -2.6l2.9 .6l2.9 3.2l2.8 3.9l2.8 1.9l2.8 1.1l2.7 -2.6l2.6 .1l2.7 2.2l2.5 5.1l2.6 -16.2l2.5 7.9l2.5 6.3l2.5 -3.6l2.4 -13.8l2.4 8l2.3 7.2l2.4 -9.5l2.3 4.3l2.3 -8.5l2.2 18l2.2 -13.3l2.2 8.5l2.2 8.5l2.1 .8l2.2 -7.8l2.1 -4.1l2 1.3l2.1 .2l2 -7.3l2 -5.5l2 16.1l2 26.8l1.9 -33.2l2 6.7l1.9 -1l1.8 -5.4l1.9 4.3l1.9 -7.9l1.8 -2.6l1.8 .1l1.8 4.5l1.8 14.7l1.8 -7l1.7 2.1l1.7 -1.9l1.7 2.1l1.7 -11l1.7 5.9l1.7 3.7l1.7 -.1l1.6 6.3l1.6 -7l1.6 -3.5l1.6 -1.6l1.6 6.5l1.6 -13.6l1.5 13.9l1.6 -11.5l1.5 2.4l1.5 1.6l1.6 -1.1l1.5 4.1l1.4 1l1.5 -6.7l1.5 14.9l1.4 -9.9l1.5 10.7l1.4 -22.8l1.4 13.6l1.4 3l1.4 -3.5l1.4 3.6l1.4 10.5l1.3 -15.2l1.4 0l1.3 -5.3l1.4 7.9l1.3 7.1l1.3 3.1l1.3 -1.6l1.3 -9.4l1.3 14l1.3 -18.2l1.3 -2.9l1.2 11.2l1.3 -8.6l1.2 3.9l1.3 6.5l1.2 -9.6l1.2 -1.9l1.3 8.8l1.2 -7.1l1.2 6.5l1.2 -2.2l1.1 4.1l1.2 9.3l1.2 -.9l1.2 -8.8l1.1 2.6l1.2 -9l1.1 10.2l1.1 -7.1l1.2 1.8l1.1 -.6l1.1 5.5l1.1 -5.4l1.1 -7.4l1.1 5.8l1.1 -4.5l1.1 4.1l1.1 -4.8l1 2.6l1.1 -.9l1 7.9l1.1 -.4l1 4.8l1.1 -3.2l1 -6.2l1 .7l1.1 -7.9l1 3.6l1 -7.1l1 6.6l1 8l1 -1.3l1 -4.3l1 17.9l1 -6.2l.9 -1.9l1 8.4l1 -16.3l.9 .5l1 -3l.9 1.4l1 11.6l.9 -4.2l1 -12.1l.9 -.1l.9 9l.9 3.7l1 -12.1l.9 16.7l.9 -13.4l.9 10.9l.9 -13.9l.9 7.2l.9 3.1l.9 3.5l.9 -17.7l.8 8.2l.9 -1.9l.9 1.4l.9 7.3l.8 15.5l.9 -13.4l.8 -4.7l.9 2.5l.8 -4.1l.9 5.8l.8 -6.2l.9 2.4l.8 -1.6l.8 3.6l.8 -12.3l.9 14.3l.8 11.3l.8 -16.4l.8 5.3l.8 -7l.8 -.3l.8 3l.8 6.3l.8 -7.8l.8 4.9l.8 .2l.8 -9l.8 1.3l.7 2.1l.8 14.4l.8 -13.6l.7 -4.3l.8 10.7l.8 -6.3l.7 9.1l.8 -12.4l.7 12l.8 -6.4l.7 -9.4l.8 15.3l.7 -13.6l.8 10.6l.7 -5.3l.7 10.4l.8 -13.3l.7 1.2l.7 -.4l.7 -1.2l.7 10.6l.8 -6.7l.7 13.8l.7 -18.6l.7 8.1l.7 7.9l.7 -11.1l.7 -5.6l.7 -11.3l.7 24.7l.7 -9.9l.7 8l.7 -7.6l.6 -3.4l.7 -2.1l.7 2.9l.7 -.2l.7 -9l.6 4.8l.7 -.3l.7 6l.6 11.2l.7 -10.9l.6 4.1l.7 .6l.7 -9.1l.6 3.6l.7 6.1l.6 -4.2l.7 2.1l.6 -4l.6 9.5l.7 -16.3l.6 8.1l.7 -2.3l.6 3.7l.6 11.8l.7 -20.7l.6 13.8l.6 -5.7l.6 -1.8l.7 2.9l.6 2.8l.6 -6l.6 12.7l.6 -11.9l.6 -.7l.6 7l.6 -4.8l.6 -4.8l.6 4.9l.6 6.7l.6 -10.9l.6 26.8l.6 -20.2l.6 2.8l.6 -1.4l.6 4.9l.6 -3.4l.6 -1.5l.6 -8.1l.6 .6l.5 14.8l.6 -7.7l.6 -7.5l.6 9.6l.5 -10.1l.6 -9l.6 25.9l.6 -3.5l.5 -3.7l.6 -3.8l.5 13.2l.6 -17.2l.6 -1.3l.5 .3l.6 9.9l.5 -13.8l.6 3.6l.5 2l.6 -3.6l.5 11.4l.6 -5.1l.5 -2.3l.6 -3.3l.5 5.1l.6 0l.5 -2.9l.5 -2.9l.6 16.5l.5 -12.9l.5 11.9l.6 -14.5l.5 5.5l.5 -8.6l.6 14.9l.5 -9.4l.5 7.5l.5 -9.4l.5 .7l.6 11.2l.5 -6.2l.5 11.1l.5 -7.9l.5 -11.3l.5 5l.6 10.7l.5 -5.4l.5 3.6l.5 -5.9l.5 -6.2l.5 7.1l.5 -4.9l.5 10.3l.5 -4.7l.5 3.6l.5 .2l.5 4.2l.5 -4.6l.5 -7.5l.5 -12.3l.5 29.2l.4 -19.2l.5 -1.1l.5 1.6l.5 -1.7l.5 12l.5 -20.1l.5 20.2l.4 -4.3l.5 -1.3l.5 8.7l.5 -11.9l.4 -1.3l.5 -2.9l.5 17.4l.5 -3.8l.4 -1.8l.5 -15.5l.5 5.6l.4 -2.7l.5 2.8l.5 1.3l.4 4.7l.5 8l.5 -5.4l.4 -7.9l.5 5.5l.4 -7l.5 -3.1l.5 1.3l.4 4.4l.5 4.2l.4 -7.9l.5 14.4l.4 -7.8l.5 4.6l.4 -7.9l.5 8.4l.4 -10.5l.5 3.4l.4 -.1l.5 3.2l.4 -4.2l.4 11.5l.5 1.4l.4 -10.6l.5 6.9l.4 -4.5l.4 6.8l.5 -4.8l.4 -4.4l.4 -3.7l.5 10.5l.4 -6.2l.4 -7.3l.5 3.6l.4 8.1l.4 -6.9l.4 7.5l.5 -6.7l.4 2.9l.4 4.4l.4 -8.4l.5 3.5l.4 4.5l.4 4.3l.4 -6.9l.4 -11.2l.5 4.3l.4 1.9l.4 11.3l.4 -1l.4 -13.3l.4 13.9l.4 0l.4 -8.8l.5 -3.3l.4 7l.4 -9.5l.4 9.8l.4 4.9l.4 -.7l.4 -5.5l.4 -5.4l.4 9l.4 -4.3l.4 -3.3l.4 -.9l.4 12.8l.4 -12l.4 2.8l.4 4.4l.4 -8.4l.4 12.8l.4 -10.7l.4 4.9l.4 -.3l.4 2.6l.3 -2.4l.4 -.6l.4 -3.8l.4 6.5l.4 2.5l.4 -9.6l.4 1.6l.4 3.4l.3 1.8l.4 -17.3l.4 13.9l.4 4.5l.4 -6.3l.4 .9l.3 -4.9l.4 -.1l.4 6.9l.4 -5.7l.3 -1.4l.4 4.4l.4 -5.2l.4 23.2l.3 -13.9l.4 -4.5l.4 -5.4l.4 11.8l.3 2.8l.4 -6l.4 -12l.3 10.5l.4 13.4l.4 -9.9l.3 4.8l.4 -7.8l.4 2.6l.3 -12l.4 11.9l.4 2.8l.3 -9.6l.4 -3.8l.3 -1.3l.4 12.9l.4 -6.7l.3 -8.1l.4 8.5l.3 6l.4 -12l.4 14.5l.3 -10.1l.4 -.4l.3 -3l.4 .5l.3 17.4l.4 -8.5l.3 4.4l.4 -9.7l.3 10.4l.4 -12.2l.3 -4.6l.4 4.9l.3 3.9l.4 2l.3 3.9l.4 -2.2l.3 -3.2l.4 -3.2l.3 14.7l.3 -13l.4 -.6l.3 -6.6l.4 11.9l.3 -1.2l.3 -3.5l.4 2.1l.3 -3l.4 -3.7l.3 -5.2l.3 10.3l.4 -6.6l.3 9l.3 -1l.4 17.6l.3 -12.6l.3 -6.1l.4 -.6l.3 -6.8l.3 5.5l.4 1.1l.3 8.4l.3 -13.7l.4 6.4l.3 14.4l.3 -22.8l.3 2.5l.4 22.9l.3 -17.7l.3 3.3l.3 -7.3l.4 7.7l.3 -8l.3 13.3l.3 11.4l.4 -21.6l.3 1.8l.3 -4.9l.3 13l.3 -9.8l.4 8.1l.3 -7.2l.3 6.3l.3 -6.6l.3 -8.1l.4 9.1l.3 2.6l.3 17.2l.3 -18.6l.3 -4l.3 2.3l.4 4.6l.3 9.2l.3 -2.4l.3 -6.6l.3 -13.3l.3 11.7l.3 -3.2l.3 -6.2l.3 6.4l.4 -5.2l.3 5.5l.3 -2.4l.3 8.7l.3 2.8l.3 -19.1l.3 7.8l.3 -2.7l.3 12.2l.3 -10.1l.3 -1.1l.3 -.5l.3 7.7l.3 4l.3 -17l.3 19.7l.3 -8.3l.3 -3.7l.3 5.6l.3 -3.1l.3 .1l.3 -3.4l.3 1.2l.3 -5.7l.3 -2.2l.3 4.3l.3 11.5l.3 -9.7l.3 -.2l.3 4.7l.3 1l.3 9.9l.3 -19.2l.3 4l.3 2.2l.3 .7l.3 -3.5l.2 -3.4l.3 9.2l.3 8.1l.3 -2.3l.3 -15.5l.3 -11.5l.3 18.7l.3 .6l.3 -3l.2 6.9l.3 -8.5l.3 16.1l.3 2.2l.3 .6l.3 -2.8l.3 -17.9l.2 4.4l.3 -2.9l.3 12.2l.3 3.4l.3 -13l.3 -.2l.2 -10.4l.3 10l.3 2.1l.3 2.5l.3 -2.7l.2 -6.3l.3 -.9l.3 14.1l.3 -2l.3 -4.6l.2 -6.4l.3 9.4l.3 -2.2l.3 -7.6l.2 2.6l.3 2.3l.6 2.9v-6.5l.8 1.4v16.6l.8 -19.3v16.9l.8 -9.4v8.8l.8 7.3v-20.6l.8 13.3v-11.8l.9 -5.9v19.6l.8 -12v-2.6l.7 6.8v-10.7l.8 8.6v-6.4l.8 1.4v9.9l.8 -1.2v10.1l.8 -5.9v-20.6l.8 6.5v8.7l.8 1.3v-1.4l.7 5.8v-19.1l.8 13v-7.7l.8 -.2v-2.1l.7 2.9v2.8l.8 1.3v18.2l.8 -25.4v14.7l.7 2.3v-15.9l.8 3.6v-9.9l.7 13.1v-4l.8 -7.7v13.4l.7 -7.4v7.2l.8 3.7v-11.9l.7 -2.6v13.6l.7 -4.9v-9.8l.8 9.5v9.7l.7 -7.6v-4.4l.7 1.5v-7l.7 17.8v-7.8l.8 5.2v-11.5l.7 -4.7v3l.7 2.9v7l.7 1.9v-8.3l.7 8.2v-7.6l.7 1.6v2.7l.7 .5v-8.8l.7 3.6v2.8l.7 5.6v-9.7l.7 3.9v-4.3l.7 3.1v-8.7l.7 3v3.9l.7 -.4v-5.3l.7 .3v11.8l.7 12.4v-20.9l.7 4.9v-7.6l.6 8.9v.9l.7 -10.5v19.1l.7 -2.7v-5.2l.7 -5.4v6.8l.6 -2.8v-3.9l.7 .4v-1.8l.7 7.8v-3.6l.6 5.7v-13.2l.7 2.6v-1.9l.6 14v-13.5l.7 20.8v-18.4l.6 1.4v-6.3l.7 .7v10.9l.6 -5.1v3.3l.7 -1.1v10.2l.6 -8.2v-5.4l.7 5.9v-13l.6 7.5v-6.8l.7 9.5v-4.5l.6 8.1v-3.5l.6 -3.1v5.1l.7 8.9v-11.3l.6 -4.5v13.7l.6 -15.2v9.3l.6 2.6v-14.2l.7 3.1v7.9l.6 3v-11l.6 9.9v-9.4l.6 4.8v7.7l.6 -7v14.7l.6 -14v15.4l.7 -14.1v-6.7l.6 14.6v-18.9l.6 2.9v4.6l.6 -1.6v6.7l.6 3.1v-13.3l.6 9.1v-8l.6 9.9v-14.9l.6 19.2v-10.4l.6 -7.7v18.8l.6 -13.3v13.8l.6 -13.1v3.5l.5 8.2v-20l.6 2.1v12.1l.6 -6.4v8.3l.6 -5.2v2.3l.6 -11.8v9.4l.6 -8.9v10.5l.5 -.9v11.2l.6 -16.4v1.1l.6 -3.9v18.5l.6 -16v2.4l.5 -7.1v16.1l.6 -19.2v9.9l.6 -10v22.3l.6 -3.8v-19.7l.5 6.8v8.5l.6 3v-8.4l.5 -6v14.5l.6 -4.2v10.3l.6 -1.1v-12.3l.5 1.7v5.9l.6 -10.7v5.9l.5 4.3v4.9l.6 -4.1v-5.7l.6 3.7v-13.5l.7 8v7.1l.8 -15.1v15.6l.7 -5.7v8.1l.7 -14.3v16.9l.7 2.6v-16.7l.8 7v3.8l.7 -10.2v8.3l.7 -3.7v-6.4l.7 -.7v7.9l.7 -9.6v8l.7 -11.2v28.1l.7 -25.8v24l.7 -17.1v4.5l.7 13.3v-20l.7 19.7v-25.6l.7 14.3v-14.6l.7 22v-13l.6 -17.1v20.4l.7 -14.9v16l.7 -6.4v8.7l.7 -11.4v12.8l.7 -17.3v9.4l.6 -7.7v8.3l.7 6.1v-11.7l.7 -2.6v17l.6 -.4v-12.6l.7 .3v4.1l.7 -.4v16.2l.6 -6.8v-17.3l.7 12.9v-6.9l.6 -2.2v15.7l.7 -.5v-14.3l.6 5.9v4.4l.7 -11.1v-2.2l.6 1.7v6.2l.7 2v-4l.6 .4v14.1l.6 -3.2v-18.4l.7 10.2v-13.2l.6 12.1v-12.6l.7 12.7v-6.3l.6 7.2v-7.8l.6 -3.5v16.5l.6 -18.2v12.2l.7 3.6v-8.7l.6 1.2v14.7l.6 -12.6v5.2l.6 -3.7v3.8l.6 -12.9v18.3l.6 -13.7v22.3l.7 -15.7v-9.2l.6 18.5v-20l.6 13.6v-13l.6 13.7v-15.7l.6 3.5v10.2l.6 14.9v-21.4l.6 8v-12.4l.6 -.2v24.9l.6 -10.9v-9.3l.6 -.5v12.1l.6 -13.2v6.9l.6 -3v-9.1l.5 4.1v5l.6 .2v9.1l.6 1.1v-11.5l.6 5.6v-12.4l.6 -2.1v17.3l.6 4.5v-17.5l.5 6.2v-5.7l.6 23.7v-23.9l.6 -3v16.2l.6 -5.6v-9.7l.5 13.4v-15.3l.6 8.4v-12.1l.6 19.6v-15.5l.5 3.1v14.3l.6 -6.1v-15.6l.6 27.9v-26.8l.5 23.8v-18.7l.6 -4.1v12.8l.5 -4.1v6l.6 6.3v-16.5l.5 13v-12l.6 -2v11.1l.6 -16.2v36.1l.7 -19v-10.9l.7 -2.1v13.5l.7 -10.4v7.3l.6 17.6v-27.1l.7 15.7v-18.8l.7 15.7v-15.1l.7 5.8v5.7l.6 -2.2v15.6l.7 -21.5v10.5l.7 -14.8v15.1l.6 0v-12l.7 13.4v-13.1l.6 .8v10.5l.7 -6.2v5.9l.6 -1.3v-11.7l.7 4.6v7.9l.6 -7v5.6l.7 -7.6v-7.2l.6 25.7v-21l.7 21.3v-20.2l.6 16.2v-14l.7 -.6v21.2l.6 -5.9v-16.6l.6 15.2v-15l.7 4.1v15.7l.6 -21.3v16.4l.6 -23.6v26.5l.6 -12.1v-6.9l.7 19.4v-20.4l.6 15.6v-11.3l.6 18.2v-23.4l.6 9v-7.4l.6 12.1v-12l.6 -.8v23.2l.6 -19.7v15.4l.6 -21v21.9l.7 -5.3v-8.5l.6 -10.7v17.4l.6 -17v18l.6 -10.4v15.5l.6 -22.8v13.7l.6 5v-16.9l.6 20.3v-12.7l.5 9.1v-12.9l.6 17.6v-20.7l.6 8.4v-3.8l.6 .7v13.4l.6 -17.7v6.4l.6 3.8v-10.9l.6 16.3v-9.9l.5 10.2v-11.4l.6 8.8v-8.3l.6 -.2v14.1l.6 -4.4v-13.1l.5 3.3v6.5l.6 -1.4v-4.3l.6 1.8v10.5l.6 -8.9v13.6l.5 -4.3v-17.7l.6 1.7v20.9l.5 2.2v-22.1l.6 .6v15.5l.6 -14v20.4l.5 -24.5v12.1l.6 -12.6v16.9l.5 -2.9v-15.4l.6 2.7v13.1l.6 -13.1v23.6l.6 -19.6v10l.7 -14.7v14.3l.7 -6.1v12.4l.6 -20v19l.7 -15.2v18.4l.6 -11.8v-8.7l.7 14.2v-21.9l.6 23.9v-20.4l.6 23.2v-14.1l.7 9.9v-10.4l.6 3.9v-9.8l.6 11.4v-12.6l.7 16.7v-15.2l.6 9.7v-14.7l.6 1.6v32.7l.7 -28.6v10.1l.6 -12.4v23.1l.6 -.3v-18.1l.6 -2.5v10.7l.6 9.9v-21.2l.7 13.2v-16.8l.6 14.6v-6.5l.6 12.7v-18.1l.6 20.5v-15.9l.6 9v-15.5l.6 11.1v-7.4l.6 11.9v-12.8l.6 21.1v-18.5l.6 10.3v-17.7l.6 -1.4v18.5l.6 -11.6v8.2l.6 -2.2v-5.4l.6 .6v18.2l.6 -4.4v-14.7l.6 11v-9.2l.6 -7.8v22.7l.5 -17.6v13.8l.6 -10.1v9.2l.6 -16v21.1l.6 -23.7v16.2l.6 -13.7v21.3l.5 -19.2v15.4l.6 -12.5v5l.6 7.6v-22.7l.6 16.5v-6.4l.5 -.4v9.8l.6 -19.8v19.3l.6 -14.7v17.7l.5 -1.8v-16.4l.6 18.3v-12.8l.5 17.5v-20.3l.6 8.4v10l.6 -14.2v12.4l.5 -11.9v8.3l.6 -7.6v-7.8l.5 3.6v15.5l.6 3.6v-22.8l.7 18v-14.6l.6 13.9v-14l.6 20.6v-16.5l.7 -2.7v18.7l.6 -24.5v15.1l.6 -10.5v23.5l.7 -6.5v-16l.6 -2.2v16.3l.6 -17.3v13.5l.6 -11v25.1l.6 -18.5v15.7l.7 -21.9v20.2l.6 -16.9v12.8l.6 .1v-16.8l.6 3.2v14l.6 -10.8v6.9l.6 -1.4v-10.7l.6 7v-11.1l.6 16.8v-13.1l.6 -2.6v23.3l.6 -15.2v7.2l.6 -9.7v17.3l.6 -22.9v14.4l.6 8.2v-17l.6 13.1v-19.8l.6 3.7v11.8l.6 -16.5v25.5l.6 -22.5v11.1l.6 -10.6v18.8l.5 -17.6v18.1l.6 -17v11.6l.6 -1.3v-11.2l.6 3.3v19.6l.6 -26.1v24.3l.5 -3.1v-24.5l.6 22.1v-11.8l.6 -10.6v18.4l.5 -16.8v20.2l.6 -.2v-13.9l.6 13.7v-15.5l.5 16.6v-22l.6 23.4v-23.7l.6 22.7v-15.4l.5 13.5v-16l.6 15.7v-12.9l.5 3.5v10.7l.6 17v-37.5l.5 12v14.4l.6 -9.1v-14.1l.6 4.1v25l.7 -27.2v5.9l.6 9.6v-17.1l.6 15.4v-11.9l.6 -2.3v18.6l.6 -22.1v19.3l.7 -1.8v-16.9l.6 24.7v-16.8l.6 8.7v-17.5l.6 25.6v-19.9l.6 12.2v-18.5l.6 -1v20l.6 -10.9v15.9l.6 -21.5v17.2l.6 -17.2v17.1l.6 -5.1v-16.5l.6 18.6v-15.8l.6 -.8v20.2l.6 -3.3v-13.4l.6 16v-11.1l.6 -4.1v19.1l.5 -23.5v23.3l.6 -5.1v-13.3l.6 -5.4v14.4l.6 -7.1v18.4l.6 -29.2v18.5l.5 -8.9v13.9l.6 -12.9v13.2l.6 20.1v-39.3l.6 25.5v-16.4l.5 -10.3v18.4l.6 -13.8v18.4l.6 1v-29l.5 10.2v13l.6 -11.3v13.6l.6 -18.1v19.5l.5 -16.5v23.2l.6 -28.9v22l.5 -19.9v12.7l.6 11.6v-20.8l.5 2.3v10.1l.6 2.3v-13.4l.6 20.5v-21.4l.6 17.3v-19.4l.6 23.1v-19.5l.6 -.3v19.9l.6 -21.9v17.1l.6 1.8v-17.4l.6 -2v12.5l.6 -13v14.4l.6 10.6v-28l.6 19.2v-12l.6 -5.1v23.2l.6 -19.2v7.2l.6 7.7v-20.1l.6 25.4v-25.6l.6 15.1v-19.5l.6 24.3v-14.8l.6 16.3v-16.6l.6 13.3v-22.6l.6 30.3v-21.2l.6 22.5v-28l.5 22.9v-22.1l.6 4.6v20.3l.6 -20.4v16.3l.6 -1.7v-19.8l.5 21.3v-13.9l.6 -5.5v14l.6 -13.5v15.8l.5 -12.3v10l.6 10.4v-24.7l.6 16.7v-13.8l.5 23.5v-22.9l.6 -4.6v15.9l.6 -17.9v19.7l.5 -13.1v22.4l.6 -5.4v-16.1l.5 -.7v12.1l.6 -13.9v21.6l.5 -27.1v25.6l.6 -22.7v22.7l.6 -17.9v20.4l.6 -25.1v23.5l.6 .6v-21.4l.6 21.9v-19.7l.6 21v-30.1l.6 25.6v-18.9l.6 -.7v17.3l.6 -.7v-20.2l.6 3.7v19.5l.6 -13.7v10.8l.6 1.8v-18.1l.6 .2v23l.6 -28.3v18.5l.6 3.6v-16.3l.5 -1.2v15.9l.6 21.6v-41.4l.6 20.9v-17.7l.6 1.7v20.2l.6 -4.3v-19l.5 27.1v-23.5l.6 1.5v17.2l.6 -16.6v11.1l.5 -2v-14.2l.6 2.9v20.3l.6 -1.7v-19.3l.5 15.4v-20.7l.6 24.5v-16.7l.5 17.8v-18.8l.6 -3.4v20.5l.6 -6.4v-14.7l.5 -1.2v18.9l.6 -17.7v23.7l.5 -4.6v-16.1l.6 12v-15l.6 26.5v-22.6l.6 37.7v-39.8l.6 0v24.5l.6 -18.2v15.3l.6 -5.4v-13l.6 22.5v-27.6l.6 -.1v20.8l.6 -21.4v19.1l.6 -14.6v17l.5 -22v26.4l.6 -6.7v-15.6l.6 -2.2v28l.6 -11.4v-20.3l.6 5v20.7l.5 -23.5v25.2l.6 -26v20.3l.6 -13.6v16.2l.6 3.8v-27.2l.5 3.8v18.5l.6 -19.3v22.1l.6 -16.6v24.6l.5 -4.4v-23.2l.6 -.9v19.9l.6 -.2v-18l.5 -1.9v23.4l.6 -4.6v-20l.5 14.8v-11l.6 21.9v-22.8l.5 -3.3v15.2l.6 0v-14.9l.6 21.8v-24.3l.6 32.9v-25.4l.6 12v-22.1l.6 4.7v17.1l.6 -2.6v-15.5l.5 19.9v-18.5l.6 3.9v16.5l.6 -19.5v12.6l.6 -15.8v27.8l.6 2.1v-27.9l.6 -1.6v15.1l.5 6.3v-19.2l.6 19.5v-17.6l.6 -2.8v13.8l.6 -8.7v12.4l.5 -17.4v16.7l.6 -13.3v19.8l.6 -22.1v22.6l.6 -.6v-21.1l.5 -2.3v14.1l.6 -12.6v19.4l.5 -16.4v17.7l.6 .8v-23.1l.6 7.4v16.4l.5 1.8v-22.1l.6 16.5v-17.1l.5 -.3v13.5l.6 -14.3v20.3l.6 2.7v-23.4l.6 .1v22.8l.5 -15.4v16.1l.6 -6.8v-16.1l.6 14.9v-13.2l.6 -3.9v25.3l.6 -21.6v20l.6 -.1v-17.2l.6 12.5v-15.8l.5 -4.2v28.1l.6 -7.8v-16.3l.6 16.6v-19.1l.6 -.4v16.3l.5 2.4v-17.1l.6 25.7v-22.4l.6 -2.8v19.6l.6 -18.5v25l.5 -10.8v-21.1l.6 24.1v-14.8l.5 -6.4v26.4l.6 -.8v-19.2l.6 -2.6v18.3l.5 -.7v-18.9l.6 19.8v-16.2l.5 -9.6v19.2l.6 -18.8v34.5l.5 -26v16.1l.6 7v-28.7l.6 19.1v-14.1l.6 2.3v12.5l.6 -19.3v23.4l.6 .2v-21.1l.5 -1.3v19.7l.6 -1.1v-15.4l.6 23.8v-21.8l.6 -4.4v19.3l.6 8.3v-29.4l.5 26.6v-18.7l.6 -6.5v25l.6 -24.7v25.9l.5 2.6v-25.4l.6 18.3v-19.7l.6 17.8v-20.1l.5 -3.8v26.1l.6 -21.9v21.6l.6 -21.9v25.8l.5 -27.2v23.2l.6 -6.5v-15.7l.5 .6v19.1l.6 -3.5v-11.8l.5 -6.4v26.8l.6 -21.8v20.7l.6 -1.8v-22.6l.6 -3.9v25.9l.6 .4v-17.8l.5 -3.1v24.5l.6 -6.9v-15.8l.6 -4.6v32.7l.6 -14.6v-15.2l.5 4.1v17.1l.6 -19.1v17.8l.6 -16.7v17.2l.6 -.9v-16.7l.5 -4.3v24.5l.6 -23.9v21.1l.6 -1.1v-18.2l.5 25.3v-26.3l.6 -2.1v27.2l.5 -5.9v-23.4l.6 5.7v20.7l.6 -4.7v-21.1l.5 -3.8v28.4l.6 -25.5v26.1l.5 -3.9v-19.9l.6 26.7v-22.5l.6 3.3v15.1l.6 5.4v-27.4l.5 17v-16l.6 21.6v-20l.6 19.6v-17.2l.6 -5.6v31.4l.5 -30v19.8l.6 0v-21.7l.6 22.1v-18.5l.6 23v-22.9l.5 1.4v20.6l.6 4.6v-26.8l.5 -.3v22.3l.6 -4.6v-17.8l.6 -1.8v23.3l.5 -4.8v-20.9l.6 6.2v22.5l.5 -2.6v-21l.6 18.5v-19.5l.5 15.2v-26.5l.6 28.7v-17.4l.6 25.9v-27l.6 22.6v-22.5l.6 -4.6v26.5l.5 -22.5v21.3l.6 -19.2v21l.6 1.6v-24.8l.6 -.6v19.6l.5 -19.2v21.5l.6 -.3v-22.8l.6 21.4v-18.2l.5 25.7v-23l.6 18.1v-22.2l.6 34.4v-29.7l.5 -.6v27l.6 -31.8v20l.5 -18.1v22.8l.6 -2.9v-17.5l.5 -4.7v22.9l.6 1.1v-17.2l.6 -.5v23.6l.5 -25v15l.6 11.8v-30.5l.6 .9v30l.6 -10v-22.5l.5 22.7v-19.1l.6 -3.9v26.6l.6 -22.8v20.3l.6 -4.9v-19.2l.5 2v26.3l.6 -9.5v-12l.6 .8v16.6l.5 -19.1v13.3l.6 10.8v-22.2l.5 15.8v-22.2l.6 30.6v-30.4l.5 26.9v-24.8l.6 24.4v-20.5l.6 -4.7v16.4l.5 -15v23.4l.6 -22.8v15.3l.6 1.6v-16l.5 18.7v-22.2l.6 3.4v20l.6 -18.8v27.3l.6 -10.8v-18.9l.5 -2.8v24.6l.6 -26.3v26.4l.6 3.6v-25.6l.5 -1.1v18.7l.6 2.8v-20.7l.6 27.2v-28.2l.5 20.4v-19.6l.6 20.6v-24.3l.5 22.4v-14.1l.6 19.4v-25.1l.5 3.2v16.8l.6 -18v15.4l.6 -14.8v16.9l.5 13v-29.9l.6 -1.1v27.4l.6 -6.7v-25l.6 7.1v20.9l.5 -4.1v-18.4l.6 18.4v-19.9l.6 22v-19.1l.5 19.5v-21l.6 .3v26.1l.5 -32v32.9l.6 -29.4v23.8l.6 0v-21.8l.5 19.4v-20.6l.6 4.3v21.6l.5 5.1v-30.5l.6 20.1v-23.1l.6 19.9v-17.8l.5 20.1v-23.3l.6 5.8v20.1l.6 4.4v-31.8l.6 -2.7v34.5l.5 -6.8v-24.6l.6 7.3v17.9l.5 -21.4v21.8l.6 -23.3v20.4l.6 -19.5v21l.5 -1.6v-16.9l.6 20.6v-19.6l.5 -4.7v26.7l.6 1.2v-23.3l.6 20.9v-25.8l.5 3.5v26.1l.6 -28v26.4l.6 -23.9v17.9l.5 -19.9v20.1l.6 -17.6v22.4l.6 -23.5v24.4l.5 -29.7v24.5l.6 .1v-17.1l.6 -5.6v24.6l.5 -23.7v30.9l.6 -37.1v26.9l.5 -18.2v25.5l.6 -4.6v-23.5l.6 23.3v-23.6l.5 2.6v21.7l.6 -3.8v-21.4l.5 3.8v19.4l.6 2.1v-24.5l.6 28.4v-24.4l.5 18.8v-22.9l.6 29.8v-23.9l.6 20.5v-22.8l.5 22.7v-28.7l.6 29v-21.4l.6 26.5v-36.6l.5 37.3v-29.3l.6 21v-25.2l.5 3.6v22.7l.6 -24.6v21.9l.5 -22.2v21.8l.6 -24.9v30.7l.6 .2v-25.7l.5 30v-28.7l.6 20.7v-22l.6 24.3v-26.4l.5 19.9v-19.4l.6 3.1v29.5l.6 -11.8v-21.1l.5 2v25.9l.6 -5.9v-19.6l.5 23v-25.9l.6 27.4v-20.7l.6 20.3v-22.5l.5 -1.3v21.7l.6 12.7v-40.3l.5 25.9v-18.4l.6 30.7v-32.7l.6 -2.3v23l.5 .7v-23.3l.6 5.5v18.2l.6 7.1v-31.6l.5 27.6v-31l.6 30.2v-24.1l.5 -2.1v28.5l.6 -25.9v22l.6 -24.6v23.9l.5 -29.2v28.8l.6 -24v19.3l.5 8v-25.9l.6 21.6v-20l.5 -2.1v21.8l.6 2v-25.5l.6 -.3v23.7l.5 6.5v-23.1l.6 24v-28.7l.6 24.8v-22.6l.5 -.2v21.7l.6 -26.7v29.2l.5 -4.1v-22l.6 24.7v-25.5l.6 23.5v-24l.5 28.9v-33.8l.6 6.3v25l.5 -25v30.5l.6 -29.1v18.5l.6 11.8v-38.4l.5 7v31.8l.6 -8.1v-28.5l.6 7.6v19.5l.5 -23.5v38.8l.6 -18.8v-19.7l.5 22v-21.8l.6 23.2v-25l.5 24.3v-28.1l.6 2.3v22.6l.5 4.2v-21.3l.6 -3v27.8l.6 -27.9v30.1l.5 -27.3v20l.6 .4v-23.5l.6 2.2v21l.5 3.6v-24.8l.6 .4v26.7l.5 -29.3v28.4l.6 -7.5v-15.6l.5 .7v20.9l.6 -2v-21.7l.6 -3.3v26.1l.5 -.6v-21.3l.6 18v-20.8l.6 3.6v19.5l.5 -23.3v21.7l.6 2.1v-29.6l.5 32.1v-24.9l.6 26.5v-27.6l.6 24.8v-27.5l.5 3.5v25.2l.6 -23.8v23.6l.5 -22.2v15.7l.6 -17.8v21.8l.5 -21.5v25.4l.6 -1.3v-26.5l.6 21.7v-23.8l.5 4.1v29.6l.6 -32v25.2l.5 6.3v-31.7l.6 27.7v-26.2l.6 3.4v23.8l.5 -25.3v17.1l.6 20.4v-37.2l.5 22.6v-24.1l.6 20.4v-19.9l.5 -2.6v22.7l.6 8.1v-29.8l.6 31.9v-33.4l.5 23.9v-24.4l.6 31.8v-30.3l.5 -.3v32.3l.6 -32.1v29l.6 -25.5v16.2l.5 -18.5v27.4l.6 -27.4v21.5l.5 -20.7v28l.6 -5v-28.1l.6 5.7v22.7l.5 -24v26.4l.6 -28.5v27.4l.5 6.5v-34l.6 36.2v-35.8l.5 -2.1v27.6l.6 -21.7v26.6l.5 -31.4v30.5l.6 -27.7v21.2l.6 -22.8v26.6l.5 -3.5v-20.4l.6 22.8v-26l.6 .1v24.6l.5 3.7v-29.7l.6 5.2v20.3l.5 .3v-25.4l.6 27.6v-26.1l.5 .5v31.8l.6 -29.4v21.1l.6 1.7v-22.9l.5 -1.7v35.3l.6 -30.6v21.1l.5 1.1v-27.1l.6 -4.2v26.2l.6 -21.3v29.1l.5 -30.2v25.8l.6 -3.4v-21.2l.5 19.1v-15.9l.6 -1.7v28.4l.5 -1.5v-27.3l.6 -1.4v27.2l.6 -6.4v-23.7l.5 27.7v-28.9l.6 0v28.1l.5 -4.2v-18.3l.6 27.6v-28.9l.5 1.1v20.7l.6 -21.1v22.3l.5 -.8v-21.6l.4 -2.2v11"/>
<path class="c" stroke="#00bfbf" d="M395.9 1026.8l130.2 21.6l76.2 -11.8l54 3.6l41.9 26.1l34.3 35.8l28.9 36.4l25.1 6.7l22.1 3.1l19.8 -5.6l17.9 14.3l16.3 22.8l15.1 19.1l13.9 -1l12.9 -.7l12.2 3.3l11.4 2.7l10.7 0l10.1 .7l9.7 4l9.1 2.7l8.8 7.3l8.3 -7.3l8 -4.4l7.7 6.4l7.4 6.7l7 2.7l6.9 -8.3l6.6 -2.6l6.3 -3.4l6.2 8.7l5.9 4.7l5.8 -4l5.6 2.7l5.5 22.1l5.3 -14.8l5.1 5.4l5 5.4l4.9 0l4.8 0l4.6 8l4.5 8l4.4 10.7l4.4 -6.7l4.2 -2.6l4.1 -6.1l4 3.4l4 5.3l3.9 15.4l3.8 -7.3l3.7 -2.7l3.6 2.7l3.6 1.3l3.5 4l3.5 -4l3.4 -5.3l3.3 -2.7l3.2 2.7l3.3 4l3.1 2.7l3.1 -7.7l3.1 15.2l3 -5.4l2.9 -5.7l2.9 -2.1l2.9 6.8l2.8 -5.1l2.8 -5.9l2.8 16l2.7 -.9l2.6 3.6l2.7 3.1l2.5 -13.7l2.6 5.9l2.5 4.4l2.5 -20.1l2.5 10.2l2.4 -7.2l2.4 10.6l2.3 -10.2l2.4 8.3l2.3 3.7l2.3 3.1l2.2 -13.9l2.2 13.9l2.2 -12.6l2.2 7.5l2.1 -4.8l2.2 19.2l2.1 -22.2l2 4.8l2.1 4l2 -13.1l2 8.1l2 -3.9l2 1.3l1.9 -1.3l2 -1.3l1.9 8.4l1.8 -14l1.9 9.2l1.9 -2.1l1.8 7.7l1.8 -5.5l1.8 -9.5l1.8 2.8l1.8 2.6l1.7 3.3l1.7 4.7l1.7 4.9l1.7 -8.9l1.7 6.2l1.7 -1.9l1.7 .3l1.6 -8.6l1.6 21.4l1.6 -24.6l1.6 3.5l1.6 -8.7l1.6 8.8l1.5 -1.7l1.6 8.2l1.5 10.5l1.5 -13.7l1.6 -7.4l1.5 1.3l1.4 17.5l1.5 -5.1l1.5 -4.7l1.4 -1.1l1.5 -4.3l1.4 9.4l1.4 -1.2l1.4 12.7l1.4 -25.4l1.4 2.6l1.4 7.3l1.3 -3l1.4 5.8l1.3 -10.3l1.4 4l1.3 -2.6l1.3 -6.8l1.3 2.7l1.3 -4.3l1.3 10.6l1.3 3.3l1.3 -.2l1.2 -5.1l1.3 -5.6l1.2 4.3l1.3 -10l1.2 31.1l1.2 -17.5l1.3 3l1.2 1.4l1.2 -4.3l1.2 -3.8l1.1 -6.5l1.2 15.3l1.2 -15.9l1.2 14.7l1.1 -2.2l1.2 7.4l1.1 -8.5l1.1 -4.9l1.2 4.5l1.1 -.5l1.1 5.9l1.1 -10.4l1.1 -2.5l1.1 -1.3l1.1 7.3l1.1 8l1.1 -8.3l1 -4.4l1.1 4.2l1 4.8l1.1 4.9l1 -.6l1.1 -1l1 -3l1 -14.3l1.1 6.9l1 -1.7l1 -6l1 22.8l1 -10.1l1 -9.7l1 6.5l1 -2.1l1 3.4l.9 3l1 -9.3l1 3.1l.9 -2.6l1 19.7l.9 -17l1 -2l.9 7.6l1 -10.7l.9 5.2l.9 16.4l.9 -13.2l1 .3l.9 2.1l.9 -7.2l.9 -.5l.9 -1.4l.9 20l.9 -22.3l.9 9.9l.9 -3.3l.8 -2.6l.9 13.3l.9 -9.6l.9 -12.1l.8 6.3l.9 .3l.8 10.7l.9 -2.7l.8 -1l.9 -6.4l.8 19.2l.9 -18.4l.8 2.8l.8 -3.3l.8 12.4l.9 -1.7l.8 -4l.8 -10.4l.8 2.1l.8 9l.8 -9.7l.8 7.1l.8 10.8l.8 -18.3l.8 10.3l.8 -13.3l.8 13.3l.8 2.4l.7 -1.5l.8 -6.8l.8 7.8l.7 -4.3l.8 -.3l.8 1.3l.7 -8.6l.8 4.2l.7 9.5l.8 -10.3l.7 -1.5l.8 -1.6l.7 6.9l.8 6.5l.7 -3.6l.7 -18.6l.8 2.1l.7 13.5l.7 -9.4l.7 1.1l.7 4.1l.8 -1.8l.7 2.7l.7 -.6l.7 5.8l.7 -4.5l.7 6.8l.7 -2.7l.7 -5.3l.7 8.5l.7 -8.1l.7 -10l.7 5.1l.6 2.3l.7 7.3l.7 -7.3l.7 6.2l.7 2.6l.6 -9.9l.7 1.3l.7 .8l.6 9.5l.7 -11l.6 7.2l.7 -2.1l.7 -8l.6 8.1l.7 4.9l.6 -9.1l.7 2.6l.6 -1.2l.6 -2.5l.7 18.6l.6 -5.4l.7 -13.7l.6 -4.3l.6 -.3l.7 4.1l.6 -2.4l.6 4.8l.6 -1.4l.7 -4.4l.6 7.2l.6 -11.9l.6 11l.6 -5.3l.6 1.5l.6 -4.8l.6 13.3l.6 -3.8l.6 -5.3l.6 -5l.6 .8l.6 13.1l.6 1l.6 -8.9l.6 3.3l.6 -12.4l.6 7.5l.6 -4.3l.6 -16.1l.6 -21.3l.5 -21.2l.6 21.2l.6 21.1l.6 26.1l.5 -13.2l.6 -.9l.6 4.2l.6 8.3l.5 -1.3l.6 -10.9l.5 6.7l.6 6.7l.6 -4.7l.5 3l.6 -.5l.5 2.8l.6 -8.5l.5 1.1l.6 2.7l.5 2.6l.6 5.7l.5 -.9l.6 -15.9l.5 3l.6 12.7l.5 -7.3l.5 0l.6 -5.6l.5 -1.5l.5 2.7l.6 1.1l.5 4.6l.5 -12.6l.6 4.2l.5 3.1l.5 4.9l.5 -13.5l.5 14.9l.6 3.4l.5 -4.5l.5 -4.8l.5 -5.9l.5 10l.5 3.7l.6 -15.2l.5 3.5l.5 5.6l.5 -2.8l.5 3.1l.5 -.7l.5 -.2l.5 3.8l.5 -7.4l.5 -2.2l.5 15.8l.5 -17.5l.5 -1.5l.5 8.1l.5 -.1l.5 4.3l.4 2.7l.5 -12.3l.5 -3.6l.5 10.2l.5 -6.6l.5 4.6l.5 19.7l.4 -15.8l.5 -3.9l.5 -6.4l.5 15.6l.4 -.1l.5 -8.7l.5 -2.9l.5 4l.4 -.7l.5 -9.7l.5 3.4l.4 -.1l.5 2.7l.5 -16.1l.4 -18.8l.5 -18.8l.5 18.8l.4 18.7l.5 25.7l.4 -1.6l.5 -16.4l.5 6l.4 12.1l.5 -11.7l.4 2l.5 12.2l.4 -9.1l.5 -3.2l.4 3.5l.5 2.2l.4 -5.4l.5 3.5l.4 4.4l.5 -8.9l.4 11.7l.4 -12.4l.5 -4.3l.4 7.6l.5 -4.3l.4 12.5l.4 6.4l.5 -2l.4 -7.7l.4 -5.3l.5 3.8l.4 5.1l.4 -1.3l.5 -15.2l.4 2.5l.4 22.2l.4 -21.4l.5 9.1l.4 -11.1l.4 2.9l.4 -.4l.5 4.3l.4 -10.5l.4 9.7l.4 -3.7l.4 5.2l.5 -1.2l.4 3.7l.4 3.4l.4 -16l.4 -3.3l.4 22.9l.4 -3.5l.4 2.3l.5 -10.1l.4 3.1l.4 9.1l.4 -5.6l.4 2.7l.4 13.8l.4 -29.6l.4 18.5l.4 -15.3l.4 7l.4 -6.8l.4 7.9l.4 -9.2l.4 0l.4 5.4l.4 -.7l.4 .9l.4 2.3l.4 -11.6l.4 -3l.4 15l.4 -.2l.3 -7.1l.4 3.1l.4 10.8l.4 -15.1l.4 6.1l.4 -7l.4 13.9l.4 -13.1l.3 1.7l.4 -7.3l.4 17.5l.4 .7l.4 -11l.4 8.3l.3 6.2l.4 -21.1l.4 -7.9l.4 -7.8l.3 7.8l.4 7.8l.4 7.1l.4 5.2l.3 -10.5l.4 -5.1l.4 19.5l.4 -5l.3 -3.1l.4 .6l.4 3.5l.3 -10.5l.4 10l.4 -3.1l.3 1.9l.4 6.2l.4 -8.2l.3 -8.8l.4 6.5l.4 4l.3 2l.4 -10.8l.3 1.3l.4 6.8l.4 -1.8l.3 1.5l.4 -5.7l.3 10.2l.4 -14.2l.4 8.2l.3 6.7l.4 -18.5l.3 12.1l.4 5.2l.3 12.8l.4 -15.1l.3 -9l.4 13.5l.3 -9.1l.4 6l.3 -1.4l.4 15.8l.3 -24l.4 5.7l.3 -7.4l.4 .4l.3 -8.9l.4 26.1l.3 -5l.3 -7.3l.4 1.4l.3 -4.1l.4 -3.7l.3 5.8l.3 -1.9l.4 4.1l.3 4.2l.4 -12.7l.3 17.2l.3 -8.5l.4 -.4l.3 -2.7l.3 2.4l.4 8.8l.3 -17l.3 15.7l.4 -7l.3 1.5l.3 -10.3l.4 5.4l.3 21.9l.3 -24.1l.4 5.1l.3 5.7l.3 -10.1l.3 9.5l.4 -9.7l.3 -.3l.3 3.9l.3 -1.3l.4 -2.7l.3 2.6l.3 -.8l.3 -15.8l.4 -16.5l.3 -16.5l.3 16.5l.3 16.4l.3 6.3l.4 5.4l.3 -.8l.3 10.8l.3 -8.5l.3 5.7l.4 -9.3l.3 13.6l.3 3l.3 -15.8l.3 -1.3l.3 13.1l.4 -2l.3 5.6l.3 -15.3l.3 5.1l.3 6l.3 -9.5l.3 3.7l.3 5.8l.3 -12.6l.4 8.7l.3 -2.3l.3 -8.1l.3 9.1l.3 .5l.3 1.2l.3 .8l.3 -5.9l.3 -3.2l.3 4.4l.3 1.7l.3 -3.6l.3 -2.2l.3 17l.3 -12.2l.3 15l.3 -7.3l.3 -12.3l.3 6.1l.3 -3.3l.3 11.4l.3 -4.5l.3 -13.7l.3 -.2l.3 14.2l.3 -4.6l.3 10.8l.3 -7.4l.3 5.3l.3 -3.2l.3 -7.6l.3 10.8l.3 -2.8l.3 .2l.3 -5.2l.3 .6l.3 -5.3l.2 6.2l.3 -7.1l.3 11l.3 -12.5l.3 7.9l.3 12.1l.3 -2.9l.3 -16.5l.3 2.5l.2 8l.3 -8.5l.3 7.9l.3 -6l.3 -1.6l.3 1.2l.3 5.2l.2 -9.7l.3 15.6l.3 -13.8l.3 5.2l.3 -13l.3 12.1l.2 -5.8l.3 19.6l.3 -.5l.3 -18l.3 -3.3l.2 12.9l.3 4.9l.3 -9.5l.3 -5.1l.3 .6l.2 1.7l.3 12l.3 -19.4l.3 16.3l.2 -6.8l.3 3.1l.6 9.8v-21.2l.8 11.3v-6.8l.8 -3.8v8.9l.8 6.2v-11.8l.8 2.3v6l.8 -12v10.3l.9 12.2v-16.3l.8 12.6v-22.6l.7 21.4v-15l.8 7.4v2.6l.8 -5.9v-8.8l.8 17.2v-7.2l.8 3.1v-4.7l.8 -3.2v8.3l.8 -10.4v1.5l.7 -7.2v-19l.8 -.5v-6.5l.8 13v13l.7 6.5v7l.8 -10.9v7.7l.8 -8.3v23.1l.7 -4.7v-44.4l.8 35.2v5l.7 -7.9v-35.3l.8 -20v40l.7 -7.4v31l.8 -2.5v-7.6l.7 -.7v14.9l.7 -8v-6.4l.8 3.1v14.2l.7 -5.7v-10.6l.7 -9.4v20l.7 -7v14.4l.8 -4.7v-34.4l.7 -11.2v-19l.7 38v16.1l.7 -10.7v13l.7 -30.5v29.5l.7 -3.5v-4.2l.7 8.5v-13.2l.7 -26.5v42.3l.7 -1.7v-17.1l.7 -18.3v45.4l.7 -15.9v-4.9l.7 22.4v-15.8l.7 6.3v-12.1l.7 6.2v-33l.7 -2v-19.3l.7 38.7v23.3l.6 1.5v-14.1l.7 3.7v4.1l.7 -1.7v2.6l.7 -10.8v11.8l.6 .5v-3.9l.7 -5.2v14.6l.7 -2.3v-13.1l.6 9.5v-7.6l.7 -11v24.2l.6 -10.6v4.2l.7 -19.5v22.7l.6 -11.2v9.9l.7 -7.1v17.8l.6 -37.9v39.6l.7 -20.4v8.1l.6 -4.8v-21.6l.7 -12v-12l.6 21.2v21.1l.7 20.2v-11.8l.6 -8.8v22.2l.6 -10.5v6.2l.7 -1.9v-27.4l.6 10.9v10.9l.6 -13.8v-14.6l.6 19.5v4.1l.7 -8.6v8.1l.6 1.8v-4.6l.6 -2.8v8.1l.6 -18.4v18l.6 .9v-4.9l.6 -20.2v20.1l.7 5.2v-11.8l.6 4.3v-11.7l.6 -8.5v-8.5l.6 17v20l.6 -4.1v-15.7l.6 7.3v14.3l.6 -11.1v6.6l.6 3.6v-9.5l.6 -7.2v24.8l.6 -19.4v-19.2l.6 20.2v11.8l.5 -26v28.4l.6 -10.1v7.4l.6 -33.6v35.4l.6 -14.3v16.8l.6 -9.6v-7.9l.6 24v-31l.5 11.9v2.4l.6 7v-8.9l.6 -2.1v6.3l.6 -4.3v4.7l.5 -20.8v30.6l.6 -1.4v-20.4l.6 -19.1v-8.8l.6 -19v-19l.5 38v23.9l.6 -4.3v20.1l.5 1.3v-23.2l.6 18.3v-21l.6 30.3v-12l.5 -37.5v50.3l.6 -12.6v-30.6l.5 -35v-35l.6 70v42.6l.6 2.1v-44.4l.7 34.7v-43.7l.8 49.1v-23.7l.7 -36.7v36.7l.7 22.9v-43.9l.7 37.7v-10.3l.8 12.4v-41.8l.7 41.4v-1.4l.7 -5.4v15.1l.7 -30v27.1l.7 -11.6v5.7l.7 5.6v-24.2l.7 19.7v-10.9l.7 12.1v-16.3l.7 12.4v-40.5l.7 -42.5v42.5l.7 21.3v27.7l.7 -7.6v-5.3l.6 10.6v-42.3l.7 49.6v-17.3l.7 -19v26.3l.7 -34.7v41.1l.7 -21.6v15.9l.6 -2.3v2l.7 3.3v-17.6l.7 -8.6v-63l.6 21v64.2l.7 -26.7v34.5l.7 -8.7v-40.1l.6 43.4v-6.1l.7 -1.9v5.6l.6 -15.2v-42l.7 14v49.2l.6 -1.7v-8.7l.7 -8.6v15.1l.6 -10.3v19.8l.7 -28.5v20.1l.6 -32.5v33l.6 6.8v-19.1l.7 1v14.8l.6 -13.7v12.8l.7 -3v-9.2l.6 -4.3v17.2l.6 -2.8v-3.6l.6 -13.7v14.8l.7 -3.8v12l.6 -14.4v9.5l.6 -12.4v15.2l.6 -8.5v12.8l.6 -11v13.4l.6 -16.9v20.5l.7 -4.7v-9l.6 8.7v-12.6l.6 6.8v-6.9l.6 1.6v15.2l.6 -14.1v9l.6 -12.7v22.7l.6 -10.5v3.9l.6 -26.4v-62.3l.6 21v81.6l.6 -16.9v-8.2l.6 22.6v-11.7l.6 -1v10.3l.5 -11.4v10.6l.6 -6.3v-8.5l.6 9.2v-6.7l.6 -.4v12.5l.6 -15.3v21.5l.6 -24.4v10.4l.5 -8.4v20.2l.6 -8v-7.8l.6 -2.2v17.7l.6 -16.4v6.9l.5 -9v6.9l.6 6.7v-15.3l.6 2.2v7.8l.5 -7.3v11l.6 3.4v-12.6l.6 -1.7v13.5l.5 -11.9v6.5l.6 2.5v-5.3l.5 -10v21.6l.6 -5.2v-10.9l.5 14v-17.3l.6 13.2v-4.9l.6 -6v18.2l.7 -23v11.6l.7 -.1v-7.2l.7 5.7v-67.2l.6 22.4v44.7l.7 -4.4v11.3l.7 4.3v-19.4l.7 16v-14l.6 4.2v15.2l.7 -20.8v20.1l.7 -14.6v8.5l.6 19.8v-33l.7 1.2v12.5l.6 -17.1v14.7l.7 -13.6v16.3l.6 -1.2v-28l.7 -44.4v70.2l.6 -9.3v12.2l.7 -16.6v15.7l.6 -10v19.5l.7 -18.8v13.7l.6 12.3v-25.9l.7 -3.5v23.2l.6 -23.9v13.6l.6 -6.2v8.8l.7 -17.4v7.9l.6 3.9v-4.9l.6 10.4v-14l.6 7.5v-7.1l.7 11.6v-10.2l.6 .8v17.8l.6 .2v-27.8l.6 7.4v19l.6 -8.6v-8.6l.6 14.3v-21.4l.6 5.5v15.6l.6 4.5v-23.5l.7 5.6v11.4l.6 5.5v-20.8l.6 2.9v12.7l.6 -3.1v-9.8l.6 1.2v19.9l.6 -19.7v15.4l.6 -2.6v-12.5l.5 8.3v-8.7l.6 -5.1v12.6l.6 -.8v-11.5l.6 12v-8.7l.6 11.7v-13l.6 2.2v11.9l.6 -7.7v-38.1l.5 -12.6v54.5l.6 -14.6v27.8l.6 -28.9v17.1l.6 5.7v-13.2l.5 2.6v7.9l.6 -10.6v20.3l.6 -13v-13.8l.6 6.5v13.9l.5 -8.6v-7.2l.6 5.5v-12.6l.5 22.1v-13.5l.6 10.6v-11.5l.6 9v-7.8l.5 -2.7v25.6l.6 -5v-19.6l.5 .7v15.9l.6 -26v20.4l.6 -2.3v-7.5l.6 1.1v7.9l.7 -14.4v10.5l.7 4.1v-13.8l.6 15.6v-16.4l.7 16.4v-18.5l.6 -2.8v15.3l.7 -6.6v11.9l.6 -17.9v14.1l.6 .2v-9.1l.7 10.4v-11.1l.6 8.6v-9l.6 10.7v-7.2l.7 1.8v8.2l.6 -2.4v-70.3l.6 16.3v57.4l.7 -15.1v11l.6 12.2v-22l.6 -.7v16.3l.6 -12.3v11.9l.6 2.9v-10.8l.7 -9.9v14.3l.6 3.1v-17.1l.6 19.6v-23.3l.6 12.3v-41.1l.6 10.1v27.2l.6 -3.1v14.8l.6 -7.6v8.2l.6 -12.9v14l.6 4.9v-20.5l.6 13.9v-14.8l.6 .5v8.3l.6 -10.2v22.4l.6 -20.5v12.4l.6 -17.5v21.5l.6 -14.4v8.4l.6 -6.2v6.4l.5 -11.6v12.3l.6 -8.6v9.5l.6 .5v-11.8l.6 17.8v-23.1l.6 3.5v14.5l.5 -.1v-15.5l.6 2.6v11.4l.6 .2v-14.9l.6 3.2v17.1l.5 -18.7v8.7l.6 -7.8v22.5l.6 -11.6v-10.9l.5 14.2v-11.3l.6 11.8v-17.9l.5 3.4v20.6l.6 -11.1v-8.9l.6 -.5v26.9l.5 -12.3v-11.9l.6 11.3v-19.5l.5 9.2v5.9l.6 -7.1v17.9l.7 -17.9v17.9l.6 -2.4v-17.1l.6 4.6v8.2l.7 -15.5v8.2l.6 11.5v-13.6l.6 10.4v-10.5l.7 -3.8v17.2l.6 -19.5v12.8l.6 -14.8v17.4l.6 .8v-12.2l.6 -3.1v9.4l.7 8.4v-15.9l.6 28.6v-28.5l.6 -4.1v22.4l.6 -16.8v13l.6 -22.8v13.8l.6 11.9v-18.4l.6 3v13.5l.6 -3.1v-13.8l.6 17.8v-17.2l.6 16.7v-16.7l.6 -7.3v21.2l.6 -15.9v18.5l.6 .1v-14.8l.6 -3.3v13.6l.6 -16.5v18.3l.6 -15.5v18.4l.6 -17.3v21.6l.6 -17.7v15l.5 2.4v-28.6l.6 3.3v24.7l.6 -6.7v-14.1l.6 17.4v-15.7l.6 -2.5v21.3l.5 -9.7v-13.6l.6 3.2v11.8l.6 -7.1v12.2l.5 -17.3v12.3l.6 2.6v-11.8l.6 14.2v-16.3l.5 12.6v-9.6l.6 -3.5v17l.6 -20.8v20l.5 -17.6v13.8l.6 -10.6v11.8l.5 -18.4v24.2l.6 -1.6v-17.2l.5 -7.8v26.8l.6 2v-20.9l.6 -4.8v19.6l.7 -15.4v7.9l.6 7.9v-18.7l.6 11v-13.2l.6 24v-17.2l.6 9.1v-14l.7 -.4v16l.6 -18.5v18.1l.6 7.6v-25.1l.6 26.1v-21.8l.6 20.5v-21.6l.6 -.3v17.7l.6 -16.6v20l.6 -8.5v-9.7l.6 19.3v-20.7l.6 -1v11.5l.6 7.2v-15.7l.6 2.3v9.8l.6 -15.2v13.3l.6 -15v21.5l.6 .6v-23.6l.5 .8v17.2l.6 -12.7v27.3l.6 -10v-17.5l.6 17.9v-18.5l.6 17.1v-17.9l.5 .4v13.9l.6 -.8v-13.8l.6 18.7v-20l.6 16.3v-20.4l.5 4.2v24.4l.6 .5v-22.5l.6 13.2v-20.7l.5 7.1v20.2l.6 -24.3v15.4l.6 -9.1v14.4l.5 3.8v-24.8l.6 24.8v-22.3l.5 11.5v-18l.6 4.3v35.4l.5 -30.6v12.6l.6 13.4v-30.1l.6 19.9v-17.2l.6 3.7v9.4l.6 7.5v-18.3l.6 -5.2v13.6l.6 7.5v-15.1l.6 19.2v-26.3l.6 3.9v25.4l.6 -28v24.9l.6 -22.8v22.5l.6 -4.4v-16.2l.6 12v-20.8l.6 19.8v-13.4l.6 13.2v-14l.6 36.4v-31.3l.6 14.4v-24.5l.6 18.7v-12.1l.6 -2.4v22.2l.6 -22.2v23.3l.6 -20.1v23.2l.6 -22v14.1l.5 1.5v-18.2l.6 19.5v-21l.6 21v-16.2l.6 1.4v18.9l.5 -9.8v-13.5l.6 .4v20.3l.6 -19.6v15.5l.5 13.4v-23.2l.6 14.9v-20.4l.6 16.5v-16.4l.5 .8v21.7l.6 -5.1v-21.1l.6 24.7v-20l.5 -3v18.4l.6 4.8v-17.9l.5 -1v14l.6 -12.7v16.8l.5 -20.5v27.4l.6 -2.1v-24.2l.6 -.2v14.6l.6 -15.6v15.6l.6 -2.7v-14.3l.6 20.3v-25.8l.6 -1.3v22.8l.6 -3.1v-12.6l.6 1.5v12.8l.6 -10v23.2l.6 -34.1v27.7l.6 2.9v-28.6l.6 3.7v21.3l.6 4.9v-21.6l.6 10.5v-16.5l.6 19.5v-18.2l.5 .6v28.8l.6 -7.4v-19.5l.6 -1v16.6l.6 -14.1v18.7l.6 -22.9v18.2l.5 -12.9v12.8l.6 -17.2v23.4l.6 -3.5v-20.2l.5 -1v23.8l.6 -24.2v18.3l.6 -14v15l.5 3.4v-25.9l.6 9.2v11.4l.5 .4v-19.5l.6 16.6v-6.9l.6 -5.4v25.1l.5 -27.3v32.9l.6 -11.5v-18.2l.5 -2.3v13.9l.6 -11.6v19.6l.6 -24.7v23.3l.6 -1.3v-18.8l.6 23.5v-14.7l.6 -5.5v13.3l.6 -14v12.8l.6 -.5v-12.3l.6 -4.1v15.6l.6 3.4v-18.2l.6 24.4v-23.2l.5 -2.1v25.9l.6 3.3v-26.4l.6 16.3v-19.6l.6 22.2v-16.2l.6 9.7v-13.6l.5 .4v13.2l.6 1.3v-74.2l.6 79.6v-21l.6 1.9v18.3l.5 .7v-16.4l.6 9.9v-14.6l.6 .4v20.5l.5 -21.6v34.4l.6 -34.5v18l.6 13.1v-28.5l.5 -5.4v28.4l.6 -22.3v15.9l.5 -.7v-16l.6 17.9v-14.2l.5 16.1v-19l.6 19.9v-22.3l.6 .5v18.4l.6 -.7v-15.5l.6 -2v18.6l.6 -18.9v24.5l.6 -27.5v19.6l.5 -20.1v30.7l.6 -25.8v21.6l.6 6.6v-24.4l.6 11v-17l.6 2.7v16.9l.6 -15.8v19.3l.5 -17.3v20l.6 -3.9v-17.3l.6 15.7v-23l.6 4.9v16.5l.5 .4v-14l.6 12v-16.9l.6 18.8v-18.7l.6 17.1v-14.7l.5 0v16.9l.6 -14.7v12.8l.5 -18.9v22.9l.6 -19.5v22.2l.6 1.8v-24.1l.5 .4v19.2l.6 -5.4v-12.1l.5 -2.9v14.6l.6 -15.2v21.7l.6 -1.7v-26.1l.6 27.2v-17.1l.5 17.5v-25l.6 3.8v19.4l.6 4.4v-19.6l.6 8v-6.3l.6 -3.5v24.4l.6 -26.1v25.4l.6 -10.3v-12.8l.5 -5.5v19.1l.6 7.4v-24.4l.6 23.7v-23.5l.6 15v-13.7l.5 17.7v-20.3l.6 3.4v27.4l.6 -5.1v-24.2l.6 .9v19.7l.5 2.8v-19.5l.6 -3.5v19.2l.5 -19.8v19.3l.6 -16.7v19l.6 1v-24.1l.5 5.4v22.3l.6 -26.2v16.7l.5 -15.8v20.1l.6 4.1v-23l.5 -.5v26.9l.6 -28.5v25.6l.6 2.4v-30.2l.6 1.7v18.8l.6 3.3v-20l.6 14.7v-13.9l.5 2.7v24l.6 -30.5v25.3l.6 -21.2v21.3l.6 -24.9v22l.6 -1.9v-18.4l.5 18.6v-21.8l.6 1.9v17l.6 -16.7v17.7l.5 8.1v-24.8l.6 3.1v19.3l.6 -2.5v-20.8l.5 21.2v-20.7l.6 22.9v-20.9l.6 -.5v27.7l.5 -3.7v-23.6l.6 -7.9v27.9l.5 -2.8v-20.8l.6 2.2v19.4l.5 -2.8v-11.5l.6 18.9v-23.7l.6 28.2v-24.7l.6 -6.3v27l.6 -7v-16.4l.5 -4.3v24.4l.6 2.4v-21.4l.6 -9v31.5l.6 -2.9v-23.9l.5 2v17.7l.6 -2.5v-16.7l.6 2.3v20.2l.6 -.6v-19.3l.5 22.4v-20.7l.6 -2.4v31.8l.6 -29.3v15.5l.5 3.7v-24.5l.6 5.2v11.6l.5 -12.8v26.9l.6 -29.5v31.7l.6 -33.6v32.2l.5 -14v-17.1l.6 25.2v-26.1l.5 -2.5v22.3l.6 -15.1v13.3l.6 -16.1v21.8l.6 -3.1v-21.1l.5 28.1v-29.6l.6 2.7v24.6l.6 -5.5v-24l.6 26.6v-17.9l.5 -3.8v31.2l.6 -8.4v-17.9l.6 18.9v-21.1l.6 -.7v20.6l.5 2v-23.1l.6 .9v21.3l.5 -20.1v19.5l.6 -5.1v-15l.6 -.5v19.8l.5 2.6v-26.5l.6 -2.6v27l.5 -17.9v18.6l.6 7.6v-35.6l.5 7.2v17.5l.6 .3v-17.5l.6 20.6v-20l.6 -3.5v22.3l.6 -20.9v21.8l.5 -7.2v-18.4l.6 -.1v31.2l.6 -4.9v-17.6l.6 -6.3v21.6l.5 2.9v-26.3l.6 8.3v20.6l.6 -9.3v-13.9l.5 27.1v-28.8l.6 15.3v-12.4l.6 12.5v-21.4l.5 5.2v24.1l.6 -.5v-28.1l.5 2.6v23.9l.6 .2v-22.5l.5 18.5v-15.2l.6 -8.4v27l.6 4.9v-25.1l.5 -1.2v24.1l.6 -2.8v-19.7l.6 -6.9v28.6l.6 .4v-25l.5 28.2v-26.7l.6 28.7v-33l.6 26.5v-30.3l.6 29.8v-29.6l.5 2.1v25.1l.6 -18.4v26.5l.6 .9v-26.9l.5 18.1v-21l.6 1.5v25.8l.5 -2.7v-25.2l.6 1.3v24.2l.5 -25.3v22.9l.6 -21.5v22.6l.6 -28.1v32.6l.5 -4.9v-25.7l.6 23.7v-23.4l.6 -.4v25.9l.5 -20.9v17.6l.6 -19.2v19.4l.6 7v-25.4l.6 23.3v-20.6l.5 17.9v-21l.6 22.2v-19l.6 -3.4v20.4l.5 -18v25.4l.6 -10.8v-19.5l.6 2.9v17.2l.5 -18.4v16.8l.6 4.5v-20l.5 20.2v-19.3l.6 26.1v-27.5l.5 2.4v16.5l.6 -17.9v24.6l.6 -27.8v25.4l.5 -4.6v-16.5l.6 -3.9v26.4l.6 -26.9v16.9l.6 4.8v-21.4l.5 21v-19.4l.6 4.8v22.7l.6 -.2v-28.8l.5 19.1v-14.4l.6 -6.4v31l.5 -6.1v-19l.6 -2.8v18.7l.6 -23.4v25.1l.5 1.3v-21.4l.6 24v-22.4l.5 1.5v20.9l.6 -23.3v25.5l.6 -.9v-24l.5 23.5v-25.3l.6 20.1v-22.1l.6 -4.6v26.1l.6 -.7v-19.5l.5 2.1v19.2l.6 -23.4v22.5l.5 -1.8v-17.2l.6 -2.6v23.5l.6 5.2v-28.4l.5 19.4v-18.7l.6 20.9v-17.9l.5 -4.9v24.5l.6 -23.4v42.7l.6 -41.5v25.3l.5 -2.6v-20.8l.6 17.2v-16.8l.6 25.1v-23.5l.5 -3v36.7l.6 -17.4v-21.2l.6 -2.5v22.5l.5 4.7v-19.1l.6 17.9v-21.5l.6 .4v21.7l.5 -20.8v18.4l.6 -21.6v35.3l.5 -13.3v-19.4l.6 -6.3v37.7l.6 -32.6v28.5l.5 -2.3v-25.9l.6 28.8v-28.2l.5 23.6v-29.4l.6 1.6v32.1l.6 -10.8v-15.9l.5 -7.5v42.3l.6 -41.4v24.9l.6 -19.6v25.3l.5 -4.5v-20.3l.6 -2.7v20.8l.6 4.4v-24.3l.5 1v29.7l.6 -4.8v-25.8l.5 25.7v-26.1l.6 1.9v23.8l.5 -2v-20.1l.6 22.7v-28l.6 25.2v-20.3l.5 28v-30.1l.6 -3.2v22.4l.6 3.4v-29.6l.5 8.3v25l.6 -3.9v-21.9l.6 -1.6v26l.5 -20.6v23.7l.6 -10.9v-15.9l.5 21v-21.2l.6 0v26.3l.6 -4.3v-22.7l.5 -1.9v25.2l.6 -22.5v27.3l.5 -27v23.8l.6 -3.3v-20.2l.6 -.3v32.7l.5 -34.6v25.2l.6 -28.2v33.1l.6 -28.8v25.2l.5 -30.2v24.7l.6 -21.7v21.5l.5 -23.4v24.7l.6 -2.2v-19.1l.6 23.3v-20.3l.5 -1.6v25.6l.6 -30.2v22.2l.5 -21.1v26.7l.6 -23v24.7l.5 -3.8v-27l.6 5.4v21.2l.6 -.4v-20l.5 -6.2v29.1l.6 -24.2v20.6l.6 7v-27l.5 23.9v-25.7l.6 5.8v-30.4l.5 -5.5v28.3l.6 -8v34.2l.6 -22.8v27.9l.5 1.3v-29.2l.6 -5.6v27.7l.5 -20.4v26.3l.6 -8v-20.7l.6 .1v35.1l.5 -15.5v-17.6l.6 -5.5v34.1l.6 -32v22l.5 4.3v-23.8l.6 2.9v20.2l.5 -28.6v24.2l.6 6.3v-23l.5 -6.6v26.6l.6 2.8v-25.7l.5 -1.2v25.3l.6 2.6v-27.8l.6 26v-28.4l.5 2.6v22.2l.6 -25.7v36.5l.6 -15.9v-21.2l.5 29v-23.4l.6 22.4v-21.7l.5 .2v17.8l.6 -19.4v23.9l.5 -25v26.1l.6 -.3v-29.1l.6 24v-19.9l.5 -4v25.9l.6 .5v-25.6l.6 34.9v-33.2l.5 19v-19.3l.6 28.7v-30.9l.5 26.2v-21.3l.6 -2.2v29.8l.6 -30.3v32.3l.5 -5.3v-28.5l.6 6.5v25l.5 -31.5v35.1l.6 -3.8v-30l.5 -.8v27.9l.6 7.3v-32.7l.6 1.2v28.4l.5 -27.6v19l.6 -19.3v24.1l.5 -26.7v23.7l.6 .6v-20.4l.6 .9v22.3l.5 -22.7v20.9l.6 -22.5v22.1l.5 -26.9v29.6l.6 6v-33.9l.5 29.5v-32.9l.6 6.5v26.2l.6 1.1v-26l.5 -3v23.3l.6 -26.2v31.7l.5 -29.6v28.7l.6 -27.1v27.5l.6 -6.3v-22.7l.5 22.3v-22.1l.6 .3v20.5l.5 -18.3v27.8l.6 -24.7v20.7l.6 .1v-26.6l.5 5.8v26.7l.6 -31v22.8l.5 3.2v-28.2l.6 23.5v-24.4l.5 -2.2v28.7l.6 -.4v-24.7l.5 25.4v-25l.6 18.5v-17.9l.6 22.4v-24.2l.5 2.2v-34.2l.6 27.7v25.3l.6 4.1v-21.6l.5 -.7v19.8l.6 4.6v-26.2l.5 -.6v28.1l.6 -27.8v22.8l.5 -4.8v-14.7l.6 26.2v-24.9l.6 -5.4v26.4l.5 -25.1v32.9l.6 -34.5v21.5l.5 -21.3v27.1l.6 -5.5v-26.8l.6 42.5v-38.9l.5 7.7v23.4l.6 -6.6v-23.4l.5 25.8v-21.2l.6 17.8v-19.4l.5 -1v25l.6 -28.3v27.5l.6 -24.1v28.2l.5 -9v-20.3l.6 27v-24.1l.5 25.6v-30.9l.6 6.1v38l.5 -41.4v28.8l.6 -3.4v-24.8l.5 29.2v-26.5l.4 10.8v-11.5"/>
<path class="c" stroke="#bf00bf" d="M395.9 1068.5l130.2 -16.7l76.2 -11.2l54 5.6l41.9 25.2l34.3 34.7l28.9 39.5l25.1 7.4l22.1 16.1l19.8 10l17.9 1.1l16.3 4.9l15.1 10.3l13.9 -4.2l12.9 4l12.2 12l11.4 4.7l10.7 2l10.1 6.5l9.7 -3.8l9.1 -3.3l8.8 9.7l8.3 -3.7l8 -9.7l7.7 4.3l7.4 8.1l7 12l6.9 -8.2l6.6 -4l6.3 -2l6.2 3.3l5.9 .7l5.8 .7l5.6 1.3l5.5 2.7l5.3 -8.7l5.1 6l5 16.1l4.9 3.3l4.8 -2.7l4.6 1.4l4.5 3.3l4.4 12.1l4.4 -4.7l4.2 -.7l4.1 -2l4 -3.3l4 -2.7l3.9 5.3l3.8 5.4l3.7 -2l3.6 -2l3.6 2l3.5 5.4l3.5 2l3.4 -8.1l3.3 0l3.2 4l3.3 1.4l3.1 1.3l3.1 -2.7l3.1 5.2l3 -3.6l2.9 -6.2l2.9 -6.3l2.9 13.3l2.8 -7.1l2.8 4l2.8 -5.7l2.7 9.5l2.6 -3l2.7 2.1l2.5 -3.1l2.6 13.4l2.5 -9.5l2.5 .7l2.5 -6.9l2.4 -.3l2.4 -5l2.3 -3.9l2.4 5.4l2.3 3.6l2.3 -2.6l2.2 4l2.2 -7l2.2 -6l2.2 -.7l2.1 14l2.2 -12.4l2.1 -1.8l2 12.5l2.1 6.4l2 -3.9l2 -.2l2 -8.5l2 6.3l1.9 -10.8l2 10.8l1.9 -7.8l1.8 -3.3l1.9 11.6l1.9 -9.5l1.8 3.2l1.8 16.5l1.8 -24.8l1.8 8.3l1.8 -1.8l1.7 7.9l1.7 -2.3l1.7 .1l1.7 -2.9l1.7 -2l1.7 4.2l1.7 2.4l1.6 -4.4l1.6 6.4l1.6 -7.2l1.6 4.8l1.6 -6.6l1.6 4.5l1.5 -10.3l1.6 8.1l1.5 9.8l1.5 -4l1.6 -15l1.5 15.6l1.4 -1.6l1.5 9.2l1.5 -12.1l1.4 -3.5l1.5 -5.3l1.4 1.8l1.4 6l1.4 2.5l1.4 -19.3l1.4 11.9l1.4 4.9l1.3 -13.3l1.4 8.6l1.3 -1.5l1.4 2.1l1.3 -4.6l1.3 1.8l1.3 3l1.3 3l1.3 -6.6l1.3 8.8l1.3 -4.4l1.2 -6.5l1.3 6.2l1.2 -5.1l1.3 21.1l1.2 -19.9l1.2 -3.2l1.3 5.1l1.2 6.2l1.2 -1.2l1.2 3.1l1.1 -7.6l1.2 3.4l1.2 6.3l1.2 -3l1.1 -9.7l1.2 1l1.1 5.9l1.1 14.3l1.2 -21.5l1.1 3.8l1.1 -5.6l1.1 13.5l1.1 -6.5l1.1 .1l1.1 -3.8l1.1 .7l1.1 15.5l1 -14.8l1.1 1.3l1 -.7l1.1 .2l1 -.8l1.1 1.2l1 10.1l1 7.9l1.1 -22.2l1 7.5l1 -13.4l1 8.9l1 -2.6l1 11.8l1 -5.1l1 -5.9l1 6.5l.9 -5.6l1 4.1l1 4l.9 -2.9l1 -5.1l.9 6.4l1 .3l.9 .3l1 .4l.9 11.5l.9 -7l.9 -4.2l1 -5l.9 1l.9 15.2l.9 -17l.9 11.4l.9 -5.5l.9 -3.3l.9 .7l.9 1.3l.8 -10.3l.9 10.2l.9 1.9l.9 -2.7l.8 -9.6l.9 5.1l.8 2.6l.9 -1.5l.8 -.8l.9 -6.4l.8 5.6l.9 8.7l.8 3l.8 -13.2l.8 -5.6l.9 6.3l.8 11l.8 -15.3l.8 -.3l.8 3.1l.8 .8l.8 -2.3l.8 5.1l.8 4.1l.8 1.2l.8 -5.8l.8 2.6l.8 -11.9l.7 21.1l.8 -7l.8 -10.5l.7 10.2l.8 .3l.8 -8.3l.7 3.6l.8 1.8l.7 0l.8 -5.9l.7 2.1l.8 -.7l.7 11.4l.8 -5.2l.7 .7l.7 12.4l.8 -3.7l.7 -7l.7 -9.3l.7 10.1l.7 -5.8l.8 -1.9l.7 3.3l.7 -4.8l.7 5.6l.7 1.9l.7 10.1l.7 -12.6l.7 -1l.7 -5.6l.7 3.4l.7 4.8l.7 -10.8l.6 5.9l.7 -1.6l.7 -2.3l.7 10.9l.7 -8.5l.6 8.8l.7 -6l.7 -1.6l.6 5.1l.7 -5.9l.6 1.8l.7 3.2l.7 -7.4l.6 4.3l.7 -9.9l.6 9.8l.7 21.6l.6 -25.5l.6 1l.7 3.8l.6 -8.6l.7 13.9l.6 7.2l.6 -17l.7 .3l.6 -8.5l.6 13.4l.6 -1.7l.7 -15.3l.6 13.8l.6 -4l.6 -3.6l.6 2.9l.6 -4.3l.6 .9l.6 5.5l.6 .3l.6 -.5l.6 -2.1l.6 3.2l.6 -1.1l.6 -2.8l.6 -3.3l.6 4.6l.6 -6.5l.6 15.4l.6 -6.9l.6 -19.4l.6 -17.3l.5 -17.3l.6 17.3l.6 17.3l.6 15.9l.5 -5.8l.6 11.1l.6 11.9l.6 -22.1l.5 6.3l.6 5.2l.5 -8.5l.6 -7.3l.6 15.9l.5 -9.7l.6 7.9l.5 4.6l.6 3.8l.5 -8l.6 -1.9l.5 -5.9l.6 -6.7l.5 10.3l.6 -.9l.5 7.6l.6 -4.4l.5 -2.8l.5 6.8l.6 -4.4l.5 -4.3l.5 10.6l.6 -8.1l.5 2.6l.5 -8.2l.6 .7l.5 -5l.5 5.4l.5 5.1l.5 8.4l.6 -.7l.5 -11.9l.5 -7.2l.5 8.9l.5 -2.6l.5 12.4l.6 -19.3l.5 13l.5 -4.4l.5 7l.5 -4.7l.5 -3.4l.5 11.6l.5 -5.6l.5 -6.1l.5 2.2l.5 -.3l.5 6l.5 -5.2l.5 -.2l.5 .4l.5 -2.4l.4 -7.4l.5 10.2l.5 -4.9l.5 6.7l.5 -6.3l.5 -4.6l.5 6.2l.4 1.9l.5 -5.9l.5 7l.5 -4.5l.4 5.4l.5 3.4l.5 -3.7l.5 11.1l.4 -20l.5 -1.5l.5 7.3l.4 2.8l.5 -6.3l.5 -9.6l.4 -15l.5 -15l.5 15l.4 14.9l.5 19.1l.4 1.9l.5 -4.1l.5 10.9l.4 -16.7l.5 13.5l.4 -6.4l.5 1.4l.4 -9.4l.5 9.7l.4 -1.2l.5 -7.9l.4 2.9l.5 2.2l.4 -5.2l.5 .7l.4 9l.4 -4.8l.5 -1.2l.4 5.1l.5 -1.4l.4 -7.2l.4 -2.9l.5 19.2l.4 -14.8l.4 .6l.5 4.4l.4 10.6l.4 -10.1l.5 7.4l.4 -10.8l.4 16.6l.4 -21.7l.5 13.7l.4 -9.7l.4 10.2l.4 -6.5l.5 3.6l.4 4.5l.4 -6.7l.4 1.1l.4 -4.8l.5 6.3l.4 -12.3l.4 12.9l.4 .3l.4 -15.9l.4 15.2l.4 -12l.4 5.8l.5 .1l.4 3.7l.4 2.4l.4 -9l.4 6.3l.4 -5.3l.4 .7l.4 0l.4 7.3l.4 -3.5l.4 -7.1l.4 -6.4l.4 11.8l.4 -3.9l.4 -.1l.4 -.8l.4 5.3l.4 -.1l.4 3.5l.4 -9.7l.4 4.4l.4 11.1l.3 -13.4l.4 13.1l.4 -13.6l.4 6.2l.4 -8.6l.4 5.1l.4 4.9l.4 -2.6l.3 -4.5l.4 1.3l.4 -8.3l.4 1.8l.4 3.8l.4 4.6l.3 -3.5l.4 3.6l.4 -.8l.4 9.1l.3 -7.2l.4 4.2l.4 -.8l.4 -8.8l.3 3.2l.4 -2.3l.4 -10.7l.4 13.7l.3 4.7l.4 -2.9l.4 -5.7l.3 2.1l.4 .6l.4 2.1l.3 -2.7l.4 -.4l.4 -2.1l.3 1.1l.4 1.5l.4 -2.8l.3 5.6l.4 -2.7l.3 -7.7l.4 19.3l.4 -3.7l.3 -15.6l.4 17.1l.3 -19.4l.4 6.1l.4 -2.8l.3 3.5l.4 4.6l.3 0l.4 -5.4l.3 8.4l.4 -11.2l.3 5.4l.4 10.7l.3 -11.6l.4 -9l.3 4.9l.4 21.6l.3 -20l.4 4l.3 .9l.4 6.7l.3 5.1l.4 -8.4l.3 -1.7l.3 10.1l.4 -5.9l.3 -8.2l.4 -2.3l.3 2.1l.3 -3.1l.4 7.5l.3 .4l.4 5.6l.3 1.9l.3 -19.8l.4 5.4l.3 -8.7l.3 15.6l.4 -2.5l.3 5.1l.3 -17.2l.4 16.5l.3 -7l.3 2.8l.4 -1.7l.3 6.4l.3 -5.7l.4 7.1l.3 -2.5l.3 -5.2l.3 -.5l.4 11.3l.3 -16l.3 5.4l.3 9.9l.4 -2.7l.3 -10l.3 13.2l.3 -24.4l.4 -14.4l.3 -14.4l.3 14.4l.3 14.4l.3 9.1l.4 2.4l.3 -3.3l.3 6.3l.3 -6.3l.3 5.8l.4 .9l.3 -2.6l.3 16.6l.3 -2.7l.3 -6.9l.3 2.6l.4 -11.6l.3 3.6l.3 -7.1l.3 1.6l.3 1.5l.3 7.6l.3 2.8l.3 -4.7l.3 1.5l.4 -14.5l.3 14.9l.3 -7l.3 18.8l.3 -14.6l.3 18.4l.3 -11.1l.3 -2.7l.3 -6.1l.3 -5.7l.3 8.7l.3 .4l.3 -10.7l.3 15.5l.3 -3.5l.3 8.9l.3 -15.1l.3 4.5l.3 1.4l.3 -2.7l.3 1.5l.3 -1.8l.3 -6.4l.3 14.4l.3 -11.3l.3 12.4l.3 -6.7l.3 3.6l.3 -10l.3 3.6l.3 -6.7l.3 5.4l.3 3.5l.3 -5.3l.3 3.8l.3 1.6l.3 -4.2l.2 -3.9l.3 .3l.3 1.1l.3 .4l.3 10.8l.3 -16.9l.3 6.3l.3 15l.3 -4.9l.2 -5.5l.3 -5.3l.3 -3.8l.3 -3.5l.3 12.6l.3 3.1l.3 2.7l.2 -6.9l.3 -2.2l.3 .8l.3 3.8l.3 -2.5l.3 6.8l.2 -6.8l.3 -7.2l.3 6.9l.3 2.4l.3 14l.2 -23.6l.3 3.6l.3 4.7l.3 11.2l.3 -17.6l.2 8.5l.3 .4l.3 -4.9l.3 -3.5l.2 5.3l.3 3.2l.6 11.3v-16.3l.8 8.3v1.9l.8 -5.9v-10.4l.8 1.5v4.8l.8 .4v-4.3l.8 8.2v-12l.9 21.5v-13.4l.8 -6.5v12.5l.7 -10.6v10.2l.8 -1.5v-9.8l.8 12.5v22.4l.8 -18v-20.5l.8 2.4v14.2l.8 -4.5v-26.9l.8 24.9v-13.3l.7 -6.4v-12.8l.8 -6.5v-6.4l.8 12.9v6.4l.7 12.8v6.5l.8 12.8v-9.9l.8 8.9v-32.3l.7 21.8v3.1l.8 16v-17.6l.7 9.2v-47.6l.8 -21v42l.7 7.5v3.4l.8 -3.7v27l.7 -13.4v4.6l.7 -20.7v8.7l.8 6.2v1.4l.7 -3.3v-9.6l.7 12.7v4l.7 4.3v-17.1l.8 -15.7v7l.7 -17.6v-17.7l.7 35.3v19.9l.7 -8.9v12.1l.7 -35.4v25.4l.7 -7v6.4l.7 16.3v-18.8l.7 11.6v-5.6l.7 -10.5v12.4l.7 15.1v-25.3l.7 -28v48.6l.7 -10.1v-10l.7 7.5v11.4l.7 2.1v-29.5l.7 -18v-18l.7 36v21.9l.6 4v-10.1l.7 -6.3v19.4l.7 -6.4v-15.4l.7 9.3v-2.9l.6 -10.7v13.6l.7 7.7v-9.1l.7 13.5v-14.9l.6 -4v8.1l.7 7.9v3.2l.6 -28.2v13.5l.7 -4.5v23.4l.6 -30v12.8l.7 6.5v-17.3l.6 13.4v-18l.7 29.9v-13.2l.6 3.2v-21.5l.7 -9.7v-9.6l.6 19.3v19.6l.7 -.7v13.1l.6 -20v16.3l.6 -27.4v21l.7 -3.3v-5.3l.6 .1v14.8l.6 1.1v-10.6l.6 6.5v-16.3l.7 5.3v12.2l.6 11.5v-16l.6 2.4v-5.2l.6 -16.9v21.4l.6 -10v6.1l.6 -9v8.8l.7 4.7v7.6l.6 -18.4v-9.2l.6 -7.5v-7.5l.6 15v7.5l.6 -1.6v2.5l.6 11.2v-8.5l.6 -18.1v29.4l.6 -2v-10.4l.6 -3.8v8.9l.6 -5v-2.5l.6 -5v21.9l.5 -30.1v30.6l.6 -4.7v-9.5l.6 -.6v-3.5l.6 2v-1l.6 .3v7.6l.6 -.9v-18l.5 11.6v4l.6 -2.3v-3.8l.6 8.4v-12.2l.6 -26.4v41l.5 -2.1v-3.4l.6 .4v1.1l.6 -3.4v-32.6l.6 -19v-19l.5 57v-21.9l.6 .6v44.8l.5 -23.5v26l.6 -7.5v-2.4l.6 7.3v-2.7l.5 -3.2v-16.9l.6 15.2v-30.1l.5 -33.4v-33.3l.6 66.7v30l.6 1.1v12.3l.7 -20.2v23.9l.8 -14.8v8.4l.7 -2.6v-7.2l.7 9.3v-12l.7 9.9v-15.5l.8 8.1v-34.8l.7 44.2v-46.1l.7 25.1v17.1l.7 -11.2v3.4l.7 -8.1v21.9l.7 -5.6v-4.4l.7 -6.9v11.1l.7 -6v-26.2l.7 23.7v-32.6l.7 -38v38l.7 19v36.3l.7 -16.4v-5.3l.6 10.7v-10.9l.7 6v-9.1l.7 .7v9.1l.7 7.8v-17.6l.7 12.7v-17.4l.6 12.2v-10.1l.7 13.2v-5.8l.7 -17.1v-60l.6 20v54.9l.7 3.6v7.2l.7 -.2v-34.1l.6 2.1v37.6l.7 -17.2v7.5l.6 -13.7v-35.7l.7 12v44.3l.6 -28.5v25.2l.7 .8v-5.9l.6 9.3v-23.4l.7 9.6v-12.3l.6 -14.9v42.8l.6 -4v-22.1l.7 24.9v-11.4l.6 9.1v-10.8l.7 10.7v-14.9l.6 2.9v15.5l.6 -1.7v-12.6l.6 9.7v-14.7l.7 3.2v25l.6 -27.9v7.7l.6 -6.1v10.1l.6 -14v12.4l.6 .1v13.8l.6 -4.8v-12.9l.7 6.4v-14l.6 4.8v11.1l.6 .1v-6l.6 10.8v-11.3l.6 -4.3v13.4l.6 12.4v-25l.6 13.1v-9.6l.6 -12.5v-55.6l.6 18.7v56.2l.6 5.8v-9.5l.6 9.9v-13.8l.6 2.3v13.1l.5 0v-12.6l.6 6.1v15.3l.6 -18.9v11.1l.6 -13.7v17.8l.6 -3v-16.2l.6 5.7v18.8l.5 -17.1v10.2l.6 -3.2v-9.9l.6 14.6v-17.8l.6 2v7.6l.5 2.7v-12l.6 3.2v5.2l.6 1v-5.8l.5 -.1v11.7l.6 -3.3v-8l.6 7.8v-8.5l.5 7.8v-14.4l.6 16.2v-11l.5 -3.6v5.2l.6 6.4v12.4l.5 -25.6v8.4l.6 -10.5v23.1l.6 -18.6v10.8l.7 5.1v-17.4l.7 15.3v-11.9l.7 11.2v-44.7l.6 13.2v33.8l.7 -10.5v8.3l.7 -14.5v16.7l.7 0v-8l.6 8.6v-11.8l.7 -6.3v20.9l.7 -24.3v26.6l.6 -5v-17.3l.7 11.7v-11.9l.6 5v15.7l.7 -17.6v19.4l.6 -5.6v-24l.7 -32.7v41.3l.6 3v6.8l.7 -11.4v27.2l.6 -7.3v-19.7l.7 -1.3v28.2l.6 -2.6v-19.6l.7 10.8v-6.5l.6 13.4v-14.3l.6 -4.2v18.9l.7 -9.9v-21.8l.6 4.5v14.3l.6 2.9v-14.7l.6 10.9v6.4l.7 -15.3v13l.6 -11.8v14.3l.6 -5.8v14.8l.6 -5.1v-16.2l.6 2v12.6l.6 1.1v-14.2l.6 9.5v-9.9l.6 -2.8v16.7l.7 -20.6v15.2l.6 -17.6v29.7l.6 -15.3v16.7l.6 -27.7v26.9l.6 -21v9.2l.6 -12.4v13.7l.6 5.5v-20.5l.5 6v7.1l.6 4.4v-13l.6 -2.8v14.5l.6 4.6v-21.2l.6 3.4v27.4l.6 -25.9v12l.6 2.5v-39.2l.5 -9.8v59.5l.6 -9.9v-17.1l.6 12.3v-17.5l.6 9.6v9.3l.5 10.4v-17.8l.6 -4.5v11.4l.6 5.3v-15.5l.6 8.7v-11.2l.5 -6.6v20.2l.6 -1.3v-15.8l.5 11.6v-6.3l.6 7.3v-10.9l.6 4.3v10.5l.5 -11.8v11.7l.6 -14.8v13.2l.5 -14.5v14l.6 -9.7v11.5l.6 7.4v-19.1l.6 -.1v14.8l.7 -18v12.8l.7 -16.5v25.8l.6 -.2v-19.5l.7 12.7v-8.7l.6 10.4v-21.6l.7 21.5v-11.9l.6 -4.7v21.2l.6 -21v19.4l.7 -16.4v14.1l.6 -14.7v16.6l.6 -8.2v-13l.7 .2v12.5l.6 1.2v-57.6l.6 13.6v49.9l.7 9.7v-20.5l.6 6.4v-9l.6 12.1v-10.2l.6 -7.2v29.5l.6 -14.7v-9.7l.7 -4.9v11.4l.6 -3.8v-5l.6 .2v20.1l.6 -13.1v-50.3l.6 12.5v44.5l.6 1.6v-12.5l.6 -6.6v17.3l.6 -14v15.8l.6 -15.9v18.1l.6 -20.3v17.4l.6 8.6v-18.4l.6 11.5v-8.9l.6 -3.1v11.9l.6 -3.7v-8.4l.6 -3.3v12.1l.6 -11.2v19.5l.5 -24.9v25.1l.6 -16.3v9.7l.6 -5.2v-16l.6 25.8v-13.7l.6 -7.6v16.8l.5 -13.9v14.4l.6 -17v24.5l.6 -10v-18.4l.6 8.8v10.3l.5 -18v15.8l.6 8.9v-18.1l.6 11.8v-14.9l.5 .3v15.9l.6 1.9v-15l.5 -2.6v15.6l.6 4.9v-15.6l.6 7.6v-9.7l.5 15.4v-15.9l.6 11.3v-19l.5 21v-8.4l.6 12v-22.5l.7 15.4v-8.5l.6 19.3v-21.3l.6 -1.9v14.5l.7 -3.1v-7.8l.6 8.4v-10.8l.6 -5v15.1l.7 -6.4v13.1l.6 -6.5v-10.6l.6 13.5v-11.8l.6 -.7v11.1l.6 -12.6v16.7l.7 -14.1v13.4l.6 -15.2v18.5l.6 5v-21.9l.6 4.4v12.2l.6 -20.3v15.5l.6 -10v19.8l.6 -7.1v-21.3l.6 24.3v-22.4l.6 3.9v21.3l.6 -17.2v6.7l.6 15.6v-31.1l.6 14.3v-13.5l.6 23.5v-15.3l.6 -1.3v17.7l.6 3.6v-24.9l.6 -1v16.8l.6 -9.8v22.7l.6 -6.9v-19.2l.5 13.3v-14.5l.6 3.4v8l.6 11.3v-19.8l.6 12.5v-15.9l.6 .5v14.9l.5 -2.5v-13.4l.6 10v-12l.6 6.8v10.7l.5 -15.4v22.2l.6 -11v-12.2l.6 20.2v-17.8l.5 .2v10.1l.6 .8v-16l.6 15.7v-15.6l.5 8.5v13.4l.6 -20.6v14.5l.5 -13.1v15.1l.6 -17.5v24.5l.5 -8.6v-15.6l.6 18.4v-21.5l.6 13.3v-6.4l.7 31.8v-30.2l.6 13v-9.2l.6 -18.5v40.6l.6 -11.5v-22l.6 -.8v22.3l.7 -5.8v-12.4l.6 4.3v7.1l.6 -6v11.2l.6 -.1v-20.9l.6 18.8v-14.3l.6 21.9v-20.8l.6 12v-15l.6 -2.8v19l.6 1.5v-14.5l.6 -4.4v20.4l.6 -3.5v-12.9l.6 18.5v-13.7l.6 -7.4v14.9l.6 4.6v-17.4l.6 -6.2v21.8l.5 -14.2v9.9l.6 4.6v-14.7l.6 10.4v-15.4l.6 20.2v-19.1l.6 18.2v-20.2l.5 1.8v18.3l.6 -13.8v25.4l.6 -29.6v15.9l.6 -.3v-16.6l.5 2.1v24.7l.6 -22.4v14l.6 -12.6v13.7l.5 4.3v-16.8l.6 -5v20.3l.6 -19v15l.5 1.7v-18.5l.6 .9v11.1l.5 -9.1v18.2l.6 .2v-17.1l.5 18.1v-17.2l.6 1v18l.6 -23.3v23.7l.6 -12.7v-14.8l.6 17v-9l.6 16.3v-18.3l.6 -3.3v24.5l.6 -19.3v12.2l.6 -14.1v18.7l.6 -16.3v10.4l.6 -.5v-9.9l.6 -7.6v20.4l.6 6.5v-23.5l.6 17.4v-22.9l.6 6.2v16.3l.6 -18.6v25.5l.6 -5.9v-16l.6 .5v10.1l.6 10.6v-23.9l.6 19.8v-14.8l.6 8.6v-11.2l.6 2.8v16.5l.5 -9v-9.8l.6 19.7v-19.2l.6 20.5v-20l.6 .3v22.6l.5 -.5v-28.9l.6 -.6v19.5l.6 -16.7v18.4l.5 2.9v-16.9l.6 17.7v-25.8l.6 6.1v17.9l.5 -11.9v18.2l.6 -1.9v-19.6l.6 15.6v-19.9l.5 15.4v-16.1l.6 3.7v17.8l.5 -4.1v-13.6l.6 34.9v-42.9l.5 8.1v31.4l.6 -38.9v17.1l.6 -4.4v8.7l.6 -2.6v-16.9l.6 2.2v15.9l.6 .8v-15l.6 -2.8v16.4l.6 2.5v-22.7l.6 20.4v-12.9l.6 22.4v-16.4l.6 -4v18.4l.6 -7.5v-13.1l.6 14.6v-21.9l.6 19.9v-18.4l.6 23.6v-16.2l.6 22.4v-28.1l.5 2.7v19.5l.6 -17.8v16.3l.6 -18.2v30l.6 -13.4v-18.8l.6 -2.6v26.5l.5 -20.8v12.8l.6 6v-18.1l.6 -1.5v16l.5 -13.6v13.6l.6 -11.4v12.5l.6 5.2v-18.3l.5 -4.8v17.7l.6 -4.1v-11.9l.5 -4.1v23.4l.6 -16.7v12.6l.6 5.9v-20.5l.5 .4v15.5l.6 -17.3v17.5l.5 -14.8v15.6l.6 5.1v-21.6l.6 14.7v-17.4l.6 17.7v-12.9l.6 .2v18.3l.6 -1.7v-26.7l.6 7.1v23.7l.6 -31v17.4l.6 6.2v-19.2l.6 2.7v19.7l.6 -20.6v20.1l.5 -4.8v-15.4l.6 19.6v-14.7l.6 -2.1v22.1l.6 -3.5v-20l.6 -2.2v24.7l.5 -20.2v17.2l.6 -8.4v-61.6l.6 45.2v17.7l.6 9.7v-24.7l.5 -.9v23.1l.6 5.7v-26.9l.6 21.3v-20.6l.5 12.5v-12.5l.6 22.9v-27.3l.6 25.6v-29.4l.5 25.1v-19.1l.6 3.3v15l.5 -3.3v-17.7l.6 28.8v-26.6l.5 22.3v-17.2l.6 1.8v12.4l.6 1.8v-20.6l.6 -.2v21.8l.6 7.4v-26.7l.6 -1.3v18.9l.6 -2.1v-12.2l.5 23v-30.5l.6 29.3v-26.3l.6 18.5v-19.8l.6 4.4v15.2l.6 11.1v-30.5l.6 21.8v-19.1l.5 -2.2v17.9l.6 -2.9v-13l.6 3.7v21.5l.6 -5.6v-24l.5 25.7v-17.6l.6 13v-16.9l.6 0v15.4l.6 -17.6v23.2l.5 6.7v-23.3l.6 17.1v-21.8l.5 17.7v-22.5l.6 19v-13.7l.6 18.6v-19l.5 -3.6v22.7l.6 -16.5v13.2l.5 1.6v-15.6l.6 15.3v-15.1l.6 .3v12.7l.6 -18.7v23.4l.5 -23.9v22.4l.6 6.1v-37.3l.6 39.8v-24.1l.6 20.5v-26.6l.6 3v13.9l.6 1.3v-16l.6 2v15.6l.5 -15.3v21.1l.6 -26v24.5l.6 5.4v-30.5l.6 23v-14.9l.5 -4.3v19.7l.6 -3.8v-17.2l.6 1v19.5l.6 1.9v-26l.5 7.8v16.1l.6 -18.4v26.6l.5 -27v17.6l.6 .5v-16.1l.6 12.5v-14l.5 -2.6v19.4l.6 -15v16.6l.5 -6.2v-13.8l.6 -4.1v27.2l.5 2.9v-25.8l.6 16v-14.9l.6 -3.6v15.3l.6 12.9v-30.9l.6 23.8v-16.7l.6 0v19l.5 -23.1v27l.6 -27.4v32.6l.6 -11.7v-17.5l.6 2.1v15.2l.6 -2.9v-11.5l.5 -2.1v17.7l.6 -16.9v26l.6 -26v15.8l.5 -15.3v15.2l.6 -20.3v30.2l.6 -7.3v-24.5l.5 20.6v-20.2l.6 24.1v-19.7l.6 20.2v-21.9l.5 25v-20.4l.6 17.3v-19.7l.5 -5.3v18.5l.6 -12.5v21.6l.5 -8v-17.2l.6 26.2v-25.3l.6 3.1v19l.6 -25.9v28.5l.6 2.4v-21.5l.5 -11.2v23.1l.6 3.5v-24.2l.6 22v-16.6l.6 22.1v-24.4l.5 1v18.5l.6 -18.5v22.3l.6 -3.1v-22.2l.6 3.2v22.3l.5 .1v-26.6l.6 20.5v-13l.6 17.1v-17l.5 17.1v-21.5l.6 -2.9v23.6l.5 10.5v-30.2l.6 .3v17.6l.6 -20.2v18.8l.5 9.1v-28l.6 2.7v15.6l.5 6.1v-20.8l.6 21.4v-23.6l.6 19.3v-19.3l.6 23.6v-25.2l.5 -.3v22.3l.6 3v-26.2l.6 7.6v-16.3l.6 -.6v26.1l.5 -12.9v26.6l.6 -25.9v19.7l.6 -23.4v20.1l.6 -17.2v25.8l.5 -26.2v22.1l.6 -5.6v-21.8l.5 13.3v14.9l.6 -23.5v19.3l.6 -5.7v-17.6l.5 4.9v-14.9l.6 1.5v-19.2l.5 5.1v-17.5l.6 3.7v-18.8l.5 8.7v-19.8l.6 2.4v-20.4l.6 3.9v17l.6 -3.4v17.3l.6 -2.1v21.9l.5 -13.7v23.4l.6 -4.3v18.2l.6 -9.2v25.6l.6 -14.8v23.8l.5 -15.6v14.5l.6 16.2v-30l.6 -.1v28.3l.5 -26.6v20.4l.6 -22.9v22.8l.6 .3v-22l.5 .6v18.1l.6 -18.7v16.7l.5 -16.2v20.9l.6 -2.8v-15.9l.5 17.7v-19.7l.6 24.2v-26.2l.6 -.3v22.9l.5 -22.8v24.7l.6 -26.4v29.3l.6 -26.4v21.8l.6 -25.6v23.4l.5 -22.1v22.6l.6 -21.4v20.8l.6 -20.3v24.5l.6 -23.5v16.9l.5 -18.5v26.2l.6 -28.5v28.3l.6 -30.5v23.4l.5 -17.5v17.6l.6 -12v12.5l.5 -18.2v27l.6 -7.2v-19.3l.5 22.2v-19.9l.6 -1.7v22.8l.6 -3.2v-19.9l.5 2v23.4l.6 -7.7v-18.5l.6 2.5v27.1l.5 -27.4v30.4l.6 -19.1v-19.8l.6 -3.7v25.6l.6 3v-22.6l.5 26.6v-22.6l.6 27.3v-28.1l.6 -3.7v20.1l.5 3.9v-17.9l.6 22.4v-32.8l.6 27.5v-16.8l.5 -4.5v24l.6 -2.7v-14.9l.5 -4.9v21.1l.6 -22.2v27.3l.5 6.7v-30.3l.6 23.1v-20.3l.6 -5.8v19.2l.5 -16.6v19.4l.6 -20.6v24.8l.6 -20.5v19.8l.6 -21.4v19.4l.5 4.9v-28.1l.6 4.4v20.3l.6 -24v19.9l.5 .5v-27.3l.6 27.4v-19.4l.5 -3.2v23.9l.6 -23.2v29.6l.6 -14v-18.3l.5 5.3v-17.4l.6 1.3v22l.5 -7.1v20l.6 -17.9v22.4l.6 -23.7v26.7l.5 -28.5v19.5l.6 -17v22.8l.6 -3.7v-19.2l.6 24.8v-28.8l.5 19.2v-14.8l.6 -3.9v24.8l.5 -1.3v-18l.6 17.4v-21.4l.6 2v22.6l.5 -3.4v-23.1l.6 27.3v-24.7l.5 33.7v-35l.6 2.3v21.9l.6 8v-26.5l.5 -5.6v27.3l.6 -23.3v14.3l.6 12.5v-27.1l.5 21.7v-21.7l.6 -3.9v24.2l.6 -30.1v29.4l.5 1.8v-25.6l.6 29.4v-26.1l.6 1v26.3l.5 -10.3v-18.3l.6 28.5v-29.7l.5 6.3v15l.6 -21.1v23.3l.6 -5.3v-20.8l.5 6v26.2l.6 -30.3v19.7l.5 5v-27.1l.6 6.1v25.9l.6 -5v-22.6l.5 23.6v-20.8l.6 .8v21.5l.6 12.4v-38.4l.5 .2v30.3l.6 -6.2v-23.8l.6 -2.8v28l.5 7.2v-29.5l.6 26.9v-29l.5 26.5v-29.5l.6 7.3v18.7l.5 -2.9v-23.5l.6 0v19.6l.6 -14.9v26.2l.5 -11.4v-18.8l.6 22.4v-20.9l.6 26.3v-22.3l.5 17.3v-19.9l.6 22.9v-31l.6 9v25.5l.5 -27.8v27.7l.6 -29.3v24.2l.5 .1v-23.3l.6 24v-20.1l.6 29.9v-32.4l.5 -1.7v24.4l.6 -20.5v20.1l.5 -26.1v28.6l.6 -2.9v-23.9l.6 22.5v-17.9l.5 17.6v-21.9l.6 6v23.1l.6 -27.9v26.9l.5 -4.9v-22.9l.6 3.6v20.9l.5 3.4v-26l.6 22v-23.9l.6 25.9v-28.9l.5 3.9v27l.6 -6.5v-19.6l.5 22.2v-22.7l.6 24v-25.4l.5 32.1v-29.4l.6 .3v17.8l.6 -20.8v21.3l.5 10.8v-26.4l.6 18.1v-22.6l.6 20.3v-18.4l.5 10.9v-38.3l.6 16.1v-40.2l.5 -6.2v24.7l.6 -5.5v33.2l.6 -6.7v28.3l.5 -18.4v24.3l.6 0v-24.9l.5 26.4v-24.3l.6 19.9v-21.5l.6 4.8v18.7l.5 1.5v-23l.6 23.6v-29.7l.6 23.9v-22.9l.5 27.9v-24.2l.6 17.9v-18.7l.5 1.8v25.4l.6 .6v-24.7l.5 17.6v-18.1l.6 -6v28l.5 -23.9v22.9l.6 -24.7v23.1l.6 -24.8v30.5l.5 -31.2v33l.6 -5.1v-26.9l.6 37.3v-34.1l.5 2.1v26.9l.6 -7.8v-20.9l.5 3.4v20.8l.6 -23.2v18.6l.5 6.4v-25.2l.6 23.6v-31.1l.6 5.3v25.2l.5 -1.3v-24.8l.6 19.1v-16.9l.6 2v30.1l.5 -22v-20.3l.6 -2.8v17.3l.5 -9.2v27.8l.6 -22v27.5l.6 -31v22.4l.5 -20.7v28.9l.6 -31.3v22.3l.5 -19.7v26.4l.6 -29.1v32.6l.5 -29.6v25.4l.6 -22.1v17.1l.6 2.5v-21.3l.5 24.7v-31.6l.6 31.1v-25.5l.5 3v21.6l.6 -20.9v23.8l.6 -31.3v23.1l.5 -18.8v22.6l.6 -23v22.9l.5 3.5v-29.1l.6 20.5v-18.1l.5 18.9v-18.4l.6 .5v22.7l.6 -27.1v27.6l.5 -20.4v22.4l.6 -28.3v28.2l.5 1.7v-30.6l.6 28.8v-26.4l.6 37.8v-40.4l.5 2v24.8l.6 2.6v-25.6l.5 22.8v-24.1l.6 -5v31.9l.6 -.4v-27.3l.5 28.3v-27.4l.6 24.3v-27.6l.5 25v-25.5l.6 32.5v-31.7l.5 29.8v-30l.6 6.8v27.2l.5 -6.7v-22.9l.6 19.1v-21.6l.6 -1.9v21l.5 -30.5v19.4l.6 -10v28.9l.6 -.1v-26.1l.5 2.4v20.9l.6 -22.6v20.3l.5 -21.1v25.8l.6 -26.4v25.8l.5 -22.7v20.6l.6 1.6v-22.2l.6 -.6v25l.5 -28.8v27.2l.6 -24.3v22.6l.5 .1v-22.4l.6 1.4v21.7l.6 -.4v-22.8l.5 -1.2v20.9l.6 5.9v-25.8l.5 1.5v26.5l.6 -2.3v-28l.5 2.2v21.9l.6 -.1v-27.2l.6 29.8v-26.6l.5 0v25.1l.6 -24.9v25.8l.5 -3.8v-18.9l.6 20.6v-20.8l.5 -1v23.9l.6 -3.9v-19.5l.5 -.6v24.5l.4 -6.6v-12"/>
<path class="c" stroke="#bfbf00" d="M395.9 1065.6l130.2 -14.3l76.2 -10.2l54 5.1l41.9 24.6l34.3 34.6l28.9 40.2l25.1 7.4l22.1 8.3l19.8 -9l17.9 -4.4l16.3 4.4l15.1 20.8l13.9 5.7l12.9 4.3l12.2 16.8l11.4 -3.1l10.7 1.7l10.1 13.4l9.7 13l9.1 -5.6l8.8 .7l8.3 0l8 -4.7l7.7 4l7.4 4l7 -.7l6.9 -3.5l6.6 -2.7l6.3 -2l6.2 8.7l5.9 10.7l5.8 1.4l5.6 -3.4l5.5 7.4l5.3 -10.7l5.1 8l5 2.7l4.9 -.7l4.8 -.6l4.6 7.3l4.5 12.7l4.4 8.1l4.4 -4l4.2 -1.4l4.1 -6.7l4 .7l4 2l3.9 2.7l3.8 2.7l3.7 2l3.6 .6l3.6 2.7l3.5 -8l3.5 5.3l3.4 4.1l3.3 -3.4l3.2 0l3.3 6l3.1 1.4l3.1 13.2l3.1 -19.4l3 -.6l2.9 8.5l2.9 -7.9l2.9 7.8l2.8 -7l2.8 15.2l2.8 -4.5l2.7 10.6l2.6 -8l2.7 -2.4l2.5 -11l2.6 12.3l2.5 -20.3l2.5 -.3l2.5 18.3l2.4 -.3l2.4 -17.7l2.3 -7.4l2.4 13.9l2.3 7.8l2.3 -.6l2.2 -4.1l2.2 -14.9l2.2 11.5l2.2 -5.9l2.1 12.9l2.2 -19.1l2.1 11.6l2 7.2l2.1 -14l2 12.3l2 -1.1l2 -7.8l2 -6.6l1.9 2l2 4.4l1.9 2.9l1.8 -3.8l1.9 5.7l1.9 -9.8l1.8 5.9l1.8 -9.5l1.8 14l1.8 -7.4l1.8 5.5l1.7 -6.9l1.7 1l1.7 1.8l1.7 4.6l1.7 -6.4l1.7 8l1.7 -7.4l1.6 -4.1l1.6 5l1.6 -2.5l1.6 8.7l1.6 -6.9l1.6 -4.1l1.5 1.2l1.6 -8.4l1.5 13.6l1.5 -7.3l1.6 -3.5l1.5 19.1l1.4 -22.4l1.5 13.8l1.5 -4.1l1.4 1.1l1.5 1.9l1.4 .2l1.4 -8.6l1.4 .2l1.4 8l1.4 -6.2l1.4 2.4l1.3 -2.8l1.4 6.2l1.3 3l1.4 -10.4l1.3 3.9l1.3 3.7l1.3 -3.7l1.3 19.9l1.3 -17.6l1.3 -8.8l1.3 -5.3l1.2 12.1l1.3 1.2l1.2 -2.7l1.3 -4.3l1.2 4l1.2 6.6l1.3 -5.9l1.2 -1l1.2 1.3l1.2 18l1.1 -19.5l1.2 11.7l1.2 -4.2l1.2 -9.2l1.1 15.4l1.2 -6.5l1.1 -6.2l1.1 4.5l1.2 -4.7l1.1 14.7l1.1 -3.6l1.1 -4.5l1.1 -8.2l1.1 5.4l1.1 .7l1.1 -5.7l1.1 15.7l1 -9.1l1.1 -3.7l1 10.1l1.1 -14l1 6.2l1.1 -13l1 4.1l1 -6.7l1.1 7.6l1 8.9l1 -5.5l1 -4.4l1 8.9l1 -5.7l1 2.6l1 12l1 -11.2l.9 -4.5l1 5l1 1l.9 -1.4l1 -7.9l.9 -.9l1 1.7l.9 10l1 6.8l.9 -10.7l.9 .1l.9 2.8l1 -3.2l.9 -4.6l.9 -9l.9 12.2l.9 1.3l.9 1.3l.9 -3.4l.9 1.5l.9 0l.8 -.7l.9 4l.9 -3.9l.9 .2l.8 1.1l.9 -6.6l.8 1.6l.9 10.9l.8 -6.1l.9 -5.2l.8 6.8l.9 3.6l.8 4.6l.8 -10.7l.8 -5.3l.9 5.6l.8 -1.9l.8 -.4l.8 -.2l.8 -2.4l.8 3.2l.8 12.1l.8 -9.5l.8 -.9l.8 -3l.8 -3.6l.8 10.5l.8 0l.7 -4.3l.8 -2.1l.8 3.5l.7 -2.5l.8 -.3l.8 10.2l.7 -17.4l.8 5.4l.7 .6l.8 4.1l.7 -8.1l.8 6.5l.7 -4.7l.8 21.8l.7 -9.5l.7 -1.6l.8 5l.7 -9.3l.7 .9l.7 3.3l.7 -6.2l.8 -1.5l.7 4.6l.7 -5.3l.7 10l.7 -4.3l.7 -6.2l.7 5.8l.7 -10.2l.7 -1.7l.7 1.5l.7 4l.7 3.5l.6 0l.7 7.5l.7 6.7l.7 -18.1l.7 5.5l.6 -7.3l.7 .4l.7 4l.6 -5.7l.7 1.5l.6 8.9l.7 -5l.7 7.1l.6 -7.8l.7 2.8l.6 -4.5l.7 9.8l.6 -4.6l.6 9.2l.7 -11.7l.6 -11.8l.7 12.5l.6 .5l.6 -6.1l.7 10.5l.6 -7.3l.6 -12l.6 18l.7 -13.4l.6 9.2l.6 -14.1l.6 3.7l.6 6.2l.6 -.4l.6 -6l.6 -8.6l.6 11.9l.6 2l.6 -2.6l.6 1.3l.6 -1.5l.6 5.4l.6 3.9l.6 -7.5l.6 5.8l.6 -13.6l.6 -1.2l.6 -12.6l.6 -18.6l.5 -18.6l.6 18.6l.6 18.5l.6 11.6l.5 4.6l.6 19l.6 -16.9l.6 .1l.5 -9.9l.6 10.3l.5 -5l.6 1.3l.6 1.2l.5 5.3l.6 -1.9l.5 1.9l.6 -4.1l.5 2.5l.6 5.1l.5 -6.2l.6 -11.5l.5 16.9l.6 3.8l.5 -19.7l.6 9.7l.5 2.6l.5 -2.5l.6 3.3l.5 -3.1l.5 -7l.6 5l.5 11.1l.5 -10.5l.6 -1.5l.5 -4l.5 3.6l.5 6.9l.5 5.8l.6 -2.4l.5 -10.7l.5 -2.7l.5 15.4l.5 -9.6l.5 -5.9l.6 10.4l.5 2.7l.5 -11.2l.5 4.9l.5 12.3l.5 -18.1l.5 9.3l.5 -14.3l.5 12.6l.5 .9l.5 -3.9l.5 -12.1l.5 7.3l.5 15.9l.5 -11.7l.5 -5.9l.4 21.5l.5 -8.3l.5 -11.7l.5 4l.5 -.8l.5 10.6l.5 -9.6l.4 -3.4l.5 16.4l.5 -4.3l.5 -15.9l.4 5.2l.5 -4.6l.5 4.3l.5 .7l.4 6.1l.5 23.4l.5 -18.7l.4 5.9l.5 -9.9l.5 -21.9l.4 -15.8l.5 -15.8l.5 15.8l.4 15.8l.5 28.9l.4 -10.6l.5 -8.5l.5 11.2l.4 2.3l.5 9.6l.4 -23.2l.5 3.7l.4 .3l.5 1.7l.4 1.7l.5 -8.2l.4 17.6l.5 -8.1l.4 -3.8l.5 -1.9l.4 -5.8l.4 -.9l.5 5.5l.4 2l.5 -.8l.4 -5.5l.4 3.7l.5 8.2l.4 -5.2l.4 .3l.5 6l.4 .2l.4 -1.9l.5 -5.7l.4 -.9l.4 5.2l.4 -3.4l.5 9.4l.4 -1.1l.4 -5.4l.4 4.2l.5 -11.9l.4 12.8l.4 4.1l.4 -.5l.4 -8.6l.5 -8.2l.4 7.3l.4 3l.4 -6.9l.4 2.6l.4 3.6l.4 13.2l.4 -11.8l.5 -4l.4 -.8l.4 -4.2l.4 11.6l.4 -3.8l.4 9.2l.4 -11.5l.4 2l.4 -10.3l.4 12.9l.4 -10.2l.4 6.3l.4 -2.9l.4 2.8l.4 -7l.4 4.6l.4 3.2l.4 -6.3l.4 1l.4 -5.9l.4 18.9l.4 -12.2l.3 4.9l.4 -11.2l.4 3.5l.4 9.9l.4 -9.8l.4 1l.4 3.7l.4 8l.3 -6.8l.4 -6.8l.4 11.4l.4 -9.8l.4 6.1l.4 9.8l.3 -19.6l.4 6.9l.4 -5.2l.4 4.7l.3 7.3l.4 -3l.4 -6.7l.4 10.4l.3 -7.6l.4 3.7l.4 -9.6l.4 -.5l.3 8l.4 -3.4l.4 2.2l.3 -6.6l.4 12.8l.4 -14.4l.3 3.8l.4 5.5l.4 -8.4l.3 4.3l.4 17.2l.4 -2.9l.3 -19l.4 -2.7l.3 12l.4 -2.7l.4 11.6l.3 -13.6l.4 7.3l.3 -.3l.4 -4.5l.4 4.8l.3 .6l.4 -2.9l.3 -11.4l.4 -2.2l.3 7.3l.4 1l.3 5.7l.4 3.2l.3 -1.5l.4 -7.8l.3 1.5l.4 5.8l.3 -14l.4 7.5l.3 5.9l.4 -14.1l.3 6.6l.4 .4l.3 10.2l.3 3l.4 -10.3l.3 .8l.4 -2.2l.3 -2.5l.3 -.7l.4 -6.4l.3 11.1l.4 -1.9l.3 -.3l.3 4.1l.4 -4.2l.3 4.3l.3 -10.4l.4 4.6l.3 3.9l.3 7.6l.4 -14.3l.3 -5.1l.3 3.2l.4 15.2l.3 -5.3l.3 .9l.4 -9.3l.3 -7.8l.3 5.8l.3 -.5l.4 5.1l.3 13l.3 -5.5l.3 12.3l.4 -21.4l.3 6.4l.3 -1.5l.3 -15.3l.4 -14.5l.3 -14.4l.3 14.4l.3 14.4l.3 13.8l.4 3.3l.3 -.3l.3 -5.1l.3 4.1l.3 -4.1l.4 4.7l.3 -6l.3 5.8l.3 1.3l.3 9l.3 5.8l.4 -23.8l.3 8.6l.3 -3.2l.3 7.2l.3 .2l.3 6.6l.3 -19.2l.3 5.5l.3 -1.2l.4 2.7l.3 1.8l.3 -5.7l.3 -2.3l.3 .4l.3 -.6l.3 6l.3 -1.2l.3 4.6l.3 1.6l.3 -8.7l.3 -10.6l.3 12.3l.3 -7.7l.3 13.6l.3 .6l.3 -8.8l.3 -3.1l.3 9.3l.3 1.1l.3 -9.8l.3 2.3l.3 -1.1l.3 28.6l.3 -31l.3 .2l.3 18l.3 -12.9l.3 1.4l.3 1.8l.3 4.7l.3 -1.8l.3 -20l.3 9.8l.3 12.9l.3 -18.2l.3 9.5l.2 10.3l.3 -3l.3 1.2l.3 -5l.3 5.2l.3 -6.3l.3 4.2l.3 -16.9l.3 5.6l.2 -2.4l.3 3.8l.3 10.2l.3 -4.3l.3 -5.7l.3 11.3l.3 -14.4l.2 9.2l.3 12.2l.3 -11.7l.3 -6.6l.3 8l.3 -11.8l.2 1.5l.3 -1.3l.3 13.6l.3 -14.4l.3 7.6l.2 -5.7l.3 17.6l.3 -1.9l.3 -2.9l.3 -8.2l.2 .8l.3 4.9l.3 -13.2l.3 32.5l.2 -27.2l.3 1.8l.6 5.8v-14.7l.8 8.7v3.8l.8 -5.8v3.1l.8 6.9v-6.3l.8 .4v3.2l.8 -10.6v20.7l.9 -17.2v8.5l.8 -14.8v13.8l.7 -3.1v4.8l.8 4.5v-6.2l.8 4.9v-11.6l.8 10v-16.3l.8 11.6v5.6l.8 2.1v-36.1l.8 19v14.9l.7 -19.4v-11.6l.8 -5.9v-5.8l.8 11.7v11.6l.7 2.8v8.5l.8 12.5v-3.1l.8 -4.2v-12.9l.7 .6v8.8l.8 -3.8v15.4l.7 -10.1v-40.1l.8 -18.7v37.3l.7 17.2v-17.5l.8 17.4v7.8l.7 -33.8v28.5l.7 7.6v-3.5l.8 -6v7.9l.7 -23.5v20.9l.7 -27.9v19l.7 7.4v-5.6l.8 10.8v-35.1l.7 -8.2v-17.7l.7 35.3v23.3l.7 -29v20.8l.7 3v-11.2l.7 7v20.5l.7 -34.5v13.6l.7 -3.1v9.4l.7 12.8v-18.2l.7 3.2v5.4l.7 -8.7v10.6l.7 -26.8v18.2l.7 -8.1v10.5l.7 -2.1v-16.9l.7 -18v-18l.7 36v23.8l.6 -16.5v17.3l.7 -4v-12.3l.7 12.1v9.3l.7 -20.5v13.7l.6 -5.4v-8.9l.7 7.5v3.3l.7 -11.7v28l.6 -23.1v7.2l.7 -25.6v16.9l.6 -5.3v9.2l.7 -9.4v19.4l.6 -12.7v11.7l.7 -23.5v23.7l.6 4.4v-5.5l.7 -5.5v-5.1l.6 -3.4v-10.3l.7 -9.7v-9.6l.6 19.3v27.9l.7 -7.4v-26.1l.6 28.8v-8.2l.6 10v-15.7l.7 8.6v4.4l.6 -15.5v17.9l.6 -17.2v12.1l.6 -2.1v12.6l.7 -11v-21.6l.6 -.2v28.2l.6 .6v-12.1l.6 3v-3.6l.6 .6v8l.6 -.8v-14.6l.7 16.7v-8.5l.6 -1.6v-9l.6 -7.5v-7.5l.6 15v12.3l.6 3.2v-14.1l.6 10.5v-2.4l.6 3.3v-8.9l.6 16v-6.5l.6 4.4v-4.8l.6 -10.4v18.2l.6 -12.2v4.1l.5 -13.9v22.7l.6 -15.1v8.4l.6 -7.3v15.9l.6 -12v8.6l.6 -3.4v8.1l.6 -10v-10.9l.5 19v-12.8l.6 13.1v-23l.6 11.2v-17.4l.6 21.1v-15.1l.5 22.2v-8.9l.6 -7.4v8.3l.6 -10.2v-24.9l.6 -18v-18l.5 36v35.8l.6 -5.5v7.9l.5 1.3v-34.1l.6 26.9v10.2l.6 -8.6v-3.9l.5 -9.1v24.4l.6 6.9v-48.7l.5 -32.4v-32.5l.6 64.9v34.1l.6 -7.8v-26.1l.7 28.3v-25.3l.8 .1v40.4l.7 .3v-51.3l.7 44.5v-6.8l.7 -3.5v9.4l.8 -4v-25.9l.7 28.6v-18.5l.7 13.6v6.8l.7 2.2v-35l.7 -11.7v44.5l.7 -12.2v21.8l.7 -12.3v-11.5l.7 4.8v5.8l.7 -1.8v-37l.7 -38v38l.7 19v32.7l.7 -39.3v36.9l.6 -27.9v13.2l.7 6v-19.4l.7 10.3v24.9l.7 -24.2v13.1l.7 -8.6v-12.7l.6 16.9v-34.8l.7 38.1v-8.4l.7 -17.8v-60l.6 20v40l.7 12.6v15.5l.7 -9.5v-3l.6 4.1v-39l.7 37.1v6l.6 -14.8v-33l.7 11v22l.6 11.1v-4.8l.7 3.9v-9.7l.6 15.7v-7.2l.7 1.2v-7.7l.6 -19.2v39l.6 -13.1v6.2l.7 5.8v-11.7l.6 -12v21.7l.7 -17.1v18.6l.6 -15.5v15.8l.6 -10.1v-5.1l.6 4.3v12.2l.7 -4.4v-14l.6 14.1v-12.7l.6 9.5v-7.2l.6 14.2v-11.2l.6 -1.6v6.2l.6 -4.5v7.7l.7 2.6v-8.5l.6 1.8v5.9l.6 -4.7v13.5l.6 2.4v-19.9l.6 14v-14.9l.6 4.4v14.8l.6 -2.2v-5.3l.6 -20.6v-58.7l.6 19.8v63l.6 -14.3v18.4l.6 -14.1v17.1l.6 -4.2v-7.7l.5 -4.3v13.9l.6 -9.5v8.6l.6 -2.5v3l.6 -9.5v13.3l.6 -11.9v5.2l.6 4.8v-7.1l.5 9.9v-18.1l.6 8.4v4l.6 10v-15.7l.6 10v-7.7l.5 10.8v-16.2l.6 13.1v-11.1l.6 25.5v-22.5l.5 12v-11.9l.6 10.5v-14.2l.6 1.7v13.7l.5 -7.1v-12.8l.6 13.5v-4.5l.5 9.1v-20.2l.6 25.7v-21.8l.5 .9v9.5l.6 1.2v-15.2l.6 4.2v13l.7 -12.4v12.2l.7 9.7v-22.2l.7 16v-55.4l.6 15.2v31.8l.7 6.6v-17.8l.7 3.4v7.8l.7 3.4v-13.9l.6 16.1v-18.3l.7 18v-10.5l.7 6.4v-10.8l.6 10.8v-6.1l.7 15v-16.7l.6 19.3v-14.4l.7 6.1v-4.3l.6 1.1v-17.9l.7 -30.3v43.1l.6 -4.2v20l.7 -11.7v-5.4l.6 9.4v-4.9l.7 3v-15l.6 14.7v-6.6l.7 -8.7v28.3l.6 -22.6v18.1l.6 -18.2v13.8l.7 -12.3v13.7l.6 -5.8v-11.5l.6 21.9v-17.1l.6 -4v22.9l.7 -24.8v15.9l.6 -16.8v12l.6 9.7v-18.5l.6 14.2v-14.9l.6 13.6v-10.4l.6 -1.1v10.1l.6 1.3v-8.1l.6 -.3v6.8l.7 -9.5v13.8l.6 -18.3v19.2l.6 -11.2v8.3l.6 -25.7v21.8l.6 -8v12.9l.6 -10v12.1l.6 -18.3v13.6l.5 -7.6v15l.6 -20v21l.6 -6.5v-12.6l.6 6.9v8.2l.6 5.9v-18l.6 -6.2v9l.6 1.3v-35l.5 -11.3v44.1l.6 -2.5v6l.6 14v-26.8l.6 1.1v16.9l.5 -5v-13.1l.6 15.1v-7l.6 3.2v-14.3l.6 8.8v8.8l.5 -12.5v16.5l.6 7.3v-26.3l.5 9.9v11l.6 -17.6v16l.6 -19.2v25.6l.5 -17.9v14.4l.6 3.7v-21.8l.5 2.7v10.4l.6 -13.1v15.3l.6 -14.4v9.5l.6 9.3v-18.5l.7 12.6v-16.2l.7 5.7v10.9l.6 -13v12.5l.7 -5.4v8.3l.6 -5.9v-14.5l.7 24.1v-17.1l.6 1.4v15.1l.6 -20.7v16.8l.7 -18.5v23.5l.6 -20.1v12.5l.6 1.4v-17.5l.7 24.6v-17.3l.6 16.4v-74.2l.6 15.1v44.7l.7 -4.5v14.9l.6 -7.1v-14.7l.6 20.3v-18.3l.6 23.7v-21.8l.6 -1.8v16.8l.7 -6.8v6.8l.6 4.1v-18.1l.6 16.4v-16.1l.6 13.7v-42.3l.6 8.8v33.6l.6 -17.9v16.3l.6 -16.3v14.1l.6 -6.1v14.6l.6 -25v17.9l.6 2.5v-9.3l.6 -5.7v20.4l.6 -16.4v10.2l.6 2.2v-17.9l.6 -3.1v19.7l.6 -5.6v12.9l.6 -20.6v18.9l.5 4.7v-21.5l.6 10.5v-15.7l.6 20.7v-16.3l.6 18.1v-18.1l.6 -.3v9.8l.5 -5.7v8.4l.6 -13.9v13.9l.6 -.3v-19.7l.6 20.7v-15.9l.5 21.8v-21.7l.6 8.6v10.8l.6 -19.2v19.2l.5 -18.2v17.5l.6 -1.9v-12.5l.5 -7v16.1l.6 -18.3v22.6l.6 -4.4v-6.8l.5 11.2v-15.9l.6 -2.3v17.8l.5 -13.4v10.4l.6 4v-12.6l.7 -7.1v13.1l.6 20v-26.3l.6 -5.1v11.6l.7 -13.5v24.3l.6 -31.7v30l.6 -27.5v13.6l.7 6.4v-11.7l.6 -1.2v17.1l.6 -22.9v18.7l.6 6.2v-22.7l.6 19.6v-16.4l.7 2.9v14.9l.6 -20.2v19.9l.6 -.4v-16.2l.6 1.2v22.7l.6 -20.8v11.8l.6 3.9v-27.8l.6 22.3v-11.5l.6 12v-11.8l.6 -2.8v8.2l.6 7.6v-14l.6 -1.1v18.2l.6 .3v-19.6l.6 20.7v-17.1l.6 21.2v-22.8l.6 2.4v16.2l.6 -20.4v13.1l.6 -11.3v12.9l.6 -19.7v22.3l.5 -6.5v-8.3l.6 17.4v-22.6l.6 19.2v-14l.6 12.7v-9.1l.6 9.3v-10.8l.5 10.1v-16l.6 6.8v15l.6 -16.3v12.6l.5 -13.2v20.5l.6 -11.6v-13.9l.6 1v18.8l.5 -20v27.2l.6 -2v-24.2l.6 12.1v-8.7l.5 10.5v-12l.6 8.8v-9.5l.5 16v-15.2l.6 -4.2v20l.5 -.8v-16.2l.6 19.7v-21.2l.6 17.2v-11.2l.7 12.7v-16.5l.6 23.8v-27.8l.6 21.1v-15.3l.6 14.4v-18.1l.6 -.6v23.7l.7 -18.6v13.5l.6 -23.6v34.1l.6 -22.3v10.1l.6 .6v-11.7l.6 8.4v-11.2l.6 13.5v-14.5l.6 24.3v-25.7l.6 2.3v9l.6 -8.9v17.5l.6 -16.1v11.5l.6 -.8v-17l.6 6.4v13.9l.6 1.9v-19.4l.6 -3.9v26.7l.6 -2.2v-17.2l.5 -3.3v24.4l.6 -26.4v26.8l.6 -9.6v-15.5l.6 19.2v-17.9l.6 -.2v14.9l.5 -15.2v20.1l.6 -16v14l.6 -1.1v-12.7l.6 0v13.3l.5 -16.8v19.4l.6 -8.7v-13.1l.6 16.1v-13.7l.5 -2.9v13.9l.6 -.6v-11.8l.6 10.8v-9.8l.5 14.3v-11l.6 19.1v-20.7l.5 15.4v-18.3l.6 1.2v13.9l.5 -12.1v20.3l.6 -23.9v22.6l.6 6.4v-31.9l.6 6.9v14.8l.6 4.4v-22.6l.6 10.8v-12.6l.6 2.8v13l.6 8.2v-21.9l.6 16.8v-16.6l.6 20.3v-23.1l.6 3.5v17.9l.6 -2.6v-17.6l.6 18.3v-16.8l.6 5.1v13.2l.6 -13.5v14.7l.6 1.6v-23.5l.6 17.5v-11.7l.6 -.8v10.6l.6 -10.7v18.9l.6 -5.3v-16.2l.6 -1v18.2l.6 -18.1v23.1l.5 -18.5v15.9l.6 -4.9v-15.1l.6 -1v25.3l.6 -21.6v26.6l.5 -8v-21.6l.6 17.3v-17.7l.6 13.1v-7.5l.5 14.1v-20.6l.6 2.5v22.2l.6 -19.4v15.1l.5 .1v-13l.6 16.6v-21.7l.6 18.2v-20.8l.5 17.5v-17.1l.6 .8v20.9l.5 -5.1v-12.9l.6 2.2v11.7l.5 -6.1v-11l.6 24.7v-28.1l.6 7.2v13.9l.6 -15.7v18.7l.6 -19.9v23.8l.6 -6.4v-17.1l.6 30.6v-26.8l.6 11.6v-15.2l.6 19.5v-18.1l.6 14.8v-13.2l.6 3.9v20.2l.6 -11.1v-15.8l.6 5.1v16.7l.6 -1.1v-26.5l.6 27.6v-22.3l.6 19.1v-19.8l.5 20.7v-13.8l.6 15.3v-17.5l.6 -4.9v25.2l.6 -6.3v-12.7l.6 10.3v-15.9l.5 18.2v-19.9l.6 22.3v-17.3l.6 16.5v-14.7l.5 1.4v15.5l.6 -4.6v-18.9l.6 1.1v24.4l.5 -23.2v18.4l.6 -17.1v20.5l.5 -2.6v-11.7l.6 16.9v-28.9l.6 20.7v-14.9l.5 2.1v13.2l.6 -14v17.3l.5 .9v-18.8l.6 13.8v-14l.6 .6v22.1l.6 -7.5v-18l.6 2.3v20.5l.6 -19.3v24.5l.6 -6.4v-22.8l.6 2.6v12.4l.6 7.3v-21.3l.6 15.9v-14.2l.6 -.6v16l.5 -15.9v11.8l.6 12v-23.7l.6 21.2v-19.7l.6 17.2v-15.8l.6 -.4v23.7l.5 -7.5v-16.4l.6 9.3v-66.1l.6 70v-12.8l.6 19v-25.5l.5 5.4v18.8l.6 -1.3v-14l.6 12.5v-17.1l.5 .8v17.1l.6 -14.1v22.9l.6 -25.6v11.7l.5 -14.6v15.9l.6 4.2v-18.3l.5 17.4v-16.1l.6 -5.2v23.1l.5 -3.5v-14l.6 -1.2v15.2l.6 -22.2v24.3l.6 -14.8v13.8l.6 -22.2v22.2l.6 -15.7v19.1l.6 -18v19.3l.5 -3.5v-19l.6 -.1v17.2l.6 -16.1v20.4l.6 -4.6v-11.4l.6 -1.4v27.5l.6 -30v23.1l.5 -4.8v-23.7l.6 29.2v-23.8l.6 1.1v23.9l.6 -7.6v-13.2l.5 14.8v-21.4l.6 22.3v-21.4l.6 18.5v-15.7l.6 -5.1v19.5l.5 6.8v-26.2l.6 3.2v16.1l.5 -16.1v30.2l.6 -14.5v-15.2l.6 -4.2v28.2l.5 -24.1v18.8l.6 -16.8v23.8l.5 -26.7v16.2l.6 -10v12.9l.6 4.8v-22.4l.6 18v-18.8l.5 1v15.5l.6 -16.9v23.9l.6 .7v-21.3l.6 18.5v-22.1l.6 -1.7v22.6l.6 -20.8v20.3l.6 -.8v-16.2l.5 13.3v-14.2l.6 -3.2v21.2l.6 -1.6v-19.1l.6 17.5v-13.7l.5 15.3v-20.8l.6 3.1v22.2l.6 -23.7v21.5l.6 -22.4v17.9l.5 -16.5v17.4l.6 -2.4v-15.5l.5 2.5v20.9l.6 -6v-14.5l.6 -2.6v20.7l.5 -1.6v-20.6l.6 21.8v-19.5l.5 .2v22.5l.6 -20.6v12.2l.5 12.6v-27.9l.6 19.6v-19.9l.6 -4.5v20.4l.6 -14.8v31.8l.6 -32.4v17l.6 1.6v-19.3l.5 23.8v-19.7l.6 -3.8v21.1l.6 -.2v-21.7l.6 2.1v14.8l.6 -22.3v28.4l.5 -19v22.6l.6 -26.8v14.4l.6 7.6v-17.9l.5 -1.9v18.1l.6 -17v17.7l.6 -6.3v-9.7l.5 7.8v-14.5l.6 15.7v-16.5l.6 2.2v23.6l.5 -21.4v19.1l.6 -.2v-17.5l.5 -3.8v27.1l.6 -24.4v20.8l.5 -2.1v-21.3l.6 20.9v-21.6l.6 27.4v-24.6l.6 19.2v-16.1l.6 24.4v-24.2l.5 -5v21.6l.6 -8.3v-13.1l.6 6.8v18.9l.6 1.6v-28.2l.5 25.4v-23l.6 3.6v26.1l.6 -30v23.9l.6 -5.1v-21l.5 20.5v-16.4l.6 -2.8v17.1l.6 -20.5v25.4l.5 -6.9v-10.8l.6 -1.1v14.5l.5 -18.6v15.3l.6 -13.1v20.7l.6 -18.9v19.5l.5 -25.3v23.9l.6 -2.2v-18.1l.5 -3.9v25.2l.6 2.3v-23l.6 1.1v13.1l.6 -14.4v32l.5 -8.2v-22.3l.6 .2v13.8l.6 -12v13.5l.6 -16.3v14.9l.5 3.5v-18.5l.6 14.5v-15.1l.6 19.5v-19.1l.6 -4v18l.5 -19v24.4l.6 -17.4v20.7l.5 -2.6v-22.3l.6 .9v24.6l.6 -21.3v20.4l.5 -1.9v-21.9l.6 .1v20.7l.5 -2.4v-12.6l.6 -5.2v20.7l.5 -20.1v16.8l.6 -20.9v18.5l.6 -17v23.7l.6 -4.6v-17.9l.6 1.1v23.7l.5 -18v17l.6 -19v16.5l.6 -21.6v29l.6 -26.3v15.9l.5 1.1v-21.8l.6 31.7v-23.3l.6 16.4v-20.6l.5 -1.6v22l.6 .7v-21.8l.6 -1.6v22.4l.5 9.2v-26.3l.6 -3.5v22.4l.5 -22.3v23.1l.6 -20.3v16.7l.5 -24.1v29.1l.6 -24.4v18.4l.6 -17v18.4l.5 .1v-17.2l.6 38.4v-43.6l.6 .7v22l.6 -24.9v28.4l.5 -22.6v24.8l.6 -27.4v15.3l.6 -23.9v29.9l.6 -21.4v26.1l.5 -3.5v-22.6l.6 28.1v-28.2l.6 2.9v16.4l.5 -19.4v26.1l.6 -22.3v16.3l.5 -1.4v-15.5l.6 -6.6v24.1l.5 7.3v-22.8l.6 -3.2v23l.6 .2v-26.9l.5 1.3v27.1l.6 -4.6v-16.5l.6 18v-20.1l.5 19.1v-24.4l.6 4.7v17l.6 3.4v-19.4l.6 17.8v-18.6l.5 .1v23.2l.6 -.1v-23.3l.6 -1.2v17.1l.5 -18.6v19.3l.6 3.8v-26l.6 28.2v-24.3l.5 1.3v23.8l.6 -2.7v-17.3l.5 13.6v-18.9l.6 -.5v25.1l.5 -2.8v-26.2l.6 27.6v-20.8l.6 18.9v-17.9l.5 16v-17.3l.6 -.1v21.8l.6 -24.4v19.1l.6 2.4v-23.5l.5 28.4v-21.2l.6 -4.6v19.8l.6 4.6v-22.6l.5 13v-15.5l.6 1.4v21.8l.5 -22.2v26.9l.6 -5.6v-21.9l.6 2v23.8l.5 -22.9v18.5l.6 -19.4v22.8l.5 -19.3v21.4l.6 -1.1v-27.8l.6 24.3v-25.7l.5 26.7v-27.7l.6 -.4v26.8l.6 3.3v-30.8l.6 5.8v38.3l.5 -36.3v17.3l.6 -20v24.9l.5 1.2v-36.6l.6 8.6v20.8l.6 1.8v-19.6l.5 20.8v-19.2l.6 22.7v-24.8l.5 -2.7v25.1l.6 -24.8v24.5l.6 -20.8v23.7l.5 5.3v-29.8l.6 19.5v-21l.6 -1.3v26.7l.5 -6v-17.6l.6 2.6v20.7l.6 -21.9v17.1l.5 2.2v-22.8l.6 1.9v22.5l.6 -7.3v-17.9l.5 21v-19.8l.6 -1.6v23.9l.5 3.9v-30.7l.6 29.2v-23l.6 -.3v25.9l.5 -5.2v-27l.6 10v20.4l.5 -7.2v-16.6l.6 19.8v-23.3l.6 -2v30l.5 5.2v-31l.6 1.3v17.3l.6 5.4v-23l.5 -3.3v23.3l.6 -24.1v27.9l.6 -22.7v34l.5 -11.8v-24.3l.6 2v23.3l.5 -29.3v27.5l.6 1.6v-24l.5 -4.2v23.8l.6 -22.2v23.7l.6 -23.5v26.6l.5 -2.2v-24.2l.6 23.3v-22.4l.6 22v-21.4l.5 21.3v-22.9l.6 23.2v-25.5l.6 1v20.1l.5 -13.6v29.4l.6 -32.8v23.6l.5 -3v-22l.6 -.4v18.6l.6 -16.8v23.9l.5 .5v-24.8l.6 21.4v-21.3l.5 -.4v28.1l.6 -29v24.7l.6 0v-22.6l.5 0v19.6l.6 -19.4v24l.6 5.5v-27.8l.5 21.5v-22.8l.6 22.4v-26.2l.5 -.1v25.1l.6 -.6v-21l.6 22.7v-23.2l.5 3.8v20.6l.6 -1.1v-25.2l.5 2.7v20.3l.6 -21.6v20.2l.5 -21v26.3l.6 -4.8v-24.6l.6 22.9v-22.9l.5 3.6v19.9l.6 5.9v-26l.6 25.3v-28.7l.5 29.1v-31.5l.6 11.9v-23.1l.5 -6.4v20.7l.6 -2.8v15.5l.6 -9.6v23.9l.5 -25.9v26.8l.6 -5.1v-21.2l.5 3v23.8l.6 -1.7v-27.2l.6 26.9v-19.6l.5 17.9v-23.8l.6 .6v25.5l.6 2.6v-24.1l.5 -3.2v19.8l.6 -20v23.4l.5 -23.5v23.4l.6 -24.5v29.6l.5 -1.9v-27.1l.6 -1.1v30.7l.5 -29.4v23.2l.6 -24.9v31.3l.6 -1.5v-28.8l.5 3.8v24.2l.6 -23.5v14.7l.6 9.7v-26.9l.5 29.1v-25.4l.6 24.9v-30.2l.5 1.4v22.8l.6 -25.8v26.9l.5 7.2v-33.7l.6 23.3v-21.9l.6 -.8v23l.5 3.1v-25.1l.6 1.5v25.8l.6 -23.9v23.3l.5 -25v25.3l.6 -26.9v26.8l.5 -25v23.7l.6 -26.2v27.5l.6 -29.2v27.8l.5 -.1v-22.2l.6 -6.8v30.2l.5 -7.2v-19.2l.6 21.6v-19.2l.5 -2.3v22.7l.6 -23.6v35l.6 -4.5v-30.7l.5 27.2v-26.2l.6 2.1v26.1l.5 -3.2v-29l.6 4v29.7l.6 -3.9v-26.2l.5 -1.4v26.6l.6 7.4v-32.4l.5 26.1v-22.7l.6 22.4v-24.8l.5 1.4v18.3l.6 7.1v-30.2l.6 27v-20.9l.5 17v-18.9l.6 19v-18.1l.5 24.6v-25l.6 -1v21l.6 -21.3v26.5l.5 1.8v-27.8l.6 -1.4v26.4l.5 -3.6v-22.4l.6 -1.1v24l.6 -1.7v-19.6l.5 26.4v-32.1l.6 35.3v-30.1l.5 29.5v-29.7l.6 -.2v22.5l.5 -25.4v25l.6 -23.7v23.5l.5 -20.5v24.7l.6 -2.2v-25.3l.6 2v20.3l.5 6.6v-28.6l.6 3.4v22.8l.6 -28.4v25.3l.5 3.2v-29.9l.6 2.1v27.2l.5 -22.9v25.4l.6 -26.3v19.1l.5 -20.2v20.2l.6 -21.9v30.5l.6 -33.6v31l.5 -28.3v29.8l.6 -29.5v29.3l.5 -25.9v23.2l.6 -.6v-25.1l.6 .8v20.9l.5 -24.9v26.4l.6 2.5v-25.5l.5 1.3v23.6l.6 -23.6v26.9l.5 -27.4v24.9l.6 -26.8v41.3l.6 -15.1v-25.6l.5 1.9v32.4l.6 -13.6v-21.2l.5 5.9v19.8l.6 -2.9v-22.4l.5 27.2v-27.4l.6 21.3v-20.7l.5 2.3v25.5l.4 -4.8v-18.6"/>
<path class="c" stroke="#000" d="M300 1105.4l432.5 81.4l365.4 46.3l931.9 0"/>
</g>
<path class="t" d="M430.5 1440v-2.78 M430.5 858.18v2.78M506.5 1440v-2.78 M506.5 858.18v2.78M560.5 1440v-2.78 M560.5 858.18v2.78M602.5 1440v-2.78 M602.5 858.18v2.78M637.5 1440v-2.78 M637.5 858.18v2.78M665.5 1440v-2.78 M665.5 858.18v2.78M691.5 1440v-2.78 M691.5 858.18v2.78M713.5 1440v-2.78 M713.5 858.18v2.78M732.5 1440v-5.56 M732.5 858.18v5.56M863.5 1440v-2.78 M863.5 858.18v2.78M939.5 1440v-2.78 M939.5 858.18v2.78M993.5 1440v-2.78 M993.5 858.18v2.78M1035.5 1440v-2.78 M1035.5 858.18v2.78M1069.5 1440v-2.78 M1069.5 858.18v2.78M1098.5 1440v-2.78 M1098.5 858.18v2.78M1123.5 1440v-2.78 M1123.5 858.18v2.78M1145.5 1440v-2.78 M1145.5 858.18v2.78M1165.5 1440v-5.56 M1165.5 858.18v5.56M1295.5 1440v-2.78 M1295.5 858.18v2.78M1371.5 1440v-2.78 M1371.5 858.18v2.78M1425.5 1440v-2.78 M1425.5 858.18v2.78M1467.5 1440v-2.78 M1467.5 858.18v2.78M1501.5 1440v-2.78 M1501.5 858.18v2.78M1530.5 1440v-2.78 M1530.5 858.18v2.78M1555.5 1440v-2.78 M1555.5 858.18v2.78M1578.5 1440v-2.78 M1578.5 858.18v2.78M1597.5 1440v-5.56 M1597.5 858.18v5.56M1728.5 1440v-2.78 M1728.5 858.18v2.78M1804.5 1440v-2.78 M1804.5 858.18v2.78M1858.5 1440v-2.78 M1858.5 858.18v2.78M1900.5 1440v-2.78 M1900.5 858.18v2.78M1934.5 1440v-2.78 M1934.5 858.18v2.78M1963.5 1440v-2.78 M1963.5 858.18v2.78M1988.5 1440v-2.78 M1988.5 858.18v2.78M2010.5 1440v-2.78 M2010.5 858.18v2.78M2030.5 1440v-5.56 M2030.5 858.18v5.56M300 1405.5h2.78 M2160 1405.5h-2.78M300 1384.5h2.78 M2160 1384.5h-2.78M300 1370.5h2.78 M2160 1370.5h-2.78M300 1359.5h2.78 M2160 1359.5h-2.78M300 1349.5h2.78 M2160 1349.5h-2.78M300 1342.5h2.78 M2160 1342.5h-2.78M300 1335.5h2.78 M2160 1335.5h-2.78M300 1329.5h2.78 M2160 1329.5h-2.78M300 1324.5h5.56 M2160 1324.5h-5.56M300 1289.5h2.78 M2160 1289.5h-2.78M300 1268.5h2.78 M2160 1268.5h-2.78M300 1254.5h2.78 M2160 1254.5h-2.78M300 1242.5h2.78 M2160 1242.5h-2.78M300 1233.5h2.78 M2160 1233.5h-2.78M300 1225.5h2.78 M2160 1225.5h-2.78M300 1219.5h2.78 M2160 1219.5h-2.78M300 1213.5h2.78 M2160 1213.5h-2.78M300 1207.5h5.56 M2160 1207.5h-5.56M300 1172.5h2.78 M2160 1172.5h-2.78M300 1152.5h2.78 M2160 1152.5h-2.78M300 1137.5h2.78 M2160 1137.5h-2.78M300 1126.5h2.78 M2160 1126.5h-2.78M300 1117.5h2.78 M2160 1117.5h-2.78M300 1109.5h2.78 M2160 1109.5h-2.78M300 1102.5h2.78 M2160 1102.5h-2.78M300 1096.5h2.78 M2160 1096.5h-2.78M300 1091.5h5.56 M2160 1091.5h-5.56M300 1056.5h2.78 M2160 1056.5h-2.78M300 1035.5h2.78 M2160 1035.5h-2.78M300 1021.5h2.78 M2160 1021.5h-2.78M300 1010.5h2.78 M2160 1010.5h-2.78M300 1000.5h2.78 M2160 1000.5h-2.78M300 993.5h2.78 M2160 993.5h-2.78M300 986.5h2.78 M2160 986.5h-2.78M300 980.5h2.78 M2160 980.5h-2.78M300 975.5h5.56 M2160 975.5h-5.56M300 940.5h2.78 M2160 940.5h-2.78M300 919.5h2.78 M2160 919.5h-2.78M300 904.5h2.78 M2160 904.5h-2.78M300 893.5h2.78 M2160 893.5h-2.78M300 884.5h2.78 M2160 884.5h-2.78M300 876.5h2.78 M2160 876.5h-2.78M300 869.5h2.78 M2160 869.5h-2.78M300 864.5h2.78 M2160 864.5h-2.78"/>
<rect x="300.5" y="858.5" width="1860" height="582" fill="none" stroke="#000" stroke-width="1.39"/>
<text class="tk" x="300.5" y="1463" text-anchor="middle">10<tspan class="sp" dy="-10">-2</tspan></text>
<text class="tk" x="732.95" y="1463" text-anchor="middle">10<tspan class="sp" dy="-10">-1</tspan></text>
<text class="tk" x="1165.41" y="1463" text-anchor="middle">10<tspan class="sp" dy="-10">0</tspan></text>
<text class="tk" x="1597.86" y="1463" text-anchor="middle">10<tspan class="sp" dy="-10">1</tspan></text>
<text class="tk" x="2030.32" y="1463" text-anchor="middle">10<tspan class="sp" dy="-10">2</tspan></text>
<text class="tk" x="294.6" y="1446.3" text-anchor="end">10<tspan class="sp" dx=".6" dy="-10">-12</tspan></text>
<text class="tk" x="294.6" y="1329.94" text-anchor="end">10<tspan class="sp" dx=".6" dy="-10">-11</tspan></text>
<text class="tk" x="294.6" y="1213.57" text-anchor="end">10<tspan class="sp" dx=".6" dy="-10">-10</tspan></text>
<text class="tk" x="294.6" y="1097.21" text-anchor="end">10<tspan class="sp" dx=".6" dy="-10">-9</tspan></text>
<text class="tk" x="294.6" y="980.84" text-anchor="end">10<tspan class="sp" dx=".6" dy="-10">-8</tspan></text>
<text class="tk" x="294.6" y="864.48" text-anchor="end">10<tspan class="sp" dx=".6" dy="-10">-7</tspan></text>
<text x="1231" y="1494" text-anchor="middle" font-size="25px">Freq (hz)</text>
<text transform="translate(241 1151.29) rotate(-90)" text-anchor="middle" font-size="25px">m/rthz</text>
<text x="1230" y="851.28" text-anchor="middle" font-size="28px">ITMY_ST2</text>
<rect x="1754.5" y="872.68" width="392.1" height="307.6" fill="#fff" stroke="#000" stroke-width="1.39"/>
<path d="M1771 895.08H1814.2" stroke="#0000ff" stroke-width="4.17" fill="none"/>
<text class="lg" x="1840.1" y="904.88">ITMY_ST2_CPSINF_H1</text>
<path d="M1771 938.08H1814.2" stroke="#008000" stroke-width="4.17" fill="none"/>
<text class="lg" x="1840.1" y="947.88">ITMY_ST2_CPSINF_H2</text>
<path d="M1771 981.08H1814.2" stroke="#ff0000" stroke-width="4.17" fill="none"/>
<text class="lg" x="1840.1" y="990.88">ITMY_ST2_CPSINF_H3</text>
<path d="M1771 1024.08H1814.2" stroke="#00bfbf" stroke-width="4.17" fill="none"/>
<text class="lg" x="1840.1" y="1033.88">ITMY_ST2_CPSINF_V1</text>
<path d="M1771 1067.08H1814.2" stroke="#bf00bf" stroke-width="4.17" fill="none"/>
<text class="lg" x="1840.1" y="1076.88">ITMY_ST2_CPSINF_V2</text>
<path d="M1771 1110.08H1814.2" stroke="#bfbf00" stroke-width="4.17" fill="none"/>
<text class="lg" x="1840.1" y="1119.88">ITMY_ST2_CPSINF_V3</text>
<path d="M1771 1153.08H1814.2" stroke="#000000" stroke-width="4.17" fill="none"/>
<text class="lg" x="1842.9" y="1162.88">ADE .25mm noise</text>
</svg>
</body></html>
